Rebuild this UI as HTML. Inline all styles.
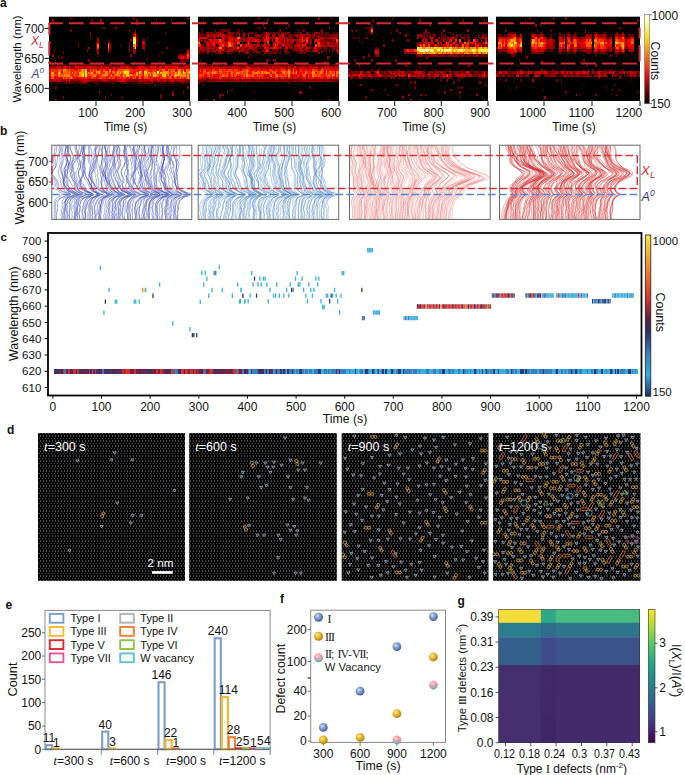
<!DOCTYPE html>
<html><head><meta charset="utf-8"><style>
html,body{margin:0;padding:0;background:#fff;width:685px;height:775px;overflow:hidden}
svg{display:block;font-family:"Liberation Sans", sans-serif}
</style></head><body>
<svg width="685" height="775" viewBox="0 0 685 775">
<defs><filter id="hb" x="-2%" y="-2%" width="104%" height="104%"><feGaussianBlur stdDeviation="0.35"/></filter></defs>
<text x="0" y="6.5" font-size="12" text-anchor="start" fill="#111" font-weight="bold" font-style="normal" >a</text>
<rect x="49" y="16.7" width="141" height="84.3" fill="#000"/>
<clipPath id="ch0"><rect x="49" y="16.7" width="141" height="84.3"/></clipPath>
<g clip-path="url(#ch0)" filter="url(#hb)">
<path fill="#740000" shape-rendering="crispEdges" d="M49 41.5h1.9v2.8h-1.9zM50.5 81.2h1.9v2.8h-1.9zM52 63.8h1.9v2.8h-1.9zM53.5 48.9h1.9v2.8h-1.9zM55 86.1h1.9v2.8h-1.9zM55 98.5h1.9v2.8h-1.9zM56.5 81.2h1.9v2.8h-1.9zM61 56.4h1.9v2.8h-1.9zM62.5 51.4h1.9v2.8h-1.9zM62.5 63.8h1.9v2.8h-1.9zM64 63.8h1.9v2.8h-1.9zM65.5 81.2h1.9v2.8h-1.9zM70 29.1h1.9v2.8h-1.9zM71.5 63.8h1.9v2.8h-1.9zM73 63.8h1.9v2.8h-1.9zM74.5 63.8h1.9v2.8h-1.9zM76 63.8h1.9v2.8h-1.9zM79 63.8h1.9v2.8h-1.9zM80.5 63.8h1.9v2.8h-1.9zM80.5 81.2h1.9v2.8h-1.9zM82 81.2h1.9v2.8h-1.9zM83.5 81.2h1.9v2.8h-1.9zM85 81.2h1.9v2.8h-1.9zM88 63.8h1.9v2.8h-1.9zM91 19.2h1.9v2.8h-1.9zM91 63.8h1.9v2.8h-1.9zM94 63.8h1.9v2.8h-1.9zM95.5 63.8h1.9v2.8h-1.9zM97 36.5h1.9v2.8h-1.9zM98.5 63.8h1.9v2.8h-1.9zM103 63.8h1.9v2.8h-1.9zM104.5 41.5h1.9v2.8h-1.9zM104.5 63.8h1.9v2.8h-1.9zM107.5 39h1.9v2.8h-1.9zM107.5 51.4h1.9v2.8h-1.9zM107.5 78.7h1.9v2.8h-1.9zM109 41.5h1.9v2.8h-1.9zM110.5 63.8h1.9v2.8h-1.9zM116.5 63.8h1.9v2.8h-1.9zM119.5 63.8h1.9v2.8h-1.9zM119.5 81.2h1.9v2.8h-1.9zM122.5 81.2h1.9v2.8h-1.9zM124 63.8h1.9v2.8h-1.9zM124 81.2h1.9v2.8h-1.9zM125.5 63.8h1.9v2.8h-1.9zM127 63.8h1.9v2.8h-1.9zM131.5 78.7h1.9v2.8h-1.9zM133 16.7h1.9v2.8h-1.9zM133 31.6h1.9v2.8h-1.9zM133 51.4h1.9v2.8h-1.9zM133 81.2h1.9v2.8h-1.9zM134.5 29.1h1.9v2.8h-1.9zM134.5 51.4h1.9v2.8h-1.9zM134.5 78.7h1.9v2.8h-1.9zM136 21.7h1.9v2.8h-1.9zM136 36.5h1.9v2.8h-1.9zM136 41.5h1.9v2.8h-1.9zM137.5 83.6h1.9v2.8h-1.9zM139 63.8h1.9v2.8h-1.9zM139 81.2h1.9v2.8h-1.9zM140.5 81.2h1.9v2.8h-1.9zM143.5 39h1.9v2.8h-1.9zM143.5 48.9h1.9v2.8h-1.9zM143.5 63.8h1.9v2.8h-1.9zM143.5 81.2h1.9v2.8h-1.9zM145 81.2h1.9v2.8h-1.9zM146.5 36.5h1.9v2.8h-1.9zM146.5 58.8h1.9v2.8h-1.9zM146.5 81.2h1.9v2.8h-1.9zM149.5 81.2h1.9v2.8h-1.9zM151 63.8h1.9v2.8h-1.9zM151 81.2h1.9v2.8h-1.9zM154 63.8h1.9v2.8h-1.9zM154 83.6h1.9v2.8h-1.9zM155.5 19.2h1.9v2.8h-1.9zM158.5 63.8h1.9v2.8h-1.9zM160 63.8h1.9v2.8h-1.9zM160 81.2h1.9v2.8h-1.9zM160 93.6h1.9v2.8h-1.9zM160 96h1.9v2.8h-1.9zM161.5 51.4h1.9v2.8h-1.9zM163 63.8h1.9v2.8h-1.9zM166 63.8h1.9v2.8h-1.9zM170.5 19.2h1.9v2.8h-1.9zM170.5 63.8h1.9v2.8h-1.9zM170.5 81.2h1.9v2.8h-1.9zM172 63.8h1.9v2.8h-1.9zM172 81.2h1.9v2.8h-1.9zM175 63.8h1.9v2.8h-1.9zM176.5 63.8h1.9v2.8h-1.9zM176.5 81.2h1.9v2.8h-1.9zM178 53.9h1.9v2.8h-1.9zM178 63.8h1.9v2.8h-1.9zM181 58.8h1.9v2.8h-1.9zM181 81.2h1.9v2.8h-1.9zM182.5 81.2h1.9v2.8h-1.9zM184 53.9h1.9v2.8h-1.9zM184 63.8h1.9v2.8h-1.9zM185.5 58.8h1.9v2.8h-1.9zM185.5 63.8h1.9v2.8h-1.9zM187 16.7h1.9v2.8h-1.9zM187 58.8h1.9v2.8h-1.9zM188.5 48.9h1.9v2.8h-1.9zM188.5 81.2h1.9v2.8h-1.9z"/>
<path fill="#910000" shape-rendering="crispEdges" d="M49 66.3h1.9v2.8h-1.9zM52 53.9h1.9v2.8h-1.9zM56.5 63.8h1.9v2.8h-1.9zM56.5 78.7h1.9v2.8h-1.9zM59.5 78.7h1.9v2.8h-1.9zM61 66.3h1.9v2.8h-1.9zM62.5 78.7h1.9v2.8h-1.9zM62.5 96h1.9v2.8h-1.9zM67 66.3h1.9v2.8h-1.9zM68.5 63.8h1.9v2.8h-1.9zM70 78.7h1.9v2.8h-1.9zM71.5 78.7h1.9v2.8h-1.9zM73 66.3h1.9v2.8h-1.9zM73 78.7h1.9v2.8h-1.9zM74.5 78.7h1.9v2.8h-1.9zM76 78.7h1.9v2.8h-1.9zM77.5 44h1.9v2.8h-1.9zM77.5 78.7h1.9v2.8h-1.9zM82 63.8h1.9v2.8h-1.9zM83.5 66.3h1.9v2.8h-1.9zM85 63.8h1.9v2.8h-1.9zM86.5 48.9h1.9v2.8h-1.9zM88 58.8h1.9v2.8h-1.9zM89.5 31.6h1.9v2.8h-1.9zM89.5 34.1h1.9v2.8h-1.9zM89.5 78.7h1.9v2.8h-1.9zM91 78.7h1.9v2.8h-1.9zM92.5 66.3h1.9v2.8h-1.9zM94 78.7h1.9v2.8h-1.9zM95.5 41.5h1.9v2.8h-1.9zM95.5 44h1.9v2.8h-1.9zM95.5 46.5h1.9v2.8h-1.9zM95.5 78.7h1.9v2.8h-1.9zM97 51.4h1.9v2.8h-1.9zM97 78.7h1.9v2.8h-1.9zM98.5 78.7h1.9v2.8h-1.9zM100 63.8h1.9v2.8h-1.9zM100 78.7h1.9v2.8h-1.9zM101.5 78.7h1.9v2.8h-1.9zM103 26.6h1.9v2.8h-1.9zM104.5 96h1.9v2.8h-1.9zM109 44h1.9v2.8h-1.9zM109 63.8h1.9v2.8h-1.9zM110.5 78.7h1.9v2.8h-1.9zM110.5 93.6h1.9v2.8h-1.9zM113.5 78.7h1.9v2.8h-1.9zM115 78.7h1.9v2.8h-1.9zM119.5 78.7h1.9v2.8h-1.9zM125.5 78.7h1.9v2.8h-1.9zM128.5 29.1h1.9v2.8h-1.9zM128.5 46.5h1.9v2.8h-1.9zM128.5 78.7h1.9v2.8h-1.9zM130 39h1.9v2.8h-1.9zM130 53.9h1.9v2.8h-1.9zM130 78.7h1.9v2.8h-1.9zM131.5 66.3h1.9v2.8h-1.9zM133 66.3h1.9v2.8h-1.9zM133 78.7h1.9v2.8h-1.9zM136 19.2h1.9v2.8h-1.9zM136 39h1.9v2.8h-1.9zM136 44h1.9v2.8h-1.9zM136 78.7h1.9v2.8h-1.9zM142 39h1.9v2.8h-1.9zM142 78.7h1.9v2.8h-1.9zM143.5 44h1.9v2.8h-1.9zM145 78.7h1.9v2.8h-1.9zM149.5 63.8h1.9v2.8h-1.9zM152.5 63.8h1.9v2.8h-1.9zM152.5 78.7h1.9v2.8h-1.9zM154 78.7h1.9v2.8h-1.9zM155.5 78.7h1.9v2.8h-1.9zM160 78.7h1.9v2.8h-1.9zM164.5 31.6h1.9v2.8h-1.9zM164.5 63.8h1.9v2.8h-1.9zM166 46.5h1.9v2.8h-1.9zM166 78.7h1.9v2.8h-1.9zM167.5 63.8h1.9v2.8h-1.9zM169 63.8h1.9v2.8h-1.9zM172 91.1h1.9v2.8h-1.9zM173.5 63.8h1.9v2.8h-1.9zM173.5 78.7h1.9v2.8h-1.9zM181 53.9h1.9v2.8h-1.9zM182.5 53.9h1.9v2.8h-1.9zM182.5 58.8h1.9v2.8h-1.9zM182.5 63.8h1.9v2.8h-1.9zM182.5 91.1h1.9v2.8h-1.9zM184 78.7h1.9v2.8h-1.9zM185.5 78.7h1.9v2.8h-1.9zM187 48.9h1.9v2.8h-1.9zM187 63.8h1.9v2.8h-1.9zM187 78.7h1.9v2.8h-1.9zM187 86.1h1.9v2.8h-1.9zM188.5 51.4h1.9v2.8h-1.9zM188.5 56.4h1.9v2.8h-1.9zM188.5 63.8h1.9v2.8h-1.9z"/>
<path fill="#ff0600" shape-rendering="crispEdges" d="M49 68.8h1.9v2.8h-1.9zM49 71.2h1.9v2.8h-1.9zM49 73.7h1.9v2.8h-1.9zM50.5 66.3h1.9v2.8h-1.9zM53.5 71.2h1.9v2.8h-1.9zM56.5 71.2h1.9v2.8h-1.9zM58 76.2h1.9v2.8h-1.9zM59.5 66.3h1.9v2.8h-1.9zM59.5 76.2h1.9v2.8h-1.9zM64 66.3h1.9v2.8h-1.9zM68.5 66.3h1.9v2.8h-1.9zM71.5 73.7h1.9v2.8h-1.9zM74.5 68.8h1.9v2.8h-1.9zM76 68.8h1.9v2.8h-1.9zM77.5 73.7h1.9v2.8h-1.9zM79 76.2h1.9v2.8h-1.9zM80.5 76.2h1.9v2.8h-1.9zM82 76.2h1.9v2.8h-1.9zM83.5 76.2h1.9v2.8h-1.9zM88 76.2h1.9v2.8h-1.9zM94 71.2h1.9v2.8h-1.9zM97 73.7h1.9v2.8h-1.9zM97 76.2h1.9v2.8h-1.9zM101.5 76.2h1.9v2.8h-1.9zM104.5 68.8h1.9v2.8h-1.9zM106 66.3h1.9v2.8h-1.9zM106 68.8h1.9v2.8h-1.9zM107.5 41.5h1.9v2.8h-1.9zM107.5 73.7h1.9v2.8h-1.9zM110.5 71.2h1.9v2.8h-1.9zM110.5 76.2h1.9v2.8h-1.9zM112 68.8h1.9v2.8h-1.9zM112 73.7h1.9v2.8h-1.9zM116.5 68.8h1.9v2.8h-1.9zM118 76.2h1.9v2.8h-1.9zM121 76.2h1.9v2.8h-1.9zM125.5 66.3h1.9v2.8h-1.9zM127 76.2h1.9v2.8h-1.9zM130 71.2h1.9v2.8h-1.9zM133 46.5h1.9v2.8h-1.9zM133 68.8h1.9v2.8h-1.9zM133 71.2h1.9v2.8h-1.9zM139 66.3h1.9v2.8h-1.9zM142 41.5h1.9v2.8h-1.9zM142 71.2h1.9v2.8h-1.9zM142 73.7h1.9v2.8h-1.9zM142 76.2h1.9v2.8h-1.9zM143.5 66.3h1.9v2.8h-1.9zM151 66.3h1.9v2.8h-1.9zM154 66.3h1.9v2.8h-1.9zM154 76.2h1.9v2.8h-1.9zM155.5 76.2h1.9v2.8h-1.9zM157 68.8h1.9v2.8h-1.9zM157 76.2h1.9v2.8h-1.9zM161.5 76.2h1.9v2.8h-1.9zM164.5 66.3h1.9v2.8h-1.9zM164.5 68.8h1.9v2.8h-1.9zM166 66.3h1.9v2.8h-1.9zM166 68.8h1.9v2.8h-1.9zM169 73.7h1.9v2.8h-1.9zM172 66.3h1.9v2.8h-1.9zM175 66.3h1.9v2.8h-1.9zM176.5 66.3h1.9v2.8h-1.9zM179.5 66.3h1.9v2.8h-1.9zM182.5 56.4h1.9v2.8h-1.9zM184 76.2h1.9v2.8h-1.9zM187 51.4h1.9v2.8h-1.9z"/>
<path fill="#cb0000" shape-rendering="crispEdges" d="M49 76.2h1.9v2.8h-1.9zM52 78.7h1.9v2.8h-1.9zM53.5 76.2h1.9v2.8h-1.9zM55 66.3h1.9v2.8h-1.9zM55 78.7h1.9v2.8h-1.9zM56.5 66.3h1.9v2.8h-1.9zM58 78.7h1.9v2.8h-1.9zM61 76.2h1.9v2.8h-1.9zM76 76.2h1.9v2.8h-1.9zM77.5 66.3h1.9v2.8h-1.9zM80.5 78.7h1.9v2.8h-1.9zM82 66.3h1.9v2.8h-1.9zM85 66.3h1.9v2.8h-1.9zM92.5 78.7h1.9v2.8h-1.9zM97 66.3h1.9v2.8h-1.9zM97 68.8h1.9v2.8h-1.9zM100 66.3h1.9v2.8h-1.9zM103 78.7h1.9v2.8h-1.9zM104.5 66.3h1.9v2.8h-1.9zM106 78.7h1.9v2.8h-1.9zM116.5 78.7h1.9v2.8h-1.9zM118 66.3h1.9v2.8h-1.9zM118 78.7h1.9v2.8h-1.9zM124 78.7h1.9v2.8h-1.9zM127 78.7h1.9v2.8h-1.9zM128.5 66.3h1.9v2.8h-1.9zM130 66.3h1.9v2.8h-1.9zM133 34.1h1.9v2.8h-1.9zM134.5 31.6h1.9v2.8h-1.9zM134.5 48.9h1.9v2.8h-1.9zM140.5 78.7h1.9v2.8h-1.9zM143.5 78.7h1.9v2.8h-1.9zM145 66.3h1.9v2.8h-1.9zM149.5 78.7h1.9v2.8h-1.9zM157 66.3h1.9v2.8h-1.9zM163 78.7h1.9v2.8h-1.9zM167.5 66.3h1.9v2.8h-1.9zM172 78.7h1.9v2.8h-1.9zM173.5 66.3h1.9v2.8h-1.9zM178 66.3h1.9v2.8h-1.9zM179.5 56.4h1.9v2.8h-1.9zM181 66.3h1.9v2.8h-1.9zM184 66.3h1.9v2.8h-1.9z"/>
<path fill="#ae0000" shape-rendering="crispEdges" d="M49 78.7h1.9v2.8h-1.9zM50.5 78.7h1.9v2.8h-1.9zM52 19.2h1.9v2.8h-1.9zM52 66.3h1.9v2.8h-1.9zM53.5 66.3h1.9v2.8h-1.9zM53.5 78.7h1.9v2.8h-1.9zM61 78.7h1.9v2.8h-1.9zM64 78.7h1.9v2.8h-1.9zM65.5 78.7h1.9v2.8h-1.9zM67 78.7h1.9v2.8h-1.9zM70 66.3h1.9v2.8h-1.9zM71.5 66.3h1.9v2.8h-1.9zM79 66.3h1.9v2.8h-1.9zM79 78.7h1.9v2.8h-1.9zM82 78.7h1.9v2.8h-1.9zM83.5 78.7h1.9v2.8h-1.9zM86.5 78.7h1.9v2.8h-1.9zM88 46.5h1.9v2.8h-1.9zM88 78.7h1.9v2.8h-1.9zM89.5 66.3h1.9v2.8h-1.9zM95.5 66.3h1.9v2.8h-1.9zM97 39h1.9v2.8h-1.9zM97 48.9h1.9v2.8h-1.9zM98.5 66.3h1.9v2.8h-1.9zM98.5 91.1h1.9v2.8h-1.9zM100 19.2h1.9v2.8h-1.9zM103 66.3h1.9v2.8h-1.9zM104.5 78.7h1.9v2.8h-1.9zM107.5 66.3h1.9v2.8h-1.9zM109 46.5h1.9v2.8h-1.9zM109 66.3h1.9v2.8h-1.9zM109 78.7h1.9v2.8h-1.9zM110.5 66.3h1.9v2.8h-1.9zM112 66.3h1.9v2.8h-1.9zM112 78.7h1.9v2.8h-1.9zM115 26.6h1.9v2.8h-1.9zM115 66.3h1.9v2.8h-1.9zM116.5 66.3h1.9v2.8h-1.9zM124 66.3h1.9v2.8h-1.9zM128.5 44h1.9v2.8h-1.9zM128.5 48.9h1.9v2.8h-1.9zM133 48.9h1.9v2.8h-1.9zM134.5 66.3h1.9v2.8h-1.9zM136 66.3h1.9v2.8h-1.9zM137.5 78.7h1.9v2.8h-1.9zM139 78.7h1.9v2.8h-1.9zM142 44h1.9v2.8h-1.9zM142 46.5h1.9v2.8h-1.9zM143.5 46.5h1.9v2.8h-1.9zM146.5 78.7h1.9v2.8h-1.9zM148 66.3h1.9v2.8h-1.9zM148 78.7h1.9v2.8h-1.9zM152.5 66.3h1.9v2.8h-1.9zM155.5 66.3h1.9v2.8h-1.9zM158.5 78.7h1.9v2.8h-1.9zM161.5 66.3h1.9v2.8h-1.9zM161.5 78.7h1.9v2.8h-1.9zM163 66.3h1.9v2.8h-1.9zM167.5 78.7h1.9v2.8h-1.9zM169 78.7h1.9v2.8h-1.9zM170.5 66.3h1.9v2.8h-1.9zM172 93.6h1.9v2.8h-1.9zM175 78.7h1.9v2.8h-1.9zM176.5 78.7h1.9v2.8h-1.9zM178 56.4h1.9v2.8h-1.9zM178 78.7h1.9v2.8h-1.9zM179.5 53.9h1.9v2.8h-1.9zM179.5 78.7h1.9v2.8h-1.9zM181 78.7h1.9v2.8h-1.9zM182.5 66.3h1.9v2.8h-1.9zM182.5 78.7h1.9v2.8h-1.9zM184 56.4h1.9v2.8h-1.9zM185.5 53.9h1.9v2.8h-1.9zM185.5 56.4h1.9v2.8h-1.9zM185.5 66.3h1.9v2.8h-1.9zM188.5 78.7h1.9v2.8h-1.9z"/>
<path fill="#570000" shape-rendering="crispEdges" d="M50.5 63.8h1.9v2.8h-1.9zM52 81.2h1.9v2.8h-1.9zM53.5 63.8h1.9v2.8h-1.9zM58 56.4h1.9v2.8h-1.9zM58 63.8h1.9v2.8h-1.9zM59.5 63.8h1.9v2.8h-1.9zM59.5 81.2h1.9v2.8h-1.9zM61 63.8h1.9v2.8h-1.9zM64 81.2h1.9v2.8h-1.9zM65.5 63.8h1.9v2.8h-1.9zM67 81.2h1.9v2.8h-1.9zM68.5 81.2h1.9v2.8h-1.9zM70 16.7h1.9v2.8h-1.9zM70 63.8h1.9v2.8h-1.9zM70 81.2h1.9v2.8h-1.9zM73 81.2h1.9v2.8h-1.9zM77.5 81.2h1.9v2.8h-1.9zM79 81.2h1.9v2.8h-1.9zM82 21.7h1.9v2.8h-1.9zM83.5 63.8h1.9v2.8h-1.9zM86.5 63.8h1.9v2.8h-1.9zM86.5 81.2h1.9v2.8h-1.9zM89.5 36.5h1.9v2.8h-1.9zM89.5 63.8h1.9v2.8h-1.9zM92.5 63.8h1.9v2.8h-1.9zM94 81.2h1.9v2.8h-1.9zM95.5 48.9h1.9v2.8h-1.9zM95.5 81.2h1.9v2.8h-1.9zM97 53.9h1.9v2.8h-1.9zM97 63.8h1.9v2.8h-1.9zM97 81.2h1.9v2.8h-1.9zM106 63.8h1.9v2.8h-1.9zM106 81.2h1.9v2.8h-1.9zM109 48.9h1.9v2.8h-1.9zM109 81.2h1.9v2.8h-1.9zM112 81.2h1.9v2.8h-1.9zM113.5 63.8h1.9v2.8h-1.9zM113.5 81.2h1.9v2.8h-1.9zM115 63.8h1.9v2.8h-1.9zM118 63.8h1.9v2.8h-1.9zM119.5 44h1.9v2.8h-1.9zM121 63.8h1.9v2.8h-1.9zM121 96h1.9v2.8h-1.9zM122.5 63.8h1.9v2.8h-1.9zM127 81.2h1.9v2.8h-1.9zM128.5 41.5h1.9v2.8h-1.9zM128.5 63.8h1.9v2.8h-1.9zM133 63.8h1.9v2.8h-1.9zM136 34.1h1.9v2.8h-1.9zM136 63.8h1.9v2.8h-1.9zM140.5 63.8h1.9v2.8h-1.9zM142 63.8h1.9v2.8h-1.9zM142 81.2h1.9v2.8h-1.9zM145 63.8h1.9v2.8h-1.9zM146.5 63.8h1.9v2.8h-1.9zM148 63.8h1.9v2.8h-1.9zM148 81.2h1.9v2.8h-1.9zM152.5 81.2h1.9v2.8h-1.9zM155.5 24.1h1.9v2.8h-1.9zM155.5 63.8h1.9v2.8h-1.9zM155.5 81.2h1.9v2.8h-1.9zM157 63.8h1.9v2.8h-1.9zM158.5 41.5h1.9v2.8h-1.9zM158.5 53.9h1.9v2.8h-1.9zM161.5 63.8h1.9v2.8h-1.9zM161.5 83.6h1.9v2.8h-1.9zM163 81.2h1.9v2.8h-1.9zM164.5 81.2h1.9v2.8h-1.9zM167.5 81.2h1.9v2.8h-1.9zM173.5 81.2h1.9v2.8h-1.9zM179.5 58.8h1.9v2.8h-1.9zM179.5 63.8h1.9v2.8h-1.9zM181 63.8h1.9v2.8h-1.9zM184 58.8h1.9v2.8h-1.9zM184 81.2h1.9v2.8h-1.9zM185.5 81.2h1.9v2.8h-1.9zM187 81.2h1.9v2.8h-1.9z"/>
<path fill="#ff4100" shape-rendering="crispEdges" d="M50.5 68.8h1.9v2.8h-1.9zM50.5 76.2h1.9v2.8h-1.9zM53.5 68.8h1.9v2.8h-1.9zM53.5 73.7h1.9v2.8h-1.9zM55 73.7h1.9v2.8h-1.9zM59.5 68.8h1.9v2.8h-1.9zM62.5 73.7h1.9v2.8h-1.9zM65.5 68.8h1.9v2.8h-1.9zM67 68.8h1.9v2.8h-1.9zM67 71.2h1.9v2.8h-1.9zM70 68.8h1.9v2.8h-1.9zM71.5 76.2h1.9v2.8h-1.9zM73 73.7h1.9v2.8h-1.9zM74.5 73.7h1.9v2.8h-1.9zM76 73.7h1.9v2.8h-1.9zM85 76.2h1.9v2.8h-1.9zM89.5 71.2h1.9v2.8h-1.9zM91 73.7h1.9v2.8h-1.9zM91 76.2h1.9v2.8h-1.9zM92.5 71.2h1.9v2.8h-1.9zM95.5 68.8h1.9v2.8h-1.9zM97 46.5h1.9v2.8h-1.9zM98.5 73.7h1.9v2.8h-1.9zM104.5 76.2h1.9v2.8h-1.9zM107.5 71.2h1.9v2.8h-1.9zM109 71.2h1.9v2.8h-1.9zM109 76.2h1.9v2.8h-1.9zM112 76.2h1.9v2.8h-1.9zM119.5 73.7h1.9v2.8h-1.9zM119.5 76.2h1.9v2.8h-1.9zM121 71.2h1.9v2.8h-1.9zM122.5 68.8h1.9v2.8h-1.9zM122.5 76.2h1.9v2.8h-1.9zM124 76.2h1.9v2.8h-1.9zM128.5 68.8h1.9v2.8h-1.9zM128.5 71.2h1.9v2.8h-1.9zM128.5 76.2h1.9v2.8h-1.9zM131.5 68.8h1.9v2.8h-1.9zM133 76.2h1.9v2.8h-1.9zM134.5 34.1h1.9v2.8h-1.9zM134.5 76.2h1.9v2.8h-1.9zM137.5 73.7h1.9v2.8h-1.9zM139 73.7h1.9v2.8h-1.9zM145 76.2h1.9v2.8h-1.9zM148 73.7h1.9v2.8h-1.9zM149.5 71.2h1.9v2.8h-1.9zM151 71.2h1.9v2.8h-1.9zM152.5 68.8h1.9v2.8h-1.9zM155.5 68.8h1.9v2.8h-1.9zM158.5 73.7h1.9v2.8h-1.9zM160 76.2h1.9v2.8h-1.9zM163 76.2h1.9v2.8h-1.9zM166 73.7h1.9v2.8h-1.9zM169 71.2h1.9v2.8h-1.9zM172 71.2h1.9v2.8h-1.9zM172 73.7h1.9v2.8h-1.9zM173.5 71.2h1.9v2.8h-1.9zM173.5 76.2h1.9v2.8h-1.9zM175 76.2h1.9v2.8h-1.9zM181 71.2h1.9v2.8h-1.9zM185.5 76.2h1.9v2.8h-1.9zM187 53.9h1.9v2.8h-1.9zM188.5 68.8h1.9v2.8h-1.9zM188.5 76.2h1.9v2.8h-1.9z"/>
<path fill="#ffb500" shape-rendering="crispEdges" d="M50.5 71.2h1.9v2.8h-1.9zM52 71.2h1.9v2.8h-1.9zM58 71.2h1.9v2.8h-1.9zM62.5 68.8h1.9v2.8h-1.9zM80.5 68.8h1.9v2.8h-1.9zM80.5 73.7h1.9v2.8h-1.9zM82 71.2h1.9v2.8h-1.9zM85 68.8h1.9v2.8h-1.9zM91 71.2h1.9v2.8h-1.9zM104.5 71.2h1.9v2.8h-1.9zM119.5 71.2h1.9v2.8h-1.9zM122.5 71.2h1.9v2.8h-1.9zM122.5 73.7h1.9v2.8h-1.9zM127 73.7h1.9v2.8h-1.9zM143.5 73.7h1.9v2.8h-1.9zM146.5 73.7h1.9v2.8h-1.9zM152.5 71.2h1.9v2.8h-1.9zM154 73.7h1.9v2.8h-1.9zM160 71.2h1.9v2.8h-1.9zM161.5 73.7h1.9v2.8h-1.9zM163 71.2h1.9v2.8h-1.9zM163 73.7h1.9v2.8h-1.9zM164.5 71.2h1.9v2.8h-1.9zM167.5 73.7h1.9v2.8h-1.9zM173.5 73.7h1.9v2.8h-1.9zM175 73.7h1.9v2.8h-1.9zM178 73.7h1.9v2.8h-1.9zM188.5 71.2h1.9v2.8h-1.9z"/>
<path fill="#ff9800" shape-rendering="crispEdges" d="M50.5 73.7h1.9v2.8h-1.9zM58 73.7h1.9v2.8h-1.9zM59.5 71.2h1.9v2.8h-1.9zM64 68.8h1.9v2.8h-1.9zM68.5 73.7h1.9v2.8h-1.9zM71.5 71.2h1.9v2.8h-1.9zM74.5 71.2h1.9v2.8h-1.9zM79 71.2h1.9v2.8h-1.9zM79 73.7h1.9v2.8h-1.9zM80.5 71.2h1.9v2.8h-1.9zM82 68.8h1.9v2.8h-1.9zM95.5 71.2h1.9v2.8h-1.9zM103 73.7h1.9v2.8h-1.9zM106 73.7h1.9v2.8h-1.9zM107.5 44h1.9v2.8h-1.9zM110.5 73.7h1.9v2.8h-1.9zM116.5 73.7h1.9v2.8h-1.9zM125.5 68.8h1.9v2.8h-1.9zM130 73.7h1.9v2.8h-1.9zM136 71.2h1.9v2.8h-1.9zM136 73.7h1.9v2.8h-1.9zM140.5 73.7h1.9v2.8h-1.9zM148 71.2h1.9v2.8h-1.9zM149.5 73.7h1.9v2.8h-1.9zM154 71.2h1.9v2.8h-1.9zM161.5 71.2h1.9v2.8h-1.9zM166 71.2h1.9v2.8h-1.9zM167.5 68.8h1.9v2.8h-1.9zM170.5 73.7h1.9v2.8h-1.9zM175 71.2h1.9v2.8h-1.9zM176.5 73.7h1.9v2.8h-1.9zM179.5 68.8h1.9v2.8h-1.9zM179.5 73.7h1.9v2.8h-1.9zM184 71.2h1.9v2.8h-1.9zM184 73.7h1.9v2.8h-1.9zM187 71.2h1.9v2.8h-1.9zM187 73.7h1.9v2.8h-1.9zM187 76.2h1.9v2.8h-1.9z"/>
<path fill="#ff2400" shape-rendering="crispEdges" d="M52 68.8h1.9v2.8h-1.9zM55 68.8h1.9v2.8h-1.9zM55 71.2h1.9v2.8h-1.9zM56.5 68.8h1.9v2.8h-1.9zM56.5 73.7h1.9v2.8h-1.9zM61 68.8h1.9v2.8h-1.9zM64 76.2h1.9v2.8h-1.9zM67 76.2h1.9v2.8h-1.9zM70 71.2h1.9v2.8h-1.9zM70 73.7h1.9v2.8h-1.9zM71.5 68.8h1.9v2.8h-1.9zM73 68.8h1.9v2.8h-1.9zM73 71.2h1.9v2.8h-1.9zM74.5 76.2h1.9v2.8h-1.9zM76 71.2h1.9v2.8h-1.9zM77.5 71.2h1.9v2.8h-1.9zM77.5 76.2h1.9v2.8h-1.9zM79 68.8h1.9v2.8h-1.9zM83.5 73.7h1.9v2.8h-1.9zM86.5 71.2h1.9v2.8h-1.9zM88 73.7h1.9v2.8h-1.9zM91 68.8h1.9v2.8h-1.9zM92.5 76.2h1.9v2.8h-1.9zM94 68.8h1.9v2.8h-1.9zM94 76.2h1.9v2.8h-1.9zM98.5 76.2h1.9v2.8h-1.9zM100 68.8h1.9v2.8h-1.9zM100 71.2h1.9v2.8h-1.9zM100 73.7h1.9v2.8h-1.9zM101.5 71.2h1.9v2.8h-1.9zM103 71.2h1.9v2.8h-1.9zM103 76.2h1.9v2.8h-1.9zM107.5 76.2h1.9v2.8h-1.9zM109 73.7h1.9v2.8h-1.9zM113.5 68.8h1.9v2.8h-1.9zM113.5 76.2h1.9v2.8h-1.9zM115 71.2h1.9v2.8h-1.9zM116.5 76.2h1.9v2.8h-1.9zM121 73.7h1.9v2.8h-1.9zM130 68.8h1.9v2.8h-1.9zM131.5 71.2h1.9v2.8h-1.9zM131.5 76.2h1.9v2.8h-1.9zM133 73.7h1.9v2.8h-1.9zM134.5 68.8h1.9v2.8h-1.9zM134.5 71.2h1.9v2.8h-1.9zM136 68.8h1.9v2.8h-1.9zM137.5 71.2h1.9v2.8h-1.9zM137.5 76.2h1.9v2.8h-1.9zM139 68.8h1.9v2.8h-1.9zM143.5 68.8h1.9v2.8h-1.9zM148 68.8h1.9v2.8h-1.9zM148 76.2h1.9v2.8h-1.9zM151 68.8h1.9v2.8h-1.9zM151 73.7h1.9v2.8h-1.9zM151 76.2h1.9v2.8h-1.9zM154 68.8h1.9v2.8h-1.9zM155.5 71.2h1.9v2.8h-1.9zM158.5 71.2h1.9v2.8h-1.9zM160 68.8h1.9v2.8h-1.9zM160 73.7h1.9v2.8h-1.9zM166 76.2h1.9v2.8h-1.9zM167.5 76.2h1.9v2.8h-1.9zM169 68.8h1.9v2.8h-1.9zM170.5 76.2h1.9v2.8h-1.9zM176.5 68.8h1.9v2.8h-1.9zM176.5 71.2h1.9v2.8h-1.9zM178 76.2h1.9v2.8h-1.9zM181 68.8h1.9v2.8h-1.9zM181 76.2h1.9v2.8h-1.9zM185.5 71.2h1.9v2.8h-1.9zM185.5 73.7h1.9v2.8h-1.9zM187 56.4h1.9v2.8h-1.9zM188.5 73.7h1.9v2.8h-1.9z"/>
<path fill="#ff7b00" shape-rendering="crispEdges" d="M52 73.7h1.9v2.8h-1.9zM62.5 71.2h1.9v2.8h-1.9zM62.5 76.2h1.9v2.8h-1.9zM64 73.7h1.9v2.8h-1.9zM65.5 71.2h1.9v2.8h-1.9zM65.5 73.7h1.9v2.8h-1.9zM65.5 76.2h1.9v2.8h-1.9zM67 73.7h1.9v2.8h-1.9zM68.5 71.2h1.9v2.8h-1.9zM70 76.2h1.9v2.8h-1.9zM89.5 68.8h1.9v2.8h-1.9zM89.5 73.7h1.9v2.8h-1.9zM92.5 73.7h1.9v2.8h-1.9zM94 73.7h1.9v2.8h-1.9zM97 44h1.9v2.8h-1.9zM97 71.2h1.9v2.8h-1.9zM104.5 73.7h1.9v2.8h-1.9zM106 71.2h1.9v2.8h-1.9zM109 68.8h1.9v2.8h-1.9zM115 73.7h1.9v2.8h-1.9zM127 68.8h1.9v2.8h-1.9zM128.5 73.7h1.9v2.8h-1.9zM133 44h1.9v2.8h-1.9zM145 73.7h1.9v2.8h-1.9zM155.5 73.7h1.9v2.8h-1.9zM161.5 68.8h1.9v2.8h-1.9zM163 68.8h1.9v2.8h-1.9zM167.5 71.2h1.9v2.8h-1.9zM173.5 68.8h1.9v2.8h-1.9zM178 68.8h1.9v2.8h-1.9zM179.5 71.2h1.9v2.8h-1.9zM179.5 76.2h1.9v2.8h-1.9zM181 73.7h1.9v2.8h-1.9zM182.5 73.7h1.9v2.8h-1.9zM185.5 68.8h1.9v2.8h-1.9z"/>
<path fill="#ff5e00" shape-rendering="crispEdges" d="M52 76.2h1.9v2.8h-1.9zM58 68.8h1.9v2.8h-1.9zM59.5 73.7h1.9v2.8h-1.9zM61 73.7h1.9v2.8h-1.9zM64 71.2h1.9v2.8h-1.9zM68.5 68.8h1.9v2.8h-1.9zM68.5 76.2h1.9v2.8h-1.9zM77.5 68.8h1.9v2.8h-1.9zM83.5 68.8h1.9v2.8h-1.9zM83.5 71.2h1.9v2.8h-1.9zM86.5 73.7h1.9v2.8h-1.9zM88 71.2h1.9v2.8h-1.9zM92.5 68.8h1.9v2.8h-1.9zM95.5 73.7h1.9v2.8h-1.9zM98.5 68.8h1.9v2.8h-1.9zM100 76.2h1.9v2.8h-1.9zM101.5 73.7h1.9v2.8h-1.9zM103 68.8h1.9v2.8h-1.9zM107.5 46.5h1.9v2.8h-1.9zM112 71.2h1.9v2.8h-1.9zM113.5 71.2h1.9v2.8h-1.9zM113.5 73.7h1.9v2.8h-1.9zM118 68.8h1.9v2.8h-1.9zM118 71.2h1.9v2.8h-1.9zM118 73.7h1.9v2.8h-1.9zM119.5 68.8h1.9v2.8h-1.9zM121 68.8h1.9v2.8h-1.9zM124 68.8h1.9v2.8h-1.9zM124 73.7h1.9v2.8h-1.9zM131.5 73.7h1.9v2.8h-1.9zM134.5 73.7h1.9v2.8h-1.9zM139 76.2h1.9v2.8h-1.9zM140.5 68.8h1.9v2.8h-1.9zM140.5 71.2h1.9v2.8h-1.9zM143.5 76.2h1.9v2.8h-1.9zM145 68.8h1.9v2.8h-1.9zM146.5 68.8h1.9v2.8h-1.9zM146.5 71.2h1.9v2.8h-1.9zM146.5 76.2h1.9v2.8h-1.9zM157 73.7h1.9v2.8h-1.9zM158.5 68.8h1.9v2.8h-1.9zM164.5 76.2h1.9v2.8h-1.9zM169 76.2h1.9v2.8h-1.9zM170.5 68.8h1.9v2.8h-1.9zM170.5 71.2h1.9v2.8h-1.9zM172 68.8h1.9v2.8h-1.9zM182.5 68.8h1.9v2.8h-1.9zM182.5 76.2h1.9v2.8h-1.9zM187 68.8h1.9v2.8h-1.9z"/>
<path fill="#e80000" shape-rendering="crispEdges" d="M55 76.2h1.9v2.8h-1.9zM56.5 76.2h1.9v2.8h-1.9zM58 66.3h1.9v2.8h-1.9zM61 71.2h1.9v2.8h-1.9zM62.5 66.3h1.9v2.8h-1.9zM65.5 66.3h1.9v2.8h-1.9zM68.5 78.7h1.9v2.8h-1.9zM73 76.2h1.9v2.8h-1.9zM74.5 66.3h1.9v2.8h-1.9zM76 66.3h1.9v2.8h-1.9zM80.5 66.3h1.9v2.8h-1.9zM85 78.7h1.9v2.8h-1.9zM86.5 66.3h1.9v2.8h-1.9zM86.5 68.8h1.9v2.8h-1.9zM86.5 76.2h1.9v2.8h-1.9zM88 66.3h1.9v2.8h-1.9zM88 68.8h1.9v2.8h-1.9zM89.5 76.2h1.9v2.8h-1.9zM91 66.3h1.9v2.8h-1.9zM94 66.3h1.9v2.8h-1.9zM95.5 76.2h1.9v2.8h-1.9zM97 41.5h1.9v2.8h-1.9zM101.5 66.3h1.9v2.8h-1.9zM101.5 68.8h1.9v2.8h-1.9zM106 76.2h1.9v2.8h-1.9zM107.5 48.9h1.9v2.8h-1.9zM107.5 68.8h1.9v2.8h-1.9zM110.5 68.8h1.9v2.8h-1.9zM113.5 66.3h1.9v2.8h-1.9zM115 68.8h1.9v2.8h-1.9zM115 76.2h1.9v2.8h-1.9zM119.5 66.3h1.9v2.8h-1.9zM121 66.3h1.9v2.8h-1.9zM121 78.7h1.9v2.8h-1.9zM122.5 66.3h1.9v2.8h-1.9zM122.5 78.7h1.9v2.8h-1.9zM125.5 76.2h1.9v2.8h-1.9zM127 66.3h1.9v2.8h-1.9zM130 76.2h1.9v2.8h-1.9zM136 76.2h1.9v2.8h-1.9zM137.5 66.3h1.9v2.8h-1.9zM137.5 68.8h1.9v2.8h-1.9zM140.5 66.3h1.9v2.8h-1.9zM140.5 76.2h1.9v2.8h-1.9zM142 66.3h1.9v2.8h-1.9zM142 68.8h1.9v2.8h-1.9zM143.5 41.5h1.9v2.8h-1.9zM146.5 66.3h1.9v2.8h-1.9zM149.5 66.3h1.9v2.8h-1.9zM149.5 68.8h1.9v2.8h-1.9zM149.5 76.2h1.9v2.8h-1.9zM151 78.7h1.9v2.8h-1.9zM152.5 76.2h1.9v2.8h-1.9zM157 78.7h1.9v2.8h-1.9zM158.5 66.3h1.9v2.8h-1.9zM158.5 76.2h1.9v2.8h-1.9zM160 66.3h1.9v2.8h-1.9zM164.5 78.7h1.9v2.8h-1.9zM169 66.3h1.9v2.8h-1.9zM170.5 78.7h1.9v2.8h-1.9zM172 76.2h1.9v2.8h-1.9zM175 68.8h1.9v2.8h-1.9zM176.5 76.2h1.9v2.8h-1.9zM181 56.4h1.9v2.8h-1.9zM184 68.8h1.9v2.8h-1.9zM187 66.3h1.9v2.8h-1.9zM188.5 53.9h1.9v2.8h-1.9zM188.5 66.3h1.9v2.8h-1.9z"/>
<path fill="#ffd200" shape-rendering="crispEdges" d="M82 73.7h1.9v2.8h-1.9zM98.5 71.2h1.9v2.8h-1.9zM125.5 71.2h1.9v2.8h-1.9zM125.5 73.7h1.9v2.8h-1.9zM133 36.5h1.9v2.8h-1.9zM134.5 36.5h1.9v2.8h-1.9zM134.5 44h1.9v2.8h-1.9zM139 71.2h1.9v2.8h-1.9zM143.5 71.2h1.9v2.8h-1.9zM145 71.2h1.9v2.8h-1.9zM152.5 73.7h1.9v2.8h-1.9zM178 71.2h1.9v2.8h-1.9z"/>
<path fill="#ffff12" shape-rendering="crispEdges" d="M85 71.2h1.9v2.8h-1.9zM116.5 71.2h1.9v2.8h-1.9zM133 41.5h1.9v2.8h-1.9zM157 71.2h1.9v2.8h-1.9z"/>
<path fill="#ffef00" shape-rendering="crispEdges" d="M85 73.7h1.9v2.8h-1.9zM124 71.2h1.9v2.8h-1.9zM127 71.2h1.9v2.8h-1.9zM133 39h1.9v2.8h-1.9zM164.5 73.7h1.9v2.8h-1.9zM182.5 71.2h1.9v2.8h-1.9z"/>
<path fill="#ffff88" shape-rendering="crispEdges" d="M134.5 39h1.9v2.8h-1.9z"/>
<path fill="#ffffff" shape-rendering="crispEdges" d="M134.5 41.5h1.9v2.8h-1.9z"/>
<path fill="#ffff3a" shape-rendering="crispEdges" d="M134.5 46.5h1.9v2.8h-1.9z"/>
</g>
<line x1="96" y1="101" x2="96" y2="106" stroke="#111" stroke-width="1"/>
<text x="98.3" y="116.8" font-size="12" text-anchor="end" fill="#111" font-weight="normal" font-style="normal" >100</text>
<line x1="143" y1="101" x2="143" y2="106" stroke="#111" stroke-width="1"/>
<text x="145.3" y="116.8" font-size="12" text-anchor="end" fill="#111" font-weight="normal" font-style="normal" >200</text>
<line x1="190" y1="101" x2="190" y2="106" stroke="#111" stroke-width="1"/>
<text x="192.3" y="116.8" font-size="12" text-anchor="end" fill="#111" font-weight="normal" font-style="normal" >300</text>
<text x="125.5" y="130.5" font-size="12" text-anchor="middle" fill="#111" font-weight="normal" font-style="normal" >Time (s)</text>
<rect x="198" y="16.7" width="141" height="84.3" fill="#000"/>
<clipPath id="ch1"><rect x="198" y="16.7" width="141" height="84.3"/></clipPath>
<g clip-path="url(#ch1)" filter="url(#hb)">
<path fill="#910000" shape-rendering="crispEdges" d="M198 31.6h1.9v2.8h-1.9zM198 34.1h1.9v2.8h-1.9zM198 46.5h1.9v2.8h-1.9zM198 48.9h1.9v2.8h-1.9zM198 51.4h1.9v2.8h-1.9zM198 63.8h1.9v2.8h-1.9zM198 78.7h1.9v2.8h-1.9zM199.5 41.5h1.9v2.8h-1.9zM199.5 48.9h1.9v2.8h-1.9zM199.5 78.7h1.9v2.8h-1.9zM201 44h1.9v2.8h-1.9zM201 78.7h1.9v2.8h-1.9zM202.5 44h1.9v2.8h-1.9zM202.5 48.9h1.9v2.8h-1.9zM202.5 63.8h1.9v2.8h-1.9zM204 39h1.9v2.8h-1.9zM204 48.9h1.9v2.8h-1.9zM205.5 63.8h1.9v2.8h-1.9zM207 31.6h1.9v2.8h-1.9zM207 39h1.9v2.8h-1.9zM207 51.4h1.9v2.8h-1.9zM207 76.2h1.9v2.8h-1.9zM208.5 46.5h1.9v2.8h-1.9zM208.5 78.7h1.9v2.8h-1.9zM210 34.1h1.9v2.8h-1.9zM211.5 34.1h1.9v2.8h-1.9zM211.5 63.8h1.9v2.8h-1.9zM213 36.5h1.9v2.8h-1.9zM213 46.5h1.9v2.8h-1.9zM214.5 41.5h1.9v2.8h-1.9zM216 31.6h1.9v2.8h-1.9zM217.5 31.6h1.9v2.8h-1.9zM217.5 44h1.9v2.8h-1.9zM217.5 51.4h1.9v2.8h-1.9zM217.5 66.3h1.9v2.8h-1.9zM219 51.4h1.9v2.8h-1.9zM219 93.6h1.9v2.8h-1.9zM220.5 48.9h1.9v2.8h-1.9zM220.5 51.4h1.9v2.8h-1.9zM220.5 78.7h1.9v2.8h-1.9zM222 46.5h1.9v2.8h-1.9zM222 78.7h1.9v2.8h-1.9zM222 93.6h1.9v2.8h-1.9zM223.5 48.9h1.9v2.8h-1.9zM223.5 78.7h1.9v2.8h-1.9zM225 34.1h1.9v2.8h-1.9zM225 36.5h1.9v2.8h-1.9zM225 63.8h1.9v2.8h-1.9zM225 78.7h1.9v2.8h-1.9zM226.5 51.4h1.9v2.8h-1.9zM226.5 91.1h1.9v2.8h-1.9zM231 34.1h1.9v2.8h-1.9zM231 46.5h1.9v2.8h-1.9zM231 78.7h1.9v2.8h-1.9zM232.5 36.5h1.9v2.8h-1.9zM232.5 39h1.9v2.8h-1.9zM232.5 48.9h1.9v2.8h-1.9zM234 39h1.9v2.8h-1.9zM234 78.7h1.9v2.8h-1.9zM235.5 34.1h1.9v2.8h-1.9zM235.5 36.5h1.9v2.8h-1.9zM235.5 41.5h1.9v2.8h-1.9zM237 31.6h1.9v2.8h-1.9zM238.5 31.6h1.9v2.8h-1.9zM238.5 46.5h1.9v2.8h-1.9zM238.5 51.4h1.9v2.8h-1.9zM238.5 78.7h1.9v2.8h-1.9zM240 46.5h1.9v2.8h-1.9zM241.5 41.5h1.9v2.8h-1.9zM243 46.5h1.9v2.8h-1.9zM243 78.7h1.9v2.8h-1.9zM244.5 63.8h1.9v2.8h-1.9zM244.5 66.3h1.9v2.8h-1.9zM244.5 78.7h1.9v2.8h-1.9zM246 36.5h1.9v2.8h-1.9zM246 41.5h1.9v2.8h-1.9zM246 46.5h1.9v2.8h-1.9zM246 48.9h1.9v2.8h-1.9zM246 63.8h1.9v2.8h-1.9zM246 78.7h1.9v2.8h-1.9zM249 41.5h1.9v2.8h-1.9zM250.5 41.5h1.9v2.8h-1.9zM250.5 46.5h1.9v2.8h-1.9zM252 48.9h1.9v2.8h-1.9zM252 63.8h1.9v2.8h-1.9zM253.5 41.5h1.9v2.8h-1.9zM253.5 46.5h1.9v2.8h-1.9zM253.5 48.9h1.9v2.8h-1.9zM255 34.1h1.9v2.8h-1.9zM256.5 44h1.9v2.8h-1.9zM256.5 48.9h1.9v2.8h-1.9zM256.5 78.7h1.9v2.8h-1.9zM258 34.1h1.9v2.8h-1.9zM258 41.5h1.9v2.8h-1.9zM258 78.7h1.9v2.8h-1.9zM259.5 66.3h1.9v2.8h-1.9zM261 78.7h1.9v2.8h-1.9zM264 26.6h1.9v2.8h-1.9zM264 34.1h1.9v2.8h-1.9zM264 36.5h1.9v2.8h-1.9zM264 48.9h1.9v2.8h-1.9zM264 51.4h1.9v2.8h-1.9zM265.5 44h1.9v2.8h-1.9zM265.5 51.4h1.9v2.8h-1.9zM267 31.6h1.9v2.8h-1.9zM267 58.8h1.9v2.8h-1.9zM267 63.8h1.9v2.8h-1.9zM267 66.3h1.9v2.8h-1.9zM267 78.7h1.9v2.8h-1.9zM270 36.5h1.9v2.8h-1.9zM270 63.8h1.9v2.8h-1.9zM270 66.3h1.9v2.8h-1.9zM271.5 34.1h1.9v2.8h-1.9zM271.5 36.5h1.9v2.8h-1.9zM271.5 46.5h1.9v2.8h-1.9zM271.5 63.8h1.9v2.8h-1.9zM271.5 78.7h1.9v2.8h-1.9zM273 31.6h1.9v2.8h-1.9zM273 58.8h1.9v2.8h-1.9zM273 76.2h1.9v2.8h-1.9zM274.5 34.1h1.9v2.8h-1.9zM274.5 78.7h1.9v2.8h-1.9zM276 48.9h1.9v2.8h-1.9zM276 63.8h1.9v2.8h-1.9zM276 78.7h1.9v2.8h-1.9zM277.5 31.6h1.9v2.8h-1.9zM277.5 46.5h1.9v2.8h-1.9zM277.5 78.7h1.9v2.8h-1.9zM279 29.1h1.9v2.8h-1.9zM279 39h1.9v2.8h-1.9zM279 44h1.9v2.8h-1.9zM280.5 31.6h1.9v2.8h-1.9zM280.5 41.5h1.9v2.8h-1.9zM280.5 44h1.9v2.8h-1.9zM280.5 78.7h1.9v2.8h-1.9zM282 31.6h1.9v2.8h-1.9zM282 39h1.9v2.8h-1.9zM283.5 48.9h1.9v2.8h-1.9zM285 66.3h1.9v2.8h-1.9zM285 76.2h1.9v2.8h-1.9zM285 78.7h1.9v2.8h-1.9zM286.5 44h1.9v2.8h-1.9zM286.5 48.9h1.9v2.8h-1.9zM286.5 78.7h1.9v2.8h-1.9zM288 41.5h1.9v2.8h-1.9zM288 63.8h1.9v2.8h-1.9zM289.5 34.1h1.9v2.8h-1.9zM289.5 46.5h1.9v2.8h-1.9zM289.5 66.3h1.9v2.8h-1.9zM291 46.5h1.9v2.8h-1.9zM292.5 78.7h1.9v2.8h-1.9zM294 46.5h1.9v2.8h-1.9zM294 78.7h1.9v2.8h-1.9zM295.5 34.1h1.9v2.8h-1.9zM295.5 39h1.9v2.8h-1.9zM295.5 44h1.9v2.8h-1.9zM295.5 46.5h1.9v2.8h-1.9zM295.5 48.9h1.9v2.8h-1.9zM297 41.5h1.9v2.8h-1.9zM297 46.5h1.9v2.8h-1.9zM297 48.9h1.9v2.8h-1.9zM297 66.3h1.9v2.8h-1.9zM297 76.2h1.9v2.8h-1.9zM298.5 36.5h1.9v2.8h-1.9zM298.5 48.9h1.9v2.8h-1.9zM298.5 78.7h1.9v2.8h-1.9zM298.5 91.1h1.9v2.8h-1.9zM300 31.6h1.9v2.8h-1.9zM300 44h1.9v2.8h-1.9zM300 51.4h1.9v2.8h-1.9zM301.5 48.9h1.9v2.8h-1.9zM301.5 78.7h1.9v2.8h-1.9zM303 36.5h1.9v2.8h-1.9zM304.5 46.5h1.9v2.8h-1.9zM304.5 78.7h1.9v2.8h-1.9zM306 31.6h1.9v2.8h-1.9zM306 34.1h1.9v2.8h-1.9zM306 78.7h1.9v2.8h-1.9zM307.5 34.1h1.9v2.8h-1.9zM307.5 46.5h1.9v2.8h-1.9zM307.5 78.7h1.9v2.8h-1.9zM309 34.1h1.9v2.8h-1.9zM309 36.5h1.9v2.8h-1.9zM309 39h1.9v2.8h-1.9zM309 63.8h1.9v2.8h-1.9zM309 78.7h1.9v2.8h-1.9zM310.5 39h1.9v2.8h-1.9zM310.5 78.7h1.9v2.8h-1.9zM310.5 98.5h1.9v2.8h-1.9zM312 34.1h1.9v2.8h-1.9zM313.5 63.8h1.9v2.8h-1.9zM315 31.6h1.9v2.8h-1.9zM316.5 31.6h1.9v2.8h-1.9zM316.5 78.7h1.9v2.8h-1.9zM318 16.7h1.9v2.8h-1.9zM318 34.1h1.9v2.8h-1.9zM318 46.5h1.9v2.8h-1.9zM318 51.4h1.9v2.8h-1.9zM318 66.3h1.9v2.8h-1.9zM318 78.7h1.9v2.8h-1.9zM319.5 34.1h1.9v2.8h-1.9zM319.5 36.5h1.9v2.8h-1.9zM319.5 78.7h1.9v2.8h-1.9zM321 29.1h1.9v2.8h-1.9zM321 31.6h1.9v2.8h-1.9zM321 39h1.9v2.8h-1.9zM321 41.5h1.9v2.8h-1.9zM321 78.7h1.9v2.8h-1.9zM322.5 41.5h1.9v2.8h-1.9zM322.5 76.2h1.9v2.8h-1.9zM324 39h1.9v2.8h-1.9zM324 44h1.9v2.8h-1.9zM324 61.3h1.9v2.8h-1.9zM325.5 44h1.9v2.8h-1.9zM325.5 46.5h1.9v2.8h-1.9zM325.5 78.7h1.9v2.8h-1.9zM327 39h1.9v2.8h-1.9zM327 44h1.9v2.8h-1.9zM327 78.7h1.9v2.8h-1.9zM328.5 78.7h1.9v2.8h-1.9zM330 41.5h1.9v2.8h-1.9zM331.5 34.1h1.9v2.8h-1.9zM331.5 39h1.9v2.8h-1.9zM331.5 78.7h1.9v2.8h-1.9zM333 34.1h1.9v2.8h-1.9zM334.5 41.5h1.9v2.8h-1.9zM334.5 44h1.9v2.8h-1.9zM336 46.5h1.9v2.8h-1.9zM337.5 34.1h1.9v2.8h-1.9zM337.5 46.5h1.9v2.8h-1.9zM337.5 51.4h1.9v2.8h-1.9zM337.5 63.8h1.9v2.8h-1.9z"/>
<path fill="#ae0000" shape-rendering="crispEdges" d="M198 36.5h1.9v2.8h-1.9zM198 66.3h1.9v2.8h-1.9zM201 46.5h1.9v2.8h-1.9zM201 48.9h1.9v2.8h-1.9zM201 76.2h1.9v2.8h-1.9zM202.5 78.7h1.9v2.8h-1.9zM204 46.5h1.9v2.8h-1.9zM204 66.3h1.9v2.8h-1.9zM205.5 36.5h1.9v2.8h-1.9zM205.5 76.2h1.9v2.8h-1.9zM205.5 98.5h1.9v2.8h-1.9zM207 36.5h1.9v2.8h-1.9zM207 44h1.9v2.8h-1.9zM208.5 41.5h1.9v2.8h-1.9zM208.5 66.3h1.9v2.8h-1.9zM210 36.5h1.9v2.8h-1.9zM210 44h1.9v2.8h-1.9zM210 46.5h1.9v2.8h-1.9zM210 66.3h1.9v2.8h-1.9zM211.5 39h1.9v2.8h-1.9zM211.5 44h1.9v2.8h-1.9zM211.5 48.9h1.9v2.8h-1.9zM211.5 76.2h1.9v2.8h-1.9zM213 48.9h1.9v2.8h-1.9zM213 66.3h1.9v2.8h-1.9zM213 98.5h1.9v2.8h-1.9zM214.5 34.1h1.9v2.8h-1.9zM214.5 44h1.9v2.8h-1.9zM214.5 46.5h1.9v2.8h-1.9zM216 34.1h1.9v2.8h-1.9zM216 46.5h1.9v2.8h-1.9zM216 48.9h1.9v2.8h-1.9zM216 78.7h1.9v2.8h-1.9zM217.5 36.5h1.9v2.8h-1.9zM217.5 46.5h1.9v2.8h-1.9zM217.5 48.9h1.9v2.8h-1.9zM219 34.1h1.9v2.8h-1.9zM219 78.7h1.9v2.8h-1.9zM220.5 31.6h1.9v2.8h-1.9zM222 76.2h1.9v2.8h-1.9zM223.5 39h1.9v2.8h-1.9zM223.5 46.5h1.9v2.8h-1.9zM225 66.3h1.9v2.8h-1.9zM226.5 36.5h1.9v2.8h-1.9zM226.5 41.5h1.9v2.8h-1.9zM226.5 48.9h1.9v2.8h-1.9zM226.5 66.3h1.9v2.8h-1.9zM228 31.6h1.9v2.8h-1.9zM228 34.1h1.9v2.8h-1.9zM228 66.3h1.9v2.8h-1.9zM229.5 78.7h1.9v2.8h-1.9zM231 48.9h1.9v2.8h-1.9zM234 36.5h1.9v2.8h-1.9zM234 44h1.9v2.8h-1.9zM235.5 46.5h1.9v2.8h-1.9zM235.5 66.3h1.9v2.8h-1.9zM235.5 78.7h1.9v2.8h-1.9zM237 44h1.9v2.8h-1.9zM237 78.7h1.9v2.8h-1.9zM238.5 39h1.9v2.8h-1.9zM238.5 66.3h1.9v2.8h-1.9zM240 39h1.9v2.8h-1.9zM240 48.9h1.9v2.8h-1.9zM240 66.3h1.9v2.8h-1.9zM240 68.8h1.9v2.8h-1.9zM241.5 44h1.9v2.8h-1.9zM241.5 66.3h1.9v2.8h-1.9zM241.5 78.7h1.9v2.8h-1.9zM243 34.1h1.9v2.8h-1.9zM243 36.5h1.9v2.8h-1.9zM243 39h1.9v2.8h-1.9zM243 48.9h1.9v2.8h-1.9zM243 66.3h1.9v2.8h-1.9zM246 39h1.9v2.8h-1.9zM246 51.4h1.9v2.8h-1.9zM247.5 48.9h1.9v2.8h-1.9zM249 36.5h1.9v2.8h-1.9zM249 78.7h1.9v2.8h-1.9zM250.5 36.5h1.9v2.8h-1.9zM250.5 39h1.9v2.8h-1.9zM250.5 66.3h1.9v2.8h-1.9zM252 36.5h1.9v2.8h-1.9zM252 66.3h1.9v2.8h-1.9zM253.5 66.3h1.9v2.8h-1.9zM255 36.5h1.9v2.8h-1.9zM255 46.5h1.9v2.8h-1.9zM255 66.3h1.9v2.8h-1.9zM256.5 34.1h1.9v2.8h-1.9zM256.5 39h1.9v2.8h-1.9zM256.5 76.2h1.9v2.8h-1.9zM259.5 68.8h1.9v2.8h-1.9zM261 66.3h1.9v2.8h-1.9zM262.5 44h1.9v2.8h-1.9zM262.5 66.3h1.9v2.8h-1.9zM265.5 39h1.9v2.8h-1.9zM265.5 46.5h1.9v2.8h-1.9zM267 44h1.9v2.8h-1.9zM268.5 34.1h1.9v2.8h-1.9zM268.5 36.5h1.9v2.8h-1.9zM268.5 39h1.9v2.8h-1.9zM268.5 66.3h1.9v2.8h-1.9zM268.5 76.2h1.9v2.8h-1.9zM271.5 48.9h1.9v2.8h-1.9zM273 34.1h1.9v2.8h-1.9zM274.5 66.3h1.9v2.8h-1.9zM276 66.3h1.9v2.8h-1.9zM277.5 34.1h1.9v2.8h-1.9zM279 34.1h1.9v2.8h-1.9zM279 46.5h1.9v2.8h-1.9zM279 76.2h1.9v2.8h-1.9zM282 36.5h1.9v2.8h-1.9zM283.5 41.5h1.9v2.8h-1.9zM283.5 44h1.9v2.8h-1.9zM286.5 36.5h1.9v2.8h-1.9zM286.5 66.3h1.9v2.8h-1.9zM288 39h1.9v2.8h-1.9zM288 44h1.9v2.8h-1.9zM289.5 39h1.9v2.8h-1.9zM291 39h1.9v2.8h-1.9zM291 66.3h1.9v2.8h-1.9zM294 44h1.9v2.8h-1.9zM295.5 66.3h1.9v2.8h-1.9zM297 34.1h1.9v2.8h-1.9zM297 36.5h1.9v2.8h-1.9zM297 39h1.9v2.8h-1.9zM298.5 41.5h1.9v2.8h-1.9zM298.5 66.3h1.9v2.8h-1.9zM298.5 76.2h1.9v2.8h-1.9zM300 34.1h1.9v2.8h-1.9zM300 41.5h1.9v2.8h-1.9zM300 48.9h1.9v2.8h-1.9zM300 91.1h1.9v2.8h-1.9zM301.5 46.5h1.9v2.8h-1.9zM303 34.1h1.9v2.8h-1.9zM303 78.7h1.9v2.8h-1.9zM304.5 36.5h1.9v2.8h-1.9zM304.5 48.9h1.9v2.8h-1.9zM304.5 66.3h1.9v2.8h-1.9zM306 48.9h1.9v2.8h-1.9zM306 66.3h1.9v2.8h-1.9zM306 76.2h1.9v2.8h-1.9zM307.5 66.3h1.9v2.8h-1.9zM309 41.5h1.9v2.8h-1.9zM309 46.5h1.9v2.8h-1.9zM312 78.7h1.9v2.8h-1.9zM313.5 34.1h1.9v2.8h-1.9zM313.5 39h1.9v2.8h-1.9zM313.5 41.5h1.9v2.8h-1.9zM313.5 66.3h1.9v2.8h-1.9zM316.5 46.5h1.9v2.8h-1.9zM316.5 48.9h1.9v2.8h-1.9zM318 36.5h1.9v2.8h-1.9zM319.5 39h1.9v2.8h-1.9zM319.5 46.5h1.9v2.8h-1.9zM319.5 66.3h1.9v2.8h-1.9zM321 44h1.9v2.8h-1.9zM322.5 36.5h1.9v2.8h-1.9zM322.5 46.5h1.9v2.8h-1.9zM327 56.4h1.9v2.8h-1.9zM328.5 26.6h1.9v2.8h-1.9zM328.5 36.5h1.9v2.8h-1.9zM328.5 41.5h1.9v2.8h-1.9zM328.5 98.5h1.9v2.8h-1.9zM330 36.5h1.9v2.8h-1.9zM330 44h1.9v2.8h-1.9zM330 76.2h1.9v2.8h-1.9zM331.5 44h1.9v2.8h-1.9zM333 39h1.9v2.8h-1.9zM333 44h1.9v2.8h-1.9zM333 46.5h1.9v2.8h-1.9zM333 66.3h1.9v2.8h-1.9zM334.5 76.2h1.9v2.8h-1.9zM336 44h1.9v2.8h-1.9z"/>
<path fill="#ff0600" shape-rendering="crispEdges" d="M198 39h1.9v2.8h-1.9zM198 76.2h1.9v2.8h-1.9zM199.5 36.5h1.9v2.8h-1.9zM199.5 44h1.9v2.8h-1.9zM199.5 46.5h1.9v2.8h-1.9zM199.5 71.2h1.9v2.8h-1.9zM201 71.2h1.9v2.8h-1.9zM202.5 76.2h1.9v2.8h-1.9zM204 73.7h1.9v2.8h-1.9zM205.5 68.8h1.9v2.8h-1.9zM205.5 71.2h1.9v2.8h-1.9zM205.5 73.7h1.9v2.8h-1.9zM210 68.8h1.9v2.8h-1.9zM210 73.7h1.9v2.8h-1.9zM211.5 66.3h1.9v2.8h-1.9zM213 44h1.9v2.8h-1.9zM213 73.7h1.9v2.8h-1.9zM214.5 39h1.9v2.8h-1.9zM214.5 73.7h1.9v2.8h-1.9zM216 68.8h1.9v2.8h-1.9zM216 73.7h1.9v2.8h-1.9zM217.5 68.8h1.9v2.8h-1.9zM219 44h1.9v2.8h-1.9zM222 39h1.9v2.8h-1.9zM225 71.2h1.9v2.8h-1.9zM229.5 39h1.9v2.8h-1.9zM234 41.5h1.9v2.8h-1.9zM234 76.2h1.9v2.8h-1.9zM235.5 39h1.9v2.8h-1.9zM237 39h1.9v2.8h-1.9zM238.5 68.8h1.9v2.8h-1.9zM241.5 73.7h1.9v2.8h-1.9zM243 76.2h1.9v2.8h-1.9zM244.5 44h1.9v2.8h-1.9zM244.5 68.8h1.9v2.8h-1.9zM246 66.3h1.9v2.8h-1.9zM247.5 66.3h1.9v2.8h-1.9zM247.5 71.2h1.9v2.8h-1.9zM249 44h1.9v2.8h-1.9zM249 46.5h1.9v2.8h-1.9zM249 68.8h1.9v2.8h-1.9zM249 71.2h1.9v2.8h-1.9zM253.5 76.2h1.9v2.8h-1.9zM255 39h1.9v2.8h-1.9zM255 73.7h1.9v2.8h-1.9zM255 76.2h1.9v2.8h-1.9zM256.5 68.8h1.9v2.8h-1.9zM258 76.2h1.9v2.8h-1.9zM261 76.2h1.9v2.8h-1.9zM262.5 68.8h1.9v2.8h-1.9zM264 39h1.9v2.8h-1.9zM264 44h1.9v2.8h-1.9zM264 46.5h1.9v2.8h-1.9zM264 68.8h1.9v2.8h-1.9zM265.5 34.1h1.9v2.8h-1.9zM267 76.2h1.9v2.8h-1.9zM268.5 73.7h1.9v2.8h-1.9zM270 71.2h1.9v2.8h-1.9zM271.5 76.2h1.9v2.8h-1.9zM273 73.7h1.9v2.8h-1.9zM274.5 68.8h1.9v2.8h-1.9zM276 71.2h1.9v2.8h-1.9zM276 76.2h1.9v2.8h-1.9zM280.5 66.3h1.9v2.8h-1.9zM280.5 71.2h1.9v2.8h-1.9zM282 34.1h1.9v2.8h-1.9zM282 44h1.9v2.8h-1.9zM285 68.8h1.9v2.8h-1.9zM286.5 73.7h1.9v2.8h-1.9zM292.5 73.7h1.9v2.8h-1.9zM294 73.7h1.9v2.8h-1.9zM295.5 68.8h1.9v2.8h-1.9zM300 71.2h1.9v2.8h-1.9zM301.5 34.1h1.9v2.8h-1.9zM301.5 68.8h1.9v2.8h-1.9zM303 71.2h1.9v2.8h-1.9zM304.5 41.5h1.9v2.8h-1.9zM306 46.5h1.9v2.8h-1.9zM306 68.8h1.9v2.8h-1.9zM307.5 36.5h1.9v2.8h-1.9zM307.5 68.8h1.9v2.8h-1.9zM307.5 71.2h1.9v2.8h-1.9zM309 68.8h1.9v2.8h-1.9zM309 73.7h1.9v2.8h-1.9zM309 76.2h1.9v2.8h-1.9zM315 39h1.9v2.8h-1.9zM315 71.2h1.9v2.8h-1.9zM319.5 68.8h1.9v2.8h-1.9zM319.5 76.2h1.9v2.8h-1.9zM321 73.7h1.9v2.8h-1.9zM327 71.2h1.9v2.8h-1.9zM331.5 68.8h1.9v2.8h-1.9zM331.5 76.2h1.9v2.8h-1.9zM337.5 73.7h1.9v2.8h-1.9zM337.5 76.2h1.9v2.8h-1.9z"/>
<path fill="#ff7b00" shape-rendering="crispEdges" d="M198 41.5h1.9v2.8h-1.9zM207 71.2h1.9v2.8h-1.9zM213 71.2h1.9v2.8h-1.9zM219 46.5h1.9v2.8h-1.9zM220.5 46.5h1.9v2.8h-1.9zM222 73.7h1.9v2.8h-1.9zM228 41.5h1.9v2.8h-1.9zM235.5 71.2h1.9v2.8h-1.9zM235.5 73.7h1.9v2.8h-1.9zM237 36.5h1.9v2.8h-1.9zM237 71.2h1.9v2.8h-1.9zM246 68.8h1.9v2.8h-1.9zM246 71.2h1.9v2.8h-1.9zM255 71.2h1.9v2.8h-1.9zM256.5 71.2h1.9v2.8h-1.9zM256.5 73.7h1.9v2.8h-1.9zM267 71.2h1.9v2.8h-1.9zM268.5 71.2h1.9v2.8h-1.9zM313.5 71.2h1.9v2.8h-1.9zM319.5 71.2h1.9v2.8h-1.9zM321 71.2h1.9v2.8h-1.9zM333 73.7h1.9v2.8h-1.9z"/>
<path fill="#ff2400" shape-rendering="crispEdges" d="M198 44h1.9v2.8h-1.9zM198 73.7h1.9v2.8h-1.9zM199.5 76.2h1.9v2.8h-1.9zM207 73.7h1.9v2.8h-1.9zM208.5 68.8h1.9v2.8h-1.9zM210 71.2h1.9v2.8h-1.9zM211.5 68.8h1.9v2.8h-1.9zM213 41.5h1.9v2.8h-1.9zM219 73.7h1.9v2.8h-1.9zM219 76.2h1.9v2.8h-1.9zM220.5 73.7h1.9v2.8h-1.9zM220.5 76.2h1.9v2.8h-1.9zM222 68.8h1.9v2.8h-1.9zM222 71.2h1.9v2.8h-1.9zM225 68.8h1.9v2.8h-1.9zM228 73.7h1.9v2.8h-1.9zM229.5 41.5h1.9v2.8h-1.9zM229.5 71.2h1.9v2.8h-1.9zM231 41.5h1.9v2.8h-1.9zM231 44h1.9v2.8h-1.9zM231 68.8h1.9v2.8h-1.9zM232.5 71.2h1.9v2.8h-1.9zM234 71.2h1.9v2.8h-1.9zM237 68.8h1.9v2.8h-1.9zM237 73.7h1.9v2.8h-1.9zM238.5 41.5h1.9v2.8h-1.9zM238.5 73.7h1.9v2.8h-1.9zM240 73.7h1.9v2.8h-1.9zM241.5 68.8h1.9v2.8h-1.9zM241.5 76.2h1.9v2.8h-1.9zM243 71.2h1.9v2.8h-1.9zM244.5 73.7h1.9v2.8h-1.9zM246 76.2h1.9v2.8h-1.9zM247.5 76.2h1.9v2.8h-1.9zM253.5 68.8h1.9v2.8h-1.9zM253.5 73.7h1.9v2.8h-1.9zM258 68.8h1.9v2.8h-1.9zM258 73.7h1.9v2.8h-1.9zM262.5 73.7h1.9v2.8h-1.9zM265.5 48.9h1.9v2.8h-1.9zM265.5 73.7h1.9v2.8h-1.9zM267 39h1.9v2.8h-1.9zM267 41.5h1.9v2.8h-1.9zM268.5 68.8h1.9v2.8h-1.9zM271.5 68.8h1.9v2.8h-1.9zM273 46.5h1.9v2.8h-1.9zM274.5 76.2h1.9v2.8h-1.9zM276 36.5h1.9v2.8h-1.9zM276 39h1.9v2.8h-1.9zM276 68.8h1.9v2.8h-1.9zM280.5 76.2h1.9v2.8h-1.9zM282 68.8h1.9v2.8h-1.9zM282 73.7h1.9v2.8h-1.9zM282 76.2h1.9v2.8h-1.9zM288 76.2h1.9v2.8h-1.9zM291 71.2h1.9v2.8h-1.9zM294 71.2h1.9v2.8h-1.9zM297 73.7h1.9v2.8h-1.9zM298.5 71.2h1.9v2.8h-1.9zM300 68.8h1.9v2.8h-1.9zM301.5 36.5h1.9v2.8h-1.9zM301.5 44h1.9v2.8h-1.9zM301.5 71.2h1.9v2.8h-1.9zM301.5 73.7h1.9v2.8h-1.9zM304.5 68.8h1.9v2.8h-1.9zM304.5 76.2h1.9v2.8h-1.9zM309 71.2h1.9v2.8h-1.9zM310.5 71.2h1.9v2.8h-1.9zM312 76.2h1.9v2.8h-1.9zM313.5 46.5h1.9v2.8h-1.9zM316.5 73.7h1.9v2.8h-1.9zM318 44h1.9v2.8h-1.9zM321 76.2h1.9v2.8h-1.9zM322.5 73.7h1.9v2.8h-1.9zM324 73.7h1.9v2.8h-1.9zM327 76.2h1.9v2.8h-1.9zM328.5 68.8h1.9v2.8h-1.9zM328.5 76.2h1.9v2.8h-1.9zM330 73.7h1.9v2.8h-1.9zM331.5 71.2h1.9v2.8h-1.9zM337.5 68.8h1.9v2.8h-1.9z"/>
<path fill="#e80000" shape-rendering="crispEdges" d="M198 68.8h1.9v2.8h-1.9zM198 71.2h1.9v2.8h-1.9zM201 68.8h1.9v2.8h-1.9zM202.5 36.5h1.9v2.8h-1.9zM207 41.5h1.9v2.8h-1.9zM207 66.3h1.9v2.8h-1.9zM207 68.8h1.9v2.8h-1.9zM208.5 44h1.9v2.8h-1.9zM210 39h1.9v2.8h-1.9zM210 76.2h1.9v2.8h-1.9zM214.5 76.2h1.9v2.8h-1.9zM216 39h1.9v2.8h-1.9zM216 66.3h1.9v2.8h-1.9zM216 76.2h1.9v2.8h-1.9zM217.5 34.1h1.9v2.8h-1.9zM217.5 39h1.9v2.8h-1.9zM217.5 41.5h1.9v2.8h-1.9zM217.5 71.2h1.9v2.8h-1.9zM217.5 73.7h1.9v2.8h-1.9zM219 41.5h1.9v2.8h-1.9zM219 48.9h1.9v2.8h-1.9zM219 66.3h1.9v2.8h-1.9zM220.5 39h1.9v2.8h-1.9zM220.5 44h1.9v2.8h-1.9zM220.5 66.3h1.9v2.8h-1.9zM222 36.5h1.9v2.8h-1.9zM222 48.9h1.9v2.8h-1.9zM223.5 41.5h1.9v2.8h-1.9zM223.5 66.3h1.9v2.8h-1.9zM223.5 76.2h1.9v2.8h-1.9zM226.5 44h1.9v2.8h-1.9zM226.5 68.8h1.9v2.8h-1.9zM226.5 76.2h1.9v2.8h-1.9zM228 36.5h1.9v2.8h-1.9zM228 39h1.9v2.8h-1.9zM228 46.5h1.9v2.8h-1.9zM228 71.2h1.9v2.8h-1.9zM229.5 36.5h1.9v2.8h-1.9zM229.5 48.9h1.9v2.8h-1.9zM229.5 66.3h1.9v2.8h-1.9zM229.5 73.7h1.9v2.8h-1.9zM231 36.5h1.9v2.8h-1.9zM231 39h1.9v2.8h-1.9zM231 76.2h1.9v2.8h-1.9zM232.5 46.5h1.9v2.8h-1.9zM232.5 73.7h1.9v2.8h-1.9zM235.5 76.2h1.9v2.8h-1.9zM238.5 48.9h1.9v2.8h-1.9zM238.5 76.2h1.9v2.8h-1.9zM240 76.2h1.9v2.8h-1.9zM244.5 76.2h1.9v2.8h-1.9zM246 44h1.9v2.8h-1.9zM247.5 34.1h1.9v2.8h-1.9zM247.5 44h1.9v2.8h-1.9zM249 66.3h1.9v2.8h-1.9zM249 76.2h1.9v2.8h-1.9zM250.5 71.2h1.9v2.8h-1.9zM252 68.8h1.9v2.8h-1.9zM252 76.2h1.9v2.8h-1.9zM255 68.8h1.9v2.8h-1.9zM258 66.3h1.9v2.8h-1.9zM259.5 71.2h1.9v2.8h-1.9zM261 68.8h1.9v2.8h-1.9zM262.5 76.2h1.9v2.8h-1.9zM264 73.7h1.9v2.8h-1.9zM265.5 31.6h1.9v2.8h-1.9zM265.5 66.3h1.9v2.8h-1.9zM265.5 68.8h1.9v2.8h-1.9zM267 36.5h1.9v2.8h-1.9zM267 48.9h1.9v2.8h-1.9zM267 68.8h1.9v2.8h-1.9zM271.5 39h1.9v2.8h-1.9zM271.5 73.7h1.9v2.8h-1.9zM273 41.5h1.9v2.8h-1.9zM274.5 46.5h1.9v2.8h-1.9zM276 41.5h1.9v2.8h-1.9zM276 44h1.9v2.8h-1.9zM277.5 39h1.9v2.8h-1.9zM277.5 41.5h1.9v2.8h-1.9zM277.5 68.8h1.9v2.8h-1.9zM277.5 71.2h1.9v2.8h-1.9zM277.5 73.7h1.9v2.8h-1.9zM279 36.5h1.9v2.8h-1.9zM279 41.5h1.9v2.8h-1.9zM279 68.8h1.9v2.8h-1.9zM279 71.2h1.9v2.8h-1.9zM280.5 39h1.9v2.8h-1.9zM283.5 36.5h1.9v2.8h-1.9zM283.5 39h1.9v2.8h-1.9zM283.5 66.3h1.9v2.8h-1.9zM286.5 39h1.9v2.8h-1.9zM286.5 68.8h1.9v2.8h-1.9zM286.5 76.2h1.9v2.8h-1.9zM289.5 36.5h1.9v2.8h-1.9zM289.5 73.7h1.9v2.8h-1.9zM292.5 39h1.9v2.8h-1.9zM292.5 66.3h1.9v2.8h-1.9zM294 66.3h1.9v2.8h-1.9zM294 68.8h1.9v2.8h-1.9zM294 76.2h1.9v2.8h-1.9zM295.5 73.7h1.9v2.8h-1.9zM297 44h1.9v2.8h-1.9zM298.5 46.5h1.9v2.8h-1.9zM298.5 68.8h1.9v2.8h-1.9zM298.5 73.7h1.9v2.8h-1.9zM300 36.5h1.9v2.8h-1.9zM300 66.3h1.9v2.8h-1.9zM300 73.7h1.9v2.8h-1.9zM303 39h1.9v2.8h-1.9zM303 44h1.9v2.8h-1.9zM303 66.3h1.9v2.8h-1.9zM303 68.8h1.9v2.8h-1.9zM304.5 44h1.9v2.8h-1.9zM306 36.5h1.9v2.8h-1.9zM306 41.5h1.9v2.8h-1.9zM307.5 76.2h1.9v2.8h-1.9zM310.5 68.8h1.9v2.8h-1.9zM310.5 73.7h1.9v2.8h-1.9zM310.5 76.2h1.9v2.8h-1.9zM312 66.3h1.9v2.8h-1.9zM313.5 76.2h1.9v2.8h-1.9zM315 76.2h1.9v2.8h-1.9zM316.5 39h1.9v2.8h-1.9zM316.5 41.5h1.9v2.8h-1.9zM316.5 66.3h1.9v2.8h-1.9zM316.5 68.8h1.9v2.8h-1.9zM316.5 76.2h1.9v2.8h-1.9zM318 39h1.9v2.8h-1.9zM318 76.2h1.9v2.8h-1.9zM319.5 44h1.9v2.8h-1.9zM321 66.3h1.9v2.8h-1.9zM322.5 71.2h1.9v2.8h-1.9zM324 68.8h1.9v2.8h-1.9zM324 71.2h1.9v2.8h-1.9zM324 76.2h1.9v2.8h-1.9zM327 41.5h1.9v2.8h-1.9zM327 66.3h1.9v2.8h-1.9zM327 68.8h1.9v2.8h-1.9zM330 68.8h1.9v2.8h-1.9zM331.5 36.5h1.9v2.8h-1.9zM331.5 66.3h1.9v2.8h-1.9zM333 68.8h1.9v2.8h-1.9zM333 76.2h1.9v2.8h-1.9zM334.5 71.2h1.9v2.8h-1.9zM336 41.5h1.9v2.8h-1.9zM336 66.3h1.9v2.8h-1.9zM336 68.8h1.9v2.8h-1.9zM336 76.2h1.9v2.8h-1.9zM337.5 41.5h1.9v2.8h-1.9z"/>
<path fill="#740000" shape-rendering="crispEdges" d="M198 81.2h1.9v2.8h-1.9zM199.5 34.1h1.9v2.8h-1.9zM199.5 58.8h1.9v2.8h-1.9zM199.5 63.8h1.9v2.8h-1.9zM201 39h1.9v2.8h-1.9zM201 63.8h1.9v2.8h-1.9zM202.5 19.2h1.9v2.8h-1.9zM202.5 46.5h1.9v2.8h-1.9zM202.5 83.6h1.9v2.8h-1.9zM204 41.5h1.9v2.8h-1.9zM205.5 31.6h1.9v2.8h-1.9zM205.5 34.1h1.9v2.8h-1.9zM205.5 41.5h1.9v2.8h-1.9zM205.5 78.7h1.9v2.8h-1.9zM208.5 31.6h1.9v2.8h-1.9zM208.5 34.1h1.9v2.8h-1.9zM208.5 63.8h1.9v2.8h-1.9zM210 31.6h1.9v2.8h-1.9zM210 48.9h1.9v2.8h-1.9zM210 63.8h1.9v2.8h-1.9zM210 78.7h1.9v2.8h-1.9zM211.5 31.6h1.9v2.8h-1.9zM211.5 51.4h1.9v2.8h-1.9zM211.5 78.7h1.9v2.8h-1.9zM213 78.7h1.9v2.8h-1.9zM214.5 29.1h1.9v2.8h-1.9zM214.5 51.4h1.9v2.8h-1.9zM214.5 63.8h1.9v2.8h-1.9zM214.5 78.7h1.9v2.8h-1.9zM216 21.7h1.9v2.8h-1.9zM216 63.8h1.9v2.8h-1.9zM217.5 63.8h1.9v2.8h-1.9zM217.5 78.7h1.9v2.8h-1.9zM219 31.6h1.9v2.8h-1.9zM219 96h1.9v2.8h-1.9zM220.5 19.2h1.9v2.8h-1.9zM222 29.1h1.9v2.8h-1.9zM222 31.6h1.9v2.8h-1.9zM223.5 29.1h1.9v2.8h-1.9zM223.5 63.8h1.9v2.8h-1.9zM225 39h1.9v2.8h-1.9zM225 46.5h1.9v2.8h-1.9zM226.5 39h1.9v2.8h-1.9zM226.5 63.8h1.9v2.8h-1.9zM226.5 78.7h1.9v2.8h-1.9zM228 29.1h1.9v2.8h-1.9zM228 48.9h1.9v2.8h-1.9zM228 51.4h1.9v2.8h-1.9zM229.5 31.6h1.9v2.8h-1.9zM231 31.6h1.9v2.8h-1.9zM231 88.6h1.9v2.8h-1.9zM232.5 31.6h1.9v2.8h-1.9zM232.5 34.1h1.9v2.8h-1.9zM232.5 41.5h1.9v2.8h-1.9zM232.5 78.7h1.9v2.8h-1.9zM234 48.9h1.9v2.8h-1.9zM235.5 48.9h1.9v2.8h-1.9zM235.5 63.8h1.9v2.8h-1.9zM235.5 81.2h1.9v2.8h-1.9zM237 63.8h1.9v2.8h-1.9zM238.5 63.8h1.9v2.8h-1.9zM240 63.8h1.9v2.8h-1.9zM241.5 34.1h1.9v2.8h-1.9zM241.5 48.9h1.9v2.8h-1.9zM241.5 63.8h1.9v2.8h-1.9zM243 31.6h1.9v2.8h-1.9zM243 44h1.9v2.8h-1.9zM243 63.8h1.9v2.8h-1.9zM244.5 34.1h1.9v2.8h-1.9zM244.5 51.4h1.9v2.8h-1.9zM244.5 81.2h1.9v2.8h-1.9zM247.5 31.6h1.9v2.8h-1.9zM247.5 51.4h1.9v2.8h-1.9zM247.5 56.4h1.9v2.8h-1.9zM247.5 78.7h1.9v2.8h-1.9zM249 31.6h1.9v2.8h-1.9zM250.5 34.1h1.9v2.8h-1.9zM250.5 44h1.9v2.8h-1.9zM250.5 78.7h1.9v2.8h-1.9zM252 31.6h1.9v2.8h-1.9zM252 78.7h1.9v2.8h-1.9zM253.5 36.5h1.9v2.8h-1.9zM253.5 63.8h1.9v2.8h-1.9zM253.5 78.7h1.9v2.8h-1.9zM253.5 98.5h1.9v2.8h-1.9zM255 31.6h1.9v2.8h-1.9zM255 48.9h1.9v2.8h-1.9zM255 63.8h1.9v2.8h-1.9zM255 78.7h1.9v2.8h-1.9zM256.5 63.8h1.9v2.8h-1.9zM258 16.7h1.9v2.8h-1.9zM258 26.6h1.9v2.8h-1.9zM258 36.5h1.9v2.8h-1.9zM258 51.4h1.9v2.8h-1.9zM258 63.8h1.9v2.8h-1.9zM259.5 34.1h1.9v2.8h-1.9zM259.5 63.8h1.9v2.8h-1.9zM259.5 78.7h1.9v2.8h-1.9zM261 34.1h1.9v2.8h-1.9zM261 36.5h1.9v2.8h-1.9zM261 39h1.9v2.8h-1.9zM261 44h1.9v2.8h-1.9zM262.5 24.1h1.9v2.8h-1.9zM262.5 48.9h1.9v2.8h-1.9zM262.5 63.8h1.9v2.8h-1.9zM262.5 78.7h1.9v2.8h-1.9zM264 31.6h1.9v2.8h-1.9zM264 63.8h1.9v2.8h-1.9zM264 78.7h1.9v2.8h-1.9zM265.5 58.8h1.9v2.8h-1.9zM265.5 63.8h1.9v2.8h-1.9zM265.5 78.7h1.9v2.8h-1.9zM267 19.2h1.9v2.8h-1.9zM268.5 31.6h1.9v2.8h-1.9zM268.5 51.4h1.9v2.8h-1.9zM268.5 78.7h1.9v2.8h-1.9zM270 78.7h1.9v2.8h-1.9zM271.5 44h1.9v2.8h-1.9zM273 48.9h1.9v2.8h-1.9zM273 51.4h1.9v2.8h-1.9zM273 63.8h1.9v2.8h-1.9zM273 78.7h1.9v2.8h-1.9zM274.5 51.4h1.9v2.8h-1.9zM274.5 58.8h1.9v2.8h-1.9zM274.5 63.8h1.9v2.8h-1.9zM276 31.6h1.9v2.8h-1.9zM277.5 63.8h1.9v2.8h-1.9zM280.5 36.5h1.9v2.8h-1.9zM280.5 48.9h1.9v2.8h-1.9zM280.5 63.8h1.9v2.8h-1.9zM282 78.7h1.9v2.8h-1.9zM283.5 34.1h1.9v2.8h-1.9zM283.5 63.8h1.9v2.8h-1.9zM283.5 78.7h1.9v2.8h-1.9zM285 26.6h1.9v2.8h-1.9zM285 31.6h1.9v2.8h-1.9zM285 34.1h1.9v2.8h-1.9zM285 36.5h1.9v2.8h-1.9zM285 39h1.9v2.8h-1.9zM285 41.5h1.9v2.8h-1.9zM285 48.9h1.9v2.8h-1.9zM285 51.4h1.9v2.8h-1.9zM285 63.8h1.9v2.8h-1.9zM286.5 31.6h1.9v2.8h-1.9zM288 24.1h1.9v2.8h-1.9zM288 31.6h1.9v2.8h-1.9zM288 34.1h1.9v2.8h-1.9zM288 36.5h1.9v2.8h-1.9zM288 46.5h1.9v2.8h-1.9zM288 78.7h1.9v2.8h-1.9zM289.5 41.5h1.9v2.8h-1.9zM289.5 44h1.9v2.8h-1.9zM289.5 63.8h1.9v2.8h-1.9zM289.5 78.7h1.9v2.8h-1.9zM291 36.5h1.9v2.8h-1.9zM291 44h1.9v2.8h-1.9zM291 63.8h1.9v2.8h-1.9zM292.5 63.8h1.9v2.8h-1.9zM294 34.1h1.9v2.8h-1.9zM294 39h1.9v2.8h-1.9zM294 48.9h1.9v2.8h-1.9zM295.5 63.8h1.9v2.8h-1.9zM295.5 78.7h1.9v2.8h-1.9zM297 78.7h1.9v2.8h-1.9zM298.5 29.1h1.9v2.8h-1.9zM298.5 34.1h1.9v2.8h-1.9zM298.5 63.8h1.9v2.8h-1.9zM300 63.8h1.9v2.8h-1.9zM300 78.7h1.9v2.8h-1.9zM303 29.1h1.9v2.8h-1.9zM303 48.9h1.9v2.8h-1.9zM303 51.4h1.9v2.8h-1.9zM303 63.8h1.9v2.8h-1.9zM304.5 39h1.9v2.8h-1.9zM304.5 63.8h1.9v2.8h-1.9zM306 44h1.9v2.8h-1.9zM307.5 31.6h1.9v2.8h-1.9zM307.5 39h1.9v2.8h-1.9zM307.5 48.9h1.9v2.8h-1.9zM307.5 63.8h1.9v2.8h-1.9zM309 44h1.9v2.8h-1.9zM309 86.1h1.9v2.8h-1.9zM310.5 41.5h1.9v2.8h-1.9zM310.5 63.8h1.9v2.8h-1.9zM312 36.5h1.9v2.8h-1.9zM312 48.9h1.9v2.8h-1.9zM312 63.8h1.9v2.8h-1.9zM313.5 31.6h1.9v2.8h-1.9zM313.5 48.9h1.9v2.8h-1.9zM313.5 78.7h1.9v2.8h-1.9zM315 34.1h1.9v2.8h-1.9zM315 36.5h1.9v2.8h-1.9zM315 78.7h1.9v2.8h-1.9zM316.5 51.4h1.9v2.8h-1.9zM316.5 63.8h1.9v2.8h-1.9zM318 31.6h1.9v2.8h-1.9zM321 34.1h1.9v2.8h-1.9zM321 63.8h1.9v2.8h-1.9zM322.5 39h1.9v2.8h-1.9zM322.5 66.3h1.9v2.8h-1.9zM322.5 78.7h1.9v2.8h-1.9zM324 36.5h1.9v2.8h-1.9zM324 41.5h1.9v2.8h-1.9zM324 46.5h1.9v2.8h-1.9zM324 78.7h1.9v2.8h-1.9zM325.5 34.1h1.9v2.8h-1.9zM325.5 41.5h1.9v2.8h-1.9zM325.5 63.8h1.9v2.8h-1.9zM327 34.1h1.9v2.8h-1.9zM327 36.5h1.9v2.8h-1.9zM327 63.8h1.9v2.8h-1.9zM328.5 34.1h1.9v2.8h-1.9zM328.5 48.9h1.9v2.8h-1.9zM328.5 63.8h1.9v2.8h-1.9zM330 39h1.9v2.8h-1.9zM330 46.5h1.9v2.8h-1.9zM330 78.7h1.9v2.8h-1.9zM331.5 46.5h1.9v2.8h-1.9zM331.5 48.9h1.9v2.8h-1.9zM331.5 63.8h1.9v2.8h-1.9zM334.5 63.8h1.9v2.8h-1.9zM334.5 78.7h1.9v2.8h-1.9zM336 31.6h1.9v2.8h-1.9zM336 34.1h1.9v2.8h-1.9zM336 51.4h1.9v2.8h-1.9zM336 63.8h1.9v2.8h-1.9zM336 78.7h1.9v2.8h-1.9zM337.5 78.7h1.9v2.8h-1.9z"/>
<path fill="#570000" shape-rendering="crispEdges" d="M199.5 51.4h1.9v2.8h-1.9zM201 29.1h1.9v2.8h-1.9zM201 31.6h1.9v2.8h-1.9zM201 34.1h1.9v2.8h-1.9zM201 51.4h1.9v2.8h-1.9zM202.5 31.6h1.9v2.8h-1.9zM202.5 34.1h1.9v2.8h-1.9zM202.5 51.4h1.9v2.8h-1.9zM204 34.1h1.9v2.8h-1.9zM204 63.8h1.9v2.8h-1.9zM204 78.7h1.9v2.8h-1.9zM205.5 51.4h1.9v2.8h-1.9zM207 63.8h1.9v2.8h-1.9zM207 78.7h1.9v2.8h-1.9zM208.5 48.9h1.9v2.8h-1.9zM211.5 46.5h1.9v2.8h-1.9zM213 31.6h1.9v2.8h-1.9zM213 63.8h1.9v2.8h-1.9zM216 51.4h1.9v2.8h-1.9zM219 29.1h1.9v2.8h-1.9zM219 63.8h1.9v2.8h-1.9zM220.5 29.1h1.9v2.8h-1.9zM220.5 63.8h1.9v2.8h-1.9zM222 51.4h1.9v2.8h-1.9zM225 29.1h1.9v2.8h-1.9zM225 48.9h1.9v2.8h-1.9zM226.5 29.1h1.9v2.8h-1.9zM226.5 31.6h1.9v2.8h-1.9zM226.5 34.1h1.9v2.8h-1.9zM228 78.7h1.9v2.8h-1.9zM229.5 63.8h1.9v2.8h-1.9zM231 51.4h1.9v2.8h-1.9zM231 63.8h1.9v2.8h-1.9zM232.5 51.4h1.9v2.8h-1.9zM234 31.6h1.9v2.8h-1.9zM234 63.8h1.9v2.8h-1.9zM237 29.1h1.9v2.8h-1.9zM237 48.9h1.9v2.8h-1.9zM238.5 29.1h1.9v2.8h-1.9zM240 78.7h1.9v2.8h-1.9zM241.5 29.1h1.9v2.8h-1.9zM241.5 31.6h1.9v2.8h-1.9zM241.5 51.4h1.9v2.8h-1.9zM247.5 63.8h1.9v2.8h-1.9zM249 48.9h1.9v2.8h-1.9zM249 53.9h1.9v2.8h-1.9zM249 63.8h1.9v2.8h-1.9zM250.5 31.6h1.9v2.8h-1.9zM250.5 63.8h1.9v2.8h-1.9zM252 51.4h1.9v2.8h-1.9zM253.5 91.1h1.9v2.8h-1.9zM255 51.4h1.9v2.8h-1.9zM256.5 51.4h1.9v2.8h-1.9zM258 46.5h1.9v2.8h-1.9zM259.5 39h1.9v2.8h-1.9zM259.5 46.5h1.9v2.8h-1.9zM261 46.5h1.9v2.8h-1.9zM261 48.9h1.9v2.8h-1.9zM261 63.8h1.9v2.8h-1.9zM262.5 31.6h1.9v2.8h-1.9zM262.5 34.1h1.9v2.8h-1.9zM262.5 39h1.9v2.8h-1.9zM262.5 81.2h1.9v2.8h-1.9zM268.5 46.5h1.9v2.8h-1.9zM270 31.6h1.9v2.8h-1.9zM270 51.4h1.9v2.8h-1.9zM271.5 51.4h1.9v2.8h-1.9zM274.5 31.6h1.9v2.8h-1.9zM276 51.4h1.9v2.8h-1.9zM277.5 48.9h1.9v2.8h-1.9zM279 51.4h1.9v2.8h-1.9zM279 63.8h1.9v2.8h-1.9zM279 78.7h1.9v2.8h-1.9zM282 63.8h1.9v2.8h-1.9zM286.5 63.8h1.9v2.8h-1.9zM288 51.4h1.9v2.8h-1.9zM288 81.2h1.9v2.8h-1.9zM291 34.1h1.9v2.8h-1.9zM291 48.9h1.9v2.8h-1.9zM291 78.7h1.9v2.8h-1.9zM292.5 34.1h1.9v2.8h-1.9zM292.5 46.5h1.9v2.8h-1.9zM297 31.6h1.9v2.8h-1.9zM297 51.4h1.9v2.8h-1.9zM297 63.8h1.9v2.8h-1.9zM301.5 29.1h1.9v2.8h-1.9zM301.5 63.8h1.9v2.8h-1.9zM304.5 51.4h1.9v2.8h-1.9zM306 63.8h1.9v2.8h-1.9zM309 48.9h1.9v2.8h-1.9zM310.5 34.1h1.9v2.8h-1.9zM310.5 46.5h1.9v2.8h-1.9zM312 46.5h1.9v2.8h-1.9zM313.5 29.1h1.9v2.8h-1.9zM315 63.8h1.9v2.8h-1.9zM318 48.9h1.9v2.8h-1.9zM318 63.8h1.9v2.8h-1.9zM319.5 63.8h1.9v2.8h-1.9zM321 48.9h1.9v2.8h-1.9zM321 51.4h1.9v2.8h-1.9zM324 31.6h1.9v2.8h-1.9zM324 34.1h1.9v2.8h-1.9zM324 48.9h1.9v2.8h-1.9zM324 63.8h1.9v2.8h-1.9zM325.5 36.5h1.9v2.8h-1.9zM325.5 39h1.9v2.8h-1.9zM325.5 48.9h1.9v2.8h-1.9zM325.5 51.4h1.9v2.8h-1.9zM327 31.6h1.9v2.8h-1.9zM328.5 58.8h1.9v2.8h-1.9zM330 16.7h1.9v2.8h-1.9zM330 34.1h1.9v2.8h-1.9zM333 31.6h1.9v2.8h-1.9zM333 41.5h1.9v2.8h-1.9zM333 48.9h1.9v2.8h-1.9zM333 63.8h1.9v2.8h-1.9zM333 78.7h1.9v2.8h-1.9zM334.5 34.1h1.9v2.8h-1.9z"/>
<path fill="#cb0000" shape-rendering="crispEdges" d="M199.5 66.3h1.9v2.8h-1.9zM201 36.5h1.9v2.8h-1.9zM201 66.3h1.9v2.8h-1.9zM202.5 66.3h1.9v2.8h-1.9zM204 36.5h1.9v2.8h-1.9zM204 76.2h1.9v2.8h-1.9zM205.5 44h1.9v2.8h-1.9zM205.5 66.3h1.9v2.8h-1.9zM207 34.1h1.9v2.8h-1.9zM207 46.5h1.9v2.8h-1.9zM207 48.9h1.9v2.8h-1.9zM208.5 39h1.9v2.8h-1.9zM208.5 76.2h1.9v2.8h-1.9zM210 41.5h1.9v2.8h-1.9zM211.5 41.5h1.9v2.8h-1.9zM213 34.1h1.9v2.8h-1.9zM213 39h1.9v2.8h-1.9zM213 76.2h1.9v2.8h-1.9zM214.5 36.5h1.9v2.8h-1.9zM214.5 66.3h1.9v2.8h-1.9zM214.5 68.8h1.9v2.8h-1.9zM216 41.5h1.9v2.8h-1.9zM217.5 76.2h1.9v2.8h-1.9zM220.5 34.1h1.9v2.8h-1.9zM222 34.1h1.9v2.8h-1.9zM222 41.5h1.9v2.8h-1.9zM222 66.3h1.9v2.8h-1.9zM223.5 34.1h1.9v2.8h-1.9zM223.5 36.5h1.9v2.8h-1.9zM223.5 44h1.9v2.8h-1.9zM225 41.5h1.9v2.8h-1.9zM225 44h1.9v2.8h-1.9zM225 76.2h1.9v2.8h-1.9zM228 76.2h1.9v2.8h-1.9zM229.5 34.1h1.9v2.8h-1.9zM229.5 76.2h1.9v2.8h-1.9zM231 66.3h1.9v2.8h-1.9zM232.5 44h1.9v2.8h-1.9zM232.5 66.3h1.9v2.8h-1.9zM232.5 68.8h1.9v2.8h-1.9zM232.5 76.2h1.9v2.8h-1.9zM234 46.5h1.9v2.8h-1.9zM234 66.3h1.9v2.8h-1.9zM237 66.3h1.9v2.8h-1.9zM237 76.2h1.9v2.8h-1.9zM238.5 34.1h1.9v2.8h-1.9zM240 36.5h1.9v2.8h-1.9zM241.5 46.5h1.9v2.8h-1.9zM244.5 46.5h1.9v2.8h-1.9zM247.5 36.5h1.9v2.8h-1.9zM247.5 39h1.9v2.8h-1.9zM249 39h1.9v2.8h-1.9zM250.5 68.8h1.9v2.8h-1.9zM250.5 76.2h1.9v2.8h-1.9zM252 39h1.9v2.8h-1.9zM252 44h1.9v2.8h-1.9zM252 46.5h1.9v2.8h-1.9zM253.5 39h1.9v2.8h-1.9zM255 44h1.9v2.8h-1.9zM256.5 41.5h1.9v2.8h-1.9zM256.5 66.3h1.9v2.8h-1.9zM258 39h1.9v2.8h-1.9zM258 44h1.9v2.8h-1.9zM259.5 76.2h1.9v2.8h-1.9zM262.5 36.5h1.9v2.8h-1.9zM264 41.5h1.9v2.8h-1.9zM264 66.3h1.9v2.8h-1.9zM264 76.2h1.9v2.8h-1.9zM265.5 76.2h1.9v2.8h-1.9zM267 34.1h1.9v2.8h-1.9zM267 46.5h1.9v2.8h-1.9zM267 73.7h1.9v2.8h-1.9zM268.5 44h1.9v2.8h-1.9zM270 46.5h1.9v2.8h-1.9zM270 76.2h1.9v2.8h-1.9zM271.5 66.3h1.9v2.8h-1.9zM273 36.5h1.9v2.8h-1.9zM273 44h1.9v2.8h-1.9zM273 66.3h1.9v2.8h-1.9zM273 68.8h1.9v2.8h-1.9zM274.5 36.5h1.9v2.8h-1.9zM274.5 39h1.9v2.8h-1.9zM274.5 41.5h1.9v2.8h-1.9zM276 46.5h1.9v2.8h-1.9zM277.5 36.5h1.9v2.8h-1.9zM277.5 66.3h1.9v2.8h-1.9zM277.5 76.2h1.9v2.8h-1.9zM279 66.3h1.9v2.8h-1.9zM280.5 46.5h1.9v2.8h-1.9zM282 41.5h1.9v2.8h-1.9zM282 66.3h1.9v2.8h-1.9zM283.5 76.2h1.9v2.8h-1.9zM285 44h1.9v2.8h-1.9zM285 46.5h1.9v2.8h-1.9zM286.5 41.5h1.9v2.8h-1.9zM286.5 46.5h1.9v2.8h-1.9zM288 66.3h1.9v2.8h-1.9zM289.5 68.8h1.9v2.8h-1.9zM289.5 76.2h1.9v2.8h-1.9zM291 41.5h1.9v2.8h-1.9zM291 68.8h1.9v2.8h-1.9zM291 73.7h1.9v2.8h-1.9zM291 76.2h1.9v2.8h-1.9zM292.5 76.2h1.9v2.8h-1.9zM295.5 41.5h1.9v2.8h-1.9zM295.5 76.2h1.9v2.8h-1.9zM297 68.8h1.9v2.8h-1.9zM297 71.2h1.9v2.8h-1.9zM298.5 39h1.9v2.8h-1.9zM298.5 44h1.9v2.8h-1.9zM300 39h1.9v2.8h-1.9zM300 46.5h1.9v2.8h-1.9zM300 76.2h1.9v2.8h-1.9zM301.5 41.5h1.9v2.8h-1.9zM301.5 66.3h1.9v2.8h-1.9zM301.5 76.2h1.9v2.8h-1.9zM303 76.2h1.9v2.8h-1.9zM306 73.7h1.9v2.8h-1.9zM309 66.3h1.9v2.8h-1.9zM310.5 66.3h1.9v2.8h-1.9zM315 46.5h1.9v2.8h-1.9zM315 48.9h1.9v2.8h-1.9zM315 66.3h1.9v2.8h-1.9zM316.5 44h1.9v2.8h-1.9zM318 68.8h1.9v2.8h-1.9zM319.5 41.5h1.9v2.8h-1.9zM321 36.5h1.9v2.8h-1.9zM322.5 44h1.9v2.8h-1.9zM324 66.3h1.9v2.8h-1.9zM325.5 66.3h1.9v2.8h-1.9zM325.5 76.2h1.9v2.8h-1.9zM328.5 44h1.9v2.8h-1.9zM328.5 66.3h1.9v2.8h-1.9zM330 66.3h1.9v2.8h-1.9zM331.5 41.5h1.9v2.8h-1.9zM333 36.5h1.9v2.8h-1.9zM334.5 36.5h1.9v2.8h-1.9zM334.5 66.3h1.9v2.8h-1.9zM334.5 68.8h1.9v2.8h-1.9zM334.5 73.7h1.9v2.8h-1.9zM336 36.5h1.9v2.8h-1.9zM336 48.9h1.9v2.8h-1.9zM337.5 39h1.9v2.8h-1.9zM337.5 44h1.9v2.8h-1.9zM337.5 48.9h1.9v2.8h-1.9zM337.5 66.3h1.9v2.8h-1.9z"/>
<path fill="#ff4100" shape-rendering="crispEdges" d="M199.5 68.8h1.9v2.8h-1.9zM199.5 73.7h1.9v2.8h-1.9zM201 73.7h1.9v2.8h-1.9zM202.5 68.8h1.9v2.8h-1.9zM202.5 73.7h1.9v2.8h-1.9zM204 68.8h1.9v2.8h-1.9zM204 71.2h1.9v2.8h-1.9zM208.5 71.2h1.9v2.8h-1.9zM213 68.8h1.9v2.8h-1.9zM216 71.2h1.9v2.8h-1.9zM219 71.2h1.9v2.8h-1.9zM220.5 41.5h1.9v2.8h-1.9zM220.5 68.8h1.9v2.8h-1.9zM222 44h1.9v2.8h-1.9zM223.5 68.8h1.9v2.8h-1.9zM223.5 71.2h1.9v2.8h-1.9zM223.5 73.7h1.9v2.8h-1.9zM225 73.7h1.9v2.8h-1.9zM226.5 73.7h1.9v2.8h-1.9zM228 68.8h1.9v2.8h-1.9zM229.5 68.8h1.9v2.8h-1.9zM234 68.8h1.9v2.8h-1.9zM234 73.7h1.9v2.8h-1.9zM235.5 68.8h1.9v2.8h-1.9zM237 41.5h1.9v2.8h-1.9zM237 46.5h1.9v2.8h-1.9zM240 44h1.9v2.8h-1.9zM240 71.2h1.9v2.8h-1.9zM243 68.8h1.9v2.8h-1.9zM247.5 68.8h1.9v2.8h-1.9zM247.5 73.7h1.9v2.8h-1.9zM249 73.7h1.9v2.8h-1.9zM250.5 73.7h1.9v2.8h-1.9zM259.5 73.7h1.9v2.8h-1.9zM261 73.7h1.9v2.8h-1.9zM262.5 71.2h1.9v2.8h-1.9zM265.5 36.5h1.9v2.8h-1.9zM270 68.8h1.9v2.8h-1.9zM273 71.2h1.9v2.8h-1.9zM274.5 73.7h1.9v2.8h-1.9zM279 73.7h1.9v2.8h-1.9zM280.5 73.7h1.9v2.8h-1.9zM283.5 73.7h1.9v2.8h-1.9zM285 71.2h1.9v2.8h-1.9zM285 73.7h1.9v2.8h-1.9zM286.5 71.2h1.9v2.8h-1.9zM289.5 71.2h1.9v2.8h-1.9zM301.5 39h1.9v2.8h-1.9zM304.5 73.7h1.9v2.8h-1.9zM306 39h1.9v2.8h-1.9zM306 71.2h1.9v2.8h-1.9zM307.5 73.7h1.9v2.8h-1.9zM312 68.8h1.9v2.8h-1.9zM313.5 68.8h1.9v2.8h-1.9zM313.5 73.7h1.9v2.8h-1.9zM315 44h1.9v2.8h-1.9zM315 68.8h1.9v2.8h-1.9zM318 41.5h1.9v2.8h-1.9zM318 71.2h1.9v2.8h-1.9zM322.5 68.8h1.9v2.8h-1.9zM327 73.7h1.9v2.8h-1.9zM333 71.2h1.9v2.8h-1.9zM336 39h1.9v2.8h-1.9z"/>
<path fill="#ff5e00" shape-rendering="crispEdges" d="M202.5 71.2h1.9v2.8h-1.9zM211.5 73.7h1.9v2.8h-1.9zM219 39h1.9v2.8h-1.9zM219 68.8h1.9v2.8h-1.9zM220.5 71.2h1.9v2.8h-1.9zM228 44h1.9v2.8h-1.9zM231 71.2h1.9v2.8h-1.9zM231 73.7h1.9v2.8h-1.9zM238.5 36.5h1.9v2.8h-1.9zM238.5 71.2h1.9v2.8h-1.9zM243 73.7h1.9v2.8h-1.9zM244.5 71.2h1.9v2.8h-1.9zM247.5 41.5h1.9v2.8h-1.9zM252 71.2h1.9v2.8h-1.9zM252 73.7h1.9v2.8h-1.9zM253.5 71.2h1.9v2.8h-1.9zM258 71.2h1.9v2.8h-1.9zM264 71.2h1.9v2.8h-1.9zM270 73.7h1.9v2.8h-1.9zM271.5 71.2h1.9v2.8h-1.9zM274.5 44h1.9v2.8h-1.9zM280.5 68.8h1.9v2.8h-1.9zM282 71.2h1.9v2.8h-1.9zM283.5 68.8h1.9v2.8h-1.9zM288 68.8h1.9v2.8h-1.9zM292.5 68.8h1.9v2.8h-1.9zM303 73.7h1.9v2.8h-1.9zM315 73.7h1.9v2.8h-1.9zM316.5 71.2h1.9v2.8h-1.9zM318 73.7h1.9v2.8h-1.9zM319.5 73.7h1.9v2.8h-1.9zM321 68.8h1.9v2.8h-1.9zM325.5 68.8h1.9v2.8h-1.9zM325.5 73.7h1.9v2.8h-1.9zM328.5 71.2h1.9v2.8h-1.9zM328.5 73.7h1.9v2.8h-1.9zM330 71.2h1.9v2.8h-1.9zM336 71.2h1.9v2.8h-1.9zM336 73.7h1.9v2.8h-1.9zM337.5 71.2h1.9v2.8h-1.9z"/>
<path fill="#ff9800" shape-rendering="crispEdges" d="M208.5 73.7h1.9v2.8h-1.9zM211.5 71.2h1.9v2.8h-1.9zM214.5 71.2h1.9v2.8h-1.9zM226.5 71.2h1.9v2.8h-1.9zM241.5 71.2h1.9v2.8h-1.9zM246 73.7h1.9v2.8h-1.9zM261 71.2h1.9v2.8h-1.9zM265.5 71.2h1.9v2.8h-1.9zM274.5 71.2h1.9v2.8h-1.9zM276 73.7h1.9v2.8h-1.9zM288 71.2h1.9v2.8h-1.9zM288 73.7h1.9v2.8h-1.9zM292.5 71.2h1.9v2.8h-1.9zM295.5 71.2h1.9v2.8h-1.9zM304.5 71.2h1.9v2.8h-1.9zM312 71.2h1.9v2.8h-1.9zM312 73.7h1.9v2.8h-1.9zM331.5 73.7h1.9v2.8h-1.9z"/>
<path fill="#ffb500" shape-rendering="crispEdges" d="M229.5 44h1.9v2.8h-1.9zM283.5 71.2h1.9v2.8h-1.9zM325.5 71.2h1.9v2.8h-1.9z"/>
</g>
<line x1="245" y1="101" x2="245" y2="106" stroke="#111" stroke-width="1"/>
<text x="247.3" y="116.8" font-size="12" text-anchor="end" fill="#111" font-weight="normal" font-style="normal" >400</text>
<line x1="292" y1="101" x2="292" y2="106" stroke="#111" stroke-width="1"/>
<text x="294.3" y="116.8" font-size="12" text-anchor="end" fill="#111" font-weight="normal" font-style="normal" >500</text>
<line x1="339" y1="101" x2="339" y2="106" stroke="#111" stroke-width="1"/>
<text x="341.3" y="116.8" font-size="12" text-anchor="end" fill="#111" font-weight="normal" font-style="normal" >600</text>
<text x="274.5" y="130.5" font-size="12" text-anchor="middle" fill="#111" font-weight="normal" font-style="normal" >Time (s)</text>
<rect x="348" y="16.7" width="140" height="84.3" fill="#000"/>
<clipPath id="ch2"><rect x="348" y="16.7" width="140" height="84.3"/></clipPath>
<g clip-path="url(#ch2)" filter="url(#hb)">
<path fill="#740000" shape-rendering="crispEdges" d="M348 68.8h1.9v2.8h-1.9zM348 71.2h1.9v2.8h-1.9zM349.5 73.7h1.9v2.8h-1.9zM351 29.1h1.9v2.8h-1.9zM351 71.2h1.9v2.8h-1.9zM352.5 36.5h1.9v2.8h-1.9zM354 58.8h1.9v2.8h-1.9zM355.5 68.8h1.9v2.8h-1.9zM355.5 76.2h1.9v2.8h-1.9zM357 71.2h1.9v2.8h-1.9zM361.5 41.5h1.9v2.8h-1.9zM363.1 56.4h1.9v2.8h-1.9zM363.1 71.2h1.9v2.8h-1.9zM364.6 26.6h1.9v2.8h-1.9zM364.6 96h1.9v2.8h-1.9zM369.1 29.1h1.9v2.8h-1.9zM370.6 68.8h1.9v2.8h-1.9zM370.6 76.2h1.9v2.8h-1.9zM372.1 19.2h1.9v2.8h-1.9zM372.1 73.7h1.9v2.8h-1.9zM375.1 53.9h1.9v2.8h-1.9zM375.1 73.7h1.9v2.8h-1.9zM375.1 76.2h1.9v2.8h-1.9zM376.6 68.8h1.9v2.8h-1.9zM378.1 68.8h1.9v2.8h-1.9zM378.1 76.2h1.9v2.8h-1.9zM381.1 71.2h1.9v2.8h-1.9zM381.1 73.7h1.9v2.8h-1.9zM390.2 73.7h1.9v2.8h-1.9zM391.7 39h1.9v2.8h-1.9zM394.7 71.2h1.9v2.8h-1.9zM396.2 29.1h1.9v2.8h-1.9zM397.7 68.8h1.9v2.8h-1.9zM399.2 73.7h1.9v2.8h-1.9zM400.7 71.2h1.9v2.8h-1.9zM405.2 51.4h1.9v2.8h-1.9zM405.2 71.2h1.9v2.8h-1.9zM406.7 51.4h1.9v2.8h-1.9zM406.7 71.2h1.9v2.8h-1.9zM408.2 71.2h1.9v2.8h-1.9zM409.7 51.4h1.9v2.8h-1.9zM409.7 81.2h1.9v2.8h-1.9zM411.2 71.2h1.9v2.8h-1.9zM412.7 71.2h1.9v2.8h-1.9zM414.2 86.1h1.9v2.8h-1.9zM415.7 68.8h1.9v2.8h-1.9zM415.7 73.7h1.9v2.8h-1.9zM417.2 76.2h1.9v2.8h-1.9zM418.8 34.1h1.9v2.8h-1.9zM418.8 53.9h1.9v2.8h-1.9zM418.8 73.7h1.9v2.8h-1.9zM421.8 53.9h1.9v2.8h-1.9zM423.3 34.1h1.9v2.8h-1.9zM423.3 73.7h1.9v2.8h-1.9zM424.8 31.6h1.9v2.8h-1.9zM424.8 36.5h1.9v2.8h-1.9zM424.8 93.6h1.9v2.8h-1.9zM426.3 31.6h1.9v2.8h-1.9zM426.3 34.1h1.9v2.8h-1.9zM426.3 73.7h1.9v2.8h-1.9zM427.8 31.6h1.9v2.8h-1.9zM427.8 53.9h1.9v2.8h-1.9zM429.3 34.1h1.9v2.8h-1.9zM429.3 44h1.9v2.8h-1.9zM429.3 53.9h1.9v2.8h-1.9zM429.3 73.7h1.9v2.8h-1.9zM430.8 44h1.9v2.8h-1.9zM432.3 34.1h1.9v2.8h-1.9zM432.3 44h1.9v2.8h-1.9zM432.3 73.7h1.9v2.8h-1.9zM433.8 53.9h1.9v2.8h-1.9zM433.8 76.2h1.9v2.8h-1.9zM439.8 39h1.9v2.8h-1.9zM439.8 53.9h1.9v2.8h-1.9zM439.8 73.7h1.9v2.8h-1.9zM441.3 31.6h1.9v2.8h-1.9zM441.3 36.5h1.9v2.8h-1.9zM441.3 44h1.9v2.8h-1.9zM442.8 53.9h1.9v2.8h-1.9zM442.8 76.2h1.9v2.8h-1.9zM444.3 34.1h1.9v2.8h-1.9zM444.3 73.7h1.9v2.8h-1.9zM445.8 39h1.9v2.8h-1.9zM445.8 78.7h1.9v2.8h-1.9zM447.4 53.9h1.9v2.8h-1.9zM448.9 31.6h1.9v2.8h-1.9zM448.9 36.5h1.9v2.8h-1.9zM448.9 44h1.9v2.8h-1.9zM448.9 53.9h1.9v2.8h-1.9zM448.9 68.8h1.9v2.8h-1.9zM448.9 76.2h1.9v2.8h-1.9zM450.4 76.2h1.9v2.8h-1.9zM451.9 41.5h1.9v2.8h-1.9zM453.4 39h1.9v2.8h-1.9zM453.4 44h1.9v2.8h-1.9zM453.4 81.2h1.9v2.8h-1.9zM454.9 53.9h1.9v2.8h-1.9zM456.4 34.1h1.9v2.8h-1.9zM457.9 73.7h1.9v2.8h-1.9zM459.4 34.1h1.9v2.8h-1.9zM460.9 76.2h1.9v2.8h-1.9zM460.9 86.1h1.9v2.8h-1.9zM462.4 19.2h1.9v2.8h-1.9zM462.4 36.5h1.9v2.8h-1.9zM462.4 53.9h1.9v2.8h-1.9zM463.9 39h1.9v2.8h-1.9zM465.4 53.9h1.9v2.8h-1.9zM465.4 73.7h1.9v2.8h-1.9zM466.9 34.1h1.9v2.8h-1.9zM466.9 53.9h1.9v2.8h-1.9zM468.4 44h1.9v2.8h-1.9zM468.4 71.2h1.9v2.8h-1.9zM469.9 44h1.9v2.8h-1.9zM471.4 44h1.9v2.8h-1.9zM471.4 53.9h1.9v2.8h-1.9zM472.9 44h1.9v2.8h-1.9zM472.9 53.9h1.9v2.8h-1.9zM474.5 71.2h1.9v2.8h-1.9zM476 71.2h1.9v2.8h-1.9zM477.5 36.5h1.9v2.8h-1.9zM477.5 71.2h1.9v2.8h-1.9zM477.5 76.2h1.9v2.8h-1.9zM479 44h1.9v2.8h-1.9zM480.5 16.7h1.9v2.8h-1.9zM480.5 71.2h1.9v2.8h-1.9zM482 44h1.9v2.8h-1.9zM482 53.9h1.9v2.8h-1.9zM482 71.2h1.9v2.8h-1.9zM482 76.2h1.9v2.8h-1.9zM483.5 53.9h1.9v2.8h-1.9zM483.5 98.5h1.9v2.8h-1.9zM485 83.6h1.9v2.8h-1.9zM486.5 36.5h1.9v2.8h-1.9zM486.5 53.9h1.9v2.8h-1.9zM486.5 71.2h1.9v2.8h-1.9z"/>
<path fill="#e80000" shape-rendering="crispEdges" d="M348 73.7h1.9v2.8h-1.9zM354 73.7h1.9v2.8h-1.9zM360 71.2h1.9v2.8h-1.9zM360 73.7h1.9v2.8h-1.9zM375.1 71.2h1.9v2.8h-1.9zM376.6 51.4h1.9v2.8h-1.9zM397.7 73.7h1.9v2.8h-1.9zM402.2 71.2h1.9v2.8h-1.9zM402.2 73.7h1.9v2.8h-1.9zM403.7 48.9h1.9v2.8h-1.9zM403.7 73.7h1.9v2.8h-1.9zM405.2 48.9h1.9v2.8h-1.9zM411.2 48.9h1.9v2.8h-1.9zM417.2 71.2h1.9v2.8h-1.9zM420.3 71.2h1.9v2.8h-1.9zM427.8 41.5h1.9v2.8h-1.9zM427.8 73.7h1.9v2.8h-1.9zM430.8 39h1.9v2.8h-1.9zM436.8 39h1.9v2.8h-1.9zM442.8 44h1.9v2.8h-1.9zM442.8 73.7h1.9v2.8h-1.9zM451.9 36.5h1.9v2.8h-1.9zM456.4 73.7h1.9v2.8h-1.9zM468.4 39h1.9v2.8h-1.9zM468.4 73.7h1.9v2.8h-1.9z"/>
<path fill="#570000" shape-rendering="crispEdges" d="M349.5 71.2h1.9v2.8h-1.9zM354 36.5h1.9v2.8h-1.9zM354 71.2h1.9v2.8h-1.9zM354 76.2h1.9v2.8h-1.9zM358.5 36.5h1.9v2.8h-1.9zM358.5 39h1.9v2.8h-1.9zM358.5 71.2h1.9v2.8h-1.9zM361.5 56.4h1.9v2.8h-1.9zM361.5 68.8h1.9v2.8h-1.9zM364.6 76.2h1.9v2.8h-1.9zM366.1 73.7h1.9v2.8h-1.9zM369.1 26.6h1.9v2.8h-1.9zM369.1 31.6h1.9v2.8h-1.9zM369.1 76.2h1.9v2.8h-1.9zM370.6 24.1h1.9v2.8h-1.9zM372.1 68.8h1.9v2.8h-1.9zM375.1 46.5h1.9v2.8h-1.9zM376.6 21.7h1.9v2.8h-1.9zM376.6 46.5h1.9v2.8h-1.9zM378.1 71.2h1.9v2.8h-1.9zM379.6 71.2h1.9v2.8h-1.9zM382.6 71.2h1.9v2.8h-1.9zM384.1 73.7h1.9v2.8h-1.9zM384.1 76.2h1.9v2.8h-1.9zM384.1 88.6h1.9v2.8h-1.9zM385.6 68.8h1.9v2.8h-1.9zM385.6 71.2h1.9v2.8h-1.9zM385.6 76.2h1.9v2.8h-1.9zM387.1 71.2h1.9v2.8h-1.9zM387.1 73.7h1.9v2.8h-1.9zM387.1 93.6h1.9v2.8h-1.9zM388.6 68.8h1.9v2.8h-1.9zM390.2 31.6h1.9v2.8h-1.9zM391.7 16.7h1.9v2.8h-1.9zM391.7 73.7h1.9v2.8h-1.9zM394.7 68.8h1.9v2.8h-1.9zM396.2 73.7h1.9v2.8h-1.9zM397.7 76.2h1.9v2.8h-1.9zM400.7 76.2h1.9v2.8h-1.9zM403.7 76.2h1.9v2.8h-1.9zM406.7 68.8h1.9v2.8h-1.9zM411.2 73.7h1.9v2.8h-1.9zM415.7 53.9h1.9v2.8h-1.9zM415.7 76.2h1.9v2.8h-1.9zM418.8 66.3h1.9v2.8h-1.9zM418.8 76.2h1.9v2.8h-1.9zM418.8 98.5h1.9v2.8h-1.9zM420.3 36.5h1.9v2.8h-1.9zM423.3 31.6h1.9v2.8h-1.9zM423.3 53.9h1.9v2.8h-1.9zM423.3 68.8h1.9v2.8h-1.9zM424.8 53.9h1.9v2.8h-1.9zM426.3 53.9h1.9v2.8h-1.9zM426.3 76.2h1.9v2.8h-1.9zM429.3 24.1h1.9v2.8h-1.9zM432.3 76.2h1.9v2.8h-1.9zM433.8 68.8h1.9v2.8h-1.9zM433.8 71.2h1.9v2.8h-1.9zM435.3 68.8h1.9v2.8h-1.9zM438.3 39h1.9v2.8h-1.9zM438.3 53.9h1.9v2.8h-1.9zM439.8 76.2h1.9v2.8h-1.9zM439.8 78.7h1.9v2.8h-1.9zM441.3 34.1h1.9v2.8h-1.9zM442.8 34.1h1.9v2.8h-1.9zM442.8 68.8h1.9v2.8h-1.9zM444.3 53.9h1.9v2.8h-1.9zM445.8 53.9h1.9v2.8h-1.9zM445.8 68.8h1.9v2.8h-1.9zM447.4 19.2h1.9v2.8h-1.9zM451.9 34.1h1.9v2.8h-1.9zM451.9 53.9h1.9v2.8h-1.9zM451.9 71.2h1.9v2.8h-1.9zM453.4 34.1h1.9v2.8h-1.9zM453.4 71.2h1.9v2.8h-1.9zM453.4 73.7h1.9v2.8h-1.9zM456.4 36.5h1.9v2.8h-1.9zM457.9 53.9h1.9v2.8h-1.9zM457.9 71.2h1.9v2.8h-1.9zM457.9 76.2h1.9v2.8h-1.9zM457.9 78.7h1.9v2.8h-1.9zM457.9 86.1h1.9v2.8h-1.9zM459.4 53.9h1.9v2.8h-1.9zM459.4 96h1.9v2.8h-1.9zM460.9 68.8h1.9v2.8h-1.9zM463.9 34.1h1.9v2.8h-1.9zM463.9 53.9h1.9v2.8h-1.9zM463.9 71.2h1.9v2.8h-1.9zM469.9 53.9h1.9v2.8h-1.9zM469.9 71.2h1.9v2.8h-1.9zM471.4 68.8h1.9v2.8h-1.9zM472.9 71.2h1.9v2.8h-1.9zM472.9 73.7h1.9v2.8h-1.9zM476 73.7h1.9v2.8h-1.9zM477.5 53.9h1.9v2.8h-1.9zM477.5 68.8h1.9v2.8h-1.9zM479 36.5h1.9v2.8h-1.9zM479 53.9h1.9v2.8h-1.9zM479 71.2h1.9v2.8h-1.9zM485 53.9h1.9v2.8h-1.9zM485 71.2h1.9v2.8h-1.9zM485 76.2h1.9v2.8h-1.9z"/>
<path fill="#910000" shape-rendering="crispEdges" d="M349.5 76.2h1.9v2.8h-1.9zM351 73.7h1.9v2.8h-1.9zM351 76.2h1.9v2.8h-1.9zM355.5 29.1h1.9v2.8h-1.9zM358.5 63.8h1.9v2.8h-1.9zM358.5 76.2h1.9v2.8h-1.9zM360 76.2h1.9v2.8h-1.9zM360 83.6h1.9v2.8h-1.9zM361.5 73.7h1.9v2.8h-1.9zM361.5 76.2h1.9v2.8h-1.9zM366.1 36.5h1.9v2.8h-1.9zM367.6 21.7h1.9v2.8h-1.9zM367.6 53.9h1.9v2.8h-1.9zM369.1 71.2h1.9v2.8h-1.9zM370.6 58.8h1.9v2.8h-1.9zM370.6 73.7h1.9v2.8h-1.9zM370.6 88.6h1.9v2.8h-1.9zM373.6 71.2h1.9v2.8h-1.9zM373.6 73.7h1.9v2.8h-1.9zM382.6 44h1.9v2.8h-1.9zM382.6 73.7h1.9v2.8h-1.9zM384.1 71.2h1.9v2.8h-1.9zM385.6 73.7h1.9v2.8h-1.9zM390.2 76.2h1.9v2.8h-1.9zM393.2 76.2h1.9v2.8h-1.9zM394.7 58.8h1.9v2.8h-1.9zM396.2 83.6h1.9v2.8h-1.9zM399.2 31.6h1.9v2.8h-1.9zM402.2 96h1.9v2.8h-1.9zM403.7 21.7h1.9v2.8h-1.9zM403.7 51.4h1.9v2.8h-1.9zM403.7 71.2h1.9v2.8h-1.9zM405.2 34.1h1.9v2.8h-1.9zM405.2 63.8h1.9v2.8h-1.9zM406.7 39h1.9v2.8h-1.9zM406.7 61.3h1.9v2.8h-1.9zM408.2 51.4h1.9v2.8h-1.9zM408.2 76.2h1.9v2.8h-1.9zM409.7 71.2h1.9v2.8h-1.9zM409.7 98.5h1.9v2.8h-1.9zM411.2 51.4h1.9v2.8h-1.9zM412.7 51.4h1.9v2.8h-1.9zM414.2 81.2h1.9v2.8h-1.9zM417.2 41.5h1.9v2.8h-1.9zM417.2 53.9h1.9v2.8h-1.9zM418.8 19.2h1.9v2.8h-1.9zM420.3 53.9h1.9v2.8h-1.9zM420.3 93.6h1.9v2.8h-1.9zM421.8 44h1.9v2.8h-1.9zM421.8 71.2h1.9v2.8h-1.9zM421.8 76.2h1.9v2.8h-1.9zM423.3 71.2h1.9v2.8h-1.9zM424.8 29.1h1.9v2.8h-1.9zM424.8 73.7h1.9v2.8h-1.9zM426.3 39h1.9v2.8h-1.9zM426.3 56.4h1.9v2.8h-1.9zM429.3 71.2h1.9v2.8h-1.9zM429.3 76.2h1.9v2.8h-1.9zM430.8 53.9h1.9v2.8h-1.9zM430.8 71.2h1.9v2.8h-1.9zM430.8 73.7h1.9v2.8h-1.9zM432.3 36.5h1.9v2.8h-1.9zM432.3 53.9h1.9v2.8h-1.9zM432.3 71.2h1.9v2.8h-1.9zM433.8 34.1h1.9v2.8h-1.9zM435.3 53.9h1.9v2.8h-1.9zM436.8 44h1.9v2.8h-1.9zM436.8 53.9h1.9v2.8h-1.9zM436.8 71.2h1.9v2.8h-1.9zM438.3 36.5h1.9v2.8h-1.9zM438.3 44h1.9v2.8h-1.9zM438.3 71.2h1.9v2.8h-1.9zM439.8 44h1.9v2.8h-1.9zM441.3 53.9h1.9v2.8h-1.9zM442.8 29.1h1.9v2.8h-1.9zM442.8 36.5h1.9v2.8h-1.9zM442.8 71.2h1.9v2.8h-1.9zM444.3 36.5h1.9v2.8h-1.9zM444.3 41.5h1.9v2.8h-1.9zM444.3 71.2h1.9v2.8h-1.9zM444.3 91.1h1.9v2.8h-1.9zM447.4 76.2h1.9v2.8h-1.9zM448.9 71.2h1.9v2.8h-1.9zM450.4 36.5h1.9v2.8h-1.9zM450.4 53.9h1.9v2.8h-1.9zM450.4 71.2h1.9v2.8h-1.9zM450.4 88.6h1.9v2.8h-1.9zM451.9 44h1.9v2.8h-1.9zM453.4 53.9h1.9v2.8h-1.9zM454.9 36.5h1.9v2.8h-1.9zM454.9 41.5h1.9v2.8h-1.9zM456.4 53.9h1.9v2.8h-1.9zM456.4 71.2h1.9v2.8h-1.9zM457.9 44h1.9v2.8h-1.9zM459.4 44h1.9v2.8h-1.9zM459.4 71.2h1.9v2.8h-1.9zM459.4 91.1h1.9v2.8h-1.9zM460.9 53.9h1.9v2.8h-1.9zM460.9 71.2h1.9v2.8h-1.9zM462.4 41.5h1.9v2.8h-1.9zM462.4 71.2h1.9v2.8h-1.9zM463.9 36.5h1.9v2.8h-1.9zM463.9 44h1.9v2.8h-1.9zM465.4 41.5h1.9v2.8h-1.9zM466.9 29.1h1.9v2.8h-1.9zM466.9 73.7h1.9v2.8h-1.9zM468.4 53.9h1.9v2.8h-1.9zM468.4 63.8h1.9v2.8h-1.9zM471.4 73.7h1.9v2.8h-1.9zM474.5 53.9h1.9v2.8h-1.9zM476 41.5h1.9v2.8h-1.9zM476 53.9h1.9v2.8h-1.9zM477.5 34.1h1.9v2.8h-1.9zM479 41.5h1.9v2.8h-1.9zM479 73.7h1.9v2.8h-1.9zM480.5 36.5h1.9v2.8h-1.9zM480.5 53.9h1.9v2.8h-1.9zM482 34.1h1.9v2.8h-1.9zM483.5 19.2h1.9v2.8h-1.9zM483.5 41.5h1.9v2.8h-1.9zM483.5 44h1.9v2.8h-1.9zM485 34.1h1.9v2.8h-1.9zM485 36.5h1.9v2.8h-1.9zM485 44h1.9v2.8h-1.9zM485 73.7h1.9v2.8h-1.9zM486.5 73.7h1.9v2.8h-1.9z"/>
<path fill="#ae0000" shape-rendering="crispEdges" d="M352.5 71.2h1.9v2.8h-1.9zM355.5 71.2h1.9v2.8h-1.9zM361.5 71.2h1.9v2.8h-1.9zM364.6 73.7h1.9v2.8h-1.9zM366.1 71.2h1.9v2.8h-1.9zM370.6 26.6h1.9v2.8h-1.9zM375.1 48.9h1.9v2.8h-1.9zM376.6 53.9h1.9v2.8h-1.9zM376.6 73.7h1.9v2.8h-1.9zM388.6 71.2h1.9v2.8h-1.9zM388.6 73.7h1.9v2.8h-1.9zM393.2 73.7h1.9v2.8h-1.9zM396.2 71.2h1.9v2.8h-1.9zM397.7 71.2h1.9v2.8h-1.9zM399.2 71.2h1.9v2.8h-1.9zM408.2 93.6h1.9v2.8h-1.9zM412.7 73.7h1.9v2.8h-1.9zM414.2 51.4h1.9v2.8h-1.9zM415.7 51.4h1.9v2.8h-1.9zM417.2 34.1h1.9v2.8h-1.9zM417.2 36.5h1.9v2.8h-1.9zM418.8 44h1.9v2.8h-1.9zM420.3 34.1h1.9v2.8h-1.9zM420.3 73.7h1.9v2.8h-1.9zM423.3 36.5h1.9v2.8h-1.9zM424.8 44h1.9v2.8h-1.9zM426.3 44h1.9v2.8h-1.9zM427.8 71.2h1.9v2.8h-1.9zM429.3 36.5h1.9v2.8h-1.9zM435.3 71.2h1.9v2.8h-1.9zM435.3 73.7h1.9v2.8h-1.9zM439.8 71.2h1.9v2.8h-1.9zM441.3 71.2h1.9v2.8h-1.9zM441.3 73.7h1.9v2.8h-1.9zM447.4 36.5h1.9v2.8h-1.9zM447.4 73.7h1.9v2.8h-1.9zM448.9 41.5h1.9v2.8h-1.9zM450.4 73.7h1.9v2.8h-1.9zM454.9 71.2h1.9v2.8h-1.9zM454.9 73.7h1.9v2.8h-1.9zM460.9 36.5h1.9v2.8h-1.9zM460.9 41.5h1.9v2.8h-1.9zM460.9 44h1.9v2.8h-1.9zM462.4 73.7h1.9v2.8h-1.9zM465.4 71.2h1.9v2.8h-1.9zM466.9 36.5h1.9v2.8h-1.9zM472.9 41.5h1.9v2.8h-1.9zM474.5 73.7h1.9v2.8h-1.9zM476 93.6h1.9v2.8h-1.9zM477.5 73.7h1.9v2.8h-1.9zM479 81.2h1.9v2.8h-1.9zM480.5 39h1.9v2.8h-1.9zM480.5 73.7h1.9v2.8h-1.9zM482 36.5h1.9v2.8h-1.9zM483.5 36.5h1.9v2.8h-1.9zM486.5 44h1.9v2.8h-1.9z"/>
<path fill="#cb0000" shape-rendering="crispEdges" d="M352.5 73.7h1.9v2.8h-1.9zM355.5 73.7h1.9v2.8h-1.9zM357 73.7h1.9v2.8h-1.9zM363.1 73.7h1.9v2.8h-1.9zM367.6 71.2h1.9v2.8h-1.9zM367.6 73.7h1.9v2.8h-1.9zM369.1 73.7h1.9v2.8h-1.9zM370.6 31.6h1.9v2.8h-1.9zM376.6 48.9h1.9v2.8h-1.9zM379.6 73.7h1.9v2.8h-1.9zM390.2 71.2h1.9v2.8h-1.9zM393.2 71.2h1.9v2.8h-1.9zM394.7 73.7h1.9v2.8h-1.9zM400.7 73.7h1.9v2.8h-1.9zM408.2 48.9h1.9v2.8h-1.9zM409.7 73.7h1.9v2.8h-1.9zM414.2 71.2h1.9v2.8h-1.9zM414.2 73.7h1.9v2.8h-1.9zM415.7 71.2h1.9v2.8h-1.9zM417.2 44h1.9v2.8h-1.9zM417.2 73.7h1.9v2.8h-1.9zM418.8 71.2h1.9v2.8h-1.9zM420.3 41.5h1.9v2.8h-1.9zM421.8 39h1.9v2.8h-1.9zM421.8 73.7h1.9v2.8h-1.9zM423.3 41.5h1.9v2.8h-1.9zM424.8 39h1.9v2.8h-1.9zM429.3 41.5h1.9v2.8h-1.9zM430.8 36.5h1.9v2.8h-1.9zM430.8 41.5h1.9v2.8h-1.9zM432.3 41.5h1.9v2.8h-1.9zM433.8 73.7h1.9v2.8h-1.9zM435.3 39h1.9v2.8h-1.9zM436.8 41.5h1.9v2.8h-1.9zM436.8 73.7h1.9v2.8h-1.9zM439.8 41.5h1.9v2.8h-1.9zM442.8 39h1.9v2.8h-1.9zM444.3 44h1.9v2.8h-1.9zM445.8 44h1.9v2.8h-1.9zM448.9 73.7h1.9v2.8h-1.9zM456.4 44h1.9v2.8h-1.9zM459.4 41.5h1.9v2.8h-1.9zM459.4 73.7h1.9v2.8h-1.9zM460.9 73.7h1.9v2.8h-1.9zM463.9 73.7h1.9v2.8h-1.9zM469.9 73.7h1.9v2.8h-1.9zM474.5 36.5h1.9v2.8h-1.9zM474.5 39h1.9v2.8h-1.9zM476 39h1.9v2.8h-1.9zM477.5 41.5h1.9v2.8h-1.9zM482 41.5h1.9v2.8h-1.9zM482 73.7h1.9v2.8h-1.9z"/>
<path fill="#ff2400" shape-rendering="crispEdges" d="M358.5 73.7h1.9v2.8h-1.9zM376.6 71.2h1.9v2.8h-1.9zM408.2 73.7h1.9v2.8h-1.9zM436.8 51.4h1.9v2.8h-1.9zM441.3 51.4h1.9v2.8h-1.9zM445.8 73.7h1.9v2.8h-1.9zM447.4 44h1.9v2.8h-1.9zM450.4 39h1.9v2.8h-1.9zM450.4 44h1.9v2.8h-1.9zM453.4 41.5h1.9v2.8h-1.9zM453.4 51.4h1.9v2.8h-1.9zM454.9 39h1.9v2.8h-1.9zM459.4 51.4h1.9v2.8h-1.9zM462.4 51.4h1.9v2.8h-1.9zM465.4 44h1.9v2.8h-1.9zM466.9 44h1.9v2.8h-1.9zM471.4 41.5h1.9v2.8h-1.9zM474.5 44h1.9v2.8h-1.9zM476 46.5h1.9v2.8h-1.9zM480.5 51.4h1.9v2.8h-1.9zM483.5 73.7h1.9v2.8h-1.9z"/>
<path fill="#ff5e00" shape-rendering="crispEdges" d="M370.6 29.1h1.9v2.8h-1.9zM421.8 51.4h1.9v2.8h-1.9zM423.3 44h1.9v2.8h-1.9zM423.3 46.5h1.9v2.8h-1.9zM429.3 46.5h1.9v2.8h-1.9zM429.3 51.4h1.9v2.8h-1.9zM435.3 51.4h1.9v2.8h-1.9zM445.8 41.5h1.9v2.8h-1.9zM445.8 46.5h1.9v2.8h-1.9zM447.4 46.5h1.9v2.8h-1.9zM453.4 46.5h1.9v2.8h-1.9zM454.9 51.4h1.9v2.8h-1.9zM456.4 51.4h1.9v2.8h-1.9zM460.9 51.4h1.9v2.8h-1.9zM462.4 44h1.9v2.8h-1.9zM466.9 46.5h1.9v2.8h-1.9zM469.9 51.4h1.9v2.8h-1.9zM486.5 46.5h1.9v2.8h-1.9zM486.5 51.4h1.9v2.8h-1.9z"/>
<path fill="#ff0600" shape-rendering="crispEdges" d="M375.1 51.4h1.9v2.8h-1.9zM378.1 73.7h1.9v2.8h-1.9zM409.7 48.9h1.9v2.8h-1.9zM412.7 48.9h1.9v2.8h-1.9zM424.8 41.5h1.9v2.8h-1.9zM433.8 44h1.9v2.8h-1.9zM435.3 44h1.9v2.8h-1.9zM445.8 51.4h1.9v2.8h-1.9zM447.4 41.5h1.9v2.8h-1.9zM448.9 39h1.9v2.8h-1.9zM454.9 44h1.9v2.8h-1.9zM466.9 71.2h1.9v2.8h-1.9zM469.9 41.5h1.9v2.8h-1.9zM476 44h1.9v2.8h-1.9zM477.5 44h1.9v2.8h-1.9zM480.5 44h1.9v2.8h-1.9zM483.5 71.2h1.9v2.8h-1.9zM485 39h1.9v2.8h-1.9zM486.5 41.5h1.9v2.8h-1.9z"/>
<path fill="#ff4100" shape-rendering="crispEdges" d="M406.7 48.9h1.9v2.8h-1.9zM414.2 48.9h1.9v2.8h-1.9zM415.7 48.9h1.9v2.8h-1.9zM420.3 44h1.9v2.8h-1.9zM427.8 44h1.9v2.8h-1.9zM442.8 46.5h1.9v2.8h-1.9zM448.9 51.4h1.9v2.8h-1.9zM451.9 51.4h1.9v2.8h-1.9zM456.4 46.5h1.9v2.8h-1.9zM457.9 46.5h1.9v2.8h-1.9zM459.4 39h1.9v2.8h-1.9zM459.4 46.5h1.9v2.8h-1.9zM463.9 46.5h1.9v2.8h-1.9zM466.9 41.5h1.9v2.8h-1.9zM468.4 46.5h1.9v2.8h-1.9zM468.4 51.4h1.9v2.8h-1.9zM471.4 51.4h1.9v2.8h-1.9zM472.9 39h1.9v2.8h-1.9zM474.5 41.5h1.9v2.8h-1.9zM476 51.4h1.9v2.8h-1.9zM485 41.5h1.9v2.8h-1.9z"/>
<path fill="#ffef00" shape-rendering="crispEdges" d="M417.2 46.5h1.9v2.8h-1.9zM420.3 46.5h1.9v2.8h-1.9zM430.8 46.5h1.9v2.8h-1.9zM433.8 46.5h1.9v2.8h-1.9zM435.3 46.5h1.9v2.8h-1.9zM439.8 46.5h1.9v2.8h-1.9zM477.5 48.9h1.9v2.8h-1.9zM480.5 46.5h1.9v2.8h-1.9z"/>
<path fill="#ffff88" shape-rendering="crispEdges" d="M417.2 48.9h1.9v2.8h-1.9zM421.8 48.9h1.9v2.8h-1.9zM424.8 48.9h1.9v2.8h-1.9zM453.4 48.9h1.9v2.8h-1.9zM459.4 48.9h1.9v2.8h-1.9zM463.9 48.9h1.9v2.8h-1.9zM471.4 48.9h1.9v2.8h-1.9zM472.9 48.9h1.9v2.8h-1.9z"/>
<path fill="#ff7b00" shape-rendering="crispEdges" d="M417.2 51.4h1.9v2.8h-1.9zM418.8 51.4h1.9v2.8h-1.9zM420.3 51.4h1.9v2.8h-1.9zM421.8 46.5h1.9v2.8h-1.9zM424.8 51.4h1.9v2.8h-1.9zM426.3 51.4h1.9v2.8h-1.9zM442.8 51.4h1.9v2.8h-1.9zM444.3 51.4h1.9v2.8h-1.9zM451.9 46.5h1.9v2.8h-1.9zM463.9 41.5h1.9v2.8h-1.9zM463.9 51.4h1.9v2.8h-1.9zM465.4 46.5h1.9v2.8h-1.9zM465.4 51.4h1.9v2.8h-1.9zM471.4 46.5h1.9v2.8h-1.9zM482 46.5h1.9v2.8h-1.9zM482 51.4h1.9v2.8h-1.9zM483.5 51.4h1.9v2.8h-1.9z"/>
<path fill="#ffd200" shape-rendering="crispEdges" d="M418.8 46.5h1.9v2.8h-1.9zM423.3 51.4h1.9v2.8h-1.9zM426.3 46.5h1.9v2.8h-1.9zM438.3 46.5h1.9v2.8h-1.9zM448.9 46.5h1.9v2.8h-1.9zM450.4 46.5h1.9v2.8h-1.9zM456.4 48.9h1.9v2.8h-1.9zM460.9 46.5h1.9v2.8h-1.9zM462.4 48.9h1.9v2.8h-1.9zM472.9 51.4h1.9v2.8h-1.9zM474.5 46.5h1.9v2.8h-1.9zM483.5 46.5h1.9v2.8h-1.9zM485 46.5h1.9v2.8h-1.9z"/>
<path fill="#ffff12" shape-rendering="crispEdges" d="M418.8 48.9h1.9v2.8h-1.9zM436.8 48.9h1.9v2.8h-1.9zM474.5 48.9h1.9v2.8h-1.9zM479 48.9h1.9v2.8h-1.9zM483.5 48.9h1.9v2.8h-1.9z"/>
<path fill="#ffffb0" shape-rendering="crispEdges" d="M420.3 48.9h1.9v2.8h-1.9zM423.3 48.9h1.9v2.8h-1.9zM447.4 48.9h1.9v2.8h-1.9zM448.9 48.9h1.9v2.8h-1.9zM450.4 48.9h1.9v2.8h-1.9zM480.5 48.9h1.9v2.8h-1.9z"/>
<path fill="#ffb500" shape-rendering="crispEdges" d="M424.8 46.5h1.9v2.8h-1.9zM427.8 46.5h1.9v2.8h-1.9zM430.8 51.4h1.9v2.8h-1.9zM432.3 51.4h1.9v2.8h-1.9zM433.8 51.4h1.9v2.8h-1.9zM435.3 48.9h1.9v2.8h-1.9zM436.8 46.5h1.9v2.8h-1.9zM439.8 48.9h1.9v2.8h-1.9zM441.3 46.5h1.9v2.8h-1.9zM442.8 48.9h1.9v2.8h-1.9zM444.3 46.5h1.9v2.8h-1.9zM450.4 51.4h1.9v2.8h-1.9zM451.9 48.9h1.9v2.8h-1.9zM454.9 46.5h1.9v2.8h-1.9zM454.9 48.9h1.9v2.8h-1.9zM469.9 48.9h1.9v2.8h-1.9zM477.5 51.4h1.9v2.8h-1.9zM479 46.5h1.9v2.8h-1.9zM479 51.4h1.9v2.8h-1.9zM485 51.4h1.9v2.8h-1.9z"/>
<path fill="#ffffd7" shape-rendering="crispEdges" d="M426.3 48.9h1.9v2.8h-1.9zM429.3 48.9h1.9v2.8h-1.9zM438.3 48.9h1.9v2.8h-1.9zM445.8 48.9h1.9v2.8h-1.9zM457.9 48.9h1.9v2.8h-1.9zM466.9 48.9h1.9v2.8h-1.9z"/>
<path fill="#ffff3a" shape-rendering="crispEdges" d="M427.8 48.9h1.9v2.8h-1.9zM432.3 48.9h1.9v2.8h-1.9zM444.3 48.9h1.9v2.8h-1.9zM485 48.9h1.9v2.8h-1.9zM486.5 48.9h1.9v2.8h-1.9z"/>
<path fill="#ff9800" shape-rendering="crispEdges" d="M427.8 51.4h1.9v2.8h-1.9zM432.3 46.5h1.9v2.8h-1.9zM433.8 48.9h1.9v2.8h-1.9zM438.3 51.4h1.9v2.8h-1.9zM439.8 51.4h1.9v2.8h-1.9zM447.4 51.4h1.9v2.8h-1.9zM457.9 51.4h1.9v2.8h-1.9zM462.4 46.5h1.9v2.8h-1.9zM465.4 48.9h1.9v2.8h-1.9zM466.9 51.4h1.9v2.8h-1.9zM468.4 48.9h1.9v2.8h-1.9zM469.9 46.5h1.9v2.8h-1.9zM472.9 46.5h1.9v2.8h-1.9zM474.5 51.4h1.9v2.8h-1.9zM476 48.9h1.9v2.8h-1.9zM477.5 46.5h1.9v2.8h-1.9z"/>
<path fill="#ffff61" shape-rendering="crispEdges" d="M430.8 48.9h1.9v2.8h-1.9zM441.3 48.9h1.9v2.8h-1.9zM460.9 48.9h1.9v2.8h-1.9zM482 48.9h1.9v2.8h-1.9z"/>
</g>
<line x1="394.7" y1="101" x2="394.7" y2="106" stroke="#111" stroke-width="1"/>
<text x="397" y="116.8" font-size="12" text-anchor="end" fill="#111" font-weight="normal" font-style="normal" >700</text>
<line x1="441.3" y1="101" x2="441.3" y2="106" stroke="#111" stroke-width="1"/>
<text x="443.6" y="116.8" font-size="12" text-anchor="end" fill="#111" font-weight="normal" font-style="normal" >800</text>
<line x1="488" y1="101" x2="488" y2="106" stroke="#111" stroke-width="1"/>
<text x="490.3" y="116.8" font-size="12" text-anchor="end" fill="#111" font-weight="normal" font-style="normal" >900</text>
<text x="424" y="130.5" font-size="12" text-anchor="middle" fill="#111" font-weight="normal" font-style="normal" >Time (s)</text>
<rect x="496" y="16.7" width="144" height="84.3" fill="#000"/>
<clipPath id="ch3"><rect x="496" y="16.7" width="144" height="84.3"/></clipPath>
<g clip-path="url(#ch3)" filter="url(#hb)">
<path fill="#570000" shape-rendering="crispEdges" d="M496 46.5h1.9v2.8h-1.9zM499 51.4h1.9v2.8h-1.9zM505 48.9h1.9v2.8h-1.9zM506.5 51.4h1.9v2.8h-1.9zM508 31.6h1.9v2.8h-1.9zM508 68.8h1.9v2.8h-1.9zM509.5 71.2h1.9v2.8h-1.9zM511 53.9h1.9v2.8h-1.9zM511 73.7h1.9v2.8h-1.9zM512.5 31.6h1.9v2.8h-1.9zM514 31.6h1.9v2.8h-1.9zM514 53.9h1.9v2.8h-1.9zM515.5 71.2h1.9v2.8h-1.9zM517 68.8h1.9v2.8h-1.9zM518.5 34.1h1.9v2.8h-1.9zM518.5 58.8h1.9v2.8h-1.9zM520 51.4h1.9v2.8h-1.9zM520 78.7h1.9v2.8h-1.9zM527.5 98.5h1.9v2.8h-1.9zM529 16.7h1.9v2.8h-1.9zM530.5 34.1h1.9v2.8h-1.9zM530.5 51.4h1.9v2.8h-1.9zM530.5 63.8h1.9v2.8h-1.9zM532 31.6h1.9v2.8h-1.9zM533.5 68.8h1.9v2.8h-1.9zM533.5 71.2h1.9v2.8h-1.9zM536.5 51.4h1.9v2.8h-1.9zM536.5 71.2h1.9v2.8h-1.9zM538 51.4h1.9v2.8h-1.9zM539.5 31.6h1.9v2.8h-1.9zM541 51.4h1.9v2.8h-1.9zM542.5 88.6h1.9v2.8h-1.9zM544 68.8h1.9v2.8h-1.9zM545.5 36.5h1.9v2.8h-1.9zM547 48.9h1.9v2.8h-1.9zM548.5 71.2h1.9v2.8h-1.9zM550 29.1h1.9v2.8h-1.9zM550 34.1h1.9v2.8h-1.9zM551.5 48.9h1.9v2.8h-1.9zM553 68.8h1.9v2.8h-1.9zM556 73.7h1.9v2.8h-1.9zM557.5 66.3h1.9v2.8h-1.9zM559 31.6h1.9v2.8h-1.9zM559 71.2h1.9v2.8h-1.9zM559 73.7h1.9v2.8h-1.9zM560.5 34.1h1.9v2.8h-1.9zM560.5 51.4h1.9v2.8h-1.9zM562 34.1h1.9v2.8h-1.9zM562 48.9h1.9v2.8h-1.9zM562 68.8h1.9v2.8h-1.9zM563.5 66.3h1.9v2.8h-1.9zM566.5 31.6h1.9v2.8h-1.9zM566.5 51.4h1.9v2.8h-1.9zM568 31.6h1.9v2.8h-1.9zM568 51.4h1.9v2.8h-1.9zM569.5 34.1h1.9v2.8h-1.9zM569.5 48.9h1.9v2.8h-1.9zM569.5 51.4h1.9v2.8h-1.9zM571 36.5h1.9v2.8h-1.9zM571 48.9h1.9v2.8h-1.9zM572.5 51.4h1.9v2.8h-1.9zM574 31.6h1.9v2.8h-1.9zM574 73.7h1.9v2.8h-1.9zM578.5 93.6h1.9v2.8h-1.9zM580 48.9h1.9v2.8h-1.9zM583 68.8h1.9v2.8h-1.9zM584.5 34.1h1.9v2.8h-1.9zM586 63.8h1.9v2.8h-1.9zM587.5 31.6h1.9v2.8h-1.9zM590.5 51.4h1.9v2.8h-1.9zM593.5 31.6h1.9v2.8h-1.9zM593.5 51.4h1.9v2.8h-1.9zM593.5 71.2h1.9v2.8h-1.9zM595 53.9h1.9v2.8h-1.9zM596.5 31.6h1.9v2.8h-1.9zM598 68.8h1.9v2.8h-1.9zM599.5 68.8h1.9v2.8h-1.9zM602.5 31.6h1.9v2.8h-1.9zM602.5 71.2h1.9v2.8h-1.9zM604 31.6h1.9v2.8h-1.9zM604 68.8h1.9v2.8h-1.9zM607 36.5h1.9v2.8h-1.9zM607 68.8h1.9v2.8h-1.9zM610 34.1h1.9v2.8h-1.9zM614.5 68.8h1.9v2.8h-1.9zM616 53.9h1.9v2.8h-1.9zM616 93.6h1.9v2.8h-1.9zM617.5 31.6h1.9v2.8h-1.9zM617.5 68.8h1.9v2.8h-1.9zM619 73.7h1.9v2.8h-1.9zM619 88.6h1.9v2.8h-1.9zM620.5 51.4h1.9v2.8h-1.9zM622 68.8h1.9v2.8h-1.9zM623.5 51.4h1.9v2.8h-1.9zM626.5 36.5h1.9v2.8h-1.9zM628 34.1h1.9v2.8h-1.9zM628 73.7h1.9v2.8h-1.9zM629.5 76.2h1.9v2.8h-1.9zM629.5 78.7h1.9v2.8h-1.9zM631 51.4h1.9v2.8h-1.9zM632.5 73.7h1.9v2.8h-1.9zM637 91.1h1.9v2.8h-1.9z"/>
<path fill="#740000" shape-rendering="crispEdges" d="M496 71.2h1.9v2.8h-1.9zM497.5 34.1h1.9v2.8h-1.9zM497.5 73.7h1.9v2.8h-1.9zM497.5 78.7h1.9v2.8h-1.9zM499 34.1h1.9v2.8h-1.9zM499 48.9h1.9v2.8h-1.9zM499 73.7h1.9v2.8h-1.9zM500.5 34.1h1.9v2.8h-1.9zM502 48.9h1.9v2.8h-1.9zM503.5 34.1h1.9v2.8h-1.9zM503.5 71.2h1.9v2.8h-1.9zM503.5 73.7h1.9v2.8h-1.9zM505 29.1h1.9v2.8h-1.9zM505 78.7h1.9v2.8h-1.9zM508 71.2h1.9v2.8h-1.9zM508 73.7h1.9v2.8h-1.9zM509.5 31.6h1.9v2.8h-1.9zM509.5 73.7h1.9v2.8h-1.9zM509.5 88.6h1.9v2.8h-1.9zM511 31.6h1.9v2.8h-1.9zM511 71.2h1.9v2.8h-1.9zM512.5 53.9h1.9v2.8h-1.9zM512.5 73.7h1.9v2.8h-1.9zM515.5 34.1h1.9v2.8h-1.9zM515.5 51.4h1.9v2.8h-1.9zM517 48.9h1.9v2.8h-1.9zM518.5 71.2h1.9v2.8h-1.9zM520 68.8h1.9v2.8h-1.9zM524.5 19.2h1.9v2.8h-1.9zM524.5 71.2h1.9v2.8h-1.9zM527.5 68.8h1.9v2.8h-1.9zM532 51.4h1.9v2.8h-1.9zM532 71.2h1.9v2.8h-1.9zM533.5 51.4h1.9v2.8h-1.9zM535 51.4h1.9v2.8h-1.9zM536.5 29.1h1.9v2.8h-1.9zM536.5 34.1h1.9v2.8h-1.9zM538 34.1h1.9v2.8h-1.9zM541 31.6h1.9v2.8h-1.9zM542.5 34.1h1.9v2.8h-1.9zM544 48.9h1.9v2.8h-1.9zM544 73.7h1.9v2.8h-1.9zM545.5 73.7h1.9v2.8h-1.9zM547 73.7h1.9v2.8h-1.9zM548.5 36.5h1.9v2.8h-1.9zM548.5 46.5h1.9v2.8h-1.9zM550 36.5h1.9v2.8h-1.9zM550 48.9h1.9v2.8h-1.9zM551.5 68.8h1.9v2.8h-1.9zM551.5 71.2h1.9v2.8h-1.9zM553 16.7h1.9v2.8h-1.9zM553 41.5h1.9v2.8h-1.9zM553 46.5h1.9v2.8h-1.9zM553 73.7h1.9v2.8h-1.9zM556 78.7h1.9v2.8h-1.9zM559 34.1h1.9v2.8h-1.9zM559 51.4h1.9v2.8h-1.9zM560.5 81.2h1.9v2.8h-1.9zM562 73.7h1.9v2.8h-1.9zM563.5 51.4h1.9v2.8h-1.9zM565 91.1h1.9v2.8h-1.9zM566.5 73.7h1.9v2.8h-1.9zM568 73.7h1.9v2.8h-1.9zM571 46.5h1.9v2.8h-1.9zM572.5 34.1h1.9v2.8h-1.9zM572.5 71.2h1.9v2.8h-1.9zM572.5 73.7h1.9v2.8h-1.9zM574 51.4h1.9v2.8h-1.9zM575.5 34.1h1.9v2.8h-1.9zM578.5 48.9h1.9v2.8h-1.9zM580 36.5h1.9v2.8h-1.9zM580 61.3h1.9v2.8h-1.9zM580 73.7h1.9v2.8h-1.9zM581.5 83.6h1.9v2.8h-1.9zM583 48.9h1.9v2.8h-1.9zM583 73.7h1.9v2.8h-1.9zM584.5 31.6h1.9v2.8h-1.9zM584.5 73.7h1.9v2.8h-1.9zM586 51.4h1.9v2.8h-1.9zM587.5 51.4h1.9v2.8h-1.9zM587.5 68.8h1.9v2.8h-1.9zM587.5 73.7h1.9v2.8h-1.9zM589 51.4h1.9v2.8h-1.9zM589 73.7h1.9v2.8h-1.9zM590.5 48.9h1.9v2.8h-1.9zM590.5 71.2h1.9v2.8h-1.9zM590.5 73.7h1.9v2.8h-1.9zM592 68.8h1.9v2.8h-1.9zM595 31.6h1.9v2.8h-1.9zM595 51.4h1.9v2.8h-1.9zM595 71.2h1.9v2.8h-1.9zM595 73.7h1.9v2.8h-1.9zM596.5 51.4h1.9v2.8h-1.9zM596.5 73.7h1.9v2.8h-1.9zM598 34.1h1.9v2.8h-1.9zM598 48.9h1.9v2.8h-1.9zM599.5 34.1h1.9v2.8h-1.9zM599.5 51.4h1.9v2.8h-1.9zM601 51.4h1.9v2.8h-1.9zM602.5 73.7h1.9v2.8h-1.9zM604 51.4h1.9v2.8h-1.9zM605.5 34.1h1.9v2.8h-1.9zM605.5 86.1h1.9v2.8h-1.9zM607 48.9h1.9v2.8h-1.9zM607 71.2h1.9v2.8h-1.9zM608.5 36.5h1.9v2.8h-1.9zM608.5 48.9h1.9v2.8h-1.9zM610 53.9h1.9v2.8h-1.9zM610 68.8h1.9v2.8h-1.9zM613 73.7h1.9v2.8h-1.9zM614.5 83.6h1.9v2.8h-1.9zM616 31.6h1.9v2.8h-1.9zM616 71.2h1.9v2.8h-1.9zM616 73.7h1.9v2.8h-1.9zM617.5 34.1h1.9v2.8h-1.9zM617.5 51.4h1.9v2.8h-1.9zM619 34.1h1.9v2.8h-1.9zM619 48.9h1.9v2.8h-1.9zM620.5 71.2h1.9v2.8h-1.9zM620.5 73.7h1.9v2.8h-1.9zM622 51.4h1.9v2.8h-1.9zM623.5 73.7h1.9v2.8h-1.9zM625 36.5h1.9v2.8h-1.9zM628 36.5h1.9v2.8h-1.9zM629.5 34.1h1.9v2.8h-1.9zM631 34.1h1.9v2.8h-1.9zM632.5 34.1h1.9v2.8h-1.9zM632.5 71.2h1.9v2.8h-1.9zM635.5 73.7h1.9v2.8h-1.9zM637 71.2h1.9v2.8h-1.9z"/>
<path fill="#ae0000" shape-rendering="crispEdges" d="M496 73.7h1.9v2.8h-1.9zM497.5 36.5h1.9v2.8h-1.9zM500.5 48.9h1.9v2.8h-1.9zM502 73.7h1.9v2.8h-1.9zM503.5 36.5h1.9v2.8h-1.9zM503.5 46.5h1.9v2.8h-1.9zM505 46.5h1.9v2.8h-1.9zM506.5 48.9h1.9v2.8h-1.9zM506.5 73.7h1.9v2.8h-1.9zM509.5 34.1h1.9v2.8h-1.9zM509.5 51.4h1.9v2.8h-1.9zM511 34.1h1.9v2.8h-1.9zM514 51.4h1.9v2.8h-1.9zM517 39h1.9v2.8h-1.9zM517 46.5h1.9v2.8h-1.9zM517 71.2h1.9v2.8h-1.9zM523 71.2h1.9v2.8h-1.9zM527.5 73.7h1.9v2.8h-1.9zM529 71.2h1.9v2.8h-1.9zM532 48.9h1.9v2.8h-1.9zM532 78.7h1.9v2.8h-1.9zM533.5 34.1h1.9v2.8h-1.9zM535 24.1h1.9v2.8h-1.9zM536.5 73.7h1.9v2.8h-1.9zM538 48.9h1.9v2.8h-1.9zM541 34.1h1.9v2.8h-1.9zM541 61.3h1.9v2.8h-1.9zM541 71.2h1.9v2.8h-1.9zM542.5 71.2h1.9v2.8h-1.9zM544 96h1.9v2.8h-1.9zM547 39h1.9v2.8h-1.9zM547 41.5h1.9v2.8h-1.9zM547 71.2h1.9v2.8h-1.9zM551.5 39h1.9v2.8h-1.9zM551.5 73.7h1.9v2.8h-1.9zM553 71.2h1.9v2.8h-1.9zM554.5 71.2h1.9v2.8h-1.9zM554.5 73.7h1.9v2.8h-1.9zM556 71.2h1.9v2.8h-1.9zM563.5 73.7h1.9v2.8h-1.9zM565 73.7h1.9v2.8h-1.9zM566.5 34.1h1.9v2.8h-1.9zM568 34.1h1.9v2.8h-1.9zM568 48.9h1.9v2.8h-1.9zM569.5 36.5h1.9v2.8h-1.9zM571 71.2h1.9v2.8h-1.9zM571 73.7h1.9v2.8h-1.9zM572.5 46.5h1.9v2.8h-1.9zM572.5 48.9h1.9v2.8h-1.9zM575.5 46.5h1.9v2.8h-1.9zM575.5 48.9h1.9v2.8h-1.9zM575.5 73.7h1.9v2.8h-1.9zM575.5 93.6h1.9v2.8h-1.9zM577 44h1.9v2.8h-1.9zM577 46.5h1.9v2.8h-1.9zM577 73.7h1.9v2.8h-1.9zM578.5 39h1.9v2.8h-1.9zM578.5 44h1.9v2.8h-1.9zM578.5 46.5h1.9v2.8h-1.9zM580 46.5h1.9v2.8h-1.9zM580 71.2h1.9v2.8h-1.9zM581.5 36.5h1.9v2.8h-1.9zM583 36.5h1.9v2.8h-1.9zM584.5 36.5h1.9v2.8h-1.9zM584.5 46.5h1.9v2.8h-1.9zM584.5 48.9h1.9v2.8h-1.9zM586 34.1h1.9v2.8h-1.9zM586 73.7h1.9v2.8h-1.9zM587.5 48.9h1.9v2.8h-1.9zM589 36.5h1.9v2.8h-1.9zM590.5 36.5h1.9v2.8h-1.9zM592 71.2h1.9v2.8h-1.9zM593.5 36.5h1.9v2.8h-1.9zM595 63.8h1.9v2.8h-1.9zM596.5 71.2h1.9v2.8h-1.9zM599.5 48.9h1.9v2.8h-1.9zM602.5 48.9h1.9v2.8h-1.9zM604 34.1h1.9v2.8h-1.9zM604 36.5h1.9v2.8h-1.9zM604 48.9h1.9v2.8h-1.9zM604 71.2h1.9v2.8h-1.9zM604 73.7h1.9v2.8h-1.9zM605.5 48.9h1.9v2.8h-1.9zM605.5 71.2h1.9v2.8h-1.9zM607 39h1.9v2.8h-1.9zM607 46.5h1.9v2.8h-1.9zM610 46.5h1.9v2.8h-1.9zM610 48.9h1.9v2.8h-1.9zM614.5 34.1h1.9v2.8h-1.9zM616 34.1h1.9v2.8h-1.9zM619 71.2h1.9v2.8h-1.9zM620.5 48.9h1.9v2.8h-1.9zM622 71.2h1.9v2.8h-1.9zM623.5 48.9h1.9v2.8h-1.9zM625 44h1.9v2.8h-1.9zM626.5 44h1.9v2.8h-1.9zM626.5 46.5h1.9v2.8h-1.9zM628 46.5h1.9v2.8h-1.9zM628 71.2h1.9v2.8h-1.9zM629.5 46.5h1.9v2.8h-1.9zM629.5 48.9h1.9v2.8h-1.9zM629.5 73.7h1.9v2.8h-1.9zM631 48.9h1.9v2.8h-1.9zM631 73.7h1.9v2.8h-1.9zM632.5 48.9h1.9v2.8h-1.9zM638.5 73.7h1.9v2.8h-1.9z"/>
<path fill="#ff0600" shape-rendering="crispEdges" d="M497.5 39h1.9v2.8h-1.9zM499 71.2h1.9v2.8h-1.9zM500.5 46.5h1.9v2.8h-1.9zM502 39h1.9v2.8h-1.9zM502 41.5h1.9v2.8h-1.9zM505 41.5h1.9v2.8h-1.9zM506.5 46.5h1.9v2.8h-1.9zM509.5 48.9h1.9v2.8h-1.9zM511 36.5h1.9v2.8h-1.9zM511 48.9h1.9v2.8h-1.9zM515.5 39h1.9v2.8h-1.9zM517 41.5h1.9v2.8h-1.9zM520 36.5h1.9v2.8h-1.9zM520 46.5h1.9v2.8h-1.9zM521.5 71.2h1.9v2.8h-1.9zM530.5 39h1.9v2.8h-1.9zM532 46.5h1.9v2.8h-1.9zM533.5 44h1.9v2.8h-1.9zM536.5 39h1.9v2.8h-1.9zM536.5 41.5h1.9v2.8h-1.9zM536.5 44h1.9v2.8h-1.9zM539.5 39h1.9v2.8h-1.9zM541 39h1.9v2.8h-1.9zM542.5 39h1.9v2.8h-1.9zM544 39h1.9v2.8h-1.9zM544 44h1.9v2.8h-1.9zM544 46.5h1.9v2.8h-1.9zM559 36.5h1.9v2.8h-1.9zM559 46.5h1.9v2.8h-1.9zM562 44h1.9v2.8h-1.9zM563.5 39h1.9v2.8h-1.9zM563.5 46.5h1.9v2.8h-1.9zM566.5 39h1.9v2.8h-1.9zM566.5 41.5h1.9v2.8h-1.9zM566.5 71.2h1.9v2.8h-1.9zM568 36.5h1.9v2.8h-1.9zM568 41.5h1.9v2.8h-1.9zM574 46.5h1.9v2.8h-1.9zM581.5 44h1.9v2.8h-1.9zM583 41.5h1.9v2.8h-1.9zM583 71.2h1.9v2.8h-1.9zM584.5 44h1.9v2.8h-1.9zM589 46.5h1.9v2.8h-1.9zM590.5 39h1.9v2.8h-1.9zM590.5 44h1.9v2.8h-1.9zM595 48.9h1.9v2.8h-1.9zM596.5 39h1.9v2.8h-1.9zM598 44h1.9v2.8h-1.9zM604 44h1.9v2.8h-1.9zM605.5 44h1.9v2.8h-1.9zM610 39h1.9v2.8h-1.9zM617.5 36.5h1.9v2.8h-1.9zM620.5 39h1.9v2.8h-1.9zM620.5 46.5h1.9v2.8h-1.9zM623.5 71.2h1.9v2.8h-1.9zM626.5 41.5h1.9v2.8h-1.9zM628 39h1.9v2.8h-1.9zM628 44h1.9v2.8h-1.9zM629.5 39h1.9v2.8h-1.9zM629.5 44h1.9v2.8h-1.9zM631 44h1.9v2.8h-1.9zM632.5 44h1.9v2.8h-1.9z"/>
<path fill="#ff7b00" shape-rendering="crispEdges" d="M497.5 41.5h1.9v2.8h-1.9zM511 41.5h1.9v2.8h-1.9zM514 36.5h1.9v2.8h-1.9zM514 44h1.9v2.8h-1.9zM520 41.5h1.9v2.8h-1.9zM535 41.5h1.9v2.8h-1.9zM574 44h1.9v2.8h-1.9zM587.5 41.5h1.9v2.8h-1.9zM590.5 41.5h1.9v2.8h-1.9zM593.5 39h1.9v2.8h-1.9zM596.5 41.5h1.9v2.8h-1.9zM599.5 44h1.9v2.8h-1.9zM614.5 44h1.9v2.8h-1.9zM620.5 41.5h1.9v2.8h-1.9zM620.5 44h1.9v2.8h-1.9zM631 41.5h1.9v2.8h-1.9z"/>
<path fill="#ff4100" shape-rendering="crispEdges" d="M497.5 44h1.9v2.8h-1.9zM497.5 46.5h1.9v2.8h-1.9zM499 39h1.9v2.8h-1.9zM500.5 39h1.9v2.8h-1.9zM503.5 39h1.9v2.8h-1.9zM512.5 36.5h1.9v2.8h-1.9zM512.5 41.5h1.9v2.8h-1.9zM514 46.5h1.9v2.8h-1.9zM518.5 44h1.9v2.8h-1.9zM520 39h1.9v2.8h-1.9zM535 36.5h1.9v2.8h-1.9zM535 39h1.9v2.8h-1.9zM542.5 41.5h1.9v2.8h-1.9zM544 41.5h1.9v2.8h-1.9zM559 41.5h1.9v2.8h-1.9zM562 41.5h1.9v2.8h-1.9zM566.5 44h1.9v2.8h-1.9zM568 39h1.9v2.8h-1.9zM568 44h1.9v2.8h-1.9zM569.5 41.5h1.9v2.8h-1.9zM572.5 41.5h1.9v2.8h-1.9zM575.5 41.5h1.9v2.8h-1.9zM586 39h1.9v2.8h-1.9zM587.5 44h1.9v2.8h-1.9zM595 41.5h1.9v2.8h-1.9zM595 44h1.9v2.8h-1.9zM595 46.5h1.9v2.8h-1.9zM598 39h1.9v2.8h-1.9zM598 41.5h1.9v2.8h-1.9zM601 44h1.9v2.8h-1.9zM601 46.5h1.9v2.8h-1.9zM602.5 39h1.9v2.8h-1.9zM614.5 39h1.9v2.8h-1.9zM617.5 46.5h1.9v2.8h-1.9zM631 39h1.9v2.8h-1.9zM632.5 39h1.9v2.8h-1.9z"/>
<path fill="#910000" shape-rendering="crispEdges" d="M497.5 48.9h1.9v2.8h-1.9zM502 71.2h1.9v2.8h-1.9zM503.5 48.9h1.9v2.8h-1.9zM505 36.5h1.9v2.8h-1.9zM506.5 34.1h1.9v2.8h-1.9zM506.5 71.2h1.9v2.8h-1.9zM508 34.1h1.9v2.8h-1.9zM508 51.4h1.9v2.8h-1.9zM512.5 51.4h1.9v2.8h-1.9zM512.5 71.2h1.9v2.8h-1.9zM514 71.2h1.9v2.8h-1.9zM515.5 86.1h1.9v2.8h-1.9zM517 36.5h1.9v2.8h-1.9zM518.5 48.9h1.9v2.8h-1.9zM520 73.7h1.9v2.8h-1.9zM521.5 73.7h1.9v2.8h-1.9zM524.5 73.7h1.9v2.8h-1.9zM526 56.4h1.9v2.8h-1.9zM526 71.2h1.9v2.8h-1.9zM526 73.7h1.9v2.8h-1.9zM530.5 36.5h1.9v2.8h-1.9zM530.5 48.9h1.9v2.8h-1.9zM533.5 73.7h1.9v2.8h-1.9zM535 34.1h1.9v2.8h-1.9zM538 73.7h1.9v2.8h-1.9zM539.5 24.1h1.9v2.8h-1.9zM539.5 34.1h1.9v2.8h-1.9zM539.5 51.4h1.9v2.8h-1.9zM539.5 73.7h1.9v2.8h-1.9zM541 68.8h1.9v2.8h-1.9zM545.5 39h1.9v2.8h-1.9zM545.5 44h1.9v2.8h-1.9zM545.5 46.5h1.9v2.8h-1.9zM547 44h1.9v2.8h-1.9zM547 46.5h1.9v2.8h-1.9zM548.5 44h1.9v2.8h-1.9zM548.5 73.7h1.9v2.8h-1.9zM550 46.5h1.9v2.8h-1.9zM550 71.2h1.9v2.8h-1.9zM550 73.7h1.9v2.8h-1.9zM551.5 44h1.9v2.8h-1.9zM551.5 46.5h1.9v2.8h-1.9zM553 39h1.9v2.8h-1.9zM553 44h1.9v2.8h-1.9zM557.5 71.2h1.9v2.8h-1.9zM560.5 48.9h1.9v2.8h-1.9zM562 36.5h1.9v2.8h-1.9zM563.5 34.1h1.9v2.8h-1.9zM563.5 48.9h1.9v2.8h-1.9zM563.5 71.2h1.9v2.8h-1.9zM565 16.7h1.9v2.8h-1.9zM565 71.2h1.9v2.8h-1.9zM568 71.2h1.9v2.8h-1.9zM571 39h1.9v2.8h-1.9zM571 44h1.9v2.8h-1.9zM574 34.1h1.9v2.8h-1.9zM574 71.2h1.9v2.8h-1.9zM575.5 36.5h1.9v2.8h-1.9zM577 36.5h1.9v2.8h-1.9zM578.5 36.5h1.9v2.8h-1.9zM580 39h1.9v2.8h-1.9zM581.5 46.5h1.9v2.8h-1.9zM581.5 48.9h1.9v2.8h-1.9zM581.5 73.7h1.9v2.8h-1.9zM583 46.5h1.9v2.8h-1.9zM583 58.8h1.9v2.8h-1.9zM584.5 29.1h1.9v2.8h-1.9zM584.5 71.2h1.9v2.8h-1.9zM586 48.9h1.9v2.8h-1.9zM587.5 34.1h1.9v2.8h-1.9zM589 34.1h1.9v2.8h-1.9zM589 48.9h1.9v2.8h-1.9zM590.5 34.1h1.9v2.8h-1.9zM593.5 34.1h1.9v2.8h-1.9zM593.5 73.7h1.9v2.8h-1.9zM595 93.6h1.9v2.8h-1.9zM596.5 34.1h1.9v2.8h-1.9zM596.5 48.9h1.9v2.8h-1.9zM598 76.2h1.9v2.8h-1.9zM599.5 71.2h1.9v2.8h-1.9zM601 34.1h1.9v2.8h-1.9zM601 71.2h1.9v2.8h-1.9zM601 73.7h1.9v2.8h-1.9zM602.5 34.1h1.9v2.8h-1.9zM602.5 51.4h1.9v2.8h-1.9zM605.5 36.5h1.9v2.8h-1.9zM610 36.5h1.9v2.8h-1.9zM611.5 71.2h1.9v2.8h-1.9zM611.5 88.6h1.9v2.8h-1.9zM613 46.5h1.9v2.8h-1.9zM614.5 51.4h1.9v2.8h-1.9zM614.5 73.7h1.9v2.8h-1.9zM616 51.4h1.9v2.8h-1.9zM619 26.6h1.9v2.8h-1.9zM619 76.2h1.9v2.8h-1.9zM620.5 34.1h1.9v2.8h-1.9zM622 31.6h1.9v2.8h-1.9zM623.5 34.1h1.9v2.8h-1.9zM625 39h1.9v2.8h-1.9zM625 41.5h1.9v2.8h-1.9zM625 46.5h1.9v2.8h-1.9zM626.5 71.2h1.9v2.8h-1.9zM626.5 73.7h1.9v2.8h-1.9zM628 48.9h1.9v2.8h-1.9zM634 71.2h1.9v2.8h-1.9zM635.5 71.2h1.9v2.8h-1.9zM637 19.2h1.9v2.8h-1.9zM638.5 71.2h1.9v2.8h-1.9z"/>
<path fill="#cb0000" shape-rendering="crispEdges" d="M499 36.5h1.9v2.8h-1.9zM500.5 71.2h1.9v2.8h-1.9zM502 46.5h1.9v2.8h-1.9zM505 39h1.9v2.8h-1.9zM505 44h1.9v2.8h-1.9zM508 36.5h1.9v2.8h-1.9zM511 51.4h1.9v2.8h-1.9zM515.5 73.7h1.9v2.8h-1.9zM520 34.1h1.9v2.8h-1.9zM530.5 46.5h1.9v2.8h-1.9zM530.5 71.2h1.9v2.8h-1.9zM532 36.5h1.9v2.8h-1.9zM533.5 48.9h1.9v2.8h-1.9zM535 48.9h1.9v2.8h-1.9zM535 73.7h1.9v2.8h-1.9zM536.5 46.5h1.9v2.8h-1.9zM536.5 48.9h1.9v2.8h-1.9zM539.5 46.5h1.9v2.8h-1.9zM539.5 48.9h1.9v2.8h-1.9zM539.5 71.2h1.9v2.8h-1.9zM541 48.9h1.9v2.8h-1.9zM542.5 48.9h1.9v2.8h-1.9zM544 36.5h1.9v2.8h-1.9zM545.5 71.2h1.9v2.8h-1.9zM548.5 39h1.9v2.8h-1.9zM548.5 41.5h1.9v2.8h-1.9zM550 39h1.9v2.8h-1.9zM550 41.5h1.9v2.8h-1.9zM550 44h1.9v2.8h-1.9zM551.5 41.5h1.9v2.8h-1.9zM559 48.9h1.9v2.8h-1.9zM560.5 36.5h1.9v2.8h-1.9zM560.5 39h1.9v2.8h-1.9zM560.5 71.2h1.9v2.8h-1.9zM562 39h1.9v2.8h-1.9zM562 46.5h1.9v2.8h-1.9zM563.5 36.5h1.9v2.8h-1.9zM569.5 39h1.9v2.8h-1.9zM569.5 46.5h1.9v2.8h-1.9zM572.5 36.5h1.9v2.8h-1.9zM572.5 44h1.9v2.8h-1.9zM574 36.5h1.9v2.8h-1.9zM574 48.9h1.9v2.8h-1.9zM575.5 71.2h1.9v2.8h-1.9zM577 39h1.9v2.8h-1.9zM577 41.5h1.9v2.8h-1.9zM578.5 41.5h1.9v2.8h-1.9zM578.5 71.2h1.9v2.8h-1.9zM581.5 39h1.9v2.8h-1.9zM581.5 41.5h1.9v2.8h-1.9zM581.5 71.2h1.9v2.8h-1.9zM583 44h1.9v2.8h-1.9zM586 36.5h1.9v2.8h-1.9zM586 71.2h1.9v2.8h-1.9zM590.5 46.5h1.9v2.8h-1.9zM598 73.7h1.9v2.8h-1.9zM599.5 73.7h1.9v2.8h-1.9zM601 36.5h1.9v2.8h-1.9zM601 48.9h1.9v2.8h-1.9zM605.5 39h1.9v2.8h-1.9zM605.5 46.5h1.9v2.8h-1.9zM605.5 73.7h1.9v2.8h-1.9zM607 41.5h1.9v2.8h-1.9zM608.5 41.5h1.9v2.8h-1.9zM608.5 44h1.9v2.8h-1.9zM608.5 46.5h1.9v2.8h-1.9zM608.5 71.2h1.9v2.8h-1.9zM610 71.2h1.9v2.8h-1.9zM611.5 73.7h1.9v2.8h-1.9zM613 71.2h1.9v2.8h-1.9zM616 48.9h1.9v2.8h-1.9zM619 36.5h1.9v2.8h-1.9zM619 46.5h1.9v2.8h-1.9zM620.5 36.5h1.9v2.8h-1.9zM622 34.1h1.9v2.8h-1.9zM623.5 36.5h1.9v2.8h-1.9zM626.5 39h1.9v2.8h-1.9zM628 41.5h1.9v2.8h-1.9zM629.5 36.5h1.9v2.8h-1.9zM631 46.5h1.9v2.8h-1.9zM631 71.2h1.9v2.8h-1.9zM632.5 36.5h1.9v2.8h-1.9zM634 73.7h1.9v2.8h-1.9z"/>
<path fill="#ff9800" shape-rendering="crispEdges" d="M499 41.5h1.9v2.8h-1.9zM500.5 44h1.9v2.8h-1.9zM508 44h1.9v2.8h-1.9zM509.5 39h1.9v2.8h-1.9zM512.5 39h1.9v2.8h-1.9zM512.5 46.5h1.9v2.8h-1.9zM514 39h1.9v2.8h-1.9zM532 39h1.9v2.8h-1.9zM533.5 39h1.9v2.8h-1.9zM539.5 44h1.9v2.8h-1.9zM593.5 44h1.9v2.8h-1.9zM595 39h1.9v2.8h-1.9zM599.5 41.5h1.9v2.8h-1.9zM614.5 41.5h1.9v2.8h-1.9zM617.5 41.5h1.9v2.8h-1.9zM622 41.5h1.9v2.8h-1.9zM622 46.5h1.9v2.8h-1.9z"/>
<path fill="#ff2400" shape-rendering="crispEdges" d="M499 44h1.9v2.8h-1.9zM499 46.5h1.9v2.8h-1.9zM502 44h1.9v2.8h-1.9zM506.5 39h1.9v2.8h-1.9zM508 39h1.9v2.8h-1.9zM508 46.5h1.9v2.8h-1.9zM511 46.5h1.9v2.8h-1.9zM514 48.9h1.9v2.8h-1.9zM515.5 46.5h1.9v2.8h-1.9zM517 44h1.9v2.8h-1.9zM518.5 39h1.9v2.8h-1.9zM518.5 46.5h1.9v2.8h-1.9zM530.5 44h1.9v2.8h-1.9zM533.5 46.5h1.9v2.8h-1.9zM535 46.5h1.9v2.8h-1.9zM539.5 36.5h1.9v2.8h-1.9zM541 36.5h1.9v2.8h-1.9zM541 46.5h1.9v2.8h-1.9zM542.5 44h1.9v2.8h-1.9zM559 44h1.9v2.8h-1.9zM566.5 36.5h1.9v2.8h-1.9zM568 46.5h1.9v2.8h-1.9zM572.5 39h1.9v2.8h-1.9zM575.5 39h1.9v2.8h-1.9zM584.5 41.5h1.9v2.8h-1.9zM587.5 46.5h1.9v2.8h-1.9zM593.5 41.5h1.9v2.8h-1.9zM595 36.5h1.9v2.8h-1.9zM596.5 44h1.9v2.8h-1.9zM599.5 39h1.9v2.8h-1.9zM599.5 46.5h1.9v2.8h-1.9zM601 39h1.9v2.8h-1.9zM604 41.5h1.9v2.8h-1.9zM604 46.5h1.9v2.8h-1.9zM610 41.5h1.9v2.8h-1.9zM614.5 36.5h1.9v2.8h-1.9zM616 36.5h1.9v2.8h-1.9zM616 44h1.9v2.8h-1.9zM617.5 39h1.9v2.8h-1.9zM617.5 44h1.9v2.8h-1.9zM619 39h1.9v2.8h-1.9zM619 44h1.9v2.8h-1.9zM622 39h1.9v2.8h-1.9zM622 48.9h1.9v2.8h-1.9zM623.5 39h1.9v2.8h-1.9zM623.5 41.5h1.9v2.8h-1.9zM623.5 44h1.9v2.8h-1.9zM632.5 41.5h1.9v2.8h-1.9z"/>
<path fill="#e80000" shape-rendering="crispEdges" d="M500.5 36.5h1.9v2.8h-1.9zM502 36.5h1.9v2.8h-1.9zM505 71.2h1.9v2.8h-1.9zM506.5 36.5h1.9v2.8h-1.9zM506.5 41.5h1.9v2.8h-1.9zM508 48.9h1.9v2.8h-1.9zM509.5 36.5h1.9v2.8h-1.9zM512.5 34.1h1.9v2.8h-1.9zM512.5 48.9h1.9v2.8h-1.9zM514 34.1h1.9v2.8h-1.9zM515.5 36.5h1.9v2.8h-1.9zM515.5 48.9h1.9v2.8h-1.9zM517 73.7h1.9v2.8h-1.9zM518.5 36.5h1.9v2.8h-1.9zM518.5 41.5h1.9v2.8h-1.9zM520 48.9h1.9v2.8h-1.9zM520 71.2h1.9v2.8h-1.9zM527.5 71.2h1.9v2.8h-1.9zM532 34.1h1.9v2.8h-1.9zM533.5 36.5h1.9v2.8h-1.9zM535 71.2h1.9v2.8h-1.9zM536.5 36.5h1.9v2.8h-1.9zM538 36.5h1.9v2.8h-1.9zM538 46.5h1.9v2.8h-1.9zM538 71.2h1.9v2.8h-1.9zM542.5 36.5h1.9v2.8h-1.9zM542.5 46.5h1.9v2.8h-1.9zM544 71.2h1.9v2.8h-1.9zM545.5 41.5h1.9v2.8h-1.9zM559 39h1.9v2.8h-1.9zM560.5 46.5h1.9v2.8h-1.9zM562 71.2h1.9v2.8h-1.9zM563.5 44h1.9v2.8h-1.9zM566.5 48.9h1.9v2.8h-1.9zM569.5 44h1.9v2.8h-1.9zM569.5 71.2h1.9v2.8h-1.9zM571 41.5h1.9v2.8h-1.9zM577 71.2h1.9v2.8h-1.9zM580 41.5h1.9v2.8h-1.9zM580 44h1.9v2.8h-1.9zM583 39h1.9v2.8h-1.9zM584.5 39h1.9v2.8h-1.9zM586 46.5h1.9v2.8h-1.9zM587.5 36.5h1.9v2.8h-1.9zM587.5 39h1.9v2.8h-1.9zM587.5 71.2h1.9v2.8h-1.9zM593.5 46.5h1.9v2.8h-1.9zM593.5 48.9h1.9v2.8h-1.9zM595 34.1h1.9v2.8h-1.9zM596.5 36.5h1.9v2.8h-1.9zM596.5 46.5h1.9v2.8h-1.9zM598 36.5h1.9v2.8h-1.9zM598 46.5h1.9v2.8h-1.9zM598 71.2h1.9v2.8h-1.9zM599.5 36.5h1.9v2.8h-1.9zM602.5 36.5h1.9v2.8h-1.9zM602.5 46.5h1.9v2.8h-1.9zM604 39h1.9v2.8h-1.9zM607 44h1.9v2.8h-1.9zM608.5 39h1.9v2.8h-1.9zM610 44h1.9v2.8h-1.9zM614.5 46.5h1.9v2.8h-1.9zM614.5 48.9h1.9v2.8h-1.9zM617.5 48.9h1.9v2.8h-1.9zM623.5 46.5h1.9v2.8h-1.9zM629.5 41.5h1.9v2.8h-1.9zM629.5 71.2h1.9v2.8h-1.9zM631 36.5h1.9v2.8h-1.9zM632.5 46.5h1.9v2.8h-1.9z"/>
<path fill="#ff5e00" shape-rendering="crispEdges" d="M500.5 41.5h1.9v2.8h-1.9zM503.5 41.5h1.9v2.8h-1.9zM503.5 44h1.9v2.8h-1.9zM506.5 44h1.9v2.8h-1.9zM509.5 46.5h1.9v2.8h-1.9zM512.5 44h1.9v2.8h-1.9zM515.5 44h1.9v2.8h-1.9zM530.5 41.5h1.9v2.8h-1.9zM532 44h1.9v2.8h-1.9zM533.5 41.5h1.9v2.8h-1.9zM535 44h1.9v2.8h-1.9zM538 39h1.9v2.8h-1.9zM538 41.5h1.9v2.8h-1.9zM538 44h1.9v2.8h-1.9zM539.5 41.5h1.9v2.8h-1.9zM541 44h1.9v2.8h-1.9zM560.5 41.5h1.9v2.8h-1.9zM560.5 44h1.9v2.8h-1.9zM563.5 41.5h1.9v2.8h-1.9zM566.5 46.5h1.9v2.8h-1.9zM574 39h1.9v2.8h-1.9zM574 41.5h1.9v2.8h-1.9zM575.5 44h1.9v2.8h-1.9zM586 41.5h1.9v2.8h-1.9zM586 44h1.9v2.8h-1.9zM589 39h1.9v2.8h-1.9zM589 41.5h1.9v2.8h-1.9zM589 44h1.9v2.8h-1.9zM602.5 44h1.9v2.8h-1.9zM605.5 41.5h1.9v2.8h-1.9zM616 39h1.9v2.8h-1.9zM616 46.5h1.9v2.8h-1.9zM619 41.5h1.9v2.8h-1.9zM622 36.5h1.9v2.8h-1.9z"/>
<path fill="#ffb500" shape-rendering="crispEdges" d="M508 41.5h1.9v2.8h-1.9zM509.5 41.5h1.9v2.8h-1.9zM511 39h1.9v2.8h-1.9zM515.5 41.5h1.9v2.8h-1.9zM532 41.5h1.9v2.8h-1.9zM601 41.5h1.9v2.8h-1.9zM602.5 41.5h1.9v2.8h-1.9zM616 41.5h1.9v2.8h-1.9zM622 44h1.9v2.8h-1.9z"/>
<path fill="#ffd200" shape-rendering="crispEdges" d="M509.5 44h1.9v2.8h-1.9zM520 44h1.9v2.8h-1.9zM541 41.5h1.9v2.8h-1.9z"/>
<path fill="#ffef00" shape-rendering="crispEdges" d="M511 44h1.9v2.8h-1.9z"/>
<path fill="#ffff12" shape-rendering="crispEdges" d="M514 41.5h1.9v2.8h-1.9z"/>
</g>
<line x1="544" y1="101" x2="544" y2="106" stroke="#111" stroke-width="1"/>
<text x="546.3" y="116.8" font-size="12" text-anchor="end" fill="#111" font-weight="normal" font-style="normal" >1000</text>
<line x1="592" y1="101" x2="592" y2="106" stroke="#111" stroke-width="1"/>
<text x="594.3" y="116.8" font-size="12" text-anchor="end" fill="#111" font-weight="normal" font-style="normal" >1100</text>
<line x1="640" y1="101" x2="640" y2="106" stroke="#111" stroke-width="1"/>
<text x="642.3" y="116.8" font-size="12" text-anchor="end" fill="#111" font-weight="normal" font-style="normal" >1200</text>
<text x="574" y="130.5" font-size="12" text-anchor="middle" fill="#111" font-weight="normal" font-style="normal" >Time (s)</text>
<line x1="44.5" y1="28.4" x2="49" y2="28.4" stroke="#111" stroke-width="1"/>
<text x="44.3" y="32.6" font-size="12" text-anchor="end" fill="#111" font-weight="normal" font-style="normal" >700</text>
<line x1="44.5" y1="58.4" x2="49" y2="58.4" stroke="#111" stroke-width="1"/>
<text x="44.3" y="62.6" font-size="12" text-anchor="end" fill="#111" font-weight="normal" font-style="normal" >650</text>
<line x1="44.5" y1="88.4" x2="49" y2="88.4" stroke="#111" stroke-width="1"/>
<text x="44.3" y="92.6" font-size="12" text-anchor="end" fill="#111" font-weight="normal" font-style="normal" >600</text>
<text transform="translate(20.5,59) rotate(-90)" font-size="11.5" text-anchor="middle" fill="#111">Wavelength (nm)</text>
<text x="31" y="44.5" font-size="12" font-style="italic" fill="#d42f35">X<tspan font-size="9" dy="3.5">L</tspan></text>
<text x="31.5" y="77.5" font-size="12" font-style="italic" fill="#363f96">A<tspan font-size="8" dy="-5">0</tspan></text>
<g stroke="#d22a30" stroke-width="2" fill="none">
<line x1="48.5" y1="23.2" x2="640" y2="23.2" stroke-dasharray="14.5 6"/>
<line x1="48.5" y1="63.6" x2="640" y2="63.6" stroke-dasharray="14.5 6"/>
<line x1="49.3" y1="23.2" x2="49.3" y2="63.6" stroke-dasharray="12 6 14.4 6"/>
<line x1="639.6" y1="27.5" x2="639.6" y2="61.5" stroke-dasharray="11 6.5 16.5 10"/>
</g>
<defs><linearGradient id="ghot" x1="0" y1="1" x2="0" y2="0"><stop offset="0" stop-color="#000"/><stop offset="0.12" stop-color="#5a0000"/><stop offset="0.33" stop-color="#e01818"/><stop offset="0.55" stop-color="#f57a1a"/><stop offset="0.75" stop-color="#f5e020"/><stop offset="0.9" stop-color="#fafaa0"/><stop offset="1" stop-color="#ffffff"/></linearGradient></defs>
<rect x="644.5" y="14.5" width="5" height="89.3" fill="url(#ghot)" stroke="#777" stroke-width="0.6"/>
<line x1="649.5" y1="14.8" x2="652" y2="14.8" stroke="#555" stroke-width="0.8"/>
<line x1="649.5" y1="103.6" x2="652" y2="103.6" stroke="#555" stroke-width="0.8"/>
<text x="651.5" y="19.5" font-size="12" text-anchor="start" fill="#111" font-weight="normal" font-style="normal" >1000</text>
<text x="650.5" y="107.5" font-size="12" text-anchor="start" fill="#111" font-weight="normal" font-style="normal" >150</text>
<text transform="translate(650.6,60.9) rotate(90)" font-size="12.2" text-anchor="middle" fill="#111">Counts</text>
<text x="0" y="134.9" font-size="12" text-anchor="start" fill="#111" font-weight="bold" font-style="normal" >b</text>
<rect x="51.8" y="145.2" width="140" height="74.2" fill="#fff"/>
<clipPath id="cb0"><rect x="51.8" y="145.2" width="140" height="74.2"/></clipPath>
<g clip-path="url(#cb0)" fill="none" stroke="#3444ae" stroke-opacity="0.7" stroke-width="0.6">
<path d="M55 144.2l-0.7 1.6 0.9 1.6-0.6 1.6 0 1.6-0.3 1.6 0 1.6-0.6 1.6-0.1 1.6 0.1 1.6-0.1 1.6-0.1 1.6 0.5 1.6-0.3 1.6-1 1.6-1 1.6-0.5 1.6-1.4 1.6-0.1 1.6 0.3 1.6 1.9 1.6 1.1 1.6 1.5 1.6 0.7 1.6-0.4 1.6 0.4 1.6 0 1.6-0.5 1.6 0.9 1.6 2.1 1.6 1.1 1 1.9 1 1.5 1 0.3 1-1.4 1-2.2 1-1.8 1-1.4 1-0.7 1-0.2 1.6-0.4 1.6 0.2 1.6-0.5 1.6 0.2 1.6 0.2 1.6 0.3 1.6-0.4 1.6-0.3 1.6 0.1 1.6 0.1 1.6-0.3 1.6 0.3 1.6"/>
<path d="M56.9 144.2l-0.6 1.6 0.3 1.6-0.4 1.6 0.3 1.6-0.4 1.6-0.5 1.6-0.6 1.6 0 1.6-0.1 1.6 0.5 1.6 0 1.6 0.5 1.6-0.1 1.6-0.2 1.6-0.8 1.6-1 1.6-1.2 1.6-0.8 1.6 0.2 1.6 1.3 1.6 1.3 1.6 0.6 1.6 1.4 1.6 0.3 1.6-0.7 1.6 1 1.6-0.1 1.6 0.9 1.6 2 1.6 1.9 1 3 1 1.9 1 0.9 1-1.9 1-2.5 1-2.3 1-1.6 1-1.6 1-1.8 1.6-0.5 1.6 0.3 1.6-0.3 1.6 0.1 1.6 0.2 1.6 0.2 1.6-0.2 1.6 0.3 1.6-0.6 1.6 0.4 1.6 0.1 1.6 0.5 1.6"/>
<path d="M58.6 144.2l0 1.6 0.7 1.6-0.1 1.6-0.3 1.6 0.5 1.6-1.1 1.6-0.2 1.6-0.5 1.6 0 1.6-0.4 1.6 0.1 1.6-0.6 1.6-0.5 1.6-0.3 1.6-0.8 1.6-1.9 1.6-0.6 1.6-0.4 1.6-0.3 1.6 2.1 1.6 1 1.6 1.9 1.6 0.4 1.6 1.1 1.6-0.3 1.6 0.6 1.6 0.1 1.6 0.9 1.6 1.9 1.6 2.2 1 2.4 1 2.6 1-0.3 1-1.2 1-2.5 1-2.7 1-2 1-0.7 1-1.5 1.6-0.2 1.6 0.1 1.6-0.3 1.6 0.4 1.6-0.4 1.6 0.2 1.6-0.8 1.6-0.4 1.6 0.2 1.6-0.2 1.6-0.1 1.6-0.3 1.6"/>
<path d="M59.9 144.2l0 1.6 0.2 1.6 0.5 1.6-0.3 1.6-0.4 1.6-0.4 1.6-0.2 1.6 0.6 1.6 0.2 1.6-0.3 1.6 0.3 1.6 0.6 1.6-0.9 1.6-0.7 1.6 0.1 1.6-0.5 1.6-0.6 1.6 0.3 1.6 0.6 1.6 0.6 1.6 0.5 1.6 1 1.6-0.8 1.6 0.1 1.6 1 1.6 0.2 1.6 0.8 1.6 1.4 1.6 0.6 1.6 1.4 1 2.2 1 1.5 1 1.3 1-1.5 1-2.2 1-2 1-1.6 1-0.1 1-1.5 1.6 0.4 1.6 0 1.6-0.2 1.6 0.3 1.6-0.4 1.6-0.6 1.6 0.1 1.6-0.1 1.6-0.5 1.6 0.6 1.6-0.1 1.6 0.1 1.6"/>
<path d="M60.4 144.2l1 1.6-0.1 1.6 0.3 1.6-0.4 1.6 0 1.6 0.1 1.6 0.6 1.6 0.3 1.6-0.4 1.6 0.4 1.6-0.2 1.6-0.2 1.6-0.1 1.6-0.7 1.6 0 1.6-0.1 1.6-0.1 1.6 0.5 1.6 0.8 1.6 0.5 1.6-0.1 1.6 0.8 1.6-0.4 1.6 0.5 1.6 0.1 1.6 0 1.6 1.4 1.6 1.8 1.6 1 1.6 1.1 1 3.5 1 2.1 1 0.7 1-1.6 1-2.9 1-2.3 1-1.6 1-0.8 1-0.8 1.6-1.2 1.6 0.4 1.6-0.4 1.6 0.1 1.6-0.6 1.6 0 1.6-0.6 1.6-0.2 1.6-0.1 1.6 0.3 1.6-0.3 1.6-0.2 1.6"/>
<path d="M62.4 144.2l0.6 1.6 0.1 1.6-0.6 1.6 0.2 1.6 0.2 1.6-0.5 1.6 0.8 1.6-0.3 1.6 0.9 1.6-0.6 1.6-0.1 1.6-0.3 1.6-0.7 1.6-0.8 1.6-0.5 1.6 0.3 1.6 0.1 1.6 0.5 1.6 0.9 1.6 0.4 1.6 0.1 1.6 0 1.6-0.1 1.6 0.1 1.6 1 1.6 0.4 1.6 1.5 1.6 1.2 1.6 0.3 1.6 2.6 1 2 1 2.7 1-0.1 1-1.1 1-3 1-2 1-1.7 1-0.5 1-1.4 1.6 0 1.6 0.2 1.6 0.3 1.6-0.3 1.6-0.5 1.6-0.1 1.6-0.9 1.6 0.1 1.6-0.1 1.6 0 1.6-0.1 1.6-0.3 1.6"/>
<path d="M65.3 144.2l0.1 1.6 0.7 1.6-0.8 1.6 0.1 1.6 0 1.6-0.2 1.6 0.4 1.6 1.2 1.6 0.2 1.6 0.2 1.6-0.2 1.6-0.2 1.6-0.3 1.6-0.9 1.6-0.9 1.6 0.4 1.6-0.5 1.6 0.2 1.6 0.3 1.6 0.3 1.6-1 1.6-0.5 1.6 0.1 1.6-0.8 1.6 0.6 1.6 0 1.6 0.9 1.6 1 1.6 1.6 1.6 1 1 0.4 1 1.7 1 0.3 1-1.1 1-1.1 1-1.4 1-1.5 1 0.4 1-0.5 1.6-0.6 1.6 0.7 1.6-0.1 1.6-0.6 1.6 0 1.6 0.2 1.6-0.1 1.6-0.2 1.6 0.2 1.6 0.2 1.6-0.1 1.6-0.7 1.6"/>
<path d="M65.4 144.2l0.8 1.6-0.4 1.6-0.1 1.6-0.3 1.6-0.4 1.6 1.2 1.6 0.3 1.6 0 1.6 0.4 1.6 0.7 1.6-0.2 1.6-0.5 1.6-1.1 1.6-0.8 1.6-0.4 1.6 0.7 1.6 0.1 1.6-0.4 1.6-0.2 1.6-0.3 1.6-0.3 1.6-0.4 1.6-0.4 1.6 0.4 1.6 0.7 1.6 0.3 1.6 1.3 1.6 0.5 1.6 1.1 1.6 1.7 1 2.1 1 1.2 1 0.6 1-1.6 1-1.4 1-2.5 1-0.6 1-0.8 1-1 1.6 0.5 1.6-0.2 1.6-0.7 1.6 0.5 1.6-0.3 1.6-0.2 1.6-0.3 1.6-0.1 1.6 0.5 1.6-0.4 1.6-0.1 1.6 0 1.6"/>
<path d="M67.4 144.2l0.3 1.6 0.2 1.6-0.4 1.6-0.1 1.6 0.2 1.6 0.9 1.6 1.1 1.6 0.4 1.6 0.8 1.6-0.2 1.6-0.9 1.6-0.3 1.6-0.9 1.6-0.8 1.6 0.3 1.6-0.8 1.6 0.3 1.6-0.1 1.6-1.1 1.6 0.1 1.6-0.4 1.6-1.3 1.6 0 1.6 0.9 1.6 0.7 1.6 0.8 1.6 0 1.6 0.8 1.6 1.9 1.6 1.6 1 2.5 1 1.1 1 1.2 1-1.6 1-2.5 1-1.5 1-1 1-1.5 1-0.6 1.6 0.3 1.6-0.7 1.6 0 1.6-0.3 1.6-0.3 1.6 0.7 1.6 0.4 1.6-0.3 1.6 0.4 1.6-0.9 1.6 0.1 1.6-0.7 1.6"/>
<path d="M65.7 144.2l0.3 1.6 0.3 1.6-0.5 1.6-0.5 1.6-0.4 1.6-0.3 1.6 0 1.6 0.5 1.6 0.2 1.6 0.9 1.6 0.5 1.6-0.7 1.6 0.1 1.6-0.2 1.6-1.6 1.6-1 1.6-0.2 1.6-0.7 1.6 0.1 1.6 0.9 1.6 0.4 1.6-0.2 1.6 0.4 1.6 0.3 1.6 0 1.6 1 1.6 0.9 1.6 1.9 1.6 2.3 1.6 2.3 1 2.8 1 2 1 1.6 1-2.1 1-2.5 1-2.5 1-2.5 1-0.6 1-1.2 1.6-0.5 1.6-0.5 1.6 0.6 1.6 0.1 1.6-0.2 1.6-0.6 1.6 0.1 1.6 0.1 1.6 0.4 1.6 0.3 1.6-0.4 1.6 0.1 1.6"/>
<path d="M67.9 144.2l0 1.6 0.1 1.6 0.1 1.6-0.2 1.6-0.6 1.6-0.4 1.6-0.1 1.6-0.4 1.6 0.8 1.6 0.1 1.6 0.6 1.6 0.6 1.6 0.1 1.6-1.2 1.6-0.2 1.6-1.8 1.6-0.9 1.6 0 1.6-0.2 1.6 0.8 1.6 1.3 1.6 0.6 1.6-0.3 1.6 0.5 1.6-0.3 1.6 1.3 1.6 1.1 1.6 1.8 1.6 1.7 1.6 0.8 1 2.3 1 1.7 1 1.2 1-1.6 1-2.6 1-1.8 1-0.8 1-0.9 1-1.3 1.6-0.7 1.6 0.7 1.6 0.1 1.6 0.1 1.6-0.6 1.6-0.2 1.6 0.2 1.6-0.4 1.6 0 1.6 0.6 1.6 0 1.6-0.4 1.6"/>
<path d="M68.1 144.2l-0.1 1.6 0.2 1.6 0.5 1.6-0.4 1.6 0.2 1.6-0.5 1.6-0.2 1.6-0.1 1.6-0.5 1.6 1.1 1.6 0.2 1.6 0.6 1.6-0.2 1.6 0.4 1.6-0.8 1.6-1.5 1.6-0.9 1.6-0.4 1.6-0.3 1.6 0.7 1.6 1.5 1.6 0.3 1.6 0.3 1.6-0.5 1.6 0.4 1.6 0.1 1.6 0.7 1.6 1.5 1.6 1.4 1.6 1.5 1 2.1 1 1.5 1 0.9 1-1.2 1-2 1-1.9 1-1.1 1-0.9 1-0.5 1.6 0.1 1.6-0.5 1.6 0.4 1.6-0.3 1.6 0.4 1.6-0.7 1.6 0.1 1.6-0.2 1.6-0.4 1.6 0.4 1.6-0.2 1.6 0.3 1.6"/>
<path d="M67.7 144.2l0.2 1.6-0.8 1.6 0.1 1.6 1 1.6 0.1 1.6 1 1.6 0.5 1.6 0.8 1.6 0.1 1.6-0.6 1.6 0 1.6-0.7 1.6-0.8 1.6 0.2 1.6-0.2 1.6-0.3 1.6-0.5 1.6-0.1 1.6-0.5 1.6 0.8 1.6-0.4 1.6 1.6 1.6 0.5 1.6 0.9 1.6 0.8 1.6 1 1.6 0.6 1.6 0.5 1.6 1.5 1.6 1.6 1 2.8 1 2.4 1 0.5 1-1.4 1-2.6 1-2.6 1-0.9 1-1.3 1-1 1.6-0.5 1.6-0.6 1.6 0.7 1.6-0.2 1.6-0.3 1.6-0.1 1.6 1 1.6-0.8 1.6 0.4 1.6 0.2 1.6-0.9 1.6 0.2 1.6"/>
<path d="M69.6 144.2l-0.2 1.6 0.6 1.6 0 1.6 0.6 1.6 1.2 1.6 0.2 1.6 0.8 1.6 0.8 1.6-0.6 1.6-0.3 1.6-1.2 1.6-0.6 1.6-0.6 1.6 0 1.6-0.2 1.6 0.1 1.6-0.6 1.6 0.7 1.6 0.1 1.6-0.2 1.6 1.3 1.6 1 1.6 0.1 1.6 1.4 1.6 0.4 1.6-0.3 1.6 0.4 1.6-0.5 1.6 1.4 1.6 1.6 1 1.6 1 1.3 1 0.4 1-1.4 1-1 1-1.4 1-1.3 1 0.1 1-1.1 1.6 0.4 1.6-0.8 1.6-0.1 1.6 0.4 1.6-0.3 1.6 0.8 1.6 0 1.6-0.1 1.6-0.1 1.6-0.2 1.6-0.7 1.6-0.6 1.6"/>
<path d="M71.2 144.2l-0.1 1.6-0.9 1.6 0.5 1.6 0.2 1.6 1 1.6 0.3 1.6 0.6 1.6 0.6 1.6-0.3 1.6 0 1.6-0.8 1.6-0.2 1.6 0.3 1.6-0.4 1.6 0.6 1.6-1 1.6 0 1.6-0.7 1.6 0.2 1.6 0.3 1.6 0.1 1.6 1.4 1.6 0.8 1.6 1.7 1.6 0.3 1.6 0.5 1.6 1.1 1.6-0.1 1.6 1.4 1.6 2 1 2.5 1 3.1 1 0.6 1-1.6 1-3 1-2.8 1-1.6 1-1.3 1-0.5 1.6-0.4 1.6-0.5 1.6-0.5 1.6 0.4 1.6 0.1 1.6 0.4 1.6-0.4 1.6 0.5 1.6 0 1.6-0.5 1.6-0.5 1.6 0.3 1.6"/>
<path d="M75.2 144.2l-0.1 1.6-0.3 1.6 0.8 1.6-0.3 1.6 1 1.6-0.1 1.6-0.4 1.6-0.3 1.6-0.3 1.6-1.6 1.6-0.9 1.6-1.1 1.6-0.4 1.6 0.7 1.6-0.5 1.6-0.1 1.6 0.8 1.6-0.5 1.6 1.1 1.6-0.4 1.6 0.8 1.6 1.3 1.6-0.2 1.6 0.6 1.6 0.1 1.6 0.4 1.6 0.5 1.6 0.1 1.6 1 1.6 0.8 1 2.3 1 1 1 0.9 1-1.4 1-0.9 1-1 1-0.6 1-1.3 1-0.4 1.6 0.1 1.6 0.2 1.6-0.9 1.6 0.5 1.6-0.1 1.6 0 1.6-0.6 1.6-0.7 1.6-0.2 1.6-0.3 1.6 0.6 1.6-0.5 1.6"/>
<path d="M76.6 144.2l0.1 1.6-0.4 1.6-0.1 1.6 0.7 1.6 0.2 1.6 0.4 1.6 0.6 1.6-0.2 1.6-0.6 1.6-1 1.6-1.2 1.6-1.2 1.6-1.1 1.6-0.3 1.6 0.3 1.6 0.1 1.6 0 1.6 1 1.6 0.3 1.6-0.2 1.6 0.2 1.6 0.3 1.6 1.2 1.6 0.1 1.6 0.9 1.6 0.4 1.6-0.1 1.6 0.6 1.6 2.1 1.6 1 1 2 1 2.7 1 0.2 1-1.1 1-2.3 1-1.5 1-1.1 1-0.7 1-0.3 1.6-0.7 1.6 0.6 1.6-0.7 1.6-0.1 1.6-0.4 1.6-0.1 1.6-0.1 1.6-0.2 1.6 0.3 1.6-0.2 1.6-1.1 1.6 0.2 1.6"/>
<path d="M76.6 144.2l-0.1 1.6-0.6 1.6 0.8 1.6 0.6 1.6 0.3 1.6 0.6 1.6-0.4 1.6-0.2 1.6-1.3 1.6-1.1 1.6-0.8 1.6-1.2 1.6-0.1 1.6 0.5 1.6 0.1 1.6-0.5 1.6 0.5 1.6 0.8 1.6-0.7 1.6 0.6 1.6 0.5 1.6 1.3 1.6 0.4 1.6 0.2 1.6 0.9 1.6-0.4 1.6 0.6 1.6-0.4 1.6 1.4 1.6 1 1 1.6 1 0.8 1 1.4 1-0.8 1-1.6 1-1.8 1-0.2 1-1.3 1-0.2 1.6-0.7 1.6 0 1.6-0.1 1.6-0.4 1.6-0.3 1.6 0.4 1.6 0.1 1.6-0.7 1.6 0.1 1.6-0.9 1.6-0.1 1.6-0.6 1.6"/>
<path d="M79.1 144.2l0.5 1.6-0.6 1.6 0.4 1.6-1 1.6 0.1 1.6-0.5 1.6-0.8 1.6-0.5 1.6 0.8 1.6-0.4 1.6 0.6 1.6 1 1.6-0.3 1.6 0 1.6-0.7 1.6-0.3 1.6-1.1 1.6-0.6 1.6 0.3 1.6 0.1 1.6 0.6 1.6 1 1.6 0.5 1.6 0.5 1.6-0.6 1.6 0.5 1.6 1.1 1.6 1.9 1.6 2.2 1.6 1.6 1 3.4 1 2.7 1 1.1 1-1.6 1-4 1-2.9 1-2.1 1-1.5 1-1.2 1.6-0.4 1.6-0.8 1.6-0.1 1.6-0.7 1.6 0.4 1.6-0.3 1.6 0 1.6 0.3 1.6-0.8 1.6 0.5 1.6 0.2 1.6 0.2 1.6"/>
<path d="M82 144.2l0 1.6 0 1.6 0.4 1.6-1.1 1.6-0.7 1.6-0.3 1.6-0.9 1.6 0 1.6-0.9 1.6 0.9 1.6 0.3 1.6 0.2 1.6 0.2 1.6 0.3 1.6-0.7 1.6-0.4 1.6-0.5 1.6-0.5 1.6 0.2 1.6 0.1 1.6 0.9 1.6 0.7 1.6-0.4 1.6 0.2 1.6 0.3 1.6-0.2 1.6 1.2 1.6 1.7 1.6 1.2 1.6 0.7 1 2.6 1 1.9 1-0.1 1-0.8 1-2 1-2 1-1 1-1.4 1-1.5 1.6-0.1 1.6-0.6 1.6-0.4 1.6 0.4 1.6-0.1 1.6 0.1 1.6-0.7 1.6-0.5 1.6 0.6 1.6-0.2 1.6 0.7 1.6 0.3 1.6"/>
<path d="M81 144.2l0.2 1.6 0.1 1.6 0.2 1.6-0.5 1.6 0 1.6-1 1.6-0.7 1.6-0.3 1.6-0.3 1.6 1.1 1.6 0.6 1.6-0.2 1.6 0.1 1.6 0.5 1.6-0.6 1.6-0.9 1.6-0.8 1.6-0.3 1.6 0.5 1.6 0.4 1.6 0.6 1.6 0.7 1.6-0.2 1.6 0 1.6 0 1.6 0.5 1.6 1.2 1.6 1.6 1.6 1.3 1.6 2.1 1 3.2 1 2.4 1 1.2 1-2.1 1-3.4 1-2.6 1-1.7 1-1.3 1-1.6 1.6-0.1 1.6-1.2 1.6 0.5 1.6 0.3 1.6-0.7 1.6-0.1 1.6-0.7 1.6 0 1.6 0.5 1.6 0.1 1.6 0.3 1.6-0.4 1.6"/>
<path d="M83.2 144.2l0.2 1.6 0.5 1.6-0.4 1.6 0.2 1.6-0.8 1.6-0.5 1.6 0.9 1.6 0.1 1.6-0.5 1.6 0.9 1.6-0.9 1.6-0.1 1.6-0.4 1.6 0 1.6-0.1 1.6 0.2 1.6 0.6 1.6-0.2 1.6-0.8 1.6-0.3 1.6-0.8 1.6-0.9 1.6 0.1 1.6-0.8 1.6 0.8 1.6 0 1.6 1.9 1.6 1.3 1.6 2.1 1.6 1.9 1 3.1 1 2.7 1 0.9 1-1.9 1-2.2 1-2.3 1-1.8 1-0.6 1-0.6 1.6-1.3 1.6 0.2 1.6-0.9 1.6 0.2 1.6-0.4 1.6-0.7 1.6 0 1.6 0.4 1.6 0.2 1.6-0.5 1.6 0.9 1.6-0.4 1.6"/>
<path d="M83.3 144.2l0.7 1.6-0.1 1.6-0.7 1.6-0.2 1.6-0.6 1.6 0 1.6 0.6 1.6 0.2 1.6 0.8 1.6-0.3 1.6-0.2 1.6-0.1 1.6-0.6 1.6-0.1 1.6 0.2 1.6 0.3 1.6 0.4 1.6 0 1.6-0.2 1.6-0.6 1.6-0.4 1.6-1 1.6-0.6 1.6 0.5 1.6 0.1 1.6 1.1 1.6 1 1.6 0.9 1.6 2 1.6 1.7 1 2.1 1 1.6 1 1.1 1-1.5 1-2.3 1-1.4 1-0.9 1-1.3 1-0.6 1.6 0.2 1.6-0.9 1.6-0.6 1.6 0.1 1.6-0.4 1.6-0.7 1.6 0 1.6 0.2 1.6 0.6 1.6 0.1 1.6 0 1.6 0.4 1.6"/>
<path d="M85.9 144.2l-0.1 1.6-0.2 1.6-0.5 1.6-1 1.6 0.3 1.6-0.1 1.6 0.4 1.6-0.3 1.6-0.2 1.6-0.2 1.6 0.4 1.6-0.1 1.6-0.3 1.6 0.2 1.6 0.4 1.6 0.2 1.6 0.2 1.6-1.2 1.6-0.3 1.6-0.6 1.6-1.2 1.6-0.7 1.6 0.5 1.6 0.7 1.6 1.1 1.6 0.3 1.6 1.6 1.6 1 1.6 0.5 1.6 1.6 1 1.7 1 1.4 1 0.6 1-0.6 1-1.1 1-0.9 1-1.7 1-0.4 1-0.5 1.6-0.8 1.6-0.2 1.6-0.8 1.6 0.2 1.6-0.4 1.6-0.1 1.6-0.3 1.6 1 1.6 0.2 1.6-0.2 1.6 0 1.6-0.7 1.6"/>
<path d="M82.6 144.2l0.2 1.6-0.1 1.6-0.3 1.6-0.6 1.6 0.7 1.6 0.6 1.6 0.2 1.6-0.9 1.6 0.7 1.6-1.1 1.6-0.7 1.6 0.4 1.6-1.2 1.6 0.1 1.6 0.2 1.6 0.3 1.6 1 1.6 0.2 1.6 0.4 1.6 0.5 1.6 1.3 1.6 0.5 1.6 1.5 1.6 1 1.6 1 1.6 0.5 1.6 1.2 1.6 0.7 1.6 0.1 1.6 1.9 1 2.8 1 2.4 1 1.2 1-2.5 1-2.6 1-2.6 1-0.8 1-1.1 1-1.6 1.6-0.9 1.6 0 1.6-1 1.6-0.4 1.6 0 1.6-0.7 1.6-0.2 1.6 0.4 1.6-0.3 1.6 0 1.6-0.4 1.6 0.1 1.6"/>
<path d="M83.5 144.2l0.6 1.6-0.5 1.6-0.3 1.6 0.7 1.6-0.1 1.6 0.8 1.6 0.3 1.6-0.2 1.6-0.2 1.6 0.1 1.6-0.2 1.6 0.3 1.6 0.3 1.6-0.5 1.6 0.9 1.6-0.2 1.6-0.8 1.6 0.8 1.6-0.3 1.6 1.2 1.6 0.3 1.6 1 1.6 1.1 1.6 1 1.6 0.1 1.6 0.5 1.6 1.1 1.6 0.4 1.6 0.4 1.6 0.9 1 2.8 1 2 1 1.3 1-2.1 1-2.1 1-3 1-1.3 1-1.5 1-0.9 1.6-0.4 1.6-0.5 1.6-0.6 1.6-0.5 1.6-0.3 1.6-0.5 1.6-0.1 1.6 0.1 1.6 0.6 1.6-0.4 1.6-0.5 1.6-0.2 1.6"/>
<path d="M85 144.2l-0.1 1.6-0.5 1.6 0 1.6-0.2 1.6-0.3 1.6 0.8 1.6 0.2 1.6-0.5 1.6 0.7 1.6-0.8 1.6 0.1 1.6-1 1.6 0.3 1.6 0 1.6 0.2 1.6 0.1 1.6-0.2 1.6 1.1 1.6 0.4 1.6 0.2 1.6 1.4 1.6 0.9 1.6 1 1.6 0.4 1.6 1 1.6 1.2 1.6 1.3 1.6 0.5 1.6-0.2 1.6 2 1 1.6 1 2.6 1 0.4 1-1.5 1-1.8 1-2 1-2.3 1-0.3 1-1.6 1.6-0.4 1.6-0.8 1.6 0.1 1.6-0.8 1.6 0.4 1.6-0.3 1.6-0.4 1.6 0.1 1.6 0 1.6-0.3 1.6 0.1 1.6-0.3 1.6"/>
<path d="M89.1 144.2l-0.3 1.6-0.1 1.6-0.4 1.6 0.5 1.6 0 1.6-0.1 1.6 0.3 1.6-1 1.6 0.1 1.6 0.2 1.6 0.4 1.6 0.5 1.6 1 1.6 0 1.6-0.5 1.6 0 1.6-0.5 1.6 0 1.6-0.3 1.6 0.6 1.6 0.6 1.6 0.6 1.6 0.6 1.6-0.3 1.6 0.2 1.6 0.2 1.6 0.4 1.6 0.7 1.6 0.6 1.6 1.3 1 2 1 1.7 1 0.8 1-1.6 1-1.8 1-1.9 1-1.3 1-0.8 1-0.2 1.6-0.8 1.6-0.8 1.6-0.5 1.6 0.2 1.6 0.4 1.6 0.1 1.6-0.3 1.6-0.5 1.6 0.3 1.6-0.4 1.6 0.4 1.6-0.1 1.6"/>
<path d="M88.8 144.2l-0.2 1.6 0.9 1.6-0.3 1.6 0.5 1.6-0.6 1.6 0.7 1.6-1 1.6 0.8 1.6 0 1.6 0.2 1.6 0.2 1.6 1 1.6-0.1 1.6 0.1 1.6 0.2 1.6-0.5 1.6-0.7 1.6-0.3 1.6-0.2 1.6 0.1 1.6 1 1.6 0.2 1.6 0.8 1.6 0.2 1.6-0.3 1.6 0.4 1.6-0.4 1.6 1.3 1.6 0.5 1.6 1.4 1 1.2 1 1.2 1 0.1 1-0.8 1-1.8 1-1.3 1-1.2 1-0.2 1-1.2 1.6 0.2 1.6-0.8 1.6 0.2 1.6 0 1.6 0.4 1.6-0.6 1.6 0.2 1.6 0.4 1.6-0.2 1.6 0 1.6-0.6 1.6 0.2 1.6"/>
<path d="M91.3 144.2l-0.3 1.6-0.7 1.6 0.7 1.6 0.5 1.6 0.4 1.6-0.3 1.6 0 1.6 0.1 1.6 0.4 1.6-0.4 1.6 0 1.6 0.8 1.6 0.2 1.6 0.7 1.6-0.2 1.6 0 1.6-1.2 1.6-0.3 1.6-0.7 1.6 1 1.6 0.3 1.6 0.6 1.6-0.2 1.6 0.9 1.6 0.5 1.6-0.3 1.6 0.6 1.6 0 1.6 1.5 1.6 1.1 1 1.6 1 1.6 1 0.5 1-0.9 1-1.9 1-1.2 1-1.7 1-0.9 1-1.3 1.6-0.7 1.6-0.6 1.6-0.2 1.6 0.1 1.6 0.4 1.6 0.7 1.6-0.2 1.6 0.1 1.6-0.7 1.6 0.6 1.6-0.8 1.6-0.2 1.6"/>
<path d="M96.5 144.2l0 1.6-1.4 1.6-0.3 1.6-0.7 1.6-0.2 1.6-0.5 1.6 0.6 1.6 0.3 1.6-0.6 1.6 0.5 1.6-0.2 1.6-1 1.6-0.4 1.6-0.6 1.6-0.8 1.6 0 1.6-1.1 1.6-0.3 1.6-1 1.6 0 1.6 0.1 1.6-0.3 1.6-0.2 1.6 1.1 1.6 0.8 1.6 1.4 1.6 0.6 1.6 1.3 1.6 1.4 1.6 1.8 1 1 1 1.8 1 0.7 1-0.6 1-2.2 1-0.8 1-1.7 1 0.1 1-1.4 1.6 0.2 1.6-0.5 1.6-0.9 1.6 0 1.6-0.1 1.6-0.4 1.6 0.6 1.6 0 1.6 0 1.6-0.1 1.6 0.2 1.6 0 1.6"/>
<path d="M98.2 144.2l-0.4 1.6-1 1.6-0.7 1.6-0.3 1.6 0.3 1.6-0.4 1.6 0.1 1.6 0.8 1.6 0.3 1.6-0.1 1.6-0.9 1.6-0.4 1.6 0.2 1.6-0.6 1.6-0.6 1.6-1.1 1.6-0.1 1.6-1.2 1.6-0.1 1.6-0.4 1.6-0.1 1.6 0.4 1.6 0.7 1.6 0.7 1.6 1.5 1.6 0.1 1.6 1.6 1.6 1.3 1.6 1.2 1.6 0.9 1 2.4 1 1.7 1 0.5 1-0.9 1-2.1 1-1.8 1-1.6 1-0.8 1-1.2 1.6-0.3 1.6-0.7 1.6-0.7 1.6 0.3 1.6-0.6 1.6 0.9 1.6-0.5 1.6 0.1 1.6 0.6 1.6-0.5 1.6 0.3 1.6-0.4 1.6"/>
<path d="M97.5 144.2l-0.2 1.6-0.6 1.6-1.2 1.6-0.4 1.6 0.5 1.6 0.1 1.6 0.1 1.6 0 1.6 0.2 1.6 0 1.6-0.8 1.6-0.6 1.6-0.6 1.6-0.7 1.6-0.5 1.6 0.4 1.6-0.8 1.6-1.3 1.6-0.3 1.6 0 1.6-0.6 1.6 1.4 1.6-0.2 1.6 1.4 1.6 1.6 1.6 0.5 1.6 1.7 1.6 1.3 1.6 2.2 1.6 1.6 1 2.5 1 2.6 1 0.6 1-1.6 1-3.1 1-2 1-1.5 1-1.1 1-0.8 1.6-0.8 1.6-0.7 1.6-0.9 1.6-0.4 1.6 0.5 1.6-0.4 1.6 0.7 1.6-0.4 1.6 0.5 1.6 0 1.6-0.4 1.6-0.8 1.6"/>
<path d="M95.1 144.2l0.1 1.6 0.5 1.6 0 1.6 0 1.6-0.2 1.6-0.7 1.6 0.1 1.6-0.8 1.6-0.3 1.6-0.2 1.6 0.2 1.6 0.3 1.6 0 1.6 0.6 1.6 0.6 1.6-0.5 1.6 0 1.6 0 1.6 1 1.6-0.2 1.6 0.2 1.6 0.6 1.6 0 1.6-0.1 1.6 0.6 1.6-0.1 1.6 0.8 1.6 0.8 1.6 2.6 1.6 2.5 1 2.5 1 3.2 1 0.8 1-0.8 1-3.3 1-2.9 1-1.2 1-1 1-2 1.6-0.2 1.6-0.6 1.6-0.4 1.6-0.3 1.6-0.1 1.6-0.2 1.6 0.1 1.6-0.5 1.6-0.2 1.6-0.5 1.6 0.1 1.6 0.8 1.6"/>
<path d="M98.4 144.2l0.7 1.6-0.1 1.6 0.1 1.6-0.1 1.6-0.7 1.6 0.3 1.6-0.7 1.6-1.1 1.6-0.4 1.6-0.8 1.6 0.4 1.6 0 1.6 0.5 1.6 0.3 1.6 0.1 1.6 0.6 1.6-0.1 1.6 0.7 1.6-0.4 1.6-0.2 1.6 0.5 1.6 0.8 1.6 0.1 1.6-0.2 1.6-0.1 1.6-0.5 1.6 0.9 1.6 0.9 1.6 1.7 1.6 1.6 1 2.1 1 1.6 1 1.3 1-1.3 1-1.4 1-2.1 1-1.1 1-1.4 1-0.9 1.6-0.6 1.6 0.4 1.6-0.4 1.6 0 1.6-0.6 1.6-0.6 1.6 0.2 1.6-0.6 1.6 0.2 1.6 0.5 1.6-0.1 1.6 0.3 1.6"/>
<path d="M99.6 144.2l0.2 1.6 0.3 1.6-0.1 1.6-0.1 1.6-0.8 1.6-0.8 1.6-0.7 1.6 0 1.6-0.8 1.6 0.6 1.6 0 1.6 0.4 1.6 0.8 1.6 0.7 1.6 0.4 1.6 0.1 1.6 0.4 1.6 0.1 1.6 0.3 1.6 0.3 1.6 0.5 1.6 0.2 1.6-0.4 1.6-0.6 1.6 0.8 1.6-0.1 1.6 0.5 1.6 1.1 1.6 0.3 1.6 2.2 1 1.7 1 0.9 1 1.2 1-1.3 1-1.7 1-0.9 1-1.4 1-0.6 1-1.6 1.6 0.3 1.6-0.4 1.6-1.1 1.6 0.3 1.6-0.5 1.6 0.3 1.6-0.5 1.6-0.5 1.6 0.1 1.6 0.2 1.6 0.2 1.6 0.7 1.6"/>
<path d="M102.5 144.2l0.1 1.6-0.2 1.6-0.6 1.6-0.1 1.6 0.4 1.6 0 1.6 0.3 1.6 0.1 1.6-0.1 1.6-0.9 1.6 0.2 1.6-0.3 1.6-0.6 1.6-0.4 1.6 0.6 1.6-0.4 1.6 0.8 1.6 0.2 1.6 0.9 1.6-0.3 1.6-0.7 1.6 0.4 1.6-0.9 1.6 0.1 1.6 0.7 1.6-0.3 1.6 1.4 1.6 0.2 1.6 1.5 1.6 1.6 1 1.9 1 1.8 1 0.5 1-1.2 1-2.5 1-2.1 1-1.1 1-1.5 1-0.4 1.6-0.4 1.6-0.7 1.6 0 1.6-0.3 1.6-0.2 1.6-0.1 1.6-1 1.6-0.1 1.6 0.5 1.6 0.1 1.6-0.5 1.6 0.6 1.6"/>
<path d="M102.3 144.2l0.2 1.6-0.6 1.6-0.1 1.6-0.2 1.6 0.9 1.6-0.9 1.6 0.6 1.6-0.5 1.6 0.5 1.6 0 1.6-0.7 1.6-0.1 1.6 0.4 1.6-0.9 1.6 0.4 1.6 0.2 1.6 0.5 1.6 0.5 1.6 0.8 1.6-0.3 1.6 0.4 1.6-0.2 1.6-0.7 1.6-0.6 1.6-0.2 1.6 0.4 1.6 0.3 1.6 0.4 1.6 0.8 1.6 1.2 1 1.3 1 1.4 1 0 1-1.5 1-1.3 1-1.5 1-0.2 1-0.6 1-0.8 1.6-0.1 1.6-0.8 1.6 0.1 1.6-0.7 1.6 0.1 1.6 0 1.6 0 1.6-0.6 1.6 0.2 1.6 0.5 1.6-0.2 1.6 0.1 1.6"/>
<path d="M102.7 144.2l-0.3 1.6 0.4 1.6-0.2 1.6-0.4 1.6 0.1 1.6-0.5 1.6 0.7 1.6 0.1 1.6 0.9 1.6-0.5 1.6 0.2 1.6-0.9 1.6-0.3 1.6 0.8 1.6 0.1 1.6-0.2 1.6 1.1 1.6 0.9 1.6 0 1.6 0.2 1.6 0.4 1.6-0.4 1.6-0.7 1.6 0.7 1.6 0.2 1.6 0.5 1.6 0.1 1.6 0.6 1.6 0 1.6 2.1 1 1.2 1 2.7 1 0.5 1-2.3 1-1.5 1-2.2 1-1.6 1-0.6 1-1.2 1.6 0 1.6-0.7 1.6-0.7 1.6-0.3 1.6 0.3 1.6-0.9 1.6 0.5 1.6-0.9 1.6-0.1 1.6 0.3 1.6 0.1 1.6 0.1 1.6"/>
<path d="M104.2 144.2l0.4 1.6-0.2 1.6 0.6 1.6 0.3 1.6 0.6 1.6-0.8 1.6 0 1.6-0.2 1.6 0.2 1.6-0.4 1.6 0 1.6 1 1.6-0.4 1.6 0.1 1.6-1.4 1.6-0.2 1.6-0.4 1.6-0.2 1.6 0.2 1.6 0.2 1.6 1.6 1.6 0.2 1.6 0.5 1.6 1 1.6 0 1.6-0.3 1.6 0.3 1.6 0.2 1.6 0.7 1.6 1.4 1 1.6 1 1.4 1 0.5 1-1.2 1-0.9 1-2.5 1-0.6 1-1 1-0.8 1.6-0.1 1.6-0.5 1.6-0.3 1.6 0.4 1.6-0.4 1.6 0.1 1.6 0 1.6-0.4 1.6-0.9 1.6 0.5 1.6-0.3 1.6-0.1 1.6"/>
<path d="M103.8 144.2l0.5 1.6 0.7 1.6 0.4 1.6 0.3 1.6 0 1.6 0.3 1.6-0.5 1.6-0.2 1.6-0.5 1.6 0.1 1.6 0.9 1.6-0.3 1.6-0.1 1.6-0.4 1.6 0.1 1.6-1.1 1.6-1 1.6-0.4 1.6 0.7 1.6 0.8 1.6 1.2 1.6 1.2 1.6 0.2 1.6 0.7 1.6 0 1.6 0.3 1.6 0.9 1.6 0.3 1.6 1.7 1.6 1 1 2.6 1 2 1 1.1 1-2.1 1-1.9 1-2 1-1.8 1-0.3 1-1.3 1.6-0.8 1.6-0.1 1.6-0.2 1.6 0.1 1.6 0.1 1.6-0.6 1.6 0.4 1.6-1 1.6-0.1 1.6 0.1 1.6-0.6 1.6-0.1 1.6"/>
<path d="M104.9 144.2l-0.3 1.6 0.7 1.6 0.1 1.6 0.4 1.6 0.9 1.6 0.4 1.6-0.2 1.6-0.6 1.6 0.1 1.6 0.2 1.6-0.6 1.6 0.9 1.6 0 1.6 0.1 1.6-0.2 1.6-1.2 1.6-0.7 1.6-0.2 1.6 0 1.6 1.2 1.6 1.3 1.6 0.6 1.6 1.7 1.6-0.1 1.6 0.1 1.6 0.6 1.6 0.1 1.6-0.1 1.6 0.1 1.6 1.4 1 1.7 1 1 1 1.1 1-0.8 1-1.9 1-0.9 1-1.3 1-1.4 1 0 1.6-0.3 1.6-0.3 1.6-0.1 1.6-0.7 1.6 0.8 1.6-0.4 1.6 0.4 1.6-0.7 1.6-0.7 1.6 0.1 1.6-0.5 1.6-0.2 1.6"/>
<path d="M106 144.2l0.2 1.6-0.7 1.6 0.2 1.6 0.8 1.6 0.1 1.6-0.2 1.6 0.6 1.6 0.7 1.6 0.1 1.6-0.2 1.6 0.1 1.6-0.5 1.6-0.4 1.6-0.8 1.6 0.1 1.6-0.5 1.6-0.4 1.6-0.1 1.6 0 1.6 0.3 1.6 0.1 1.6 0.4 1.6 0.6 1.6 0.6 1.6 1.1 1.6 0.3 1.6 1.4 1.6 1.2 1.6 1.9 1.6 2.2 1 1.9 1 3 1 1.1 1-1.8 1-3 1-2.6 1-1.4 1-1 1-1.2 1.6-0.8 1.6-0.2 1.6-0.3 1.6 0.5 1.6-0.7 1.6 0.2 1.6 0.1 1.6 0.3 1.6-0.3 1.6-0.4 1.6-0.5 1.6 0.1 1.6"/>
<path d="M108 144.2l0.4 1.6-0.6 1.6-0.1 1.6 0 1.6 0 1.6 0.4 1.6 0.1 1.6 0.7 1.6 0.1 1.6 0.2 1.6-0.1 1.6-1.3 1.6 0.1 1.6-0.6 1.6 0 1.6-0.3 1.6-1 1.6-0.2 1.6-0.1 1.6-0.1 1.6 0.7 1.6 0.5 1.6 0.5 1.6 0.8 1.6 0.6 1.6 1.1 1.6 1.3 1.6 1.5 1.6 1.7 1.6 1.6 1 2.6 1 2.9 1 0.8 1-1.9 1-3 1-2.5 1-1.3 1-1.4 1-0.7 1.6-0.9 1.6-0.6 1.6 0.4 1.6-0.4 1.6-0.2 1.6 0.7 1.6-0.4 1.6-0.2 1.6 0.1 1.6 0.2 1.6-0.6 1.6 0.1 1.6"/>
<path d="M108.8 144.2l0.7 1.6-0.5 1.6 0.2 1.6 0.3 1.6-0.1 1.6 0.8 1.6 0.2 1.6 0.5 1.6 0.1 1.6-0.7 1.6 0.3 1.6-0.6 1.6-0.5 1.6-0.3 1.6-0.4 1.6-0.2 1.6-1 1.6 0.3 1.6-0.4 1.6 0.4 1.6-0.7 1.6 1.3 1.6 0.4 1.6 0.2 1.6 1.1 1.6 0.5 1.6 1.3 1.6 0.6 1.6 0.8 1.6 1.4 1 1.2 1 2.2 1-0.1 1-1 1-1 1-1.2 1-1.7 1-0.4 1-0.5 1.6 0.4 1.6-0.3 1.6-0.2 1.6 0 1.6-0.1 1.6 0.4 1.6-0.8 1.6 0.6 1.6-0.8 1.6 0.7 1.6-0.9 1.6-0.6 1.6"/>
<path d="M113.7 144.2l-0.1 1.6 0.7 1.6-0.4 1.6-1.1 1.6 0.2 1.6-0.3 1.6 1 1.6 0.4 1.6 0.1 1.6 0.9 1.6-0.4 1.6-1.4 1.6-0.7 1.6-0.5 1.6-1.7 1.6-0.4 1.6-0.8 1.6-0.4 1.6 0.3 1.6-0.6 1.6 0.3 1.6 0.2 1.6 0.2 1.6-0.3 1.6 0.8 1.6 1.6 1.6 1.4 1.6 0.5 1.6 1.3 1.6 1.3 1 1.5 1 1.8 1 0 1-1.4 1-1.3 1-1.4 1-1.2 1 0.2 1-0.8 1.6-0.6 1.6 0.6 1.6-0.8 1.6 0.4 1.6-0.3 1.6-0.1 1.6-0.5 1.6 0.5 1.6 0 1.6 0.1 1.6-0.7 1.6 0 1.6"/>
<path d="M114.9 144.2l0.7 1.6-1 1.6-0.6 1.6 0.4 1.6-1.3 1.6 0.9 1.6 0.1 1.6 0.4 1.6-0.1 1.6-0.2 1.6-0.1 1.6-0.2 1.6-0.8 1.6-1.4 1.6-0.8 1.6-0.3 1.6-0.6 1.6-0.9 1.6 0.1 1.6 0.1 1.6 0.6 1.6 0.4 1.6 0 1.6 0.8 1.6 0.6 1.6 2 1.6 1.2 1.6 1.1 1.6 1.6 1.6 1.5 1 2.5 1 2.4 1 1 1-2 1-2.4 1-2.5 1-0.8 1-1.1 1-1.4 1.6-0.4 1.6-0.4 1.6-0.3 1.6 0.4 1.6-0.9 1.6-0.3 1.6 0.6 1.6-0.4 1.6 0.5 1.6-0.2 1.6-0.8 1.6-0.3 1.6"/>
<path d="M116.5 144.2l1 1.6-0.2 1.6 0 1.6-0.7 1.6-0.4 1.6 0.6 1.6-0.5 1.6 0.7 1.6 0.3 1.6 0.1 1.6-0.9 1.6-0.6 1.6-0.7 1.6-1.2 1.6-1.6 1.6-0.9 1.6-0.1 1.6-1 1.6 0.8 1.6-0.4 1.6 0.8 1.6 0.3 1.6 0.5 1.6 0.4 1.6 0.9 1.6 1.2 1.6 0.5 1.6 1.3 1.6 0.6 1.6 2 1 0.7 1 2.3 1 0.3 1-1.6 1-1.8 1-1.4 1-0.3 1-0.9 1-0.6 1.6-0.3 1.6 0 1.6-0.3 1.6-0.1 1.6 0.2 1.6-0.8 1.6-0.3 1.6 0.7 1.6 0 1.6-0.7 1.6 0.3 1.6-0.1 1.6"/>
<path d="M114.6 144.2l-1.1 1.6 0.1 1.6-0.3 1.6 0.5 1.6-0.9 1.6-0.2 1.6-0.5 1.6 0 1.6-0.3 1.6-0.1 1.6 0.5 1.6 0.3 1.6 0.8 1.6 0.4 1.6-0.2 1.6-0.6 1.6-0.9 1.6-0.9 1.6-0.3 1.6 0.5 1.6 0.5 1.6 0.9 1.6 0.9 1.6 0.3 1.6 0.3 1.6 0.9 1.6 1 1.6 0.9 1.6 0.6 1.6 1.2 1 2.3 1 1.8 1 0.1 1-0.7 1-1.5 1-1.5 1-1 1-1.2 1-0.7 1.6-1.1 1.6 0.4 1.6-0.7 1.6-0.2 1.6 0 1.6 0.5 1.6-0.6 1.6 0.3 1.6-0.2 1.6-0.5 1.6-0.1 1.6 0.7 1.6"/>
<path d="M115.6 144.2l-0.3 1.6-0.3 1.6 0.2 1.6-0.5 1.6-0.3 1.6-0.7 1.6-0.1 1.6-0.6 1.6 0.2 1.6 0 1.6 0.8 1.6 0.3 1.6 0.5 1.6-0.1 1.6 0 1.6-0.3 1.6-0.8 1.6-0.7 1.6 0.7 1.6-0.1 1.6 1.2 1.6 0.7 1.6 0.5 1.6 1.3 1.6 1.2 1.6 0.5 1.6 0.5 1.6 1.8 1.6 0.1 1.6 1.4 1 3 1 1.9 1 0.5 1-1.9 1-2.1 1-1.2 1-2.4 1-1 1-0.5 1.6-0.8 1.6-1.1 1.6 0 1.6-0.7 1.6 0.2 1.6 0.4 1.6 0 1.6-0.4 1.6 0 1.6-0.1 1.6-0.5 1.6-0.2 1.6"/>
<path d="M118.6 144.2l-0.3 1.6-0.4 1.6-1 1.6 0.3 1.6-1.1 1.6 0.3 1.6-0.9 1.6-0.2 1.6-1 1.6 0.1 1.6-0.3 1.6 1.1 1.6-0.2 1.6 0.6 1.6 0 1.6 0.5 1.6-0.3 1.6-0.9 1.6-0.5 1.6 0.6 1.6 0.8 1.6 0.1 1.6 0.9 1.6 0.9 1.6-0.1 1.6 0.9 1.6 1 1.6 1.6 1.6 1.5 1.6 2.4 1 2.4 1 2.5 1 1.1 1-1.1 1-2.6 1-3 1-1 1-1.7 1-0.6 1.6-1.5 1.6 0 1.6-0.6 1.6-0.5 1.6-0.3 1.6 0.5 1.6 0 1.6-0.6 1.6 0.3 1.6-0.6 1.6 0.5 1.6-0.1 1.6"/>
<path d="M116.7 144.2l-0.1 1.6-0.1 1.6 1.1 1.6-0.2 1.6 0.7 1.6-0.5 1.6 0.2 1.6-0.2 1.6 0.8 1.6-0.6 1.6 0.4 1.6 0.4 1.6 0.2 1.6-0.8 1.6-0.1 1.6-1.3 1.6-0.9 1.6 0 1.6 0.4 1.6 0.7 1.6 0.6 1.6 0.9 1.6-0.1 1.6 0.1 1.6-0.4 1.6 0.7 1.6-0.1 1.6 1.4 1.6 1.5 1.6 2.1 1 2.5 1 2.4 1 0.3 1-1.2 1-3.2 1-1.4 1-2.4 1-0.6 1-1.2 1.6-0.9 1.6 0.5 1.6-0.1 1.6-0.1 1.6 0.7 1.6 0 1.6-0.3 1.6 0.2 1.6-0.5 1.6 0.3 1.6-0.3 1.6 0.2 1.6"/>
<path d="M118.4 144.2l0.1 1.6 0.4 1.6 0.9 1.6-0.3 1.6 0 1.6-0.6 1.6 0.6 1.6-0.3 1.6 0.2 1.6 1 1.6-0.3 1.6 0.5 1.6-0.2 1.6-0.5 1.6-0.8 1.6-1.1 1.6-0.4 1.6 0.4 1.6 0.9 1.6 0.3 1.6 0.7 1.6 0 1.6 0.4 1.6-0.8 1.6 0.2 1.6-0.6 1.6 0.9 1.6 0.5 1.6 3 1.6 1.7 1 1.3 1 2.8 1 0.6 1-2 1-2.7 1-1.2 1-1.6 1-1.1 1-1.7 1.6 0.3 1.6 0 1.6 0.6 1.6-0.4 1.6-0.5 1.6 0.6 1.6-0.4 1.6-0.4 1.6 0.4 1.6-0.4 1.6 0.8 1.6-0.2 1.6"/>
<path d="M118.8 144.2l-0.3 1.6 0.9 1.6-0.2 1.6 1 1.6-0.5 1.6-0.2 1.6 0 1.6-0.1 1.6-0.3 1.6 0.9 1.6-0.1 1.6-0.1 1.6 0.3 1.6-1 1.6-0.5 1.6-0.4 1.6-0.9 1.6 0 1.6 1.1 1.6 0.1 1.6 0.8 1.6 1 1.6 1 1.6-0.3 1.6 0.3 1.6-0.9 1.6 0.3 1.6 0.9 1.6 2 1.6 1.8 1 2 1 2.1 1 0.5 1-1.2 1-2.8 1-1.7 1-1.4 1-0.9 1-1.3 1.6 0.4 1.6-0.4 1.6 0.5 1.6-0.3 1.6-0.3 1.6 0 1.6 0.4 1.6-0.3 1.6-0.1 1.6-0.7 1.6 0.1 1.6 0.6 1.6"/>
<path d="M123.4 144.2l1 1.6-0.2 1.6 0.7 1.6-0.7 1.6-0.3 1.6 0.6 1.6-0.3 1.6 0.3 1.6 0.6 1.6 0.8 1.6-0.2 1.6-0.8 1.6-0.9 1.6-0.9 1.6-1.4 1.6 0 1.6-0.8 1.6 0.3 1.6 0.3 1.6 0.4 1.6 1.1 1.6 0.1 1.6-0.7 1.6 0.4 1.6-0.2 1.6 0.1 1.6 0.3 1.6 1.5 1.6 1.6 1.6 1.5 1 2 1 1.8 1-0.2 1-1.5 1-1.7 1-1.7 1-1.3 1-0.9 1-0.4 1.6-0.6 1.6 0.2 1.6-0.3 1.6-0.2 1.6-0.5 1.6-0.1 1.6-0.7 1.6 0.4 1.6-0.3 1.6 0.9 1.6 0.1 1.6 0.1 1.6"/>
<path d="M123.8 144.2l1.1 1.6-0.1 1.6 1.1 1.6-0.5 1.6-0.6 1.6 0.2 1.6-0.8 1.6-0.5 1.6 0.8 1.6 0.5 1.6-0.2 1.6-0.3 1.6-0.3 1.6-0.3 1.6-1.1 1.6-0.9 1.6-0.4 1.6 0 1.6 0.4 1.6 0.8 1.6 0.8 1.6 0.7 1.6-0.8 1.6 0.3 1.6-1.4 1.6-0.2 1.6 1 1.6 0.3 1.6 2.7 1.6 1.5 1 2.5 1 1.6 1 0.8 1-1.6 1-2.5 1-1.2 1-1.6 1-1 1-1.2 1.6 0 1.6-0.1 1.6 0.3 1.6-0.2 1.6-0.4 1.6-0.1 1.6-0.3 1.6-0.5 1.6 0.5 1.6 0.5 1.6 0.3 1.6 0.9 1.6"/>
<path d="M123.6 144.2l0.8 1.6 1.7 1.6 0.4 1.6-0.2 1.6 0.6 1.6 0.2 1.6-0.7 1.6 0.6 1.6 0 1.6 0.1 1.6 0.7 1.6 0.2 1.6-0.5 1.6 0 1.6-1.1 1.6-1 1.6-0.6 1.6-0.3 1.6-0.1 1.6 1.3 1.6 1.4 1.6-0.3 1.6-0.1 1.6 0.3 1.6-1 1.6-0.5 1.6 0.6 1.6 0.4 1.6 1.1 1.6 1.3 1 2 1 1.2 1 1 1-2.1 1-1.3 1-1.8 1-1.1 1-1 1 0 1.6-0.3 1.6-0.6 1.6 0.5 1.6-0.3 1.6-0.1 1.6 0.1 1.6-0.3 1.6 0.1 1.6-0.6 1.6 0.3 1.6-0.2 1.6 1.1 1.6"/>
<path d="M125.7 144.2l-0.3 1.6-0.6 1.6 0.2 1.6-0.6 1.6-0.1 1.6 0.6 1.6 0.4 1.6 0.5 1.6 0.7 1.6-0.6 1.6 0.8 1.6-0.6 1.6 0.9 1.6-0.6 1.6 0.2 1.6 1.1 1.6 0 1.6-0.5 1.6 0 1.6-0.9 1.6 0.9 1.6-0.1 1.6-0.4 1.6 1.1 1.6 0.9 1.6 0.3 1.6 0.7 1.6 1.2 1.6-0.6 1.6 1.1 1 1.7 1 1.6 1 0.8 1-1.8 1-0.9 1-1.9 1-0.5 1-1.4 1-0.7 1.6-0.6 1.6 0.1 1.6-0.7 1.6 0.1 1.6-0.4 1.6 0.1 1.6 0.4 1.6 0.6 1.6-0.2 1.6-0.1 1.6 0.1 1.6-0.6 1.6"/>
<path d="M125.4 144.2l-0.2 1.6-0.6 1.6-0.7 1.6-0.5 1.6 0.4 1.6 0 1.6 1.5 1.6 0.1 1.6 1.1 1.6 0.3 1.6 0.2 1.6-0.7 1.6 0.4 1.6 0.4 1.6 0.2 1.6-0.3 1.6 0.8 1.6-0.2 1.6 0 1.6-0.8 1.6-0.1 1.6 0.5 1.6 0.8 1.6 0.2 1.6 0.5 1.6 1.5 1.6 0.3 1.6 1.4 1.6-0.6 1.6 1.9 1 1.9 1 1.4 1 0.8 1-1.3 1-1.9 1-2 1-1.6 1-0.7 1-1 1.6-0.9 1.6-0.5 1.6-0.3 1.6 0.4 1.6-0.4 1.6-0.3 1.6 0.2 1.6 0.3 1.6 0.3 1.6 0 1.6 0.4 1.6-0.1 1.6"/>
<path d="M127.4 144.2l0.1 1.6-0.8 1.6-1.3 1.6-0.3 1.6 0.6 1.6 0.6 1.6 0 1.6 0.7 1.6 0.2 1.6 1.2 1.6-0.2 1.6 0.3 1.6-0.2 1.6-0.3 1.6-0.1 1.6 0.6 1.6-0.2 1.6 0 1.6 0.3 1.6-0.4 1.6 0 1.6 0.1 1.6 0.1 1.6 1.1 1.6 0.8 1.6 1.4 1.6 1.1 1.6 0.4 1.6 0.7 1.6 1.5 1 2.1 1 1.8 1 0.9 1-1.9 1-1.6 1-2.9 1-1.2 1-1.1 1-0.5 1.6-0.3 1.6-1.2 1.6-0.1 1.6-0.4 1.6 0.2 1.6 0.2 1.6 0 1.6 0.9 1.6 0.1 1.6-0.6 1.6 0.7 1.6-0.1 1.6"/>
<path d="M128.9 144.2l0.2 1.6 0.7 1.6 0.8 1.6 0.2 1.6 0.8 1.6 0.2 1.6-0.5 1.6 0.4 1.6-0.7 1.6-0.5 1.6 0.8 1.6 0.4 1.6-0.5 1.6 0.9 1.6-0.2 1.6-0.1 1.6 0.3 1.6-0.4 1.6-0.9 1.6 0.3 1.6 0 1.6-0.7 1.6-0.4 1.6 0.6 1.6-0.7 1.6-0.7 1.6-1.1 1.6 0.5 1.6 1.7 1.6 1 1 1.4 1 1.8 1 0.5 1-1 1-1.3 1-1.6 1-0.2 1-0.8 1-1 1.6-0.7 1.6 0.2 1.6 0.1 1.6 0.2 1.6-0.4 1.6 0.6 1.6-0.3 1.6-0.1 1.6 0.4 1.6-0.7 1.6 0.3 1.6 0 1.6"/>
<path d="M130.3 144.2l-0.3 1.6 0.9 1.6 1.5 1.6 0.5 1.6 0.2 1.6 0.6 1.6-0.9 1.6-0.4 1.6 0.5 1.6-0.2 1.6 0 1.6 0.4 1.6 1 1.6 0.6 1.6 0.3 1.6-0.2 1.6 0 1.6-0.7 1.6-0.4 1.6-0.2 1.6 0.5 1.6 0.4 1.6-0.4 1.6-1 1.6-0.7 1.6-1.1 1.6-0.1 1.6 0 1.6 1.8 1.6 1.3 1 2 1 2 1 0.6 1-1.8 1-1.9 1-1.1 1-1.4 1 0 1-1.4 1.6-0.8 1.6 0.6 1.6-0.2 1.6-0.5 1.6 0.9 1.6 0.1 1.6-0.3 1.6-0.3 1.6-0.5 1.6 0.7 1.6-0.6 1.6 0.1 1.6"/>
<path d="M131.9 144.2l0.5 1.6 1.3 1.6 0 1.6 1.1 1.6 0.2 1.6-0.6 1.6-0.2 1.6-0.2 1.6 0.2 1.6 0.2 1.6-0.2 1.6 1.2 1.6 0.2 1.6 0.4 1.6 0.1 1.6-0.3 1.6-0.4 1.6-0.2 1.6 0 1.6 0.2 1.6 0.4 1.6-0.3 1.6-1.1 1.6-0.7 1.6-0.2 1.6-1.4 1.6-0.1 1.6 0.6 1.6 2.5 1.6 1.2 1 1.8 1 2.1 1 0.2 1-1.2 1-1.1 1-2 1-1.2 1-1.1 1-0.2 1.6-0.5 1.6-0.6 1.6 0 1.6 0.2 1.6-0.2 1.6 0.3 1.6-0.5 1.6 0 1.6 0 1.6 0.1 1.6 0.1 1.6 0.2 1.6"/>
<path d="M134.5 144.2l-0.6 1.6-0.3 1.6-0.3 1.6-0.2 1.6 0.2 1.6 1.1 1.6 0.5 1.6 0.5 1.6 1 1.6-0.4 1.6-1.1 1.6-0.6 1.6 0.1 1.6-0.4 1.6 0.7 1.6-0.2 1.6-0.7 1.6-0.8 1.6-1 1.6-0.2 1.6-0.1 1.6 0.8 1.6 0.2 1.6 1.5 1.6 1.2 1.6 1.1 1.6 0.6 1.6 1 1.6 0.8 1.6 1.3 1 3 1 1.9 1 1.6 1-1.9 1-2.8 1-2.6 1-0.8 1-1 1-1.3 1.6-0.8 1.6-0.2 1.6-0.5 1.6-0.3 1.6 0.1 1.6-0.2 1.6 0.2 1.6 0.6 1.6-0.2 1.6 0.3 1.6-0.7 1.6-0.6 1.6"/>
<path d="M133.6 144.2l0 1.6-0.1 1.6-0.3 1.6 0.1 1.6 0.5 1.6 0.8 1.6 0.5 1.6 0.2 1.6 0 1.6 0.7 1.6-0.8 1.6 0.7 1.6-0.3 1.6-0.3 1.6-0.2 1.6 0 1.6-1 1.6-0.7 1.6-0.5 1.6-0.3 1.6 0.4 1.6 0.4 1.6 1.1 1.6 1 1.6 0.3 1.6 1.4 1.6 0.2 1.6 1 1.6 2.1 1.6 1.4 1 3.3 1 2.6 1 1.1 1-1.8 1-2.7 1-2.9 1-2.2 1-0.2 1-1.7 1.6-1.2 1.6-0.6 1.6 0.3 1.6 0.1 1.6 0.1 1.6 0 1.6 0.5 1.6-0.8 1.6 0 1.6 0.4 1.6-0.3 1.6 0.2 1.6"/>
<path d="M135.3 144.2l0.3 1.6-0.8 1.6-0.3 1.6 0 1.6 0.5 1.6 0.5 1.6 1 1.6 0 1.6 0.1 1.6-0.8 1.6 0.4 1.6-0.1 1.6-0.2 1.6-0.3 1.6 0.4 1.6 0.2 1.6-1.6 1.6-0.5 1.6-0.4 1.6-0.9 1.6 0.5 1.6 0.1 1.6 0.5 1.6 1 1.6 0.4 1.6 1.6 1.6 0.1 1.6 1 1.6 1.7 1.6 2.2 1 1.9 1 2.9 1 1.5 1-2.6 1-1.6 1-3 1-1.5 1-0.5 1-1.8 1.6-0.8 1.6-0.9 1.6 0 1.6-0.4 1.6-0.2 1.6 0.9 1.6-0.1 1.6 0.3 1.6 0.2 1.6-0.5 1.6 0.4 1.6-0.9 1.6"/>
<path d="M136.9 144.2l0.7 1.6 0 1.6-0.8 1.6 0.2 1.6-0.7 1.6-0.5 1.6 0.6 1.6-0.2 1.6 0.6 1.6 0.8 1.6 0.4 1.6 0.8 1.6 0.3 1.6-0.1 1.6-0.1 1.6 1.1 1.6 0.2 1.6 0.3 1.6 0.4 1.6-0.2 1.6-0.6 1.6-1 1.6-0.7 1.6-0.2 1.6 0 1.6 0.6 1.6 0.9 1.6 1 1.6 1.2 1.6 1.1 1 1.6 1 1 1 1 1-1.4 1-2 1-1.6 1-1 1-0.2 1-1.5 1.6-0.5 1.6-0.3 1.6-0.4 1.6 0.4 1.6-0.6 1.6-0.4 1.6-0.6 1.6 0.4 1.6 0.2 1.6 0.6 1.6 0.5 1.6-0.5 1.6"/>
<path d="M138.8 144.2l0.8 1.6-0.2 1.6-1.5 1.6-0.4 1.6-0.5 1.6 0.3 1.6-0.5 1.6 1.5 1.6 0.4 1.6 1.2 1.6 0.4 1.6 0.5 1.6 0 1.6 0.6 1.6-0.2 1.6 0.7 1.6-0.5 1.6 0.4 1.6 0 1.6 0.2 1.6-1.3 1.6-0.1 1.6-0.7 1.6-0.1 1.6 0.4 1.6 0.3 1.6 1.8 1.6 1.2 1.6 1.6 1.6 2.2 1 2.3 1 2.6 1 0.9 1-1.6 1-3.3 1-2.4 1-1.5 1-1.6 1-1.4 1.6-0.2 1.6-0.4 1.6-1 1.6-0.3 1.6-0.4 1.6 0.5 1.6-0.6 1.6 0.6 1.6-0.2 1.6 0.6 1.6-0.1 1.6 0.3 1.6"/>
<path d="M139.2 144.2l-0.1 1.6 0.8 1.6-0.6 1.6-1 1.6 0.1 1.6-0.2 1.6 0.1 1.6 0 1.6 0.6 1.6 0.6 1.6 0.3 1.6 0.1 1.6 0.5 1.6 0 1.6-0.1 1.6 1.3 1.6 0.5 1.6-0.2 1.6 0.3 1.6-0.4 1.6-0.8 1.6-0.1 1.6-1.1 1.6-0.2 1.6 0.7 1.6 0.5 1.6 0.4 1.6 1.4 1.6 0.9 1.6 0.9 1 2.4 1 1.1 1 1.2 1-2 1-1.8 1-1.3 1-1.6 1-0.9 1-0.6 1.6 0.1 1.6-0.3 1.6-0.6 1.6-0.6 1.6-0.3 1.6 0 1.6-0.5 1.6 0.1 1.6 0.3 1.6 0.4 1.6 0.6 1.6 0 1.6"/>
<path d="M141.8 144.2l-0.4 1.6 0.9 1.6-0.6 1.6 0.4 1.6-0.2 1.6-0.9 1.6 0.4 1.6-0.3 1.6 0.1 1.6-1.1 1.6-0.8 1.6-0.7 1.6-0.5 1.6-0.2 1.6-0.6 1.6 0.2 1.6 0.8 1.6 0.2 1.6 0.7 1.6 0.9 1.6-0.1 1.6 1.1 1.6 0.1 1.6 0.8 1.6 0.1 1.6-0.2 1.6 0.6 1.6 0.6 1.6 1.7 1.6 1 1 1.1 1 1.1 1 0.7 1-0.7 1-2.1 1-0.3 1-1.3 1 0 1-0.5 1.6-0.4 1.6-0.2 1.6 0.7 1.6-0.6 1.6-0.9 1.6 0.4 1.6-0.8 1.6 0.2 1.6-0.4 1.6 0.1 1.6-0.4 1.6 0.3 1.6"/>
<path d="M143.5 144.2l0.6 1.6 0 1.6-0.7 1.6-0.1 1.6 0.1 1.6-0.9 1.6 0 1.6-0.9 1.6-0.1 1.6 0.1 1.6-0.8 1.6-0.5 1.6-0.9 1.6-0.1 1.6 0.6 1.6 0.3 1.6 0.3 1.6 0.3 1.6 0 1.6 0.2 1.6 0.9 1.6 0 1.6 0.3 1.6 0.2 1.6-0.1 1.6 0.6 1.6 0.6 1.6 1.8 1.6 0.7 1.6 1.6 1 1.5 1 1.9 1 0.5 1-0.4 1-2.2 1-1.4 1-0.4 1-0.8 1-0.6 1.6-0.2 1.6-0.9 1.6 0.3 1.6-0.9 1.6-0.4 1.6-0.6 1.6-0.3 1.6 0.6 1.6 0.1 1.6-0.5 1.6-0.4 1.6 0.1 1.6"/>
<path d="M143.7 144.2l0.7 1.6 0.2 1.6 0 1.6 0.7 1.6-0.4 1.6 0 1.6-0.3 1.6-1 1.6 0.3 1.6-0.9 1.6-1 1.6-0.7 1.6-0.6 1.6-0.5 1.6 0.3 1.6 0 1.6 0.2 1.6 0.6 1.6 0.9 1.6 0.2 1.6 0.5 1.6 1.1 1.6-0.3 1.6 0.3 1.6 0.5 1.6 0.1 1.6 0.6 1.6 0.8 1.6 0.9 1.6 1.9 1 1.6 1 2.1 1 0.2 1-1 1-1.6 1-1.1 1-0.9 1-0.4 1-1.3 1.6 0.3 1.6-0.8 1.6 0.4 1.6-1.1 1.6 0.5 1.6-0.5 1.6-0.3 1.6-0.4 1.6-0.6 1.6 0.4 1.6 0.1 1.6-0.3 1.6"/>
<path d="M145.8 144.2l-1.3 1.6-0.1 1.6 0.3 1.6 0.4 1.6 0.2 1.6-0.6 1.6 0.3 1.6 0.2 1.6-1.2 1.6 0.1 1.6-1.3 1.6-0.1 1.6-0.5 1.6 0.7 1.6-0.6 1.6 0.9 1.6 0.7 1.6 0.1 1.6 0.5 1.6 0.3 1.6 0.5 1.6 0.2 1.6-0.5 1.6 1.3 1.6-0.1 1.6 0.3 1.6 1.2 1.6 0.2 1.6 1.3 1.6 2 1 2.3 1 2.5 1 0.8 1-1.4 1-2.5 1-2.1 1-1.9 1-1.5 1-0.8 1.6-1 1.6 0.3 1.6-0.9 1.6-0.4 1.6 0.3 1.6-0.9 1.6 0.2 1.6 0.1 1.6-0.1 1.6-0.2 1.6-0.2 1.6-0.1 1.6"/>
<path d="M146 144.2l-0.2 1.6-1.2 1.6 0 1.6 0.2 1.6 0.3 1.6 1.1 1.6-0.5 1.6 0.6 1.6-0.6 1.6-0.4 1.6-0.5 1.6-0.1 1.6-0.7 1.6-0.1 1.6-0.2 1.6 0.6 1.6 0 1.6 0.1 1.6 0.4 1.6-0.2 1.6 1 1.6 0.3 1.6 0.9 1.6 0.8 1.6 0.5 1.6 0.6 1.6-0.3 1.6 1.1 1.6 1.4 1.6 1.1 1 2.5 1 2.3 1 0.7 1-1.6 1-3.1 1-2.1 1-0.7 1-1.4 1-1 1.6-0.7 1.6-0.6 1.6 0.5 1.6-0.7 1.6 0.4 1.6-0.5 1.6 0.4 1.6 0.1 1.6-0.2 1.6-0.4 1.6-0.7 1.6 0 1.6"/>
<path d="M148 144.2l0.1 1.6-0.1 1.6 0.4 1.6 0.3 1.6 0.1 1.6 0 1.6-0.3 1.6 0.6 1.6-0.5 1.6-1.6 1.6-0.8 1.6 0 1.6-1.1 1.6 0.3 1.6 0.5 1.6 0.3 1.6 0.2 1.6 1.1 1.6 0.7 1.6-0.3 1.6 0.8 1.6 0.1 1.6 0.5 1.6 0.4 1.6 0.5 1.6 0.4 1.6-0.5 1.6 0.8 1.6 1.8 1.6 1.5 1 3.1 1 2 1 1.2 1-2.4 1-2.1 1-2.1 1-2.2 1-0.2 1-1.6 1.6-0.6 1.6-0.2 1.6-0.2 1.6-0.1 1.6-0.7 1.6 0 1.6 0 1.6-0.6 1.6 0.3 1.6-0.8 1.6 0 1.6-0.5 1.6"/>
<path d="M151.1 144.2l0.3 1.6-0.2 1.6-0.5 1.6-0.5 1.6 0.2 1.6-0.1 1.6-0.3 1.6 0.3 1.6 0.7 1.6-0.3 1.6-0.1 1.6-0.6 1.6-0.1 1.6-0.7 1.6-0.7 1.6-0.8 1.6-1.2 1.6 0.5 1.6-0.3 1.6-0.3 1.6 0.7 1.6 0.7 1.6-0.1 1.6 1 1.6 0.2 1.6 1.1 1.6 1.4 1.6 1 1.6 1.7 1.6 1.2 1 2 1 2.3 1 0.5 1-1.1 1-2.3 1-2.3 1-2.2 1-0.5 1-1.1 1.6-0.2 1.6-1 1.6 0.2 1.6-0.3 1.6-0.2 1.6-0.3 1.6 0.3 1.6-0.2 1.6 0.2 1.6-0.5 1.6 0 1.6 0.2 1.6"/>
<path d="M150.6 144.2l-0.4 1.6-0.5 1.6-0.5 1.6-0.6 1.6-0.6 1.6-0.8 1.6 0.2 1.6 0.3 1.6 0.8 1.6-0.5 1.6 0.1 1.6 0.6 1.6-0.8 1.6-0.9 1.6-0.2 1.6-0.9 1.6-0.4 1.6-0.4 1.6 0.8 1.6-0.3 1.6 0.3 1.6 0 1.6 0.3 1.6 0.8 1.6 0.4 1.6 1.6 1.6 1.1 1.6 0.9 1.6 2.4 1.6 1.7 1 2.2 1 1.7 1 0.9 1-1.6 1-3.2 1-1.9 1-1.6 1-0.5 1-1.1 1.6-0.5 1.6-0.4 1.6-0.2 1.6-0.1 1.6-0.4 1.6-0.2 1.6-0.2 1.6 0.3 1.6 0 1.6 0.1 1.6 0.4 1.6-0.1 1.6"/>
<path d="M153.2 144.2l-0.1 1.6-1 1.6-0.3 1.6-0.4 1.6-0.9 1.6 0.5 1.6-0.8 1.6 0.5 1.6 0.4 1.6-0.2 1.6 0 1.6 0.4 1.6-1.1 1.6-0.8 1.6-0.5 1.6-0.8 1.6-0.1 1.6-0.7 1.6-0.4 1.6 0.5 1.6 0.8 1.6 0.1 1.6 0.4 1.6-0.1 1.6 1.4 1.6 0.7 1.6 1 1.6 1.8 1.6 1.5 1.6 1.8 1 3 1 1.8 1 0.8 1-2 1-2.2 1-2.7 1-1.3 1-1.8 1-0.8 1.6-0.7 1.6-0.7 1.6-0.2 1.6 0.3 1.6-0.4 1.6 0 1.6 0 1.6-0.3 1.6-0.1 1.6 0 1.6 0.2 1.6 0.2 1.6"/>
<path d="M152 144.2l0 1.6-0.1 1.6-0.2 1.6 0.2 1.6-0.7 1.6 0.4 1.6-0.2 1.6 0.5 1.6 0.1 1.6 0.3 1.6 0.3 1.6-0.2 1.6-0.2 1.6-0.1 1.6-0.3 1.6-1.1 1.6 0 1.6-0.4 1.6-0.3 1.6-0.1 1.6 0.4 1.6-0.4 1.6 0.4 1.6 0.6 1.6 0.3 1.6 0.7 1.6 0.3 1.6 0.8 1.6 1.8 1.6 1.8 1 1.5 1 1.2 1 0.3 1-0.3 1-2.7 1-1.4 1-0.8 1-1.2 1-1 1.6 0.6 1.6-0.8 1.6 0.5 1.6-0.7 1.6 0.3 1.6 0.3 1.6-0.1 1.6-0.4 1.6 0.2 1.6 0.8 1.6-0.1 1.6 0.3 1.6"/>
<path d="M153.3 144.2l-1.2 1.6 0.4 1.6-0.6 1.6-0.6 1.6 0.4 1.6-0.4 1.6-0.4 1.6 0.9 1.6 0.4 1.6-0.3 1.6 0.7 1.6-0.4 1.6-0.1 1.6 0 1.6-0.1 1.6-0.3 1.6-0.3 1.6-0.1 1.6-0.7 1.6 0.9 1.6 0 1.6-0.6 1.6 0.5 1.6 0.4 1.6 0.1 1.6 0.9 1.6 0.9 1.6 1.5 1.6 2 1.6 1.7 1 1.6 1 2.6 1 0.4 1-1 1-2.7 1-2.2 1-1.7 1-0.6 1-1.9 1.6 0.3 1.6-0.2 1.6-0.5 1.6-0.6 1.6 0.4 1.6 0.2 1.6 0.3 1.6 0.2 1.6-0.4 1.6 0.3 1.6-0.1 1.6 0 1.6"/>
<path d="M154.5 144.2l-0.5 1.6-0.5 1.6 0.4 1.6-0.5 1.6-0.5 1.6 0.2 1.6 0.4 1.6 0.6 1.6 0.6 1.6 0 1.6 0.3 1.6-0.4 1.6 0.4 1.6-0.9 1.6 0.3 1.6-0.7 1.6-0.3 1.6 0.5 1.6-0.4 1.6-0.4 1.6 0.6 1.6-0.2 1.6 0.3 1.6 0.4 1.6 0.9 1.6 0.4 1.6 1.1 1.6 1.2 1.6 2 1.6 2.4 1 3 1 2.5 1 0.5 1-1.3 1-3.6 1-2.3 1-2 1-0.3 1-1.9 1.6-0.4 1.6-0.6 1.6 0.3 1.6-0.1 1.6-0.2 1.6 0.2 1.6 0.2 1.6-0.3 1.6 0.8 1.6 0.3 1.6-0.1 1.6-0.7 1.6"/>
<path d="M155.9 144.2l0 1.6-0.1 1.6 0.1 1.6 0.3 1.6-0.7 1.6-0.3 1.6-0.5 1.6-1.5 1.6 0 1.6-0.2 1.6 0.5 1.6 0.7 1.6 1 1.6-0.5 1.6 0.5 1.6-0.7 1.6 0.1 1.6 0 1.6-0.6 1.6 0.3 1.6 0.3 1.6 0.1 1.6 0.6 1.6-1 1.6 0.2 1.6 0 1.6-0.1 1.6 1.5 1.6 3 1.6 2.5 1 2.7 1 2.5 1 0.7 1-0.9 1-3 1-2.1 1-2.4 1-1.2 1-0.4 1.6-1.5 1.6-0.2 1.6 0.1 1.6-0.3 1.6-0.2 1.6 0.1 1.6 0.1 1.6 0 1.6-0.1 1.6-0.5 1.6 0.5 1.6 0.4 1.6"/>
<path d="M158.6 144.2l-0.6 1.6-0.2 1.6 0.8 1.6-0.3 1.6-0.6 1.6-0.1 1.6 0 1.6-0.8 1.6-0.5 1.6 0.1 1.6-0.5 1.6 0.2 1.6 0.6 1.6 1.1 1.6 0.1 1.6-0.4 1.6-0.5 1.6-1.3 1.6-0.1 1.6 0.3 1.6-0.5 1.6 0.3 1.6 0.4 1.6 0 1.6 0.1 1.6-0.4 1.6 0.3 1.6 1 1.6 4 1.6 1.7 1 2.8 1 2.6 1 1.5 1-2 1-2.4 1-3.1 1-0.9 1-1.4 1-1.2 1.6-0.7 1.6-1.2 1.6 0.2 1.6-0.7 1.6 0.6 1.6-0.5 1.6 1 1.6-0.1 1.6-0.5 1.6 0.6 1.6-0.2 1.6-0.3 1.6"/>
<path d="M159.1 144.2l-1.1 1.6 0.1 1.6 0 1.6-0.5 1.6 0.8 1.6-1.1 1.6-0.5 1.6 0.2 1.6-0.7 1.6 0.6 1.6 0.4 1.6 0.8 1.6 0 1.6 1 1.6 0 1.6-0.4 1.6-0.5 1.6-0.8 1.6-0.6 1.6-0.5 1.6 0.4 1.6-0.3 1.6 0.7 1.6-0.6 1.6 0.6 1.6-0.4 1.6 1 1.6 1.2 1.6 2.8 1.6 1.6 1 2.5 1 2.4 1 0.4 1-1.3 1-2.3 1-2.5 1-1.1 1-0.8 1-1.7 1.6-1.1 1.6 0.1 1.6-1.1 1.6 0.6 1.6 0.2 1.6-0.4 1.6 0.2 1.6 0.4 1.6 0 1.6-0.1 1.6-0.1 1.6 0.1 1.6"/>
<path d="M160.2 144.2l-0.2 1.6-0.2 1.6 0.7 1.6-0.1 1.6 0.6 1.6 0.5 1.6 1.2 1.6-0.4 1.6-0.1 1.6-0.1 1.6-0.9 1.6 0.1 1.6-0.4 1.6-0.5 1.6-0.7 1.6 0.7 1.6-0.7 1.6-0.1 1.6-0.4 1.6 0.2 1.6-0.7 1.6 0.5 1.6-0.3 1.6 1.2 1.6 0.5 1.6 0.5 1.6 0 1.6-0.5 1.6 1.1 1.6 1.3 1 1.5 1 0.4 1 1.2 1-1.4 1-1.8 1-1.2 1 0 1-1 1-0.9 1.6 0.6 1.6-0.7 1.6-0.2 1.6 0.2 1.6-0.3 1.6 0.3 1.6-0.1 1.6 0.2 1.6-0.7 1.6 0.7 1.6-0.5 1.6-0.8 1.6"/>
<path d="M163 144.2l-0.7 1.6 0.1 1.6-0.3 1.6 0.3 1.6 0.1 1.6 1.2 1.6 0.7 1.6-0.2 1.6 0.5 1.6-0.4 1.6-0.9 1.6 0.3 1.6-1.3 1.6 0.2 1.6-1 1.6 0 1.6-0.3 1.6-0.8 1.6 0.5 1.6-0.3 1.6 0.2 1.6 0 1.6 0.7 1.6 1.4 1.6 0.8 1.6 0 1.6 0.7 1.6-0.2 1.6 0.1 1.6 2 1 0.5 1 2.1 1 0.1 1-0.8 1-1.9 1-1.4 1-1.4 1-0.1 1-1.3 1.6-0.4 1.6-0.4 1.6 0.2 1.6 0.2 1.6 0.4 1.6 0.2 1.6-0.2 1.6 0.3 1.6-0.8 1.6-0.4 1.6-0.2 1.6-0.2 1.6"/>
<path d="M163.4 144.2l-1 1.6-0.3 1.6 0.5 1.6-0.3 1.6 0.7 1.6 0.3 1.6 1 1.6-0.4 1.6 0.7 1.6-0.3 1.6-0.9 1.6 0 1.6-0.2 1.6-1.1 1.6 0 1.6 0.1 1.6 0.1 1.6-0.2 1.6-0.7 1.6-0.1 1.6-0.2 1.6 0.3 1.6 0.3 1.6 0.9 1.6 1.4 1.6 0.4 1.6 0.2 1.6 0.4 1.6 1.4 1.6 0.7 1 2.4 1 1.7 1 0.5 1-2 1-2 1-1.5 1-1.2 1-1 1-0.6 1.6-1 1.6 0.5 1.6-0.7 1.6 0 1.6 0.6 1.6-0.9 1.6 0.3 1.6 0.4 1.6-0.3 1.6 0.1 1.6-0.7 1.6-0.5 1.6"/>
<path d="M163 144.2l0.5 1.6-0.5 1.6-0.5 1.6 0.6 1.6-0.3 1.6 0.1 1.6 1.2 1.6 0.2 1.6-0.4 1.6-0.2 1.6-0.3 1.6-0.3 1.6-0.8 1.6-0.4 1.6-0.7 1.6-0.2 1.6 0 1.6-0.5 1.6 0.6 1.6 0.3 1.6 0.1 1.6 0.1 1.6-0.1 1.6 1.1 1.6 0.8 1.6-0.2 1.6 0.7 1.6 1.4 1.6 1.5 1.6 1.3 1 1.8 1 0.9 1 1.1 1-1.7 1-1.6 1-0.8 1-1.1 1-0.6 1-0.5 1.6 0.1 1.6 0.4 1.6-1 1.6-0.2 1.6-0.2 1.6 0 1.6-0.1 1.6 0.2 1.6 0.4 1.6 0.4 1.6-0.1 1.6-0.6 1.6"/>
<path d="M163.6 144.2l-0.4 1.6 0.2 1.6-0.3 1.6 0.4 1.6-0.3 1.6-0.4 1.6 1 1.6-0.4 1.6 0.8 1.6-0.7 1.6 0.4 1.6-0.8 1.6-0.2 1.6-0.2 1.6-0.1 1.6 0.1 1.6 0 1.6-0.6 1.6 0 1.6 0.5 1.6 0.3 1.6 1 1.6 0.2 1.6 0 1.6 0.8 1.6 0.7 1.6-0.1 1.6 0.5 1.6 1.7 1.6 0.8 1 2.1 1 1.2 1 1 1-1.2 1-1.9 1-1.7 1-0.6 1-0.6 1-0.5 1.6 0.2 1.6-0.2 1.6-0.1 1.6-0.1 1.6-0.6 1.6 0.6 1.6-0.3 1.6 0.4 1.6-0.2 1.6-0.5 1.6 0.9 1.6-0.5 1.6"/>
<path d="M163.2 144.2l0.7 1.6-0.7 1.6-0.2 1.6 0.6 1.6 0.2 1.6 0 1.6 0.8 1.6-0.1 1.6 0 1.6-0.7 1.6-0.3 1.6-0.9 1.6 0.1 1.6 0.3 1.6 0.2 1.6-0.1 1.6 0.3 1.6 0.2 1.6 0.1 1.6-0.3 1.6 0.6 1.6 0.2 1.6 0.5 1.6 0.3 1.6 0.5 1.6 0.4 1.6 0.9 1.6 0.2 1.6 2 1.6 1.5 1 2.4 1 1.7 1 0.8 1-1.4 1-2.3 1-1.8 1-0.7 1-1.5 1 0.2 1.6-0.9 1.6-0.2 1.6-0.4 1.6-0.3 1.6-0.1 1.6-0.2 1.6-0.5 1.6 0.7 1.6 0.1 1.6 0 1.6-0.3 1.6-0.2 1.6"/>
<path d="M166.2 144.2l0.3 1.6 0.2 1.6 0 1.6-0.5 1.6-0.3 1.6 0.9 1.6-0.2 1.6 1.3 1.6-0.1 1.6 0.3 1.6 0.5 1.6-0.8 1.6-1.4 1.6-0.8 1.6-0.3 1.6-1.1 1.6-0.2 1.6 0.1 1.6 0.9 1.6 0.6 1.6-0.9 1.6 0.3 1.6-0.6 1.6 0.4 1.6-0.1 1.6 0.8 1.6 0.4 1.6 1.5 1.6 0.9 1.6 1.6 1 0.8 1 1.9 1-0.3 1-0.7 1-2.1 1-0.8 1-1.4 1-0.1 1 0.3 1.6-0.3 1.6 0.4 1.6-0.2 1.6 0.6 1.6-0.9 1.6-0.2 1.6 0.1 1.6 0.3 1.6-0.2 1.6 0.3 1.6 0.9 1.6-0.5 1.6"/>
<path d="M166.9 144.2l0.7 1.6-0.4 1.6 0.8 1.6-0.4 1.6-0.3 1.6 0.4 1.6 0.1 1.6 1.1 1.6 0.6 1.6 0.4 1.6-0.2 1.6-0.3 1.6-1.3 1.6-1.1 1.6-0.7 1.6-1.1 1.6-0.5 1.6 0.1 1.6 0.3 1.6 0.7 1.6 0.1 1.6-0.1 1.6 0.1 1.6-0.1 1.6 0.8 1.6 0.4 1.6 0.6 1.6 1 1.6 3.1 1.6 1.3 1 2.1 1 1.9 1 0.4 1-1.1 1-2.6 1-1.9 1-1.2 1-0.8 1-1.4 1.6 0.4 1.6-0.3 1.6 0.6 1.6 0.4 1.6-0.9 1.6 0.7 1.6-0.2 1.6-0.7 1.6 0.5 1.6 0.5 1.6 0 1.6-0.2 1.6"/>
<path d="M168 144.2l0.2 1.6 0.4 1.6 0.2 1.6-0.2 1.6 0.3 1.6 0.2 1.6 0.2 1.6 0.4 1.6 0.6 1.6 0.2 1.6-0.3 1.6 0.1 1.6-1.1 1.6-0.5 1.6-0.9 1.6-0.4 1.6-0.8 1.6 0.2 1.6 0.8 1.6 0.5 1.6 0.4 1.6 0.6 1.6-0.8 1.6 0.6 1.6-0.3 1.6 0.8 1.6 0.6 1.6 1 1.6 2.5 1.6 1.6 1 2.6 1 3.2 1 0.2 1-1.9 1-2.3 1-2.5 1-2.3 1-0.4 1-0.5 1.6-0.5 1.6-0.5 1.6 0.9 1.6-0.7 1.6-0.4 1.6 0.8 1.6-0.8 1.6-0.3 1.6 0.8 1.6 0.1 1.6-0.5 1.6 0.6 1.6"/>
<path d="M166.6 144.2l0.4 1.6-0.1 1.6-0.3 1.6 0.2 1.6 1.1 1.6-0.3 1.6 0.3 1.6 0 1.6 1.2 1.6 0.4 1.6 0.4 1.6 0.2 1.6 0.9 1.6-0.5 1.6 0 1.6-1.1 1.6 0.5 1.6 0.3 1.6-0.4 1.6 1.5 1.6-0.1 1.6 1 1.6 0.5 1.6-0.1 1.6 0.2 1.6-0.4 1.6 1.1 1.6 0.8 1.6 1.4 1.6 1.9 1 2.1 1 2.3 1 0.4 1-1.5 1-3.2 1-2.5 1-0.9 1-1.6 1-1.2 1.6-0.2 1.6 0.1 1.6-0.4 1.6 0.3 1.6 0.4 1.6 0.1 1.6-0.4 1.6-0.5 1.6 0.4 1.6-0.5 1.6 0.3 1.6 0.3 1.6"/>
<path d="M168.2 144.2l0.1 1.6-0.4 1.6 1.1 1.6-0.7 1.6 0.7 1.6 0 1.6 0.6 1.6 0.5 1.6 1 1.6 0.2 1.6 1.6 1.6-0.3 1.6 0.5 1.6-0.2 1.6-1 1.6-0.4 1.6-0.1 1.6 1.1 1.6 0 1.6 1.2 1.6 0.5 1.6 0.3 1.6 0.5 1.6 0 1.6 0.5 1.6 0.5 1.6 0.5 1.6 0.1 1.6-0.2 1.6 0.6 1 1.4 1 2 1-0.2 1-1 1-1.6 1-2.2 1-0.8 1-0.4 1-1.3 1.6-0.1 1.6-0.1 1.6 0.5 1.6 0.2 1.6-0.1 1.6-0.3 1.6 0.2 1.6 0 1.6 0.3 1.6 0.1 1.6-0.5 1.6-0.3 1.6"/>
<path d="M171.7 144.2l-0.1 1.6 0.1 1.6-0.4 1.6-0.6 1.6-0.1 1.6-0.2 1.6 0.4 1.6 0.4 1.6-0.1 1.6 0.7 1.6 0.6 1.6 1.1 1.6 0.3 1.6 0 1.6-0.7 1.6 0.2 1.6-0.1 1.6 0.4 1.6 0.5 1.6 0 1.6 0.7 1.6 0 1.6 0.6 1.6-0.1 1.6 0.1 1.6 0.2 1.6 1.2 1.6 0.6 1.6 0.6 1.6 0.5 1 2.3 1 1.2 1-0.4 1-1 1-1.1 1-1.8 1-1 1-1.5 1-0.3 1.6-0.7 1.6-0.1 1.6 0.1 1.6-0.5 1.6 0.6 1.6 0 1.6 0 1.6 0 1.6 0 1.6 0.3 1.6-0.7 1.6 0 1.6"/>
<path d="M174.6 144.2l-0.2 1.6-0.6 1.6 0.3 1.6-0.8 1.6 0.5 1.6 0.2 1.6 0 1.6 0.8 1.6 0.9 1.6 0.7 1.6-0.3 1.6 0.2 1.6 0.5 1.6-0.4 1.6-0.5 1.6-0.4 1.6-0.3 1.6-0.9 1.6 0.5 1.6-0.4 1.6-0.5 1.6 0.7 1.6-0.4 1.6 0 1.6 1.3 1.6 1 1.6 1.1 1.6 1.3 1.6 1.3 1.6 1.6 1 3.1 1 1.5 1 1.1 1-1.3 1-3.1 1-3 1-1.3 1-1.2 1-1.5 1.6-0.1 1.6-0.2 1.6-0.6 1.6 0.2 1.6-0.2 1.6 0.1 1.6-0.4 1.6 0.2 1.6 0.8 1.6 0.1 1.6-0.3 1.6-0.3 1.6"/>
<path d="M175.1 144.2l-0.1 1.6 0.1 1.6-0.9 1.6 0.2 1.6-1.4 1.6 0.1 1.6 0.4 1.6 0.7 1.6 0.7 1.6 0.5 1.6 0.7 1.6 1.3 1.6-0.5 1.6-0.1 1.6-0.3 1.6-0.1 1.6-0.3 1.6 0.2 1.6 0.4 1.6-1 1.6 0.3 1.6-0.2 1.6-0.7 1.6 0 1.6 0.3 1.6 0.6 1.6 1.5 1.6 1 1.6 1.8 1.6 1.3 1 3 1 2.3 1 0.8 1-2.6 1-2.3 1-2.6 1-1.7 1-0.4 1-1.5 1.6-0.5 1.6 0.1 1.6-0.7 1.6-0.4 1.6 0.2 1.6 0 1.6-0.3 1.6 0.1 1.6 0.9 1.6 0 1.6 0.2 1.6 0 1.6"/>
<path d="M176.1 144.2l0.2 1.6 0.4 1.6 0.1 1.6 0 1.6-0.3 1.6-0.4 1.6-0.1 1.6 0 1.6 1 1.6 0.3 1.6 1 1.6 0.3 1.6 0.3 1.6-0.5 1.6-0.1 1.6-0.6 1.6-0.7 1.6-0.1 1.6 0.7 1.6-0.3 1.6 0.3 1.6 0 1.6 0 1.6-0.5 1.6 0.5 1.6 0.3 1.6 0.8 1.6 1.4 1.6 2.5 1.6 1.6 1 3.2 1 3.1 1 0.4 1-2.1 1-3.2 1-2.5 1-1.2 1-1.3 1-1.3 1.6-0.8 1.6-0.4 1.6-0.4 1.6 0 1.6 0.1 1.6 0 1.6-0.7 1.6 0.5 1.6 0.3 1.6-0.2 1.6-0.3 1.6 0.6 1.6"/>
<path d="M180.3 144.2l-1 1.6 0.2 1.6 0 1.6 0.5 1.6-0.2 1.6 0 1.6 0.2 1.6-0.6 1.6-0.7 1.6-1.1 1.6-1.2 1.6 0.1 1.6 0.1 1.6-0.3 1.6 0.3 1.6 0.5 1.6 0 1.6-1 1.6 0.1 1.6 0.5 1.6-0.4 1.6 0.3 1.6 1.2 1.6 0.2 1.6-0.1 1.6 0.2 1.6-0.1 1.6 1.2 1.6 2.7 1.6 1.6 1 2.6 1 2.4 1 1 1-1.3 1-2.4 1-2.5 1-1.3 1-0.8 1-1.6 1.6-0.3 1.6-0.5 1.6-0.8 1.6 0.6 1.6-0.3 1.6-0.7 1.6 0.2 1.6 0.3 1.6-0.6 1.6 0 1.6 0.2 1.6 0 1.6"/>
</g>
<rect x="51.8" y="145.2" width="140" height="74.2" fill="none" stroke="#6a6a6a" stroke-width="1"/>
<rect x="198.2" y="145.2" width="140.5" height="74.2" fill="#fff"/>
<clipPath id="cb1"><rect x="198.2" y="145.2" width="140.5" height="74.2"/></clipPath>
<g clip-path="url(#cb1)" fill="none" stroke="#4683c0" stroke-opacity="0.66" stroke-width="0.6">
<path d="M202.3 144.2l0.2 1.6 0.2 1.6-0.6 1.6 0.5 1.6-0.6 1.6-0.2 1.6 0.1 1.6-1.4 1.6-0.3 1.6 0.4 1.6 0 1.6 0.3 1.6-0.2 1.6 0.6 1.6-0.7 1.6-1.2 1.6-2.1 1.6-1.1 1.6-0.8 1.6 0.5 1.6 1.1 1.6 0.6 1.6 0.7 1.6 1.1 1.6 0.5 1.6 0.3 1.6-0.1 1.6 0.6 1.6 2.3 1.6 1.1 1 2.4 1 1.3 1 1.2 1-1.3 1-1.3 1-1.9 1-1.3 1-0.5 1-1.5 1.6-0.1 1.6-1.4 1.6 0.4 1.6-0.3 1.6 0.2 1.6-0.1 1.6 0.7 1.6 0 1.6-0.6 1.6-0.4 1.6 0.2 1.6 0.4 1.6"/>
<path d="M204.5 144.2l-0.3 1.6-0.2 1.6-0.4 1.6 0.6 1.6-0.2 1.6-0.3 1.6-0.3 1.6-0.6 1.6-0.1 1.6 0.1 1.6-0.3 1.6-0.2 1.6 0.3 1.6-0.2 1.6-0.4 1.6-1.1 1.6-2.2 1.6-0.9 1.6-1 1.6 0.5 1.6 1.4 1.6 0.8 1.6 1.5 1.6 0.4 1.6 1.1 1.6 0.2 1.6 0.2 1.6 0.6 1.6 2.4 1.6 2.2 1 1.8 1 2 1 1.3 1-1.9 1-1.6 1-2.7 1-1 1-1.8 1-1.2 1.6-0.1 1.6-0.3 1.6-0.7 1.6 0.3 1.6 0.1 1.6 0.5 1.6-0.7 1.6 0.3 1.6-0.8 1.6-0.1 1.6-0.2 1.6 0.3 1.6"/>
<path d="M206.2 144.2l0.2 1.6-0.4 1.6 0 1.6 0.7 1.6-0.2 1.6-0.5 1.6-0.7 1.6-0.9 1.6 0.1 1.6-0.5 1.6 0.6 1.6 0.6 1.6-0.1 1.6-0.7 1.6-0.5 1.6-1.3 1.6-1.2 1.6-1.3 1.6-0.6 1.6 1.3 1.6 0.2 1.6 1.8 1.6 0.1 1.6 1.4 1.6-0.1 1.6 0.1 1.6 1.3 1.6 0.6 1.6 1.6 1.6 2.3 1 2.2 1 2.5 1 1.3 1-1.8 1-2.4 1-2.6 1-1.6 1-0.9 1-1.9 1.6-0.5 1.6-0.3 1.6-0.3 1.6-0.3 1.6 0.1 1.6 0.4 1.6 0.1 1.6-0.9 1.6 0.2 1.6-0.6 1.6 0.8 1.6-0.2 1.6"/>
<path d="M206.9 144.2l-0.2 1.6-0.2 1.6 0.2 1.6-0.4 1.6 0.3 1.6-0.1 1.6-0.4 1.6-1.1 1.6-0.2 1.6 0.7 1.6 0 1.6-0.3 1.6 0.1 1.6 0.1 1.6-0.5 1.6-1.7 1.6-0.8 1.6-1.8 1.6 0 1.6 0.3 1.6 0.6 1.6 0.7 1.6 1.1 1.6 0.3 1.6 0 1.6 0.1 1.6 0.8 1.6 1.2 1.6 1.3 1.6 1.6 1 1.2 1 1 1 1 1-0.7 1-1.5 1-2.1 1-0.3 1-1.5 1-1.1 1.6-0.3 1.6 0.2 1.6-0.8 1.6 0.1 1.6 0.6 1.6-0.5 1.6 0.5 1.6-0.6 1.6-0.2 1.6 0.7 1.6-0.5 1.6 0.2 1.6"/>
<path d="M207.3 144.2l0.1 1.6 1 1.6-0.5 1.6-0.2 1.6 0.2 1.6 0 1.6-1.4 1.6 0.2 1.6 0.1 1.6-0.6 1.6 0.8 1.6 0.8 1.6-0.1 1.6-1.3 1.6-0.5 1.6-1.7 1.6-1.3 1.6-1.7 1.6-0.2 1.6 0.5 1.6 1.1 1.6 0.9 1.6 1 1.6-0.6 1.6 0.9 1.6-0.5 1.6 0.7 1.6 0.6 1.6 1.7 1.6 1.8 1 1.1 1 1.6 1 0.3 1-0.9 1-1.2 1-1.7 1-1.2 1-0.9 1 0.1 1.6-1 1.6 0.3 1.6-0.6 1.6 0.6 1.6 0.4 1.6-0.5 1.6-0.2 1.6-0.3 1.6-0.1 1.6 0.2 1.6 0.3 1.6 0.4 1.6"/>
<path d="M209.6 144.2l-0.2 1.6 0.1 1.6 0.7 1.6-0.6 1.6 0 1.6-1.2 1.6-0.5 1.6-0.2 1.6-0.4 1.6-0.1 1.6 0.2 1.6 0.5 1.6 0.4 1.6-0.3 1.6-0.9 1.6-1.6 1.6-1.1 1.6-1.4 1.6-0.6 1.6 0.2 1.6 0.9 1.6 1.1 1.6 1 1.6 0 1.6-0.2 1.6 0.1 1.6 1.1 1.6 1.1 1.6 1.7 1.6 1.4 1 1.7 1 1.5 1 0.5 1-1.1 1-1.6 1-1.7 1-1.2 1-1.1 1-0.8 1.6-0.4 1.6-0.1 1.6-0.2 1.6-0.1 1.6 0.5 1.6-0.3 1.6-0.5 1.6 0.1 1.6-0.6 1.6 0.3 1.6 0.2 1.6-0.1 1.6"/>
<path d="M210.8 144.2l0.3 1.6-0.7 1.6 1.2 1.6-0.4 1.6-0.2 1.6 0.2 1.6-1.3 1.6-0.1 1.6-1 1.6 0.4 1.6-0.1 1.6-0.2 1.6 0.5 1.6 0.7 1.6-0.6 1.6-1.4 1.6-2 1.6-1.2 1.6 0.2 1.6-0.5 1.6 1.1 1.6 0.9 1.6 1 1.6 0.6 1.6-0.1 1.6 0.4 1.6 0.7 1.6-0.1 1.6 2.8 1.6 0.9 1 1.9 1 2.2 1 0.6 1-1.3 1-1.3 1-1.8 1-0.9 1-1.2 1-1.3 1.6-0.7 1.6 0 1.6-0.3 1.6-0.1 1.6 0 1.6 0.3 1.6 0.1 1.6-0.5 1.6-0.7 1.6 0.9 1.6-0.5 1.6 0 1.6"/>
<path d="M212.5 144.2l-0.2 1.6 0.2 1.6-0.7 1.6 0.3 1.6-0.5 1.6-0.1 1.6 0.4 1.6-0.6 1.6-0.8 1.6 0.1 1.6-0.4 1.6 0 1.6-0.4 1.6 0.3 1.6-1.3 1.6-1.1 1.6-1.4 1.6-0.7 1.6-1.2 1.6 0.2 1.6 0.2 1.6 1.5 1.6 1.1 1.6-0.1 1.6 0.9 1.6 0.7 1.6 0 1.6 1.3 1.6 2.2 1.6 1.5 1 2.1 1 1.3 1 0.8 1-0.9 1-1.6 1-1.2 1-1.3 1-1.3 1-1.2 1.6-0.2 1.6 0 1.6-0.5 1.6 0.4 1.6-0.1 1.6-0.1 1.6 0.9 1.6-0.9 1.6 0.4 1.6-0.3 1.6-0.2 1.6 0.3 1.6"/>
<path d="M214.4 144.2l0.2 1.6-0.4 1.6-0.3 1.6-0.7 1.6-1.3 1.6-0.2 1.6-1 1.6-0.7 1.6-0.4 1.6-0.1 1.6 0.6 1.6 0.1 1.6-1.3 1.6 0.6 1.6-0.6 1.6-0.7 1.6 0.1 1.6-0.2 1.6 0.8 1.6 0.1 1.6 1 1.6 0.3 1.6 0.3 1.6-0.1 1.6 0.8 1.6-0.4 1.6 1 1.6 2.3 1.6 0.9 1.6 2.7 1 2 1 1.8 1 1.4 1-2.5 1-1.9 1-2 1-2.1 1-0.5 1-1.5 1.6-0.2 1.6-0.6 1.6-0.5 1.6 0.1 1.6-1 1.6-0.7 1.6-0.1 1.6 0 1.6 0.6 1.6-0.6 1.6 0.6 1.6-0.1 1.6"/>
<path d="M215.2 144.2l0.7 1.6 0 1.6-0.2 1.6-0.8 1.6-0.6 1.6-1.1 1.6-0.5 1.6-0.4 1.6-0.3 1.6-0.7 1.6-0.1 1.6-1.3 1.6-0.3 1.6-1.6 1.6-0.1 1.6-0.9 1.6 0.7 1.6-0.1 1.6 0.2 1.6 1.3 1.6 0.9 1.6 0 1.6 1 1.6 0 1.6-0.2 1.6 0.7 1.6 0.2 1.6 1.1 1.6 1.7 1.6 0.9 1 1.1 1 1.6 1 0 1-0.4 1-1.9 1-0.8 1-1.2 1-0.1 1 0.1 1.6-0.1 1.6 0 1.6-1.1 1.6 0.1 1.6-0.5 1.6-0.3 1.6-0.9 1.6-0.1 1.6 0.7 1.6-0.1 1.6-0.2 1.6 0.6 1.6"/>
<path d="M215.6 144.2l0.6 1.6-0.6 1.6 0.2 1.6-1.2 1.6-0.6 1.6-0.4 1.6-0.1 1.6-0.8 1.6 0.4 1.6-0.6 1.6 0.1 1.6-0.5 1.6-1.3 1.6-0.4 1.6-0.9 1.6-0.2 1.6-0.2 1.6 1 1.6 0.5 1.6 0.5 1.6 0.4 1.6 0 1.6 0.7 1.6-0.4 1.6 0.2 1.6 0.4 1.6 1.6 1.6 0.4 1.6 1.7 1.6 1.7 1 1 1 1.1 1 0.5 1-0.6 1-1.6 1-1.6 1-1.4 1-0.4 1-0.3 1.6-0.4 1.6 0.6 1.6-1 1.6-0.5 1.6 0 1.6 0 1.6-0.9 1.6 0.2 1.6 0.7 1.6-0.6 1.6 0.7 1.6-0.3 1.6"/>
<path d="M217 144.2l0.4 1.6 0.5 1.6 0 1.6-1.5 1.6 0.1 1.6-0.7 1.6-0.7 1.6-0.4 1.6 0.3 1.6-0.8 1.6-0.2 1.6 0 1.6-1.4 1.6-0.6 1.6 0.1 1.6-0.5 1.6-0.2 1.6 0.1 1.6 0.8 1.6 0.9 1.6 0 1.6 0.5 1.6-0.3 1.6 0.6 1.6-0.6 1.6 0.3 1.6 1.1 1.6 0.5 1.6 2.4 1.6 1.7 1 0.8 1 1.7 1 1 1-1.5 1-2 1-1.7 1-0.8 1-0.3 1-0.7 1.6-0.6 1.6-0.3 1.6 0.1 1.6-0.7 1.6-0.4 1.6 0.3 1.6-0.7 1.6-0.3 1.6 0.3 1.6 0.4 1.6 0.2 1.6 0 1.6"/>
<path d="M218.5 144.2l0 1.6 0.4 1.6-1.1 1.6-0.5 1.6-0.8 1.6-1.4 1.6-0.4 1.6-0.5 1.6 0.4 1.6-0.3 1.6 0.2 1.6-0.6 1.6-0.2 1.6-0.4 1.6-1 1.6 0 1.6-0.5 1.6 0.3 1.6 1 1.6 1.3 1.6 0.6 1.6-0.3 1.6 0.1 1.6 0.3 1.6-0.4 1.6 1.1 1.6 0.1 1.6 2.1 1.6 1.5 1.6 2.4 1 1.9 1 2.3 1 0.7 1-1.9 1-2.9 1-1.4 1-1.7 1-1.3 1-1.1 1.6-0.7 1.6 0.6 1.6-0.7 1.6-0.4 1.6-0.8 1.6-0.6 1.6-0.6 1.6 0 1.6 0.5 1.6 0.3 1.6 0.1 1.6 0.2 1.6"/>
<path d="M219.4 144.2l0 1.6 0 1.6 0.1 1.6-0.6 1.6-0.4 1.6-0.2 1.6-0.5 1.6-0.3 1.6-0.5 1.6-0.5 1.6-0.9 1.6-0.3 1.6-1.4 1.6-0.3 1.6 0.1 1.6-0.3 1.6 0 1.6 0.1 1.6 0.5 1.6 0.8 1.6 0.7 1.6 0.4 1.6-0.5 1.6 0.5 1.6 0.6 1.6 0.4 1.6 1.2 1.6 0.8 1.6 0.4 1.6 1.1 1 1 1 1.8 1 0.2 1-1.2 1-0.9 1-0.8 1-1.5 1-0.3 1 0.4 1.6-0.8 1.6 0.3 1.6-0.3 1.6-0.4 1.6-1.3 1.6 0.2 1.6-0.3 1.6 0 1.6 0 1.6 0.5 1.6 0.1 1.6-0.4 1.6"/>
<path d="M220.4 144.2l0.1 1.6-0.1 1.6 0 1.6-0.7 1.6-0.2 1.6-0.3 1.6-1 1.6 0.7 1.6-0.6 1.6 0 1.6-0.2 1.6-0.6 1.6-0.6 1.6-0.4 1.6-0.6 1.6-0.1 1.6 0.7 1.6-0.6 1.6 0.7 1.6 0.5 1.6 1 1.6 0.9 1.6-0.7 1.6-0.1 1.6 0.5 1.6 1 1.6 0.3 1.6 1.2 1.6 2.1 1.6 1.4 1 2.2 1 2.3 1 1.4 1-1.7 1-3.5 1-2.5 1-1.7 1-1.1 1-0.4 1.6-0.4 1.6-0.5 1.6 0 1.6-0.5 1.6-0.8 1.6-0.9 1.6-0.3 1.6 0.6 1.6-0.5 1.6 0.6 1.6 0.8 1.6-0.1 1.6"/>
<path d="M222 144.2l0.5 1.6 0.3 1.6-0.6 1.6-1 1.6-1.1 1.6-0.3 1.6-0.6 1.6-0.4 1.6-0.5 1.6-0.1 1.6-0.3 1.6-0.5 1.6-0.3 1.6-1 1.6 0.4 1.6-0.2 1.6-0.1 1.6-0.4 1.6 0.5 1.6 0.7 1.6 0.6 1.6 0.1 1.6 0.6 1.6-0.9 1.6 0.5 1.6 1.2 1.6 0.9 1.6 1.7 1.6 2.7 1.6 2 1 2 1 2.7 1 1 1-1.4 1-3.5 1-1.5 1-2 1-1.6 1-0.5 1.6-1.1 1.6 0 1.6-0.2 1.6-1 1.6-1 1.6-0.1 1.6-0.4 1.6-0.3 1.6 0.3 1.6 0.4 1.6 0.6 1.6-0.1 1.6"/>
<path d="M222.3 144.2l0.6 1.6 1 1.6-0.3 1.6 0.9 1.6-0.6 1.6-0.4 1.6-1 1.6-1.1 1.6-0.3 1.6-0.9 1.6 0.1 1.6-0.1 1.6-0.3 1.6 0.1 1.6-1.3 1.6-0.2 1.6-0.5 1.6-0.2 1.6 0.2 1.6 1.2 1.6 1.9 1.6 0.7 1.6 0.6 1.6 0.4 1.6-0.4 1.6 0.8 1.6 0.3 1.6 0 1.6 1.5 1.6 2 1 1.7 1 2.8 1 0.2 1-0.9 1-2.4 1-1.2 1-1.6 1-0.9 1-0.4 1.6-0.6 1.6-0.8 1.6-0.2 1.6 0.2 1.6-0.4 1.6-0.6 1.6-0.6 1.6-0.7 1.6-0.5 1.6 0.5 1.6-0.7 1.6 0.5 1.6"/>
<path d="M222.1 144.2l0.6 1.6 0.8 1.6 1 1.6 0.2 1.6-0.1 1.6 0.1 1.6-0.3 1.6-0.6 1.6-1.6 1.6-0.9 1.6-0.3 1.6-0.7 1.6-0.4 1.6 0.3 1.6-0.8 1.6-0.1 1.6-0.7 1.6-0.3 1.6 0.2 1.6 0.4 1.6 1.2 1.6 1.3 1.6 0.8 1.6 0.9 1.6-0.4 1.6-0.1 1.6-0.4 1.6 0.6 1.6 1.9 1.6 1.2 1 1.7 1 1.9 1 1 1-1.7 1-1 1-1.7 1-0.8 1 0 1-0.7 1.6-0.8 1.6-0.6 1.6 0.2 1.6 0 1.6-0.9 1.6-0.2 1.6-0.5 1.6 0.3 1.6-0.8 1.6-0.9 1.6 0 1.6 0.1 1.6"/>
<path d="M224 144.2l1.1 1.6 0.8 1.6 0.6 1.6 0.4 1.6 0.3 1.6 0.5 1.6-0.5 1.6-1.6 1.6-0.6 1.6 0 1.6-1 1.6 0 1.6-0.2 1.6-1.2 1.6-0.4 1.6-1.3 1.6-0.4 1.6-0.4 1.6 0.1 1.6 1.5 1.6 1 1.6 0.9 1.6 1.4 1.6 0.6 1.6-0.5 1.6-0.1 1.6 0.5 1.6 0.4 1.6 1.8 1.6 1.9 1 2.5 1 2.7 1-0.1 1-0.8 1-1.8 1-2 1-1.2 1-1.6 1-0.3 1.6-0.5 1.6-0.6 1.6 0.5 1.6-0.8 1.6-0.1 1.6-0.3 1.6-0.6 1.6-0.1 1.6-0.7 1.6-0.4 1.6-0.2 1.6-0.1 1.6"/>
<path d="M224.9 144.2l0.8 1.6 0.5 1.6 1.5 1.6 0.5 1.6-0.4 1.6 0.6 1.6-0.7 1.6-0.7 1.6-0.7 1.6-0.6 1.6-0.5 1.6-0.4 1.6 0 1.6-0.9 1.6-0.1 1.6-1.5 1.6-0.4 1.6-0.5 1.6 0 1.6 0.7 1.6 1.5 1.6 1.5 1.6 0.9 1.6 0.5 1.6 0 1.6 0 1.6-0.2 1.6 0.7 1.6 2.5 1.6 2.6 1 2.1 1 2.6 1 0.8 1-1 1-2.3 1-3.1 1-1.3 1-1.3 1-1.3 1.6-0.6 1.6-0.2 1.6 0.3 1.6 0 1.6-0.9 1.6 0.3 1.6-0.1 1.6-1.3 1.6-0.5 1.6 0 1.6-0.6 1.6-0.1 1.6"/>
<path d="M227.1 144.2l0.6 1.6 0 1.6 0.6 1.6 0.5 1.6-0.3 1.6-0.3 1.6-0.2 1.6-0.3 1.6-1.4 1.6-0.3 1.6 0.3 1.6-0.8 1.6 0.1 1.6-1.2 1.6-0.5 1.6-0.6 1.6-1.1 1.6-0.2 1.6 0 1.6 1.2 1.6 2.4 1.6 0.5 1.6 0.9 1.6 0.9 1.6-0.1 1.6 0 1.6 1 1.6 0.1 1.6 1.3 1.6 0.9 1 2.1 1 1.8 1 0.5 1-1.4 1-1.5 1-1.7 1-1.2 1-0.1 1-1.3 1.6-0.7 1.6 0.2 1.6-0.3 1.6 0.4 1.6-0.3 1.6-0.7 1.6-0.4 1.6-0.1 1.6-0.7 1.6-0.1 1.6 0 1.6-0.1 1.6"/>
<path d="M226.7 144.2l0.7 1.6 0.1 1.6 1.1 1.6 0.3 1.6 0.3 1.6 0.6 1.6-0.9 1.6-0.6 1.6-1.2 1.6-1 1.6 0 1.6-0.4 1.6-0.2 1.6-0.3 1.6-0.1 1.6-0.3 1.6-1.2 1.6 0 1.6-0.1 1.6 1.1 1.6 0.8 1.6 1.3 1.6 1.6 1.6 0.9 1.6 0.4 1.6-0.5 1.6-0.5 1.6 0.7 1.6 0.5 1.6 1.5 1 2 1 2.2 1 0.4 1-1 1-1.8 1-1.6 1-0.5 1-0.6 1-1.1 1.6-0.6 1.6 0.1 1.6-0.3 1.6 0.2 1.6-0.4 1.6-0.3 1.6-0.3 1.6-0.3 1.6-0.2 1.6-1.2 1.6-0.2 1.6 0 1.6"/>
<path d="M229.5 144.2l1 1.6 0.2 1.6 1.4 1.6 0.2 1.6 0.3 1.6-0.3 1.6-0.9 1.6-1 1.6-0.9 1.6-0.4 1.6-0.7 1.6-0.4 1.6 0.3 1.6-1.1 1.6-0.2 1.6-1.6 1.6-0.7 1.6-0.7 1.6 0.3 1.6 0.6 1.6 2.1 1.6 1 1.6 0.4 1.6 0.6 1.6 0.4 1.6-1.1 1.6 0.5 1.6-0.2 1.6 2.8 1.6 1.1 1 0.8 1 2 1 0.9 1-1.1 1-1.4 1-0.4 1-1 1-0.5 1-1.4 1.6 0.4 1.6-0.8 1.6 0.9 1.6-0.7 1.6 0.6 1.6-0.7 1.6-0.2 1.6-0.6 1.6-0.4 1.6-0.3 1.6-0.2 1.6-0.3 1.6"/>
<path d="M229.1 144.2l0.6 1.6 0.4 1.6 0.4 1.6 0.7 1.6 0.1 1.6 0 1.6 0.1 1.6-0.9 1.6-0.8 1.6-1.1 1.6-0.4 1.6 0 1.6-1.2 1.6 0.3 1.6-1.2 1.6-0.7 1.6-0.7 1.6-0.5 1.6 0.4 1.6 1.1 1.6 1.3 1.6 0.8 1.6 1.6 1.6 0.7 1.6 0 1.6 0.4 1.6-0.7 1.6 0.8 1.6 0.9 1.6 1.6 1 1.8 1 1.5 1 0.5 1-0.2 1-2.5 1-0.4 1-1.6 1-0.1 1-1.5 1.6 0.1 1.6-0.5 1.6 0.5 1.6-0.1 1.6-0.1 1.6-0.1 1.6-1.1 1.6-0.7 1.6 0 1.6-0.4 1.6-0.2 1.6-0.4 1.6"/>
<path d="M233.3 144.2l-0.8 1.6-0.2 1.6-0.2 1.6 0.5 1.6-1.1 1.6-0.4 1.6-0.1 1.6-0.7 1.6-0.5 1.6 0.4 1.6-0.1 1.6 0 1.6 0.3 1.6 0 1.6-0.1 1.6-1.3 1.6-0.6 1.6 0.1 1.6-0.2 1.6 0.4 1.6 0.7 1.6 0.9 1.6 0.5 1.6 0.6 1.6 0.9 1.6 0.4 1.6 0.1 1.6 1.5 1.6 2.3 1.6 1.7 1 2.5 1 1.7 1 0.5 1-1 1-2.7 1-1.9 1-1.3 1-1 1-1.5 1.6-0.4 1.6-0.9 1.6 0 1.6 0.6 1.6-0.6 1.6 0.1 1.6 0.3 1.6-0.8 1.6 0.3 1.6-0.8 1.6 0.2 1.6 0.2 1.6"/>
<path d="M232.5 144.2l-0.2 1.6-0.1 1.6 0.1 1.6-0.3 1.6 0.1 1.6 0.7 1.6-1 1.6-0.7 1.6-0.8 1.6-0.3 1.6 0.8 1.6-0.1 1.6 0.5 1.6-0.2 1.6-0.8 1.6 0.1 1.6-1.3 1.6-1.1 1.6-0.3 1.6 0.8 1.6 0.4 1.6 1.2 1.6 1.3 1.6 0 1.6 0.4 1.6 1.2 1.6 0.5 1.6 0.6 1.6 2.9 1.6 1.6 1 2.4 1 2.6 1 1.5 1-1.5 1-3 1-2.1 1-2.3 1-1.3 1-0.8 1.6-1.1 1.6 0.1 1.6-0.7 1.6 0.7 1.6 0 1.6-0.1 1.6-0.4 1.6-0.2 1.6 0.5 1.6-0.9 1.6-0.4 1.6 0.8 1.6"/>
<path d="M232.9 144.2l-0.1 1.6-0.9 1.6-0.3 1.6 0.5 1.6-0.2 1.6 0.4 1.6-0.7 1.6-1.1 1.6-0.2 1.6 0.2 1.6-0.6 1.6 1.3 1.6 0.3 1.6 0.1 1.6 0.4 1.6-0.7 1.6-0.9 1.6 0.2 1.6-0.5 1.6 0.6 1.6 0.1 1.6 1 1.6 1.1 1.6 1.7 1.6 0.5 1.6 0.5 1.6-0.1 1.6 0.9 1.6 0.9 1.6 1.8 1 1.7 1 1.6 1 0.4 1-0.8 1-1.8 1-2 1-1.2 1-0.4 1-1.1 1.6-1.3 1.6-0.3 1.6-0.4 1.6 0.1 1.6-0.1 1.6 0.7 1.6-0.6 1.6 0.5 1.6-0.2 1.6-0.4 1.6-0.9 1.6-0.1 1.6"/>
<path d="M234.8 144.2l-0.1 1.6 0.4 1.6 0.6 1.6 0.3 1.6-0.4 1.6-0.5 1.6-0.3 1.6-1.1 1.6-0.5 1.6 0.1 1.6 0 1.6 0.4 1.6 0.2 1.6-0.3 1.6-0.9 1.6-0.8 1.6-0.3 1.6-0.8 1.6 0.7 1.6-0.3 1.6 1.1 1.6 0.9 1.6 0.3 1.6 0.9 1.6 0.1 1.6-0.6 1.6 1.5 1.6 0.2 1.6 2.5 1.6 1.8 1 2.2 1 2.3 1 0.8 1-1.6 1-1.4 1-1.9 1-1.9 1-0.6 1-1.1 1.6-1.2 1.6-0.2 1.6 0.7 1.6 0.4 1.6-0.6 1.6-0.1 1.6 0.1 1.6-0.5 1.6-0.1 1.6 0 1.6-0.3 1.6 0.2 1.6"/>
<path d="M236.5 144.2l0 1.6 0 1.6 0.8 1.6 0.1 1.6 0.4 1.6-0.5 1.6-0.3 1.6-1.1 1.6 0 1.6-0.5 1.6 0.6 1.6 0 1.6-0.1 1.6-0.2 1.6-0.3 1.6-1.3 1.6-0.6 1.6 0 1.6 0.4 1.6 0.3 1.6 1.3 1.6 0.9 1.6 0.4 1.6 0.7 1.6 0.2 1.6 0.8 1.6-0.3 1.6 1.3 1.6 2.3 1.6 2 1 2.5 1 3 1 1 1-1.7 1-2.6 1-2.6 1-2.5 1-0.5 1-1.6 1.6-1.3 1.6 0.2 1.6-0.5 1.6 0.3 1.6 0.9 1.6-0.6 1.6 0.2 1.6-1 1.6-0.2 1.6-0.4 1.6 0.5 1.6-0.5 1.6"/>
<path d="M239.8 144.2l-0.3 1.6-0.2 1.6 0.2 1.6 0 1.6 0.2 1.6-0.4 1.6 0.1 1.6-0.6 1.6-0.9 1.6 0.1 1.6-0.7 1.6 0.5 1.6-0.7 1.6-0.1 1.6-0.6 1.6-0.2 1.6-0.9 1.6-0.6 1.6-0.3 1.6 0.8 1.6 0.5 1.6 0.4 1.6 1 1.6-0.1 1.6 1 1.6 0.3 1.6 0.4 1.6 0.2 1.6 2 1.6 1.2 1 0.7 1 2.2 1 0.1 1-0.3 1-1.7 1-1.1 1-1 1-0.5 1-0.5 1.6-0.4 1.6-0.2 1.6 0.4 1.6-0.1 1.6-0.3 1.6-0.1 1.6 0.8 1.6-0.8 1.6 0.3 1.6-0.8 1.6 0.2 1.6-0.3 1.6"/>
<path d="M239.8 144.2l0.1 1.6-0.2 1.6-0.5 1.6-0.2 1.6 0.1 1.6-0.3 1.6-1.1 1.6 0.1 1.6-1 1.6 0.6 1.6-0.2 1.6 0.5 1.6-0.1 1.6 0.7 1.6-1.2 1.6 0 1.6-1.3 1.6-0.4 1.6 0.1 1.6 1.2 1.6 0.3 1.6 1.6 1.6 0.9 1.6 0.5 1.6 0.2 1.6 0.1 1.6 1.4 1.6 1.1 1.6 1.4 1.6 1.7 1 2.3 1 2 1 0.2 1-0.8 1-2 1-2.5 1-0.6 1-1.1 1-1.4 1.6-1.3 1.6 0.6 1.6 0 1.6-0.6 1.6 0.6 1.6 0.1 1.6-0.1 1.6-0.6 1.6-1 1.6 0 1.6 0.5 1.6-0.4 1.6"/>
<path d="M240 144.2l0.3 1.6-0.5 1.6 0.8 1.6-0.3 1.6 0.1 1.6-0.6 1.6-0.4 1.6-0.9 1.6-0.7 1.6 0.1 1.6 0.4 1.6-0.8 1.6 0.8 1.6-0.5 1.6-0.8 1.6-1 1.6-0.5 1.6 0.1 1.6 0.6 1.6-0.2 1.6 1.8 1.6 0.8 1.6 0.1 1.6 0.5 1.6 0.9 1.6-0.2 1.6 0.9 1.6 0.7 1.6 2.8 1.6 2.1 1 1.7 1 3 1 0.4 1-1 1-2.8 1-2.3 1-1.3 1-1.8 1-1.2 1.6-0.6 1.6-0.2 1.6 0.3 1.6-0.2 1.6 0.2 1.6 0.4 1.6-0.7 1.6-0.4 1.6-0.3 1.6-0.7 1.6-0.1 1.6 0 1.6"/>
<path d="M239.8 144.2l1.1 1.6-0.2 1.6 0.1 1.6-0.1 1.6-0.3 1.6 0 1.6 0.3 1.6 0.3 1.6 0.6 1.6 1 1.6-0.2 1.6-0.4 1.6 0.3 1.6-0.6 1.6-0.7 1.6 0.3 1.6 0.7 1.6 0.2 1.6 0.6 1.6 0.7 1.6 0.3 1.6 0.3 1.6 0.7 1.6-0.8 1.6 0.2 1.6 0.8 1.6 0.1 1.6 1.2 1.6 0.5 1.6 1.8 1 2.4 1 2.3 1 0.6 1-1.6 1-3.5 1-2.1 1-1.1 1-1.3 1-0.8 1.6-0.8 1.6 0.5 1.6-0.3 1.6-1.2 1.6-0.2 1.6-0.5 1.6 0.2 1.6-0.2 1.6 0 1.6-0.5 1.6 0 1.6 0.5 1.6"/>
<path d="M243.2 144.2l0.1 1.6-0.1 1.6 0 1.6-0.4 1.6 0.2 1.6-0.4 1.6 0 1.6 0.4 1.6 0.5 1.6 0.1 1.6 1 1.6-0.3 1.6-0.6 1.6-0.7 1.6-0.4 1.6 0.1 1.6 0.7 1.6 1.1 1.6 0.1 1.6 0.9 1.6 0 1.6 0.8 1.6-0.8 1.6-0.1 1.6 0.1 1.6 1 1.6 0.2 1.6 0.7 1.6 0.6 1.6 1.6 1 0.8 1 1.7 1 0.2 1-0.7 1-2.5 1-1.6 1-1.6 1-0.6 1-1 1.6 0.3 1.6-0.7 1.6 0.7 1.6-0.8 1.6-0.2 1.6-0.6 1.6 0.1 1.6-0.3 1.6 0.2 1.6 0 1.6 0.3 1.6-0.5 1.6"/>
<path d="M242 144.2l0.7 1.6 0.3 1.6 0.5 1.6-0.3 1.6 0.4 1.6-0.1 1.6-0.5 1.6 0.8 1.6 0.8 1.6 0.1 1.6-0.3 1.6 0.2 1.6 0.6 1.6-0.8 1.6-0.7 1.6-0.4 1.6 0.3 1.6 0.9 1.6 0.7 1.6 0.6 1.6 0.7 1.6-0.1 1.6 0.3 1.6-0.1 1.6 0.6 1.6 0.4 1.6 0.3 1.6 1.4 1.6-0.3 1.6 2.3 1 2.3 1 2.9 1-0.1 1-2 1-2 1-3.4 1-1.1 1-1.8 1-0.8 1.6-0.1 1.6-0.3 1.6-0.4 1.6 0.1 1.6-0.6 1.6-0.7 1.6-0.5 1.6 0.6 1.6-0.4 1.6 0.2 1.6-0.5 1.6 0.6 1.6"/>
<path d="M241.6 144.2l0 1.6 1.1 1.6-0.1 1.6-0.1 1.6 0.8 1.6-0.1 1.6-0.5 1.6 0.3 1.6-0.1 1.6 0.2 1.6 0.5 1.6 1.1 1.6-0.1 1.6-0.6 1.6-0.1 1.6 0 1.6-0.6 1.6 0.6 1.6 0.1 1.6 1.7 1.6 0.7 1.6 0.9 1.6 0.1 1.6-0.3 1.6 0.5 1.6-0.5 1.6 0.2 1.6 1.1 1.6-0.2 1.6 2.3 1 1.5 1 1.8 1 0.6 1-1.2 1-3 1-0.9 1-2 1-1 1 0 1.6-1.2 1.6 0.8 1.6-0.7 1.6 0.4 1.6-0.8 1.6-0.1 1.6-0.3 1.6 0 1.6-0.1 1.6 0.3 1.6 0 1.6-0.1 1.6"/>
<path d="M243.9 144.2l0.7 1.6 1.1 1.6 0.3 1.6 0.9 1.6-0.2 1.6-1 1.6 0.2 1.6-0.9 1.6 0.9 1.6 0.5 1.6 0 1.6 0.6 1.6 0.4 1.6-0.4 1.6-0.7 1.6-0.1 1.6-0.5 1.6 1.2 1.6 0.9 1.6 0.6 1.6 1.4 1.6 0.8 1.6-0.3 1.6-0.1 1.6 0 1.6-0.9 1.6 0.7 1.6 0.4 1.6 0.7 1.6 1.1 1 2.1 1 1.4 1 0.8 1-1.9 1-2.2 1-0.9 1-1.3 1-1.4 1-1.3 1.6 0.4 1.6-0.8 1.6 0.3 1.6 0.5 1.6-0.6 1.6-0.9 1.6-0.5 1.6 0.4 1.6-0.9 1.6 0 1.6 0.5 1.6 0.3 1.6"/>
<path d="M246.9 144.2l1.5 1.6 0.3 1.6 0.4 1.6-0.4 1.6-0.8 1.6 0 1.6 0.6 1.6-0.2 1.6 0.8 1.6 0.3 1.6 0.2 1.6 0.6 1.6-0.7 1.6-1 1.6 0.1 1.6-0.8 1.6 0.4 1.6 0.9 1.6 0.8 1.6 1.1 1.6 0 1.6 1.1 1.6-0.7 1.6 0.2 1.6-1 1.6 0.8 1.6 0.2 1.6 1.3 1.6 0.7 1.6 1.4 1 1.8 1 2.2 1 0.2 1-1.6 1-2.8 1-1.8 1-2.2 1-0.7 1-0.7 1.6-0.8 1.6 0.2 1.6 0.1 1.6-0.9 1.6 0.2 1.6-1 1.6 0 1.6-0.6 1.6 0.1 1.6 0 1.6 0.1 1.6 0.1 1.6"/>
<path d="M247.1 144.2l1.6 1.6 0 1.6 0.3 1.6-0.3 1.6 0.3 1.6-0.7 1.6-0.6 1.6 0.3 1.6 1.1 1.6 0.6 1.6 0.6 1.6-0.5 1.6 0 1.6-0.4 1.6-1 1.6 0.2 1.6 0.2 1.6 0.8 1.6 1 1.6 0.8 1.6 0.8 1.6-0.4 1.6 0.5 1.6-0.6 1.6-0.4 1.6 0.1 1.6 0.8 1.6 0.5 1.6 0.8 1.6 1.6 1 2.5 1 2.1 1 0.2 1-2.1 1-2.7 1-1.5 1-2.1 1-0.4 1-0.9 1.6-0.2 1.6 0.1 1.6-0.2 1.6-0.2 1.6-0.6 1.6-0.2 1.6-0.2 1.6-0.6 1.6 0.5 1.6-0.4 1.6-0.2 1.6 0.3 1.6"/>
<path d="M248.5 144.2l0.4 1.6 0.4 1.6 0.2 1.6 0 1.6 0.2 1.6-0.4 1.6 0 1.6 0.6 1.6 0.7 1.6 0.2 1.6 0.2 1.6 0.9 1.6-1 1.6-0.3 1.6-0.8 1.6 0.4 1.6-0.2 1.6 0.8 1.6 0.7 1.6 0.1 1.6 0.8 1.6 0.5 1.6-0.1 1.6-0.7 1.6 0.5 1.6-0.2 1.6 0.7 1.6 0.6 1.6 0.6 1.6 1.6 1 0.8 1 1.5 1 1.1 1-1.5 1-2 1-2.2 1-1.8 1-0.6 1-0.3 1.6-0.8 1.6 0 1.6 0.9 1.6-0.2 1.6-0.8 1.6-0.6 1.6-0.1 1.6-0.1 1.6 0.5 1.6 0.3 1.6-0.6 1.6 0.7 1.6"/>
<path d="M250 144.2l0 1.6-0.1 1.6 0.4 1.6 0.9 1.6 0.2 1.6 0.3 1.6 0.1 1.6-1 1.6 0.2 1.6 0.1 1.6 0.6 1.6-0.2 1.6 0.3 1.6 0.1 1.6-0.9 1.6-0.9 1.6-1.5 1.6-0.9 1.6 0.1 1.6 1.5 1.6 1 1.6 0.9 1.6 0 1.6 0.8 1.6 0 1.6 0 1.6 0.3 1.6 0.6 1.6 1.7 1.6 2.5 1 1.5 1 2.5 1-0.1 1-1.3 1-1.7 1-2.1 1-1.4 1-1 1-0.5 1.6-0.7 1.6-0.2 1.6 1.1 1.6 0.1 1.6 0.3 1.6 0.2 1.6-0.1 1.6-0.6 1.6 0.2 1.6-0.3 1.6 0.2 1.6 0.4 1.6"/>
<path d="M250.9 144.2l-0.2 1.6 0.5 1.6-0.4 1.6 1 1.6-0.3 1.6 0 1.6 0.1 1.6-0.2 1.6 0.8 1.6-0.1 1.6 0 1.6 0.4 1.6-0.1 1.6 0.1 1.6-0.5 1.6-1.1 1.6-1.1 1.6-0.6 1.6 0.2 1.6 0 1.6 1.3 1.6 0.9 1.6 0.4 1.6-0.1 1.6 0.8 1.6 0.4 1.6-0.1 1.6 0.2 1.6 2.6 1.6 1.4 1 2 1 1.9 1 0.7 1-1.3 1-1.9 1-2.1 1-0.9 1-1.7 1-0.2 1.6-0.6 1.6 0 1.6-0.5 1.6 0.4 1.6 1 1.6 0.2 1.6 0.1 1.6 0 1.6-0.3 1.6-0.9 1.6 0.6 1.6 0.3 1.6"/>
<path d="M252.5 144.2l-0.3 1.6 0.1 1.6 0.8 1.6 0.2 1.6-0.2 1.6 0.2 1.6 0 1.6-0.5 1.6-0.2 1.6-0.3 1.6 1 1.6 0.3 1.6-0.2 1.6 0.6 1.6-0.7 1.6-1.4 1.6-1 1.6-0.5 1.6-1 1.6 0.4 1.6 1.2 1.6 0.9 1.6 0.4 1.6 0.3 1.6 0.7 1.6-0.1 1.6-0.3 1.6 0.2 1.6 2.7 1.6 1.1 1 1.5 1 1.4 1 1.1 1-1.7 1-1.4 1-1.3 1-1 1-0.9 1-1.3 1.6-0.5 1.6-0.1 1.6 0.9 1.6-0.4 1.6 1 1.6-0.3 1.6-0.3 1.6 0.1 1.6 0.3 1.6-0.8 1.6 0.5 1.6 0.4 1.6"/>
<path d="M253.1 144.2l-0.8 1.6 0.6 1.6-0.6 1.6 0.6 1.6 0.5 1.6 0.2 1.6-0.1 1.6 0.3 1.6-0.5 1.6 0.3 1.6 0.2 1.6-0.6 1.6 0 1.6 0.4 1.6-1 1.6-0.8 1.6-0.8 1.6-0.5 1.6-0.1 1.6 0.3 1.6 0.8 1.6 1.1 1.6 0.8 1.6 0.9 1.6 0.1 1.6 0.3 1.6-0.3 1.6 0.9 1.6 2 1.6 1.3 1 1.8 1 1.9 1 0.7 1-0.8 1-2.9 1-1.5 1-0.9 1-1.5 1-0.4 1.6-0.7 1.6-0.5 1.6 1 1.6-0.3 1.6 0.8 1.6 0.2 1.6-0.3 1.6 0 1.6-0.5 1.6-0.1 1.6 0.1 1.6 0.3 1.6"/>
<path d="M254.4 144.2l-0.5 1.6-0.2 1.6 0.8 1.6-0.1 1.6 0.6 1.6-0.8 1.6 0.4 1.6-0.6 1.6-0.2 1.6 0.6 1.6 0.3 1.6 0.7 1.6-0.6 1.6 0.5 1.6-1.1 1.6-0.3 1.6-0.9 1.6-1 1.6-0.7 1.6 1.2 1.6 0.2 1.6 1.1 1.6 1 1.6-0.7 1.6 1 1.6-0.8 1.6 0.5 1.6 0.2 1.6 1.9 1.6 1.5 1 2 1 0.9 1 0.1 1-0.9 1-0.9 1-1.2 1-1.1 1-1.1 1-0.6 1.6-0.7 1.6 0.2 1.6 0.3 1.6 0.8 1.6-0.1 1.6 0.4 1.6 0.4 1.6-0.6 1.6 0.6 1.6-0.9 1.6 0.6 1.6 0.1 1.6"/>
<path d="M257.8 144.2l-1 1.6-0.7 1.6 0.2 1.6 0.2 1.6 0.3 1.6 0.2 1.6 0.1 1.6 0.6 1.6-0.5 1.6 0.8 1.6 0.3 1.6 0 1.6 1.1 1.6-0.9 1.6-0.1 1.6-1.1 1.6-1 1.6-1.3 1.6-0.7 1.6 0.6 1.6 0.2 1.6 1.6 1.6 0 1.6 1.1 1.6 0.6 1.6 0.1 1.6 0.3 1.6 0.7 1.6 2.1 1.6 1.1 1 1.8 1 1.3 1 0.5 1-1.2 1-1.3 1-1.4 1-2 1-0.8 1-0.2 1.6-0.8 1.6 0.3 1.6-0.6 1.6 0.2 1.6 0.9 1.6 0.6 1.6 0.4 1.6 0.1 1.6-0.6 1.6 0.3 1.6-0.3 1.6-0.2 1.6"/>
<path d="M257.8 144.2l-1.6 1.6 0.3 1.6 0 1.6 0.1 1.6 0.2 1.6 0.1 1.6 0.4 1.6-0.2 1.6 0.4 1.6-0.1 1.6-0.1 1.6 0.6 1.6-0.3 1.6 0.2 1.6-0.1 1.6-1.3 1.6-0.9 1.6-1.4 1.6-0.4 1.6 0.7 1.6 0.2 1.6 1.4 1.6 0.9 1.6 1.1 1.6 0.6 1.6 0 1.6-0.3 1.6 0.2 1.6 2.9 1.6 0.7 1 1.9 1 2.4 1 0.2 1-0.9 1-1.8 1-2.1 1-1.2 1-1 1-0.9 1.6-0.3 1.6-1 1.6 0.5 1.6 0.7 1.6-0.1 1.6 0.2 1.6 0.8 1.6-0.3 1.6 0.6 1.6-0.1 1.6-0.2 1.6-0.7 1.6"/>
<path d="M259.4 144.2l-0.2 1.6 0.1 1.6-0.1 1.6 0.2 1.6-0.1 1.6 0.1 1.6 0.3 1.6-1 1.6 0.7 1.6-0.3 1.6 0 1.6 1.1 1.6 0.5 1.6-0.4 1.6-0.5 1.6-1.7 1.6-0.8 1.6-0.3 1.6-0.8 1.6 0.1 1.6 1.2 1.6 0.2 1.6 0.8 1.6 0 1.6 0.1 1.6 0 1.6 0.2 1.6 1.7 1.6 2.9 1.6 1.9 1 3.1 1 2.5 1 0.4 1-1 1-3.5 1-2.6 1-1.3 1-1 1-2 1.6-0.4 1.6 0.1 1.6-0.6 1.6 1.1 1.6 0.1 1.6 0.1 1.6 0.3 1.6-0.1 1.6-0.6 1.6 0.2 1.6 0.7 1.6-0.6 1.6"/>
<path d="M264.3 144.2l-0.7 1.6-0.6 1.6-1.1 1.6-0.8 1.6 0.6 1.6-0.8 1.6-0.3 1.6 0.2 1.6-0.2 1.6-0.8 1.6 0.2 1.6-0.6 1.6 0.5 1.6 0.3 1.6-0.4 1.6-1.1 1.6-0.4 1.6-0.9 1.6-1.3 1.6 0.6 1.6 0.6 1.6 0.4 1.6 0.6 1.6 0.2 1.6 1.1 1.6 1.2 1.6 0.6 1.6 1.3 1.6 1.6 1.6 1.4 1 1.7 1 1.9 1-0.2 1-0.6 1-2 1-1.3 1-1.7 1-0.5 1-0.7 1.6-1.4 1.6 0.2 1.6-0.9 1.6-0.1 1.6-0.5 1.6 0 1.6 0.7 1.6 0 1.6 0.1 1.6 0.1 1.6-0.6 1.6 0.6 1.6"/>
<path d="M265.7 144.2l-0.1 1.6-0.6 1.6-0.6 1.6-0.2 1.6 0.1 1.6-0.7 1.6 0.4 1.6-0.7 1.6 0.1 1.6-0.6 1.6-0.3 1.6-0.5 1.6-0.3 1.6-0.2 1.6-0.3 1.6-0.8 1.6-0.7 1.6 0.1 1.6-1.3 1.6 0 1.6 0.6 1.6 0.9 1.6 0.3 1.6 0.1 1.6 0.9 1.6 0.7 1.6 0.8 1.6 0.7 1.6 1.4 1.6 0.9 1 1.9 1 1.3 1 0.5 1-1.3 1-1.1 1-1.7 1-0.7 1-0.7 1-0.6 1.6-1.1 1.6-0.6 1.6-0.4 1.6 0.2 1.6 0 1.6-0.3 1.6 0.6 1.6-0.7 1.6 0.7 1.6 0.1 1.6-0.6 1.6 0.6 1.6"/>
<path d="M266.6 144.2l0 1.6-1.5 1.6-0.8 1.6-0.4 1.6-0.2 1.6-0.1 1.6 0 1.6 0.1 1.6-0.2 1.6-0.2 1.6-0.3 1.6-0.1 1.6 0.5 1.6-0.7 1.6-0.2 1.6-0.4 1.6-0.2 1.6-1 1.6-0.5 1.6-0.7 1.6 0.9 1.6 0.2 1.6 1 1.6 1 1.6 0.6 1.6 1.2 1.6 0.2 1.6 0.8 1.6 1.3 1.6 1.3 1 1.7 1 1.5 1 0.1 1-0.9 1-1.1 1-1.9 1-0.7 1-1.4 1-0.1 1.6-0.8 1.6-1 1.6 0.1 1.6 0.3 1.6-0.7 1.6 0.8 1.6-0.3 1.6 0.8 1.6-0.3 1.6-0.2 1.6 0.1 1.6 0.7 1.6"/>
<path d="M267.5 144.2l-0.8 1.6-0.6 1.6-0.9 1.6 0.2 1.6-0.9 1.6 0.6 1.6-0.3 1.6 0.4 1.6-0.1 1.6 0 1.6-0.7 1.6-0.3 1.6-0.6 1.6 0.8 1.6-0.8 1.6-0.9 1.6-0.8 1.6-0.8 1.6 0 1.6 0.2 1.6 0.1 1.6 0.6 1.6 1.3 1.6 0.6 1.6 0.7 1.6 1.2 1.6 0.3 1.6 1.5 1.6 1.5 1.6 0.9 1 2.9 1 2 1 0.4 1-1.8 1-1.8 1-2.5 1-1 1-1.8 1-0.9 1.6-0.3 1.6-0.6 1.6-0.8 1.6 0 1.6-0.7 1.6 0.9 1.6-0.7 1.6 1 1.6-0.2 1.6 0.2 1.6-0.3 1.6 0.4 1.6"/>
<path d="M270.4 144.2l-0.5 1.6-1 1.6-0.7 1.6-0.3 1.6-0.6 1.6 0.4 1.6-0.3 1.6-0.6 1.6 0.5 1.6-0.4 1.6-0.3 1.6 0 1.6-1.1 1.6 0.3 1.6-1.1 1.6-0.3 1.6-0.3 1.6-1.1 1.6 0.2 1.6-0.2 1.6-0.2 1.6 0.8 1.6 0.4 1.6 1.4 1.6 1.2 1.6 0.7 1.6 1.9 1.6 0.8 1.6 2.4 1.6 2 1 2.1 1 2.5 1 1 1-1 1-3.4 1-2.1 1-1.3 1-1.3 1-1.7 1.6-0.1 1.6-1.1 1.6 0 1.6-1.1 1.6 0.2 1.6 0.5 1.6-0.3 1.6 0.6 1.6-0.1 1.6-0.2 1.6-0.1 1.6 0.1 1.6"/>
<path d="M271.4 144.2l-0.1 1.6-1.1 1.6-0.5 1.6-0.8 1.6-0.2 1.6-0.1 1.6-0.4 1.6 0.2 1.6 0.5 1.6-1 1.6-0.3 1.6 0.2 1.6-1.1 1.6 0.5 1.6-0.5 1.6-1 1.6 0 1.6-1 1.6-0.8 1.6 0.5 1.6 0 1.6 0.6 1.6-0.4 1.6 0.8 1.6 0.8 1.6 1.2 1.6 1 1.6 0.5 1.6 0.9 1.6 1.9 1 0.9 1 1.7 1 0.7 1-1.8 1-0.9 1-1.6 1-0.9 1-0.7 1-0.9 1.6-0.4 1.6-0.9 1.6-0.4 1.6 0.3 1.6-0.6 1.6 0.2 1.6 0 1.6 0.3 1.6 0.6 1.6-0.1 1.6-0.1 1.6 0.6 1.6"/>
<path d="M272.4 144.2l-0.7 1.6-0.8 1.6-0.1 1.6-0.6 1.6-0.3 1.6-0.1 1.6-0.1 1.6 0 1.6-0.3 1.6 0.2 1.6-0.2 1.6-0.2 1.6-0.7 1.6-0.1 1.6 0.2 1.6-0.5 1.6-0.8 1.6-1.6 1.6-0.4 1.6-0.5 1.6 0.5 1.6-0.3 1.6 1.5 1.6 1 1.6-0.1 1.6 1.2 1.6 1.1 1.6 0.7 1.6 1.6 1.6 1.9 1 1.8 1 2.1 1 1.2 1-1.3 1-2 1-2.2 1-0.6 1-1.3 1-0.9 1.6-0.8 1.6-1.3 1.6 0.4 1.6-0.6 1.6-0.3 1.6 0.5 1.6-0.2 1.6 0.9 1.6 0.1 1.6-0.8 1.6 0.4 1.6-0.4 1.6"/>
<path d="M274 144.2l-0.8 1.6-0.3 1.6-0.8 1.6-0.8 1.6 0.2 1.6-0.1 1.6-0.1 1.6 0 1.6 0.2 1.6-0.9 1.6-0.1 1.6-0.7 1.6-1 1.6-0.1 1.6-0.3 1.6-0.5 1.6-0.8 1.6-0.9 1.6-0.7 1.6-0.1 1.6 0.6 1.6 0.7 1.6 0.8 1.6 0.6 1.6 1.2 1.6 0.4 1.6 0.5 1.6 1.6 1.6 1.8 1.6 0.4 1 2.2 1 1.9 1 0.7 1-1.1 1-2.3 1-1.3 1-1.7 1-0.2 1-0.9 1.6-0.8 1.6-0.2 1.6-0.9 1.6 0 1.6 0.2 1.6 0.3 1.6-0.4 1.6 0.3 1.6 0.6 1.6-0.8 1.6 0.1 1.6 0 1.6"/>
<path d="M272.6 144.2l-0.4 1.6-0.6 1.6-0.2 1.6-0.5 1.6-0.7 1.6-0.4 1.6-1.6 1.6 0.2 1.6-0.4 1.6 0.8 1.6 0.3 1.6 0.3 1.6 0.5 1.6 0.6 1.6 0.1 1.6-0.1 1.6-0.4 1.6 0.4 1.6-0.4 1.6 0.9 1.6 0.2 1.6 0.2 1.6 0.5 1.6 0.1 1.6 0.5 1.6 0.6 1.6 1.1 1.6 1.5 1.6 0.6 1.6 2.1 1 2.4 1 3 1 0 1-1.3 1-2.2 1-2.8 1-2.1 1-0.5 1-2.1 1.6-0.4 1.6-1 1.6 0 1.6-0.3 1.6-0.9 1.6-0.2 1.6-0.2 1.6 0.1 1.6 0 1.6 0.8 1.6-0.3 1.6 0.1 1.6"/>
<path d="M273.8 144.2l0.2 1.6 0.1 1.6-0.1 1.6-0.3 1.6-0.6 1.6-0.6 1.6-1.2 1.6 0.2 1.6-0.5 1.6 0.7 1.6 0.2 1.6 0.3 1.6 1.2 1.6 0 1.6 0.1 1.6-0.9 1.6 0.4 1.6-1 1.6 0.2 1.6 0.9 1.6 0.4 1.6-0.1 1.6 0.7 1.6 0.4 1.6-0.6 1.6 0.8 1.6 1 1.6 0.5 1.6 1.6 1.6 1.6 1 2 1 2.6 1 0.5 1-1.4 1-1.8 1-2.7 1-1.7 1-1 1-0.8 1.6-1.2 1.6 0.4 1.6-0.7 1.6-0.3 1.6-0.6 1.6-0.1 1.6 0.2 1.6 0.3 1.6-0.5 1.6 0.2 1.6 0.3 1.6 0.3 1.6"/>
<path d="M274.7 144.2l-0.4 1.6-0.4 1.6-0.2 1.6-0.6 1.6-0.1 1.6-0.3 1.6-0.3 1.6-0.9 1.6 1.1 1.6 0 1.6 0.6 1.6 0.7 1.6-0.3 1.6 0.5 1.6 0.2 1.6-0.4 1.6-0.9 1.6 0.1 1.6 0.1 1.6-0.4 1.6 1 1.6 0.9 1.6 0.5 1.6 0.2 1.6-0.3 1.6 0.7 1.6 0.9 1.6 0.9 1.6 1 1.6 2.1 1 1.4 1 2.7 1 0.8 1-1.8 1-2.4 1-2.5 1-1.3 1-1.1 1-0.9 1.6-1.1 1.6-0.2 1.6-0.2 1.6-0.1 1.6 0 1.6-0.6 1.6-0.4 1.6 0.8 1.6-0.8 1.6 0.4 1.6 0.5 1.6-0.1 1.6"/>
<path d="M274.5 144.2l-0.3 1.6 0.8 1.6-0.9 1.6 0.2 1.6-0.7 1.6-0.4 1.6-0.2 1.6-0.3 1.6-0.3 1.6 0.4 1.6 1.1 1.6 0.3 1.6 0.2 1.6 0.6 1.6-0.1 1.6 0.1 1.6 0 1.6 0.2 1.6 0.2 1.6 0.6 1.6 0.9 1.6 0.1 1.6 0 1.6-0.8 1.6 0.1 1.6 0.3 1.6 0.4 1.6 1.2 1.6 1.6 1.6 2.1 1 1.9 1 2.6 1 0.6 1-1.8 1-2.3 1-1.9 1-2 1-1.7 1-1 1.6-1.2 1.6-0.5 1.6 0.1 1.6-0.8 1.6 0.5 1.6-0.1 1.6-0.4 1.6-0.1 1.6 0.3 1.6-0.2 1.6 0.5 1.6-0.4 1.6"/>
<path d="M277.4 144.2l-0.7 1.6-0.4 1.6-0.2 1.6 0 1.6-0.8 1.6-0.1 1.6-0.5 1.6-0.8 1.6 0.3 1.6-0.3 1.6 0.4 1.6 0.9 1.6 0.4 1.6-0.1 1.6-0.1 1.6-0.4 1.6-0.2 1.6-0.6 1.6 0.3 1.6 0.1 1.6 1.3 1.6 0.2 1.6 1.2 1.6-0.3 1.6 1 1.6 0.8 1.6 0.1 1.6 1.2 1.6 0.3 1.6 1.6 1 2.3 1 1.2 1 1 1-1.1 1-1.7 1-2 1-1.1 1-1 1-1.2 1.6-0.4 1.6-1.3 1.6 0.3 1.6-0.8 1.6 0.5 1.6-0.8 1.6 0.1 1.6 0.5 1.6-0.3 1.6-0.5 1.6 0 1.6 0.2 1.6"/>
<path d="M278.4 144.2l-0.1 1.6 0.4 1.6-0.4 1.6 0.4 1.6-1 1.6-0.7 1.6-0.7 1.6-1.3 1.6 0.7 1.6 0.2 1.6 0.1 1.6 0.8 1.6 1.2 1.6-0.3 1.6 0.3 1.6-0.4 1.6-0.7 1.6 0.3 1.6-0.2 1.6-0.1 1.6 1.5 1.6 0.4 1.6 0.2 1.6 0.1 1.6-0.2 1.6 0.4 1.6 1.5 1.6 1.2 1.6 1.4 1.6 1.5 1 2.9 1 1.7 1 1.3 1-1.9 1-2 1-2.7 1-1.1 1-1.1 1-1.7 1.6-0.8 1.6-0.8 1.6-0.7 1.6-0.3 1.6 0.3 1.6 0 1.6-0.6 1.6-0.2 1.6 0.1 1.6 0.4 1.6 0.1 1.6 0 1.6"/>
<path d="M279.2 144.2l0.2 1.6-0.1 1.6-0.2 1.6-0.6 1.6 0 1.6-0.9 1.6-0.9 1.6-0.2 1.6-0.2 1.6 0.7 1.6 0 1.6 1.2 1.6 0.2 1.6 1.1 1.6-0.4 1.6-0.5 1.6-0.3 1.6 0.1 1.6 0.2 1.6 0.3 1.6 0.3 1.6 1 1.6 0 1.6 0.2 1.6 0 1.6 0.4 1.6 0.4 1.6 1.5 1.6 0.7 1.6 1.8 1 3 1 2 1 0.5 1-1.4 1-2.5 1-1.6 1-1.5 1-1.4 1-1.7 1.6-0.5 1.6-1.2 1.6 0 1.6-0.3 1.6 0.4 1.6-0.4 1.6-0.3 1.6-0.4 1.6 0.6 1.6 0 1.6-0.3 1.6 0.4 1.6"/>
<path d="M281.3 144.2l-0.2 1.6-0.9 1.6 0.1 1.6-0.1 1.6-0.4 1.6-1.2 1.6-0.7 1.6 0 1.6 0 1.6-0.1 1.6 0.2 1.6 0.9 1.6 0 1.6 0.7 1.6 0.4 1.6-0.9 1.6 0.3 1.6-0.9 1.6 0.4 1.6 0.7 1.6 0.4 1.6 1 1.6 1.3 1.6-0.3 1.6 1.2 1.6-0.1 1.6 1.1 1.6 0.6 1.6 0.9 1.6 1.7 1 2.4 1 1.4 1 0.5 1-0.4 1-2.2 1-2.4 1-1.5 1-0.7 1-1.6 1.6-0.9 1.6-0.9 1.6 0.2 1.6-0.4 1.6-0.5 1.6 0.4 1.6 0 1.6-0.1 1.6-0.9 1.6 0.5 1.6 0.3 1.6 0.1 1.6"/>
<path d="M280.6 144.2l-0.1 1.6 0.2 1.6-0.3 1.6 0.2 1.6 1.1 1.6-0.4 1.6 0.9 1.6 0.5 1.6-0.2 1.6-0.8 1.6-0.2 1.6-0.4 1.6-0.8 1.6-0.7 1.6 0.4 1.6-0.6 1.6-0.3 1.6-0.1 1.6 0.4 1.6 0.1 1.6-0.1 1.6 0.7 1.6 0.8 1.6-0.1 1.6 0.1 1.6 1 1.6 0.2 1.6 0.1 1.6 2.8 1.6 2.2 1 2.7 1 2.1 1 1.5 1-2.4 1-2.1 1-1.9 1-2.1 1-0.4 1-0.6 1.6-0.3 1.6-0.9 1.6-0.2 1.6 0.2 1.6-0.1 1.6 0.2 1.6 0.3 1.6-0.4 1.6 0.6 1.6-0.7 1.6-0.1 1.6 0.7 1.6"/>
<path d="M284.4 144.2l-0.6 1.6 0.5 1.6 0.3 1.6 0.1 1.6-0.4 1.6 0.7 1.6 0.1 1.6-0.1 1.6-0.6 1.6-0.5 1.6-0.1 1.6-0.6 1.6-0.7 1.6-0.3 1.6-0.5 1.6-0.4 1.6-1 1.6 0.3 1.6-0.2 1.6-0.2 1.6 0.2 1.6 0.2 1.6 0.4 1.6 0.8 1.6-0.2 1.6-0.2 1.6 0.1 1.6 0.8 1.6 3.2 1.6 1.2 1 1.8 1 2 1 0.3 1-1.4 1-1.4 1-2 1-0.5 1-0.7 1-1 1.6-0.1 1.6-0.3 1.6-0.4 1.6-0.2 1.6 0.8 1.6-0.2 1.6 0.2 1.6 0.2 1.6-0.6 1.6 0 1.6 0.4 1.6-0.6 1.6"/>
<path d="M284.6 144.2l0.3 1.6-0.7 1.6-0.1 1.6 0 1.6 0.1 1.6-0.2 1.6 0.4 1.6-0.1 1.6 0.3 1.6-1.3 1.6 0.2 1.6-0.9 1.6 0.1 1.6-0.3 1.6-0.1 1.6-0.6 1.6 0.5 1.6-0.3 1.6 0 1.6-0.2 1.6 0.9 1.6 0.5 1.6-0.4 1.6 0.4 1.6-0.3 1.6 0.3 1.6 0.5 1.6 0.5 1.6 2.2 1.6 1.1 1 2.5 1 1.4 1 0.8 1-1.2 1-2.2 1-1 1-1.7 1-0.1 1-1.1 1.6 0 1.6-0.2 1.6 0 1.6-0.3 1.6-0.5 1.6 0.1 1.6 0.7 1.6 0 1.6 0.1 1.6 0.4 1.6 0 1.6-0.2 1.6"/>
<path d="M284.4 144.2l-0.4 1.6-0.5 1.6 0.6 1.6-0.2 1.6-0.1 1.6 0.2 1.6 0.3 1.6 0.3 1.6 0.2 1.6-0.8 1.6-0.6 1.6-0.1 1.6-0.7 1.6-0.6 1.6 0.1 1.6-0.3 1.6 0.1 1.6-0.5 1.6 0.3 1.6 0.3 1.6-0.5 1.6 0.9 1.6-0.1 1.6 0.9 1.6-0.1 1.6-0.1 1.6 1 1.6 0.3 1.6 2.1 1.6 0.8 1 1.3 1 1.6 1 0.9 1-0.5 1-1.4 1-1.3 1-1.4 1 0.5 1-1.3 1.6-0.1 1.6 0.7 1.6-0.6 1.6-0.1 1.6-0.1 1.6 0.5 1.6-0.2 1.6 0.5 1.6-0.4 1.6 0.1 1.6 0.4 1.6-0.6 1.6"/>
<path d="M287.2 144.2l0.2 1.6-0.4 1.6 0.7 1.6-0.3 1.6 1 1.6 0.7 1.6 0.2 1.6-0.8 1.6 0.4 1.6-1.1 1.6-1.1 1.6-0.1 1.6-0.9 1.6 0.1 1.6-0.5 1.6 0.1 1.6-0.1 1.6-0.5 1.6-0.5 1.6 0.5 1.6 0 1.6 0.6 1.6 0.2 1.6 0.3 1.6 0.6 1.6 0.5 1.6-0.3 1.6 0.3 1.6 3 1.6 0.9 1 2.4 1 2.7 1 0.6 1-2 1-1.9 1-1.5 1-1.7 1-0.4 1-1.5 1.6-0.2 1.6 0.2 1.6-0.6 1.6 0.5 1.6-0.3 1.6 0.4 1.6-0.4 1.6 0.2 1.6 0.4 1.6-0.9 1.6 0.4 1.6 0 1.6"/>
<path d="M285.5 144.2l0.7 1.6 0.1 1.6-0.2 1.6 0.2 1.6 0.3 1.6 0.5 1.6-0.1 1.6 0.4 1.6-1.1 1.6-0.1 1.6-0.6 1.6-0.1 1.6-0.6 1.6 0 1.6-0.5 1.6 0.2 1.6 0.1 1.6 0 1.6-0.4 1.6 0.8 1.6 0.6 1.6 0.1 1.6 0.3 1.6-0.3 1.6-0.1 1.6 0.4 1.6-0.1 1.6 0.1 1.6 2.6 1.6 1.3 1 2.2 1 1.9 1 0.6 1-1.7 1-1 1-1.7 1-0.9 1-0.7 1-0.5 1.6-0.1 1.6-0.1 1.6 0.2 1.6-0.4 1.6 0.6 1.6 0 1.6-0.6 1.6 0.1 1.6 0.8 1.6 0.1 1.6-0.4 1.6 0.1 1.6"/>
<path d="M288.4 144.2l-0.2 1.6-0.2 1.6-0.5 1.6 0 1.6 1.1 1.6 0.5 1.6 0.3 1.6-0.3 1.6 0.2 1.6-0.8 1.6 0 1.6-0.8 1.6-0.3 1.6-0.8 1.6-0.1 1.6-0.4 1.6-0.2 1.6 0.3 1.6-0.1 1.6-0.1 1.6 1.2 1.6 0.4 1.6 0.4 1.6 0.7 1.6 0.3 1.6 0.2 1.6 0.6 1.6-0.5 1.6 2.2 1.6 0.6 1 2.1 1 2.3 1 0.3 1-1.7 1-2.1 1-1.5 1-0.9 1-0.1 1-0.7 1.6-0.3 1.6 0 1.6-0.4 1.6 0.2 1.6-0.4 1.6-0.2 1.6 0 1.6 0.4 1.6 0.1 1.6 0.3 1.6-0.3 1.6-0.4 1.6"/>
<path d="M290 144.2l-0.6 1.6 0.3 1.6-0.2 1.6-0.3 1.6-0.1 1.6 0.3 1.6-0.2 1.6-0.1 1.6 0 1.6-0.5 1.6-0.6 1.6-1.1 1.6 0.5 1.6-0.8 1.6-0.1 1.6 0.4 1.6 0.7 1.6-1 1.6 0.8 1.6 0.5 1.6-0.2 1.6-0.1 1.6 0.5 1.6 0.4 1.6 0.3 1.6-0.3 1.6 0.2 1.6 0.5 1.6 3.2 1.6 0.8 1 2 1 1.7 1 1.2 1-1.3 1-2.4 1-1 1-1.8 1-0.5 1-0.8 1.6 0 1.6-0.2 1.6-0.7 1.6 0.6 1.6-0.5 1.6-0.6 1.6 0.9 1.6-0.4 1.6-0.1 1.6 0.4 1.6 0.6 1.6 0 1.6"/>
<path d="M289.8 144.2l-0.5 1.6 0.5 1.6-0.4 1.6 0.2 1.6-0.3 1.6 0.5 1.6 1 1.6-0.2 1.6 0.7 1.6 0.3 1.6 0 1.6 0.3 1.6-0.8 1.6 0.2 1.6 0.4 1.6 0.6 1.6 1.3 1.6 0.6 1.6 0 1.6 0.3 1.6-0.4 1.6-0.2 1.6 0.4 1.6-0.5 1.6 0.5 1.6 0 1.6-0.1 1.6 0.5 1.6-0.1 1.6 1 1 0.7 1 1.1 1 0.9 1-1.1 1-1.2 1-0.7 1-1.6 1-0.4 1-0.2 1.6-0.3 1.6 0 1.6-0.1 1.6 0.4 1.6 0 1.6-0.4 1.6 0.3 1.6-0.4 1.6-0.1 1.6 0.3 1.6-0.1 1.6 0.3 1.6"/>
<path d="M290.7 144.2l0.9 1.6-0.4 1.6 0.1 1.6 0 1.6-0.6 1.6 0.7 1.6-0.7 1.6 0.4 1.6 0.5 1.6 0.2 1.6-0.4 1.6 0 1.6 0.1 1.6 0.6 1.6 0.2 1.6 0.4 1.6 1.1 1.6 0.7 1.6 0.7 1.6 0.6 1.6-0.3 1.6 0.1 1.6-0.2 1.6 0 1.6 0 1.6 0 1.6 0.5 1.6 1 1.6 0.5 1.6 2.2 1 1.4 1 2.4 1 0 1-0.7 1-2.6 1-2.2 1-1.4 1-0.6 1-1.2 1.6 0.5 1.6-0.6 1.6-0.2 1.6-0.7 1.6-0.2 1.6-0.5 1.6 0 1.6 0.2 1.6-0.6 1.6 0.6 1.6 0.2 1.6-0.2 1.6"/>
<path d="M292.4 144.2l0.3 1.6-0.4 1.6 0.8 1.6-0.4 1.6 0.1 1.6-0.2 1.6 0.5 1.6 1.1 1.6-0.3 1.6 1 1.6-0.1 1.6 0.3 1.6 0.2 1.6 0 1.6 0.3 1.6 0.8 1.6 0.2 1.6 1.2 1.6 0.3 1.6 0.1 1.6-0.6 1.6-0.4 1.6 0 1.6 0 1.6 0 1.6 0.6 1.6-0.5 1.6 1 1.6 0 1.6 1 1 1.5 1 1.6 1 0.8 1-1.5 1-1.2 1-1.9 1-1.5 1-0.7 1-0.5 1.6-0.1 1.6 0.4 1.6-0.9 1.6-0.3 1.6-0.1 1.6 0.1 1.6-0.3 1.6 0.1 1.6 0.1 1.6-0.3 1.6 0 1.6 0.6 1.6"/>
<path d="M293 144.2l0.5 1.6-0.2 1.6 0 1.6-0.3 1.6 0.2 1.6-0.5 1.6 0.9 1.6 0.5 1.6 0.1 1.6 0.5 1.6-0.1 1.6 0.4 1.6-0.9 1.6 0.4 1.6 0.1 1.6 1.2 1.6 0.5 1.6 1.2 1.6 0.3 1.6-0.2 1.6 0.6 1.6-0.6 1.6-0.1 1.6-0.7 1.6 1 1.6 0.2 1.6-0.4 1.6 1.2 1.6-0.4 1.6 1 1 0.9 1 1.5 1 0 1-0.6 1-1.6 1-1.8 1-0.2 1-0.9 1-0.3 1.6 0.3 1.6-0.6 1.6-0.1 1.6 0.4 1.6-0.5 1.6-0.7 1.6 0.4 1.6 0.1 1.6-0.6 1.6 0.5 1.6-0.2 1.6 0.5 1.6"/>
<path d="M296 144.2l-0.2 1.6-0.3 1.6-0.4 1.6 0.7 1.6-0.2 1.6-0.1 1.6 0.3 1.6 0.9 1.6 0.4 1.6-0.2 1.6-0.2 1.6-0.1 1.6 0 1.6 0.3 1.6 0.4 1.6 1.1 1.6 0.7 1.6 1 1.6 0.2 1.6 0.2 1.6-0.8 1.6-0.5 1.6 0.4 1.6-0.2 1.6 0.8 1.6 0.4 1.6-0.4 1.6 0.5 1.6 0.2 1.6 1.4 1 0.5 1 1.8 1 0.7 1-1.4 1-1.4 1-1 1-1.5 1 0.2 1-0.8 1.6 0.1 1.6-0.7 1.6 0.4 1.6-0.3 1.6-0.5 1.6-0.4 1.6 0.5 1.6-0.4 1.6-0.1 1.6 0.5 1.6 0.2 1.6-0.4 1.6"/>
<path d="M295.8 144.2l0.5 1.6-0.9 1.6-0.1 1.6 0.8 1.6-0.5 1.6 0.9 1.6 0.6 1.6 1.3 1.6 0.2 1.6 0.3 1.6-0.1 1.6-0.7 1.6 0.4 1.6 0.1 1.6 0.3 1.6 0.2 1.6 0.4 1.6 1.1 1.6 0.8 1.6-0.5 1.6-0.7 1.6 0.4 1.6-0.9 1.6 0.8 1.6 0.2 1.6 0.6 1.6 0 1.6 0.4 1.6 0.4 1.6 0.8 1 1.2 1 1.1 1 0.5 1-0.9 1-2.3 1-0.9 1-0.7 1-1.2 1-0.5 1.6-0.1 1.6-0.1 1.6-0.6 1.6 0.4 1.6-0.7 1.6 0.3 1.6 0.1 1.6 0.2 1.6-0.6 1.6 0.2 1.6 0.1 1.6-0.6 1.6"/>
<path d="M298.3 144.2l0.1 1.6 0.3 1.6-0.1 1.6-0.4 1.6 0.1 1.6 0.3 1.6 0.4 1.6 0.3 1.6 0.1 1.6 0.5 1.6 0.2 1.6 0.4 1.6-0.7 1.6 0.3 1.6 0.6 1.6 0.4 1.6 0.8 1.6 1.3 1.6 0.3 1.6 0.6 1.6-0.2 1.6-0.5 1.6-0.2 1.6-0.1 1.6 0.7 1.6 0.1 1.6 0.4 1.6 0.6 1.6-0.3 1.6 0.8 1 0.7 1 2.2 1-0.7 1-0.6 1-1.2 1-1.3 1-1.5 1-0.3 1-0.8 1.6-0.4 1.6 0.3 1.6-0.9 1.6 0.3 1.6-0.1 1.6-0.3 1.6-0.5 1.6-0.4 1.6 1 1.6-0.5 1.6-0.4 1.6 0.9 1.6"/>
<path d="M298.2 144.2l0.2 1.6-0.2 1.6 0.2 1.6 0.3 1.6-0.3 1.6-0.2 1.6 0.5 1.6 0.7 1.6 0.1 1.6 1 1.6-0.5 1.6 0.1 1.6 0.3 1.6 0 1.6-0.4 1.6 1.1 1.6 0.5 1.6 0.5 1.6 0.5 1.6 0.9 1.6-0.1 1.6-0.7 1.6-0.6 1.6-0.3 1.6 0.5 1.6 0.2 1.6 0.9 1.6 0.6 1.6 0.2 1.6 0.6 1 1.8 1 0.9 1 0 1-0.8 1-1.4 1-1.6 1-0.3 1-1.3 1-0.3 1.6 0.7 1.6-0.8 1.6 0 1.6 0.4 1.6 0 1.6-1.1 1.6 0.7 1.6-0.6 1.6 0.8 1.6-0.2 1.6 0.1 1.6 0.4 1.6"/>
<path d="M300.5 144.2l-0.6 1.6-0.2 1.6-0.3 1.6-0.4 1.6 0.5 1.6 1.1 1.6 0.4 1.6-0.2 1.6 0.1 1.6-0.3 1.6-1.1 1.6-0.6 1.6 0.3 1.6-0.5 1.6 0.3 1.6 0.5 1.6 0.3 1.6 0.3 1.6 0 1.6-0.5 1.6 0 1.6 0.6 1.6 0.4 1.6 1.9 1.6 0.2 1.6 1.3 1.6 0.1 1.6 0.3 1.6 0.8 1.6 1.3 1 2.2 1 2.2 1 1 1-1.8 1-2.6 1-1.4 1-1.7 1-0.4 1-0.7 1.6-0.6 1.6-0.5 1.6 0.1 1.6-1.1 1.6 0 1.6 0.4 1.6 0.2 1.6 0.8 1.6-0.6 1.6 0.4 1.6-1 1.6 0.7 1.6"/>
<path d="M302 144.2l-0.1 1.6-0.7 1.6 0.3 1.6-0.5 1.6 0.1 1.6 0.3 1.6 0.4 1.6 0.8 1.6-0.4 1.6-0.4 1.6-0.6 1.6 0 1.6-0.8 1.6-0.4 1.6 0.9 1.6-0.2 1.6 0.3 1.6 0.9 1.6-0.2 1.6 1 1.6-0.4 1.6 0.3 1.6 0.9 1.6 0.7 1.6 0.5 1.6 0.5 1.6 1.2 1.6 0.7 1.6 0.2 1.6 1.8 1 2.1 1 1.8 1 0.7 1-1.5 1-2.4 1-1.4 1-1.5 1-0.8 1-1.2 1.6 0 1.6-0.2 1.6-0.7 1.6-0.1 1.6-0.4 1.6 0.4 1.6 0.3 1.6-0.3 1.6 0.3 1.6-0.6 1.6 0.2 1.6-0.8 1.6"/>
<path d="M303.4 144.2l-0.2 1.6-0.1 1.6-0.4 1.6-0.6 1.6 0.4 1.6 1.1 1.6-0.1 1.6-0.1 1.6-0.8 1.6-0.1 1.6-0.7 1.6-0.5 1.6-0.5 1.6 0.3 1.6 0.6 1.6 0.8 1.6 0.4 1.6-0.6 1.6-0.1 1.6 0.6 1.6 0.3 1.6 0.6 1.6 0.5 1.6 0.6 1.6 0.7 1.6 0.1 1.6 0.3 1.6-0.4 1.6 1.5 1.6 1.1 1 2.3 1 1.8 1 0.2 1-0.7 1-2 1-1.3 1-1.1 1-1 1-1.1 1.6 0.2 1.6-1.3 1.6-0.2 1.6-0.3 1.6 0 1.6 0.5 1.6 0.1 1.6 0.5 1.6 0.1 1.6-0.5 1.6 0 1.6-0.2 1.6"/>
<path d="M305.1 144.2l-0.2 1.6-0.1 1.6-0.8 1.6 0.8 1.6 0.6 1.6 0.2 1.6 0 1.6-0.4 1.6-0.2 1.6-0.7 1.6-0.8 1.6-0.1 1.6-0.2 1.6 0.5 1.6 0.4 1.6 0.4 1.6 0.3 1.6-0.2 1.6 0.7 1.6 0.3 1.6 0.6 1.6 0.7 1.6 1.1 1.6 0.8 1.6-0.2 1.6 0.9 1.6-0.6 1.6 0.1 1.6 0.3 1.6 0.9 1 1.1 1 1.6 1-0.1 1-0.7 1-1.2 1-1.6 1-0.8 1 0.1 1-0.5 1.6-0.3 1.6-1.1 1.6 0.4 1.6-0.4 1.6-0.1 1.6 0.5 1.6-0.2 1.6 0.1 1.6-0.7 1.6 0.1 1.6-0.5 1.6 0.3 1.6"/>
<path d="M305.4 144.2l-0.6 1.6 0 1.6-0.4 1.6 0.5 1.6 0.3 1.6 0.7 1.6 0 1.6 1 1.6-1 1.6-0.2 1.6-1.2 1.6-0.3 1.6 0.2 1.6 1 1.6 0.1 1.6 1.4 1.6-0.4 1.6 0 1.6 0 1.6-0.4 1.6 0.4 1.6 0.1 1.6 0.8 1.6 1.4 1.6 1.2 1.6-0.1 1.6 0.5 1.6-0.4 1.6 0.4 1.6 1.3 1 2.1 1 2.3 1 0 1-0.9 1-1.8 1-1.6 1-1.1 1-0.5 1-1.3 1.6-0.3 1.6-0.6 1.6-0.9 1.6 0.6 1.6-0.9 1.6 0.4 1.6 0.7 1.6 0.1 1.6 0.2 1.6-0.2 1.6-0.5 1.6-0.3 1.6"/>
<path d="M308.4 144.2l-0.8 1.6-0.7 1.6-0.3 1.6 0 1.6-0.1 1.6 0.7 1.6 1.4 1.6-0.5 1.6-0.2 1.6 0.3 1.6-0.9 1.6-0.8 1.6-0.1 1.6-0.1 1.6 0.8 1.6-0.2 1.6 1 1.6 0 1.6 0 1.6 0.5 1.6-0.6 1.6 0.6 1.6 0.7 1.6 0.7 1.6 1.4 1.6 0 1.6 1.3 1.6-0.1 1.6 0 1.6 1.7 1 2 1 1.8 1 0.8 1-1.4 1-2.3 1-2 1-0.8 1-0.6 1-0.6 1.6-0.2 1.6-0.3 1.6-1 1.6 0 1.6-0.7 1.6 0.5 1.6-0.4 1.6 0.2 1.6 0.7 1.6-0.1 1.6-0.4 1.6-0.4 1.6"/>
<path d="M308.5 144.2l-0.7 1.6-0.7 1.6 0.3 1.6 0.1 1.6 0.7 1.6 0.4 1.6 0.9 1.6 0 1.6-0.9 1.6-1 1.6-0.1 1.6-0.9 1.6 0 1.6 0.4 1.6 0.4 1.6 0 1.6-0.5 1.6-0.1 1.6 0.7 1.6-0.6 1.6 0.9 1.6 0.8 1.6 0.5 1.6 1.3 1.6 0.5 1.6 0.6 1.6 1 1.6-0.2 1.6 1.1 1.6 1.4 1 2.8 1 1.9 1 1.7 1-1.8 1-2.7 1-2.4 1-1.3 1-1.3 1-0.8 1.6-0.5 1.6-0.7 1.6 0 1.6-0.8 1.6 0.9 1.6 0 1.6 0.1 1.6-0.4 1.6 0.4 1.6-0.7 1.6-0.3 1.6-0.6 1.6"/>
<path d="M310.5 144.2l-0.4 1.6-0.2 1.6-0.5 1.6-0.4 1.6 0.2 1.6 0.5 1.6 0.1 1.6 0.3 1.6 0.1 1.6-0.2 1.6-1.4 1.6-0.5 1.6-0.4 1.6 0.7 1.6 0.1 1.6 0.1 1.6 0.5 1.6 0.3 1.6-0.1 1.6 0.8 1.6 0.4 1.6 0 1.6 0.5 1.6 1.2 1.6 1 1.6 1.3 1.6 0.5 1.6 0.9 1.6 0.8 1.6 1 1 2.6 1 2.7 1 0.7 1-1.7 1-1.9 1-2.2 1-2 1-1.2 1-0.2 1.6-0.6 1.6-1.1 1.6-0.2 1.6 0 1.6-0.5 1.6-0.4 1.6 0 1.6 0.8 1.6-0.6 1.6-0.3 1.6 0.4 1.6-0.3 1.6"/>
<path d="M311.9 144.2l-0.5 1.6 0.6 1.6-0.9 1.6 0.3 1.6 0.1 1.6 0.7 1.6-0.2 1.6 1.2 1.6-0.1 1.6 0.3 1.6 0.2 1.6 0 1.6 0.2 1.6-0.8 1.6 0.5 1.6 0.6 1.6-0.1 1.6 0 1.6 0.5 1.6-0.9 1.6 0.1 1.6-0.2 1.6-0.1 1.6-0.1 1.6 0.8 1.6 0.3 1.6 0.4 1.6 0.9 1.6 0.6 1.6 1 1 2.1 1 1.8 1 0.8 1-1.8 1-1.7 1-1 1-1.3 1-1.3 1-0.2 1.6-0.2 1.6-0.9 1.6-0.6 1.6 0.1 1.6-0.8 1.6 0.3 1.6 0.5 1.6-0.1 1.6-0.3 1.6 0.3 1.6 0.4 1.6-0.5 1.6"/>
<path d="M312.6 144.2l0 1.6 0.5 1.6-0.1 1.6-0.9 1.6-0.1 1.6 0.4 1.6 0.5 1.6 0.3 1.6 0.3 1.6 0 1.6 0.8 1.6-0.4 1.6-0.4 1.6 0.2 1.6 0.4 1.6 0.2 1.6 0 1.6 0.4 1.6 0 1.6-1 1.6 0.2 1.6-0.5 1.6-0.3 1.6 0.4 1.6 0 1.6 0.4 1.6 0.8 1.6 1.8 1.6 0.2 1.6 2.3 1 1 1 2.6 1 0.4 1-1.3 1-1.9 1-1.7 1-1.9 1-0.3 1-1.3 1.6-0.3 1.6-0.2 1.6 0.3 1.6-0.9 1.6 0.4 1.6-0.6 1.6 0.3 1.6-0.2 1.6 0.5 1.6-0.4 1.6 0.4 1.6-0.6 1.6"/>
<path d="M313 144.2l-0.3 1.6 0.2 1.6 0.3 1.6-0.1 1.6-0.8 1.6 0.3 1.6 0.7 1.6 0.6 1.6 0.2 1.6 0.7 1.6 0.2 1.6-0.2 1.6-0.2 1.6 0.2 1.6-0.3 1.6-0.3 1.6 1.2 1.6 0 1.6 0 1.6-0.5 1.6-0.2 1.6 0 1.6-0.4 1.6-0.5 1.6 1 1.6 0.1 1.6 1.3 1.6 1.3 1.6 1.5 1.6 1.9 1 2.9 1 2.2 1 1 1-1.5 1-3.4 1-1.8 1-1.7 1-0.9 1-1.5 1.6 0 1.6 0.1 1.6-0.5 1.6-0.3 1.6-0.9 1.6 0.1 1.6-0.1 1.6-0.1 1.6 0.5 1.6 0.3 1.6-0.4 1.6 0.4 1.6"/>
<path d="M313.9 144.2l-0.7 1.6-0.2 1.6 0.1 1.6-0.4 1.6 0.2 1.6-0.1 1.6 1.2 1.6 0.3 1.6 0 1.6 0.7 1.6 0.2 1.6 0 1.6 0.3 1.6-0.4 1.6 0.4 1.6 0.2 1.6 0.5 1.6-0.2 1.6-0.5 1.6 0.6 1.6-0.6 1.6 0.3 1.6-0.6 1.6 1 1.6 0.1 1.6 0.6 1.6 0.7 1.6 1.6 1.6 0.4 1.6 1.9 1 1.4 1 1.8 1 0.5 1-1.4 1-2 1-0.9 1-1.4 1-0.6 1-1.3 1.6-0.4 1.6-0.6 1.6 0.2 1.6-0.1 1.6-0.4 1.6 0.5 1.6 0.1 1.6-0.3 1.6 0.3 1.6 0.1 1.6 0 1.6 0 1.6"/>
<path d="M315 144.2l0.1 1.6 0.2 1.6-1 1.6 0.6 1.6 0 1.6 0 1.6 0.6 1.6-0.2 1.6 0.9 1.6 0.7 1.6-0.3 1.6-0.2 1.6-0.1 1.6-0.3 1.6 0.1 1.6-0.1 1.6 0.9 1.6 0 1.6-0.5 1.6-0.3 1.6 0.2 1.6 0.2 1.6 0 1.6-0.3 1.6 0.8 1.6 0.1 1.6 1.7 1.6 0.8 1.6 0.4 1.6 1.3 1 1.4 1 1 1-0.1 1-0.9 1-0.9 1-2 1-0.4 1-0.5 1-0.6 1.6 0.3 1.6-0.8 1.6-0.2 1.6 0 1.6-0.2 1.6-0.1 1.6-0.2 1.6 0.3 1.6 0.1 1.6 0.9 1.6-0.7 1.6-0.4 1.6"/>
<path d="M317.8 144.2l0.2 1.6-0.8 1.6 0.5 1.6-0.4 1.6-0.6 1.6 0.5 1.6 0.5 1.6 0.2 1.6 0.9 1.6 0.1 1.6-0.2 1.6 0.9 1.6-0.2 1.6-0.9 1.6 0.8 1.6-0.2 1.6-0.5 1.6 0.3 1.6 0.1 1.6 0.1 1.6-0.7 1.6-0.1 1.6 0.3 1.6-0.3 1.6 0.8 1.6 1.6 1.6 0.8 1.6 0.8 1.6 1.1 1.6 1.6 1 2 1 2.3 1 0.8 1-2 1-2 1-2.2 1-1.6 1-0.8 1-0.3 1.6-1.2 1.6-0.4 1.6 0.5 1.6-0.9 1.6-0.1 1.6 0.2 1.6 0.2 1.6 0.1 1.6-0.2 1.6 0.5 1.6-0.3 1.6 0 1.6"/>
<path d="M319.5 144.2l0.4 1.6 0.1 1.6-0.5 1.6-0.5 1.6 0.7 1.6-0.3 1.6 0.3 1.6 0.8 1.6 1.2 1.6 0.3 1.6 0.6 1.6 0 1.6-0.6 1.6 0.1 1.6-0.9 1.6 0.5 1.6 0.6 1.6 0 1.6-0.3 1.6-0.5 1.6-0.4 1.6-0.4 1.6-0.4 1.6 1 1.6 0.1 1.6 1.2 1.6 0.4 1.6 2.1 1.6 0.1 1.6 2.3 1 2.2 1 2.1 1 0.8 1-1.8 1-2.1 1-2.7 1-1.4 1-1.2 1-0.9 1.6 0.3 1.6-0.4 1.6-0.4 1.6-0.1 1.6-0.5 1.6 0.2 1.6-0.7 1.6 0.4 1.6-0.2 1.6 0.3 1.6 0.6 1.6-1.1 1.6"/>
<path d="M319.7 144.2l-0.2 1.6 0.2 1.6-0.3 1.6 0.5 1.6-0.6 1.6 0.3 1.6 0.3 1.6 0.5 1.6 0.8 1.6 0.5 1.6-0.1 1.6 0.4 1.6-0.4 1.6-0.3 1.6 0.5 1.6 0.6 1.6-0.3 1.6 0.7 1.6-0.4 1.6-0.4 1.6 0.1 1.6-0.5 1.6 0 1.6-0.2 1.6 0.8 1.6 0.3 1.6 1.3 1.6 0.7 1.6 0.6 1.6 1.2 1 0.8 1 1.5 1 1 1-1.5 1-1.7 1-1.5 1-0.6 1-0.9 1-0.5 1.6 0 1.6-0.3 1.6-1 1.6 0.6 1.6-1 1.6-0.2 1.6 0.2 1.6 0.5 1.6-0.3 1.6 0.1 1.6 0.7 1.6-0.6 1.6"/>
<path d="M318.1 144.2l0 1.6 1.2 1.6 0.2 1.6 0.8 1.6-0.4 1.6 0.2 1.6-0.3 1.6 0.5 1.6-0.1 1.6 0.1 1.6 0.3 1.6-0.2 1.6 0.4 1.6-0.7 1.6-1.7 1.6-0.9 1.6-0.7 1.6-0.7 1.6-0.5 1.6 1.2 1.6 1.1 1.6 1.4 1.6 0.4 1.6 1 1.6-0.4 1.6 0 1.6 0.5 1.6 0.9 1.6 2 1.6 1.9 1 1.8 1 1.7 1-0.1 1-0.8 1-1.5 1-1.4 1-1.2 1-0.3 1-0.4 1.6-0.8 1.6 0 1.6 1 1.6-0.1 1.6 0 1.6 0.5 1.6-0.8 1.6 0.3 1.6-0.2 1.6-0.4 1.6-0.7 1.6 0.8 1.6"/>
<path d="M320.5 144.2l0.1 1.6 1 1.6-0.3 1.6 0.7 1.6-0.6 1.6 0 1.6 0 1.6 0.1 1.6-0.9 1.6 0.7 1.6-0.5 1.6 0.3 1.6-0.3 1.6-1.4 1.6-0.9 1.6-1.4 1.6-1.5 1.6-0.1 1.6 0.4 1.6 0.9 1.6 1 1.6 1.7 1.6 1 1.6 0.3 1.6-0.3 1.6 0.7 1.6 1.1 1.6 0.8 1.6 3.7 1.6 1.3 1 3.2 1 2.6 1 0.4 1-1.8 1-2.6 1-1.5 1-1.9 1-0.8 1-1.5 1.6-0.4 1.6 0.7 1.6 0.2 1.6 0 1.6-0.5 1.6 0.6 1.6-1 1.6 0.3 1.6 0.2 1.6-0.4 1.6-0.3 1.6 0.7 1.6"/>
<path d="M321.3 144.2l0.6 1.6 0.4 1.6 0.3 1.6 0.2 1.6 0.3 1.6-0.1 1.6 0.7 1.6-0.7 1.6 0.7 1.6-0.3 1.6 0.3 1.6 0 1.6-0.1 1.6-0.5 1.6-0.8 1.6-1.3 1.6-1.4 1.6-0.3 1.6-0.1 1.6 0.4 1.6 2 1.6 1.2 1.6 0.7 1.6-0.1 1.6 1.1 1.6-0.3 1.6 0.9 1.6 0.9 1.6 2.6 1.6 2 1 3.5 1 2.4 1 1.1 1-2.3 1-3 1-1.9 1-1.6 1-0.9 1-1.5 1.6-0.1 1.6-0.7 1.6 0.2 1.6 0.4 1.6 0.6 1.6-0.2 1.6-0.4 1.6 0.6 1.6-0.1 1.6-0.5 1.6 0 1.6-0.1 1.6"/>
<path d="M322 144.2l0.4 1.6 1.3 1.6-0.1 1.6 1.3 1.6-0.2 1.6 0.3 1.6-0.9 1.6 0.8 1.6-0.5 1.6 0.7 1.6-0.1 1.6-0.1 1.6-0.4 1.6-0.2 1.6-1.4 1.6-0.6 1.6-1.1 1.6-0.5 1.6 0.6 1.6 0.2 1.6 1.6 1.6 1.2 1.6 0.4 1.6 0.7 1.6-0.1 1.6 0.3 1.6 0.6 1.6 0.2 1.6 2.6 1.6 1.4 1 1.3 1 2 1 0.4 1-0.5 1-1.7 1-2 1-0.9 1-1.3 1 0.1 1.6-0.8 1.6 0.7 1.6 0.6 1.6 0.1 1.6-0.2 1.6 0.1 1.6-0.6 1.6 0.5 1.6-0.5 1.6 0.3 1.6 0 1.6-0.1 1.6"/>
</g>
<rect x="198.2" y="145.2" width="140.5" height="74.2" fill="none" stroke="#6a6a6a" stroke-width="1"/>
<rect x="349.5" y="145.2" width="140.7" height="74.2" fill="#fff"/>
<clipPath id="cb2"><rect x="349.5" y="145.2" width="140.7" height="74.2"/></clipPath>
<g clip-path="url(#cb2)" fill="none" stroke="#ec6f6f" stroke-opacity="0.5" stroke-width="0.6">
<path d="M348.4 144.2l0 1.6 0.6 1.6 0.1 1.6-0.4 1.6 0.2 1.6 0 1.6 0.7 1.6 0.1 1.6 0.9 1.6 0.9 1.6 1 1.6 0.1 1.6-0.3 1.6-0.4 1.6 0.1 1.6-0.5 1.6 0.4 1.6 0.7 1.6 0.4 1.6 0.3 1.6 0.6 1.6 0.2 1.6-0.3 1.6-0.3 1.6 0.6 1.6 0.4 1.6 0 1.6-0.2 1.6-0.7 1.6 0.7 1 0.3 1 0.4 1 0.7 1-1.3 1-0.6 1-1.3 1 0.2 1-0.1 1-1.1 1.6 0.1 1.6 0.1 1.6 0.7 1.6 0.3 1.6 0.1 1.6-0.6 1.6 0.6 1.6-0.1 1.6-0.2 1.6 0.2 1.6-0.1 1.6 0.4 1.6"/>
<path d="M348.9 144.2l0.3 1.6-0.8 1.6 0.7 1.6 0 1.6-0.8 1.6 0.2 1.6 0.3 1.6 0.4 1.6 0.7 1.6 0.6 1.6 0.5 1.6-0.3 1.6-0.6 1.6 0.1 1.6 0 1.6-0.7 1.6-0.1 1.6 0.1 1.6 0.8 1.6 0.9 1.6 0.9 1.6 0.6 1.6 0.5 1.6 0.2 1.6-0.1 1.6 0.3 1.6 0.2 1.6 0.1 1.6-0.7 1.6 0.3 1 1.1 1 0.2 1 0.3 1-1 1-0.4 1-1.3 1-0.2 1-0.3 1-0.3 1.6-0.2 1.6 0.9 1.6-0.4 1.6 1 1.6-0.7 1.6 0.8 1.6-0.4 1.6-0.2 1.6 0.4 1.6-0.6 1.6-0.1 1.6 0 1.6"/>
<path d="M351.5 144.2l0.2 1.6 0 1.6-0.2 1.6-0.4 1.6 0.2 1.6-0.8 1.6 0.4 1.6 0.8 1.6 0.2 1.6 0.5 1.6 0.8 1.6 0.5 1.6 0.2 1.6-1 1.6 0 1.6-0.1 1.6 0.1 1.6 0 1.6-0.3 1.6 1.2 1.6 0 1.6 1 1.6-0.6 1.6 0.7 1.6 0.1 1.6 0 1.6 0.4 1.6 0.4 1.6 0 1.6 0.6 1 1 1 0.4 1 0.6 1-0.5 1-1.7 1-1.1 1-1 1 0.1 1-0.6 1.6-0.3 1.6 0.4 1.6 0.4 1.6 0.3 1.6-0.3 1.6 0.4 1.6 0.4 1.6-0.1 1.6-0.6 1.6 0.2 1.6 0.5 1.6 0.2 1.6"/>
<path d="M351.1 144.2l0.4 1.6-0.2 1.6 0 1.6-0.4 1.6-0.7 1.6-0.2 1.6 0 1.6 0.8 1.6 0.4 1.6 0.8 1.6 0.2 1.6 0.6 1.6 0 1.6-1.3 1.6-0.4 1.6-0.4 1.6 0.4 1.6 0.6 1.6 0.6 1.6 1 1.6 0.3 1.6-0.3 1.6 0.2 1.6 0.6 1.6-0.5 1.6 0.5 1.6 0.5 1.6 0 1.6 0.5 1.6 0.7 1 0.7 1 0.1 1 0.8 1-1.2 1-0.6 1-0.8 1-0.2 1-0.3 1-0.9 1.6 0.5 1.6 0.7 1.6-0.3 1.6 0.6 1.6-0.1 1.6 0.3 1.6-0.5 1.6-0.2 1.6 0.8 1.6-0.7 1.6 1 1.6 0.3 1.6"/>
<path d="M352.3 144.2l-0.8 1.6 0.2 1.6-0.7 1.6-0.2 1.6 0.3 1.6 0.2 1.6 0.2 1.6 1.3 1.6 0.6 1.6 1.1 1.6 0.4 1.6-0.4 1.6 0.2 1.6-0.8 1.6-0.8 1.6 0 1.6 0 1.6 0.2 1.6 1.2 1.6 0 1.6 0.6 1.6 0.4 1.6-0.2 1.6 0.1 1.6 0.5 1.6 0.1 1.6 1 1.6 0.8 1.6-0.5 1.6 0.4 1 0.5 1 0.3 1-0.5 1-0.4 1-1.4 1-0.6 1 0 1-0.6 1-0.3 1.6-0.1 1.6 0.7 1.6 0.5 1.6-0.4 1.6 0.2 1.6 0.3 1.6-0.5 1.6-0.1 1.6 0.7 1.6 0.1 1.6-0.2 1.6 0.1 1.6"/>
<path d="M352.9 144.2l0 1.6-0.4 1.6-0.9 1.6-0.3 1.6 0 1.6 0.1 1.6 0.6 1.6 1.5 1.6 0.2 1.6 0.8 1.6 1.2 1.6 0.3 1.6-0.1 1.6-1 1.6 0 1.6-0.1 1.6 0.2 1.6 0.4 1.6 1 1.6-0.1 1.6 0.6 1.6-0.7 1.6-0.1 1.6 1 1.6 0.5 1.6 0 1.6 0.8 1.6 0.8 1.6-0.9 1.6 0 1 0.4 1 0.3 1 0.6 1-0.7 1-0.9 1-0.7 1-0.3 1 0.1 1-0.2 1.6-0.6 1.6 0.9 1.6-0.1 1.6-0.5 1.6 0.5 1.6-0.4 1.6 0.6 1.6-0.1 1.6-0.1 1.6 0.4 1.6-0.5 1.6 0.7 1.6"/>
<path d="M354.1 144.2l0.2 1.6 0.3 1.6 0 1.6-1 1.6-0.1 1.6-0.6 1.6 0.4 1.6 0.2 1.6 1 1.6 1 1.6 0.2 1.6 1.1 1.6-0.4 1.6-0.5 1.6-0.1 1.6-0.3 1.6 0.1 1.6-0.2 1.6 0.9 1.6 0.8 1.6 0.8 1.6-0.1 1.6 0.2 1.6-0.8 1.6 0.8 1.6-0.3 1.6 1.2 1.6 0.6 1.6-0.4 1.6 1.1 1 0.6 1-0.1 1 0.1 1-0.1 1-1.3 1-1.3 1-0.2 1-0.9 1-0.1 1.6-0.1 1.6 0.1 1.6 0.2 1.6 0.3 1.6 0.1 1.6-0.3 1.6 0.6 1.6-0.3 1.6 0.3 1.6-0.3 1.6 0.5 1.6 0.1 1.6"/>
<path d="M354.7 144.2l0 1.6-0.1 1.6 0.6 1.6-0.8 1.6-0.5 1.6-0.2 1.6 0.3 1.6 0.2 1.6 0.7 1.6 0.3 1.6 0.8 1.6 0.6 1.6 0 1.6-1.1 1.6 0.1 1.6-0.7 1.6 0.8 1.6-0.4 1.6 1.2 1.6 0.1 1.6 0.6 1.6 0.1 1.6 0.4 1.6-0.3 1.6 0.1 1.6 0.6 1.6 0.8 1.6 0.7 1.6-0.5 1.6 0.9 1 0.6 1 0.2 1 0.3 1-1.1 1-0.5 1-0.6 1-1 1-0.1 1 0.1 1.6 0 1.6 0.6 1.6 0.3 1.6-0.3 1.6-0.3 1.6 0.7 1.6-0.8 1.6 0.8 1.6-0.2 1.6 0.5 1.6 0 1.6-0.4 1.6"/>
<path d="M358 144.2l0.5 1.6-0.3 1.6-0.2 1.6-0.8 1.6 0 1.6 0.8 1.6-0.2 1.6 0.4 1.6 0.6 1.6 1 1.6 0.9 1.6-0.3 1.6-0.2 1.6-0.3 1.6-0.3 1.6-1.2 1.6 0.1 1.6-0.2 1.6 0.5 1.6-0.5 1.6 0.1 1.6-0.3 1.6 0.1 1.6 0.9 1.6 0.3 1.6 1 1.6 0.3 1.6 1.3 1.6-0.3 1.6 0.9 1 1.4 1 0.9 1-0.5 1-0.7 1-1.3 1-0.7 1-1.3 1-0.5 1-0.5 1.6-0.2 1.6 0.3 1.6-0.2 1.6 0.2 1.6 0.4 1.6-0.6 1.6 0.7 1.6-0.2 1.6 0.2 1.6-0.2 1.6 0.1 1.6 0.1 1.6"/>
<path d="M356.5 144.2l0.5 1.6 0.3 1.6-0.1 1.6 0.2 1.6 0.8 1.6-0.1 1.6 1 1.6-0.2 1.6 0.8 1.6 0.3 1.6-0.2 1.6-0.4 1.6-0.1 1.6 0 1.6-0.6 1.6-0.3 1.6-0.2 1.6-0.6 1.6 0.3 1.6 0.8 1.6-0.2 1.6 0.8 1.6-0.1 1.6-0.3 1.6 0.6 1.6-0.2 1.6 1.1 1.6 0.6 1.6-0.6 1.6 0.8 1 0.4 1 0.8 1 0.7 1-0.9 1-1.1 1-1.1 1-0.1 1-0.2 1-0.2 1.6-0.1 1.6 0.2 1.6 0.2 1.6-0.7 1.6 0.2 1.6 0.3 1.6-0.7 1.6 0.5 1.6 0.1 1.6-0.5 1.6-0.7 1.6 0.7 1.6"/>
<path d="M358.8 144.2l0.2 1.6 0.8 1.6 0.4 1.6-0.5 1.6 0.9 1.6 0.4 1.6-0.4 1.6 0.5 1.6 0.4 1.6 0.9 1.6-0.2 1.6 0.4 1.6-0.5 1.6-0.6 1.6-0.7 1.6-1.1 1.6 0 1.6-0.1 1.6 0.3 1.6 0.1 1.6 0.2 1.6 0.7 1.6 0.3 1.6 0.5 1.6-0.6 1.6 0.7 1.6 0.5 1.6 0.2 1.6-0.5 1.6 1.2 1 0 1 1 1 0.4 1-0.6 1-1.4 1-1.1 1 0 1-1 1 0.5 1.6-0.3 1.6 0 1.6 0.1 1.6 0.2 1.6-0.2 1.6 0.1 1.6-0.4 1.6 0.4 1.6-0.5 1.6-0.2 1.6 0 1.6-0.5 1.6"/>
<path d="M360.4 144.2l-0.3 1.6 0.7 1.6-0.5 1.6 0.6 1.6 0.2 1.6-0.5 1.6 0.7 1.6 0.6 1.6 0.7 1.6 0.1 1.6 0.4 1.6 0.9 1.6-0.5 1.6-0.7 1.6 0 1.6-1.3 1.6 0.4 1.6-0.4 1.6-0.1 1.6-0.4 1.6 0.6 1.6-0.5 1.6 0.6 1.6 0.1 1.6-0.1 1.6 0.3 1.6 0.7 1.6 0 1.6 0.2 1.6 0.8 1-0.1 1 0.5 1 0.5 1-1.1 1 0 1-1.1 1-0.3 1-1 1 0.2 1.6-0.2 1.6 0.6 1.6-0.5 1.6 0.9 1.6-0.6 1.6 0.5 1.6 0.3 1.6-0.4 1.6 0.1 1.6-0.2 1.6-0.2 1.6 0.4 1.6"/>
<path d="M358.5 144.2l0.7 1.6 0.2 1.6-0.4 1.6-0.1 1.6 0.7 1.6 0 1.6 1.2 1.6-0.4 1.6 0.9 1.6 0.2 1.6 0.4 1.6 0.7 1.6-0.8 1.6-0.4 1.6-0.9 1.6-0.6 1.6-0.5 1.6-0.3 1.6 0.7 1.6-0.2 1.6 0.6 1.6 0 1.6 0.8 1.6-0.6 1.6 1.1 1.6 0.1 1.6 0.3 1.6 0.9 1.6-0.2 1.6 1.2 1 0.7 1 1 1 0.7 1-1.4 1-0.9 1-1.5 1-0.4 1-0.3 1-0.9 1.6 0.1 1.6 0.5 1.6-0.4 1.6 0.6 1.6-0.2 1.6 0 1.6 0.5 1.6-0.3 1.6 0 1.6-0.6 1.6-0.4 1.6-0.1 1.6"/>
<path d="M360 144.2l0 1.6 0.4 1.6 0.7 1.6 0.1 1.6 0.1 1.6 0.4 1.6 0.8 1.6-0.2 1.6 0.4 1.6 0.8 1.6 0.3 1.6-0.2 1.6-0.9 1.6-0.7 1.6-0.5 1.6-1.2 1.6-0.3 1.6 0.4 1.6 0 1.6 1.2 1.6 0 1.6 0.2 1.6 0.6 1.6-0.2 1.6 0.1 1.6 0.7 1.6-0.5 1.6 0.6 1.6 0.4 1.6 0.6 1 1 1 0.9 1 0.3 1-1 1-0.7 1-1.7 1 0 1-0.7 1-0.5 1.6-0.3 1.6 0.5 1.6 0.2 1.6 0.9 1.6-0.2 1.6-0.1 1.6-0.4 1.6-0.2 1.6-0.5 1.6 0 1.6 0.3 1.6 0.1 1.6"/>
<path d="M363.4 144.2l-0.3 1.6-0.2 1.6-0.6 1.6 0.6 1.6-0.5 1.6 0.9 1.6 0.3 1.6 0.1 1.6 1.1 1.6 0.6 1.6 0.3 1.6 0 1.6-0.6 1.6-0.5 1.6-0.6 1.6-0.2 1.6-0.3 1.6-0.3 1.6-0.5 1.6 0.3 1.6 0 1.6 0.6 1.6 0.1 1.6-0.3 1.6 0.2 1.6 1.6 1.6 0.1 1.6 0.8 1.6-0.6 1.6 0.6 1 0.4 1 0.8 1 0 1-0.7 1-1 1-0.9 1-0.3 1 0.3 1-0.6 1.6-0.5 1.6 0.2 1.6 0.9 1.6 0 1.6-0.3 1.6 0.2 1.6-0.4 1.6 0 1.6 0.5 1.6 0.1 1.6-0.4 1.6-0.1 1.6"/>
<path d="M361.7 144.2l0.2 1.6 0.8 1.6-0.4 1.6 0.6 1.6 0.9 1.6 0.3 1.6 0.3 1.6 0.3 1.6 0.8 1.6-0.2 1.6 0.5 1.6-0.6 1.6 0.4 1.6-0.9 1.6-1.1 1.6-0.2 1.6-0.9 1.6 0 1.6 0.7 1.6-0.4 1.6 1.4 1.6-0.1 1.6 0.4 1.6 0.7 1.6 0.4 1.6 0.5 1.6 0.1 1.6 0.3 1.6 0.2 1.6-0.1 1 0.9 1 1.1 1-0.2 1-0.7 1-1.1 1-0.8 1-0.9 1-0.2 1-0.2 1.6-0.4 1.6 0 1.6 0.7 1.6 0.5 1.6-0.6 1.6 0.7 1.6-0.7 1.6 0.3 1.6-0.4 1.6 0 1.6-1.1 1.6 0.6 1.6"/>
<path d="M363.9 144.2l-0.3 1.6-0.8 1.6 0.7 1.6 1 1.6-0.1 1.6 0.2 1.6-0.2 1.6-0.5 1.6-0.3 1.6-0.6 1.6 0.6 1.6 0 1.6 0.4 1.6 1.3 1.6 0.5 1.6-0.3 1.6 0.1 1.6 0.3 1.6-0.2 1.6 0.1 1.6 0.8 1.6 0.7 1.6 0.3 1.6 0.4 1.6-0.2 1.6-0.9 1.6-0.5 1.6 0.2 1.6-0.7 1.6 0.3 1 0.7 1 0.6 1 0 1 0.5 1-1.2 1-0.8 1 0 1 0.1 1-0.4 1.6-0.8 1.6-0.5 1.6 0.3 1.6 0.2 1.6-0.2 1.6 0.3 1.6-0.4 1.6 0.1 1.6-0.3 1.6 0.1 1.6-0.7 1.6 0.6 1.6"/>
<path d="M362.8 144.2l-0.4 1.6 0.1 1.6 1.3 1.6 0.3 1.6 1.1 1.6 0.3 1.6-0.3 1.6-0.8 1.6 0 1.6-0.4 1.6 1 1.6-0.4 1.6 0.9 1.6 0 1.6 0.9 1.6 0.3 1.6-0.8 1.6 0.2 1.6 0.5 1.6 0.1 1.6 0.6 1.6 0.3 1.6 1.1 1.6 0.1 1.6-0.1 1.6-1.3 1.6-0.1 1.6-0.2 1.6-0.6 1.6 0.8 1 0.2 1 1.1 1 0.4 1-1.1 1-0.1 1-1.1 1-0.1 1 0.1 1-0.5 1.6-0.7 1.6-0.2 1.6 0.4 1.6-0.4 1.6 0 1.6 0.8 1.6 0 1.6-0.3 1.6-0.3 1.6-0.6 1.6 0.1 1.6 0.6 1.6"/>
<path d="M364.7 144.2l-0.5 1.6-0.5 1.6 1.1 1.6 0 1.6 0.8 1.6-0.2 1.6-0.4 1.6-0.8 1.6 0 1.6-0.8 1.6 0.3 1.6 0.5 1.6 0.5 1.6 0.4 1.6 1.1 1.6-0.1 1.6-0.6 1.6 0.3 1.6 0.2 1.6 0.5 1.6 1.1 1.6 0.3 1.6 1.5 1.6 0.3 1.6-0.2 1.6-0.4 1.6-0.4 1.6 0.1 1.6-0.6 1.6 0.6 1 0.1 1 1.2 1 0.1 1-0.2 1-1 1-0.6 1-0.5 1-0.4 1-0.6 1.6-0.1 1.6-0.3 1.6-0.7 1.6 0.8 1.6-0.3 1.6 0.3 1.6-0.7 1.6 0.5 1.6-1.1 1.6-0.3 1.6 0.3 1.6 0.3 1.6"/>
<path d="M364.5 144.2l-1 1.6 1 1.6-0.1 1.6 0.9 1.6 1 1.6-0.4 1.6 0.3 1.6-0.1 1.6-0.7 1.6-0.1 1.6 0.1 1.6 0.1 1.6 1 1.6 0.7 1.6 0.3 1.6 0 1.6 0.4 1.6-0.3 1.6-0.2 1.6 0.6 1.6 0.9 1.6 0.4 1.6 1 1.6 0.4 1.6-0.7 1.6-0.2 1.6-1.1 1.6 0 1.6-0.3 1.6 0.4 1 1.4 1 1.4 1 0.4 1-1.2 1-1.1 1-0.5 1-0.4 1-1.1 1-0.5 1.6-0.8 1.6 0.3 1.6-0.6 1.6 0.5 1.6 0.3 1.6-0.1 1.6-0.2 1.6-0.4 1.6-0.2 1.6 0 1.6-0.8 1.6 0 1.6"/>
<path d="M366.1 144.2l0.5 1.6-0.6 1.6 1.1 1.6 0.1 1.6 0 1.6 0.4 1.6-0.3 1.6-0.2 1.6-0.7 1.6-0.4 1.6 0.7 1.6 0.7 1.6 0.9 1.6-0.3 1.6 0.6 1.6-0.1 1.6-0.4 1.6 0.3 1.6 0.6 1.6-0.1 1.6 1.3 1.6 1 1.6 0 1.6 0.1 1.6 0.3 1.6-1.4 1.6-0.5 1.6 0.3 1.6-0.2 1.6 0.8 1 0 1 1.3 1-0.2 1-0.2 1-0.4 1-0.7 1-1 1-0.4 1-0.4 1.6-0.8 1.6-0.5 1.6 0.5 1.6-0.3 1.6 0.3 1.6 0.6 1.6-0.4 1.6-0.8 1.6 0.1 1.6-0.5 1.6-0.1 1.6 0.8 1.6"/>
<path d="M366.7 144.2l-0.7 1.6 0.8 1.6-0.6 1.6 1.4 1.6 0.3 1.6 0.5 1.6-0.2 1.6 0.6 1.6-0.9 1.6 0.5 1.6-0.7 1.6 0 1.6 1 1.6-0.1 1.6 0.2 1.6 0.5 1.6 0 1.6-0.3 1.6-0.1 1.6 0.2 1.6 0.9 1.6 0.4 1.6 0.6 1.6 0.6 1.6-0.4 1.6-0.4 1.6-0.9 1.6-0.1 1.6-0.2 1.6 0.4 1 0.8 1 0.4 1-0.2 1-0.4 1-0.4 1-0.4 1-0.2 1-0.4 1-0.6 1.6-0.7 1.6 0.3 1.6 0.2 1.6-0.4 1.6 0.6 1.6-0.6 1.6 0 1.6 0.8 1.6-0.8 1.6-0.4 1.6 0.2 1.6 0 1.6"/>
<path d="M366.6 144.2l0 1.6 0.4 1.6 0.6 1.6 0.9 1.6 1 1.6-0.3 1.6-0.1 1.6 0.4 1.6-1.3 1.6 0.4 1.6 0.1 1.6 0.2 1.6 1 1.6 1 1.6-0.1 1.6 0.1 1.6 0 1.6-0.5 1.6 1 1.6 0.1 1.6 0.3 1.6 1.1 1.6 0.4 1.6-0.5 1.6-0.3 1.6-1 1.6 0.2 1.6-1.4 1.6 0.1 1.6 1 1 1 1-0.2 1 0.6 1-0.3 1-0.4 1-1.1 1 0.2 1-0.5 1-0.4 1.6-0.7 1.6 0 1.6-0.2 1.6 0 1.6 0.4 1.6 0.2 1.6 0.5 1.6-1 1.6-0.2 1.6 0.2 1.6 0 1.6-0.3 1.6"/>
<path d="M369.4 144.2l-1 1.6-0.2 1.6 1 1.6 0.2 1.6 0.9 1.6 0 1.6 0.5 1.6-1 1.6 0.4 1.6-1 1.6-0.1 1.6 0.4 1.6 0.6 1.6 0.2 1.6 0.9 1.6-0.5 1.6 0 1.6 0.5 1.6-0.9 1.6 0.9 1.6 0.7 1.6 0.1 1.6 1.7 1.6 0 1.6-0.2 1.6 0.7 1.6-1.2 1.6-0.4 1.6 0.4 1.6-0.3 1 1.3 1 0.5 1 0.6 1-0.5 1-0.6 1-1.2 1-0.4 1-1 1-0.1 1.6-0.8 1.6-0.2 1.6 0.2 1.6 0.3 1.6-0.1 1.6 0.6 1.6-0.4 1.6-0.2 1.6-0.8 1.6 0.5 1.6-0.3 1.6-0.4 1.6"/>
<path d="M371.7 144.2l0.1 1.6-0.4 1.6-0.2 1.6 0.2 1.6-0.5 1.6-0.4 1.6 0 1.6-0.9 1.6 0.1 1.6 0 1.6 0.3 1.6 0 1.6 0.3 1.6 0.7 1.6-0.6 1.6-0.1 1.6-0.5 1.6-0.1 1.6 0 1.6 0.9 1.6 0.5 1.6 0.5 1.6 0.5 1.6 0.5 1.6 0.3 1.6 0.2 1.6 0.4 1.6 0.5 1.6 0.3 1.6 0.8 1 1.5 1 1.1 1 0.1 1-0.5 1-1.3 1-0.7 1-0.6 1-0.7 1-0.9 1.6-0.7 1.6-0.3 1.6-0.1 1.6-0.2 1.6-0.1 1.6-0.2 1.6 0.8 1.6-0.4 1.6-1 1.6-0.1 1.6-0.1 1.6 0 1.6"/>
<path d="M372.8 144.2l-0.3 1.6 0.1 1.6-0.4 1.6-0.1 1.6-0.2 1.6-0.6 1.6-0.1 1.6-1 1.6-0.2 1.6 0.4 1.6-0.8 1.6 0.7 1.6 0 1.6-0.1 1.6 0 1.6-0.4 1.6-0.5 1.6-0.3 1.6 0 1.6 0.8 1.6 0.9 1.6 0.3 1.6 0.9 1.6 0.6 1.6 0.6 1.6 0.6 1.6-0.4 1.6 1.2 1.6-0.7 1.6 1.3 1 0.6 1 0.1 1 0.5 1-0.4 1-0.7 1-0.7 1-0.2 1 0.3 1-0.8 1.6-0.7 1.6-0.3 1.6 0.6 1.6 0.3 1.6-0.6 1.6 0.2 1.6 0 1.6-0.6 1.6-0.6 1.6 0.5 1.6-0.5 1.6 0.1 1.6"/>
<path d="M371.6 144.2l-0.6 1.6-0.6 1.6-0.2 1.6 0.7 1.6-0.3 1.6-0.1 1.6 0.3 1.6 0 1.6-0.6 1.6-0.1 1.6 0.1 1.6 0.2 1.6-0.2 1.6 0.5 1.6-0.6 1.6-0.3 1.6-0.4 1.6-0.1 1.6-0.3 1.6 0 1.6 0.7 1.6 0.4 1.6 0.8 1.6 0.7 1.6 0.7 1.6 0.3 1.6 0.3 1.6 0.8 1.6 0.5 1.6-0.1 1 1 1 0.7 1 0.5 1-0.4 1-0.2 1-0.9 1-1 1-0.5 1-0.8 1.6-0.2 1.6 0 1.6-0.1 1.6-0.1 1.6 0.1 1.6-0.1 1.6 0.6 1.6 0.2 1.6-0.4 1.6-0.6 1.6-0.5 1.6 0.4 1.6"/>
<path d="M375.1 144.2l0.2 1.6-0.2 1.6 0 1.6-0.9 1.6 0.8 1.6-0.6 1.6-0.6 1.6-0.3 1.6-0.7 1.6-0.1 1.6 0.4 1.6-0.1 1.6 0 1.6 0.5 1.6-0.3 1.6-0.6 1.6 0.1 1.6-0.6 1.6-0.3 1.6 0.5 1.6-0.3 1.6 0.3 1.6 0.7 1.6 0.6 1.6 0.5 1.6 0.6 1.6 0.8 1.6-0.1 1.6-0.1 1.6 0.8 1 0.6 1 1 1 0.7 1-0.5 1-1 1-0.6 1-0.2 1 0.3 1-0.6 1.6-0.5 1.6-0.2 1.6-0.8 1.6 0.5 1.6 0.2 1.6 0 1.6-0.7 1.6 0 1.6 0.1 1.6-0.4 1.6 0.3 1.6-1.2 1.6"/>
<path d="M374.2 144.2l-0.6 1.6-0.6 1.6 0.8 1.6-0.3 1.6 0.3 1.6 0.2 1.6-0.3 1.6-0.4 1.6 0 1.6-0.5 1.6 0.5 1.6-0.1 1.6 0.6 1.6-0.1 1.6-0.6 1.6 0.4 1.6-1.4 1.6-0.2 1.6-0.9 1.6 0.8 1.6-0.3 1.6 1.2 1.6 0.7 1.6 0 1.6 0.6 1.6 0.1 1.6 0.5 1.6 0.6 1.6-0.1 1.6 0.8 1 0.7 1 1.2 1 0.7 1-0.6 1-0.5 1-1.6 1-0.4 1-0.3 1-0.2 1.6-0.6 1.6-0.6 1.6 0.6 1.6-0.3 1.6-0.1 1.6 0.3 1.6 0.1 1.6-0.1 1.6-0.5 1.6-0.1 1.6-0.6 1.6-0.1 1.6"/>
<path d="M375.4 144.2l-0.2 1.6-0.8 1.6 0 1.6 0.1 1.6 0.4 1.6 0.3 1.6-0.3 1.6-0.6 1.6 0 1.6-0.5 1.6-0.5 1.6 0.1 1.6 0.5 1.6-0.2 1.6-0.5 1.6 0.2 1.6-0.9 1.6-0.1 1.6-0.7 1.6 0.8 1.6 0.4 1.6 0.2 1.6 1.5 1.6 0 1.6 0.5 1.6 0.7 1.6 0.5 1.6 0.1 1.6 0.6 1.6 0.3 1 0.8 1 1.3 1 0.7 1-0.8 1-0.6 1-1.1 1-0.2 1-1 1-0.4 1.6 0 1.6-0.1 1.6 0 1.6-0.2 1.6-0.2 1.6 0.6 1.6-0.6 1.6-0.1 1.6-0.2 1.6-0.1 1.6-0.8 1.6-0.1 1.6"/>
<path d="M376.3 144.2l-0.5 1.6 0.2 1.6 0.1 1.6-0.8 1.6 0.4 1.6-0.5 1.6-0.3 1.6-1.2 1.6 0.1 1.6-0.4 1.6 0.9 1.6-0.1 1.6 0.5 1.6-0.4 1.6-0.1 1.6-0.7 1.6 0.2 1.6 0.3 1.6-0.6 1.6 0.8 1.6 1.3 1.6-0.1 1.6 1.4 1.6-0.4 1.6 0.7 1.6 0.4 1.6 0.6 1.6 0.4 1.6-0.7 1.6 1.5 1 0 1 1.1 1 0.5 1-0.6 1-0.7 1-1 1-0.3 1-0.5 1-0.7 1.6-0.8 1.6 0.4 1.6-0.8 1.6 0.2 1.6 0.3 1.6-0.1 1.6-0.4 1.6 0.2 1.6-0.2 1.6-1 1.6 0.1 1.6 0.4 1.6"/>
<path d="M375.2 144.2l0 1.6 0.1 1.6-0.8 1.6 0.4 1.6-0.1 1.6-0.3 1.6 0.2 1.6-0.6 1.6-0.6 1.6 0 1.6 0.2 1.6-0.3 1.6 0.6 1.6 0.3 1.6 0.3 1.6-0.3 1.6-0.1 1.6 0.1 1.6-0.1 1.6 0.1 1.6 0.1 1.6 0.6 1.6 1.1 1.6 0.7 1.6 0.2 1.6 0.6 1.6 0.6 1.6 0.7 1.6-0.4 1.6 0.5 1 1.9 1 1.1 1 0 1-0.2 1-1.1 1-1.1 1-1 1-0.1 1-1.3 1.6-0.6 1.6 0.2 1.6-0.3 1.6-0.3 1.6 0 1.6 0.5 1.6-0.5 1.6-0.2 1.6 0.1 1.6 0.2 1.6-0.4 1.6 0.1 1.6"/>
<path d="M379.6 144.2l0.3 1.6 0.7 1.6 0.3 1.6-0.2 1.6-1.1 1.6-0.3 1.6-0.6 1.6-0.3 1.6 0.3 1.6 0 1.6-0.5 1.6-0.5 1.6-0.2 1.6-0.3 1.6-0.9 1.6-0.2 1.6 0.7 1.6 0.5 1.6 0.5 1.6 0.3 1.6 0.7 1.6-0.9 1.6-0.4 1.6-0.8 1.6-1 1.6-0.3 1.6 0.4 1.6 0.9 1.6 0.9 1.6 0.3 1 1.1 1 1.1 1 0 1-1 1-1.1 1-0.4 1 0.1 1-1.1 1 0.2 1.6 0.1 1.6 0 1.6 0.4 1.6 0 1.6-0.3 1.6-0.3 1.6-0.8 1.6-0.1 1.6 0.1 1.6 0.2 1.6-0.4 1.6 0.8 1.6"/>
<path d="M380.2 144.2l0.7 1.6 0.2 1.6-0.5 1.6-0.7 1.6-1.3 1.6-0.8 1.6 0.3 1.6-0.5 1.6 0.8 1.6-0.4 1.6-0.3 1.6 0.1 1.6-1.2 1.6 0.4 1.6-0.5 1.6 0.9 1.6-0.1 1.6 0.7 1.6 0.4 1.6 0.6 1.6-0.2 1.6-1.6 1.6-0.1 1.6-0.7 1.6-0.6 1.6 0.1 1.6 1.2 1.6 0.4 1.6 1.1 1.6 0.6 1 0.9 1 0.5 1 0.2 1-0.5 1-0.7 1-0.1 1-1.2 1 0.3 1-0.7 1.6 0.2 1.6 0.2 1.6-0.1 1.6-0.1 1.6-0.9 1.6-0.2 1.6 0 1.6-0.4 1.6 0.8 1.6 0.4 1.6-0.2 1.6 0.8 1.6"/>
<path d="M381.4 144.2l0.8 1.6 0.8 1.6 0.5 1.6-0.1 1.6-0.8 1.6 0.1 1.6-0.9 1.6-0.3 1.6-1.1 1.6 0.3 1.6 0.4 1.6-0.2 1.6-0.5 1.6-0.7 1.6-0.5 1.6-0.2 1.6-0.1 1.6 0.6 1.6 0.9 1.6 0.7 1.6-0.2 1.6 0.3 1.6-0.9 1.6-1.2 1.6-0.6 1.6-0.8 1.6 0.3 1.6 0.6 1.6 1.9 1.6 0.1 1 0.3 1 0.6 1 0.5 1 0 1-0.7 1-0.8 1-0.5 1-0.9 1 0.5 1.6-0.5 1.6 0.3 1.6-0.1 1.6 0.1 1.6-0.1 1.6-0.3 1.6-0.8 1.6-0.2 1.6-0.1 1.6-0.5 1.6 1.2 1.6-0.5 1.6"/>
<path d="M381.2 144.2l0.7 1.6-0.1 1.6-0.1 1.6-0.6 1.6-0.8 1.6-0.4 1.6 0 1.6-0.7 1.6-0.2 1.6-0.3 1.6 0.5 1.6-0.5 1.6-0.6 1.6-0.2 1.6-0.1 1.6-0.1 1.6 1.2 1.6 0.8 1.6 0.3 1.6 0.4 1.6-0.1 1.6 0 1.6-1.2 1.6-0.3 1.6-0.7 1.6-0.1 1.6 0.6 1.6 0.3 1.6 1.9 1.6 0.5 1 0.9 1 1.5 1 0 1-1.5 1-0.5 1-1.2 1-0.1 1-0.6 1 0.2 1.6-0.2 1.6-0.5 1.6 0.1 1.6-0.5 1.6-0.4 1.6-0.3 1.6-0.3 1.6 0.2 1.6-0.7 1.6 0.7 1.6-0.2 1.6 0.3 1.6"/>
<path d="M382.5 144.2l0.4 1.6 0.2 1.6-0.3 1.6-0.9 1.6-0.9 1.6-0.3 1.6-0.3 1.6-0.2 1.6 0.1 1.6 0.1 1.6 0.1 1.6-1 1.6 0 1.6 0.1 1.6-0.7 1.6 0.5 1 0.5 1 0.3 1-0.1 1 0.7 1 0.3 1-0.2 1-0.4 1 0.1 1-0.1 1-0.1 1-0.9 1-0.6 1 0 1-0.9 1 0.3 1-0.1 1 0.4 1.6 0 1.6 1.1 1.6 1.5 1 0 1 0.8 1 0.6 1 0.7 1-1.3 1-1.2 1-0.2 1-1 1-0.4 1 0.2 1.6 0.3 1.6-0.7 1.6-0.5 1.6 0.6 1.6-1.1 1.6-0.2 1.6-0.3 1.6 0.4 1.6-0.3 1.6 0.9 1.6 0.2 1.6"/>
<path d="M382.7 144.2l0.8 1.6 0.4 1.6-0.6 1.6 0 1.6-0.8 1.6-0.8 1.6-0.1 1.6 0.2 1.6-0.1 1.6 0.1 1.6 0.2 1.6-0.9 1.6-0.1 1.6-0.5 1.6 0 1.6 0.1 1.6 0.4 1 0.5 1 0.1 1-0.2 1 0.9 1 0.1 1-0.4 1 0 1-0.2 1 0.1 1-0.5 1-0.6 1-0.7 1-0.2 1 0.5 1 0.4 1-0.1 1 0.4 1.6 0.9 1.6 0.3 1 0.8 1-0.4 1 0.4 1-0.4 1-0.2 1-0.4 1-0.9 1 0.7 1-0.9 1 0.1 1.6 0.5 1.6-0.3 1.6 0 1.6-0.4 1.6-0.2 1.6-0.5 1.6 0.3 1.6-0.4 1.6 0.2 1.6 0.2 1.6 0.3 1.6"/>
<path d="M383.1 144.2l0.2 1.6 1.2 1.6 0.2 1.6-0.4 1.6-0.6 1.6-0.3 1.6-0.8 1.6-0.8 1.6 0.4 1.6-0.5 1.6 0.9 1.6-0.2 1.6-0.9 1.6-0.5 1.6-0.4 1.6 0.3 1-0.3 1 0 1 0.7 1 0.3 1 1.5 1-0.1 1 0.9 1 0.4 1-0.8 1 0.1 1-0.3 1-0.9 1 0.3 1-0.5 1-0.9 1-0.6 1 0.5 1-0.4 1.6 1.4 1.6 0.7 1.6 0.6 1 0.3 1 1.3 1-1 1 0 1-0.8 1-1.2 1-0.2 1-0.5 1 0.5 1.6 0.5 1.6-0.7 1.6 0.5 1.6 0 1.6-0.6 1.6-1.2 1.6-0.2 1.6 0.3 1.6 0.1 1.6-0.5 1.6 0.6 1.6"/>
<path d="M386.4 144.2l0.1 1.6 0.4 1.6 0.2 1.6-1.1 1.6-1.2 1.6-0.9 1.6-0.4 1.6-0.3 1.6 0.5 1.6 0.1 1.6 0 1.6-1.2 1.6 0 1.6-0.5 1.6 0.5 1.6 0.1 1 0.1 1 0.6 1 0.1 1 0.2 1 0.8 1 0.4 1-0.2 1-0.2 1-0.1 1-0.5 1-0.7 1-0.7 1-0.8 1 0 1 0 1-0.3 1 0 1 0.8 1.6 1.1 1.6 1 1.6 0.1 1 0.7 1 0.3 1 0.1 1-0.6 1-0.3 1-0.6 1-0.4 1 0.4 1-0.5 1.6-0.1 1.6 0.2 1.6-0.7 1.6 0.1 1.6-0.8 1.6-0.2 1.6-0.3 1.6 0.2 1.6 0.3 1.6 0.7 1.6-0.1 1.6"/>
<path d="M386 144.2l-0.3 1.6-1 1.6 0 1.6-0.9 1.6 0 1.6 0.7 1.6-0.1 1.6 0.6 1.6-0.1 1.6 0.6 1.6-0.3 1.6-0.2 1.6-0.1 1.6 0.1 1.6 1 1.6 0.6 1 0.1 1 0.5 1 0.1 1-0.1 1-0.2 1-0.3 1-0.4 1-0.5 1-0.9 1-0.3 1-0.7 1-0.4 1 0.4 1 0.4 1-0.2 1 0.6 1 0.1 1.6 0.6 1.6 0.1 1.6 0.9 1 0.2 1 1.4 1 0.2 1-0.4 1 0.1 1-1.5 1-0.4 1-0.4 1-0.4 1-0.3 1.6-0.1 1.6-0.9 1.6-0.6 1.6 0 1.6-0.3 1.6-0.2 1.6 0.8 1.6-0.3 1.6 0.8 1.6 0.1 1.6-0.1 1.6"/>
<path d="M384.3 144.2l-0.1 1.6-0.4 1.6-0.3 1.6-0.4 1.6-0.2 1.6 0.3 1.6 0.2 1.6 0.1 1.6 0.5 1.6 0.6 1.6-0.3 1.6 0 1.6 0.2 1.6-0.3 1.6 0.8 1.6 0.4 1.6 0.4 1 0.5 1-0.1 1-0.6 1 0.3 1-0.5 1-0.4 1-0.2 1-0.8 1 0.5 1-0.5 1 0.1 1-0.2 1-0.6 1 0.9 1-0.6 1 0.4 1 0.6 1.6-0.2 1.6 0.3 1-0.3 1 0.8 1 0.7 1-0.9 1 0.2 1-0.8 1-0.8 1 0.6 1-0.4 1-0.6 1.6 0.1 1.6-0.5 1.6-0.5 1.6 0.2 1.6-0.2 1.6 0.1 1.6 0.6 1.6 0.3 1.6 0.1 1.6 0.2 1.6-0.1 1.6"/>
<path d="M386.3 144.2l-0.1 1.6-0.6 1.6-0.7 1.6-0.4 1.6 0.7 1.6 0 1.6 0 1.6 0.4 1.6 1 1.6-0.1 1.6-0.2 1.6-0.4 1.6-0.3 1.6 0.3 1.6 1.1 1.6 0.5 1.6 0 1 0.9 1 0.3 1-0.1 1-0.2 1-0.3 1-0.5 1-1.2 1-0.7 1 0 1-0.6 1 0 1 0 1-0.7 1 0 1 0.8 1 0.1 1-0.2 1 0.1 1.6 0.7 1.6 1.1 1-0.3 1 0.5 1-0.2 1-0.5 1 0 1-0.4 1-0.5 1-0.6 1-0.3 1.6-0.2 1.6 0.2 1.6-1 1.6-0.4 1.6 0.1 1.6 0.1 1.6 0.4 1.6 0.1 1.6 0.6 1.6-0.3 1.6 0.9 1.6"/>
<path d="M386.3 144.2l-0.6 1.6-0.5 1.6-0.7 1.6 0 1.6 0.2 1.6 0.7 1.6 0.2 1.6 0.8 1.6-0.3 1.6 0.5 1.6 0.1 1.6-0.8 1.6 0.4 1.6 1.1 1.6 0.3 1.6-0.1 1 0.3 1 0.1 1-0.7 1 0.2 1-0.6 1 0.3 1-1 1-0.3 1-0.7 1-0.1 1-0.4 1 0.2 1 0.4 1 0.3 1-0.2 1 0.6 1-0.2 1-0.5 1.6 0.5 1.6 0.8 1.6 1 1 0.4 1 1 1-0.2 1-0.2 1-1.2 1-0.9 1-0.5 1-0.1 1-1.2 1.6-0.3 1.6 0.4 1.6-0.9 1.6 0 1.6-0.2 1.6 1.1 1.6 0.1 1.6 0.1 1.6 0.1 1.6 0.2 1.6 0 1.6"/>
<path d="M387.2 144.2l0.4 1.6-1 1.6 0.4 1.6 0.3 1.6-0.3 1.6 0.2 1.6 0.6 1.6-0.3 1.6-0.1 1.6-0.1 1.6 0.7 1.6-0.5 1.6 0.7 1.6 0 1.6 0.7 1.6 0.7 1.6-0.1 1-0.1 1 0.4 1-0.9 1 0.4 1-0.8 1 0.5 1-0.5 1-0.1 1-0.9 1 0.4 1-0.5 1-0.1 1 0.3 1 0.2 1-0.6 1 0.4 1-0.6 1.6 0.1 1.6 0.4 1 0.1 1 1.5 1 0.1 1-0.2 1-0.5 1-0.8 1 0.3 1-0.4 1-0.7 1-0.2 1.6-0.2 1.6-0.6 1.6-0.1 1.6 0 1.6 0.3 1.6-0.1 1.6-0.1 1.6 0.3 1.6 0.2 1.6-0.5 1.6 0.5 1.6"/>
<path d="M389.1 144.2l-0.5 1.6-0.4 1.6-0.1 1.6-0.5 1.6 0.3 1.6 0.2 1.6 0.3 1.6 0.4 1.6 0.6 1.6-0.2 1.6-0.3 1.6 0.6 1.6-0.2 1.6-0.3 1.6 1.2 1.6 0.4 1 0.2 1 0.3 1-0.4 1 0.4 1-0.4 1-0.5 1 0.3 1-1.1 1-0.4 1-0.8 1-0.2 1 0.2 1-0.2 1-0.2 1-0.5 1-0.1 1 1.1 1-0.6 1.6 0.3 1.6 0.6 1.6 0.2 1 0.5 1 0.1 1-0.2 1-0.4 1-0.5 1 0.1 1-0.2 1-0.8 1 0.4 1.6-0.2 1.6-0.4 1.6 0.2 1.6-0.2 1.6 0 1.6-0.1 1.6 0 1.6 0.4 1.6 0.2 1.6 0.1 1.6 0.7 1.6"/>
<path d="M387.6 144.2l0.2 1.6-0.5 1.6-0.5 1.6 0.4 1.6-0.2 1.6 0.9 1.6-0.2 1.6 0.1 1.6 0.5 1.6-0.8 1.6-0.1 1.6 0.6 1.6-0.2 1.6 1.2 1.6 0.4 1.6 1.3 1.6 0 1 0.3 1-0.1 1-0.3 1-0.3 1 0 1-0.6 1-0.2 1-0.4 1-0.2 1-0.1 1 0.7 1-0.6 1 0.8 1 0 1-0.3 1-0.4 1-0.5 1.6 0.4 1.6 0.2 1 0.5 1 0.2 1 0.8 1 0.5 1-1.1 1-0.6 1-0.4 1-0.5 1-0.6 1-0.5 1.6 0 1.6-0.3 1.6-0.5 1.6-0.3 1.6-0.3 1.6 0 1.6 1 1.6 0.3 1.6 0.1 1.6-0.5 1.6 0.2 1.6"/>
<path d="M390 144.2l-0.3 1.6-0.5 1.6 0.2 1.6-0.5 1.6-0.2 1.6 0.7 1.6-0.2 1.6 1.2 1.6 0 1.6 0.7 1.6-0.3 1.6 0.2 1.6 0.8 1.6 0 1.6 0.7 1.6 0.2 1 0.6 1-0.5 1 0.2 1 0.7 1-0.1 1-0.2 1-0.8 1-0.8 1-0.4 1 0.2 1-1 1 0.1 1 0.3 1-0.6 1 0.3 1 0.2 1 0.1 1 0.4 1.6-0.3 1.6 0.5 1.6 1 1 0.7 1-0.3 1 0.6 1-1 1-0.5 1-1 1-0.6 1 0.1 1-0.3 1.6-0.7 1.6-0.2 1.6 0.3 1.6-1 1.6 0.6 1.6-0.5 1.6 0.5 1.6 0.8 1.6 0.5 1.6-0.8 1.6 0.4 1.6"/>
<path d="M388.6 144.2l-0.7 1.6-0.9 1.6-0.4 1.6 0.1 1.6 0.2 1.6 0.9 1.6 0.1 1.6 0.5 1.6 1.1 1.6-0.1 1.6 0.3 1.6-0.3 1.6-0.4 1.6-0.5 1.6 0.3 1.6 0 1 0.2 1 0.6 1-0.3 1 0.8 1-0.3 1-0.1 1 0.3 1 0.7 1 0.1 1 0.2 1-0.4 1 0.6 1 0.2 1 0.4 1-0.2 1 0.2 1 0.6 1-0.3 1.6-0.1 1.6 0.1 1.6 0.4 1-0.4 1 1.1 1-1 1-0.3 1-1.1 1-0.4 1-0.2 1-0.7 1 0.7 1.6-0.9 1.6 0 1.6 0.3 1.6 0.1 1.6 0.6 1.6-0.6 1.6 0.2 1.6 0.1 1.6 0.7 1.6-0.7 1.6 0 1.6"/>
<path d="M388.9 144.2l-0.1 1.6-0.5 1.6-0.5 1.6-0.7 1.6 0.6 1.6 0.3 1.6-0.1 1.6 1.5 1.6 0.2 1.6 0.2 1.6-0.3 1.6-0.1 1.6 0.4 1.6 0 1.6 0.6 1.6 0.2 1 0.2 1-0.3 1 0.8 1 0.2 1-0.3 1 0.4 1 0.6 1-0.2 1 0.4 1 0.1 1-0.2 1 0.2 1-0.4 1 0.7 1 0.5 1-0.4 1 0.9 1-0.4 1.6-0.6 1.6 0.3 1.6 0.3 1 0.6 1 0.2 1 0.3 1-1.2 1-0.4 1-0.9 1-0.7 1 0.3 1 0 1.6-0.6 1.6 0.4 1.6-0.1 1.6 0 1.6 0.5 1.6-0.3 1.6 0 1.6 0.3 1.6 0.5 1.6-0.1 1.6-0.3 1.6"/>
<path d="M389.4 144.2l-0.4 1.6-0.3 1.6-0.2 1.6-1 1.6 0.7 1.6 0.1 1.6 0.7 1.6 0.5 1.6 0 1.6 0.7 1.6-0.7 1.6 0 1.6 0.2 1.6 0 1.6 1 1.6 0.4 1.6 0 1 0 1 1 1-0.3 1 0.2 1 0.8 1 0 1-0.2 1 0.4 1 0.4 1-0.4 1 0.4 1 0.4 1-0.1 1 0.7 1 0.5 1-0.4 1 0.7 1-1.5 1.6 0.5 1.6 0.7 1 1.4 1 0.6 1-0.7 1-1.1 1-0.8 1-1.3 1-0.5 1 0.2 1-0.5 1.6-0.2 1.6-0.8 1.6 0.3 1.6-0.2 1.6 0.2 1.6 0.5 1.6-0.6 1.6-0.2 1.6 0.1 1.6 0.6 1.6 0 1.6"/>
<path d="M390.5 144.2l0.4 1.6-0.4 1.6-0.4 1.6 0.3 1.6 0.2 1.6 0.2 1.6 0.6 1.6 0.6 1.6 0.9 1.6-0.5 1.6 0.3 1.6-0.2 1.6-0.2 1.6-0.2 1.6 0 1.6 0.3 1.6 0.4 1 0 1 1.1 1-0.2 1 0.6 1 0.5 1-0.3 1 0.8 1 0.2 1 0.4 1-0.8 1 1 1-0.3 1-0.2 1 0.3 1 0.5 1-0.6 1 0.6 1-0.6 1.6 0.4 1.6-0.2 1 1.2 1 0.4 1-1 1-0.2 1-1.2 1-1.1 1-0.5 1-0.2 1 0.5 1.6-0.8 1.6-0.2 1.6 0.4 1.6-0.3 1.6 0 1.6 0 1.6 0 1.6 1 1.6 0.1 1.6-1 1.6 0.6 1.6"/>
<path d="M391.6 144.2l-0.5 1.6 0 1.6-0.4 1.6-0.7 1.6-0.4 1.6 0.7 1.6 0.8 1.6 0.1 1.6-0.6 1.6 0.1 1.6-0.2 1.6 0.1 1.6-0.6 1.6 0.5 1.6-0.1 1.6 0.1 1 0.7 1 0 1 0.6 1 0.8 1-0.3 1 0.3 1-0.2 1 0.3 1 0 1 0 1 0.2 1 0.5 1-0.4 1 0.9 1-0.4 1 1 1-0.6 1 0.3 1.6-0.5 1.6 0.5 1.6 0.5 1 0.6 1 0.5 1 0.1 1-0.7 1-1.2 1-0.3 1-0.5 1-0.6 1-0.2 1.6 0.3 1.6 0.1 1.6-0.7 1.6 0.2 1.6 0.3 1.6-0.7 1.6 0.2 1.6 0.6 1.6-0.5 1.6 0.6 1.6-0.6 1.6"/>
<path d="M392.9 144.2l-0.1 1.6-1.1 1.6 0.2 1.6-0.6 1.6 0.5 1.6 0 1.6 0.5 1.6 0.4 1.6 0.6 1.6 0.8 1.6-0.1 1.6-0.4 1.6 0.1 1.6 0.7 1.6 0.2 1.6-0.6 1 1.1 1-0.4 1 0.6 1 0.9 1 0 1 0.7 1 0.2 1-0.5 1 0.9 1 0 1-0.5 1 0 1 0.4 1-0.6 1 0.2 1 0.7 1-0.4 1 0.4 1.6-0.7 1.6 0.1 1.6 0.6 1 0.1 1 0.3 1 0.3 1-1 1-0.6 1-0.7 1-0.2 1-0.3 1-0.9 1.6-0.1 1.6 0.1 1.6 0.2 1.6-0.6 1.6 0.6 1.6-0.5 1.6 0.3 1.6 0.6 1.6-0.2 1.6 0.5 1.6-0.7 1.6"/>
<path d="M392.3 144.2l0.1 1.6-1 1.6 0.8 1.6-0.2 1.6 0.8 1.6-0.3 1.6 1 1.6 0.7 1.6-0.1 1.6 0.3 1.6-0.3 1.6-0.8 1.6 0.1 1.6 0 1.6 0.1 1.6 0.5 1 0.4 1 0.8 1 0.4 1 0.8 1 0.1 1 0.3 1 0.5 1 1 1 0 1 0 1 0.4 1 0.1 1-0.3 1 0 1-0.3 1 0.1 1 0.2 1-0.5 1.6-0.5 1.6 0.4 1.6 1 1 0.3 1 0.6 1-0.3 1-0.8 1-1.2 1-0.4 1-0.7 1 0 1-0.3 1.6-0.6 1.6 0.1 1.6-0.2 1.6 0.5 1.6 0.2 1.6-0.7 1.6 0.1 1.6-0.1 1.6 0.5 1.6-0.2 1.6 0 1.6"/>
<path d="M394.9 144.2l-1 1.6-0.7 1.6 0 1.6 0.1 1.6-0.5 1.6 1.3 1.6 0.1 1.6 0.3 1.6 0.2 1.6 0.1 1.6 0 1.6 0.1 1.6-0.5 1.6 0.5 1.6 0.1 1.6 1.1 1.6-0.2 1 0.8 1 0.4 1 0.7 1 0.5 1-0.5 1 0.9 1-0.4 1 0.5 1 0.3 1 0.6 1-0.1 1 0.4 1 0 1 0.5 1-0.2 1 0.4 1 0.2 1.6-1.3 1.6 0.1 1-0.1 1 0.7 1 0.6 1-0.7 1-0.4 1-1.4 1-0.8 1 0.1 1-0.7 1-0.2 1.6-0.1 1.6 0.3 1.6-0.4 1.6 0.4 1.6-0.3 1.6 0.1 1.6 0.4 1.6-0.3 1.6-0.2 1.6 0.2 1.6-0.7 1.6"/>
<path d="M394.9 144.2l0.3 1.6 0.6 1.6 0.1 1.6-0.3 1.6-0.1 1.6 0.3 1.6-0.2 1.6 0.6 1.6-0.2 1.6 0.2 1.6 0.1 1.6 0.1 1.6-1.2 1.6-0.3 1.6-1 1.6 0.3 1.6 0.7 1 0.1 1 1.1 1 0.5 1 0.2 1 0.8 1 0.8 1-0.6 1-0.1 1 0.5 1-0.6 1-0.6 1-0.6 1 0.7 1-0.7 1-0.3 1 0.2 1 1 1.6-0.1 1.6 0 1 0.8 1 0.2 1 0 1-0.4 1-0.2 1-1.2 1 0.2 1-0.9 1-0.1 1 0.3 1.6 0.4 1.6 0.6 1.6-0.2 1.6-0.4 1.6 0.5 1.6-0.5 1.6 0 1.6-0.6 1.6-0.1 1.6 0.1 1.6 0.5 1.6"/>
<path d="M396.5 144.2l0.5 1.6 0.7 1.6 0.2 1.6-0.2 1.6-0.9 1.6-0.4 1.6 0.6 1.6 0 1.6 0.5 1.6-0.2 1.6 0.1 1.6 0.1 1.6-0.5 1.6-0.6 1.6 0.1 1.6 0 1 0.1 1 0.6 1 0.8 1 0 1 1.6 1 0.3 1 0.6 1 0 1-0.3 1 0.3 1-1.1 1 0.1 1-0.8 1-0.3 1-0.1 1 0.1 1-0.4 1 0.4 1.6 0.7 1.6 0.8 1.6 0.7 1 1.2 1 0.8 1-0.7 1-0.5 1-1.3 1-1.2 1-0.3 1 0.2 1-0.2 1.6 0.4 1.6 0 1.6 0.1 1.6-0.4 1.6 0 1.6-0.9 1.6 0 1.6 0.3 1.6 0.1 1.6 0.2 1.6-0.2 1.6"/>
<path d="M396.6 144.2l0.1 1.6 0.1 1.6-0.2 1.6 0 1.6 0.5 1.6-0.1 1.6-0.1 1.6 0.3 1.6 0.3 1.6 1.1 1.6-0.3 1.6 0.1 1.6-1 1.6-0.6 1.6-0.8 1.6 0.8 1-0.4 1 1.2 1 0.4 1 0.2 1 1.7 1 0.3 1 0.6 1 0.5 1-0.4 1-0.4 1 0 1-0.4 1-0.7 1-0.5 1 0.4 1-0.6 1 0.6 1 0.1 1.6 0.4 1.6 0.2 1.6 0.6 1 0.8 1 1.3 1-1 1-0.5 1-1.2 1-1 1 0 1-0.2 1-0.8 1.6 0.3 1.6 0.1 1.6 0.7 1.6-0.6 1.6-0.2 1.6 0.2 1.6-0.3 1.6-0.7 1.6 0.1 1.6 0 1.6-0.1 1.6"/>
<path d="M398.5 144.2l1.1 1.6 0.1 1.6-0.3 1.6 0.3 1.6-1 1.6 0.3 1.6-1.1 1.6 0.1 1.6 0.8 1.6-0.4 1.6 1 1.6-0.9 1.6-0.2 1.6 0.1 1.6 0.2 1.6 0.2 1.6 0.7 1 0 1 1 1 0.7 1 0.6 1 1.3 1 0.1 1 0.5 1 0 1-0.6 1-0.8 1 0.2 1-0.5 1-0.6 1-0.8 1 0.7 1-0.2 1 0.5 1.6 0.8 1.6 0.5 1 0 1 1.3 1 0.5 1-0.8 1-0.2 1-1.2 1-0.5 1-0.5 1-0.1 1-0.1 1.6-0.2 1.6-0.3 1.6 0.4 1.6-0.2 1.6-0.4 1.6-0.3 1.6-0.2 1.6-0.8 1.6 0.1 1.6 0.1 1.6 0.2 1.6"/>
<path d="M399.4 144.2l1.1 1.6-0.4 1.6-0.2 1.6-0.1 1.6-0.5 1.6 0.4 1.6 0.1 1.6 0.8 1.6 0.5 1.6-0.3 1.6-0.3 1.6-0.6 1.6-0.4 1.6-0.5 1.6-0.5 1.6 0.4 1.6 1.1 1 0.5 1 0.4 1 0.7 1 1.2 1-0.3 1 0.1 1 0 1 0.5 1-0.3 1-0.6 1-0.2 1-0.1 1-1 1 0.7 1 0 1 0.2 1 0 1 0.3 1.6 0.1 1.6 0.6 1-0.1 1 0.7 1-0.4 1-0.5 1-0.5 1-1.2 1 0.1 1 0.2 1 0.2 1.6-0.4 1.6 0.1 1.6 0 1.6 0.5 1.6-0.2 1.6-0.5 1.6-0.3 1.6 0.1 1.6 0.5 1.6-0.6 1.6-0.2 1.6"/>
<path d="M399.3 144.2l0.2 1.6 0.2 1.6-0.5 1.6 0.6 1.6-0.7 1.6 0.4 1.6 0.5 1.6 0.1 1.6 0.5 1.6-0.2 1.6 0 1.6-0.9 1.6-0.5 1.6-0.9 1.6-0.1 1.6 0.8 1.6 0.2 1 0.8 1 0.8 1 1.6 1 0.6 1 0.6 1 0.3 1-0.4 1-0.2 1 0.1 1-1.1 1 0.3 1-1 1 0.1 1-0.5 1 0.5 1-0.5 1 0.3 1.6 0.3 1.6 0.3 1 1.1 1-0.1 1 0.5 1 0 1-1.2 1-0.4 1-0.3 1-0.7 1 0 1-0.4 1.6 0.3 1.6 0.4 1.6 0 1.6-0.1 1.6-0.4 1.6-1 1.6 0.4 1.6-0.4 1.6 0.6 1.6-0.4 1.6 0.1 1.6"/>
<path d="M401.8 144.2l-0.3 1.6 0.7 1.6 0 1.6-0.2 1.6-0.4 1.6-0.2 1.6-0.4 1.6 1.1 1.6 0 1.6-0.7 1.6 0 1.6-0.4 1.6-0.1 1.6-1 1.6 1 1.6 0.6 1.6 0.4 1 1 1 0.3 1 1.2 1 0.4 1 0.5 1 0.5 1 0 1-0.2 1-1.1 1 0.2 1-1.4 1 0.2 1-1 1 0.5 1-0.4 1-0.4 1 0.5 1.6 0.8 1.6 0.6 1 0.1 1 0.6 1 0.7 1-0.2 1-0.8 1-1.1 1-0.6 1 0.4 1-0.1 1-0.6 1.6 0.6 1.6-0.4 1.6-0.2 1.6-0.4 1.6-0.3 1.6-0.4 1.6-0.1 1.6 0 1.6 0.1 1.6 0.3 1.6 0.2 1.6"/>
<path d="M401.7 144.2l1.2 1.6 0 1.6-0.2 1.6-0.9 1.6 0.9 1.6-0.5 1.6 0.3 1.6 0.8 1.6 0.5 1.6-0.2 1.6 0.3 1.6-0.7 1.6-1.2 1.6 0.1 1.6 0.5 1.6-0.2 1.6 0.6 1 1 1 1.3 1 0.8 1 0.6 1-0.1 1 0.6 1 0.5 1-0.7 1-0.2 1-1 1-0.3 1-0.7 1 0 1-0.7 1 0 1 0.2 1 0.5 1.6 0.2 1.6 0.2 1 0.1 1 0.9 1 0.2 1-0.6 1-0.3 1-0.7 1-0.5 1-1.2 1 0.8 1-0.1 1.6-0.5 1.6 0.3 1.6-0.4 1.6 0.5 1.6-0.3 1.6-0.3 1.6-0.5 1.6-0.2 1.6 0.3 1.6 0.3 1.6 0.2 1.6"/>
<path d="M401.8 144.2l-0.8 1.6 0.9 1.6 0.5 1.6-0.1 1.6 1 1.6 0 1.6 0.4 1.6 0.1 1.6 0.9 1.6 0.5 1.6 0.4 1.6-0.4 1.6 0.4 1.6-0.3 1.6 0.3 1.6-0.2 1.6 0.7 1 0.5 1-0.5 1 1.5 1 0.6 1 0.8 1 0.6 1 0.7 1 0.1 1 0.6 1-0.3 1-0.1 1 0.5 1-0.9 1-0.5 1-0.5 1-0.3 1 0.3 1-2.1 1.6 0.8 1.6-0.4 1 1.2 1 0.8 1-0.7 1-1.4 1-0.9 1-1.2 1-0.4 1-0.3 1-0.7 1.6-0.7 1.6 0.5 1.6-0.1 1.6 0.5 1.6-0.6 1.6 0.1 1.6-0.3 1.6-0.1 1.6-0.5 1.6-0.3 1.6-0.4 1.6"/>
<path d="M400.6 144.2l-0.2 1.6-0.3 1.6 0.1 1.6 0.6 1.6 1 1.6 0.5 1.6 0.4 1.6-0.1 1.6 0.5 1.6 0.3 1.6-0.8 1.6 0.9 1.6-0.5 1.6 1.2 1.6 0 1.6-0.1 1 0.4 1 1 1 0.5 1-0.2 1 0.7 1 0.4 1 1.3 1-0.1 1 0.4 1 1 1-0.1 1 0.1 1-0.4 1 0 1-0.4 1 0.4 1-0.3 1-0.3 1.6-1.9 1.6 0 1.6 0.6 1 0.7 1 0.8 1-0.4 1-0.4 1-1.6 1-0.9 1-1 1 0.3 1-1.2 1.6-0.6 1.6 0.6 1.6-0.3 1.6-0.2 1.6 0.3 1.6-0.5 1.6 0.4 1.6-0.1 1.6-0.9 1.6 0.1 1.6-0.7 1.6"/>
<path d="M402.9 144.2l0 1.6 0.2 1.6-0.4 1.6 0.4 1.6 0.3 1.6 0.4 1.6-0.1 1.6 0.1 1.6 0.2 1.6 0.9 1.6 0.4 1.6 1.2 1.6-0.3 1.6 1.1 1.6-0.1 1.6-0.1 1.6 0.5 1 0.3 1 0.7 1 0.8 1 1 1 1.2 1 0.4 1 0.9 1-0.4 1 0.2 1-0.2 1 0.1 1-0.6 1 0.1 1-0.6 1-0.4 1-0.6 1-0.4 1.6-0.4 1.6-0.6 1 0.8 1 1.1 1 0.3 1 0.3 1-1.3 1-0.9 1-1.6 1-0.9 1-0.8 1-0.5 1.6-0.3 1.6 0.7 1.6 0.1 1.6-0.6 1.6 0 1.6-0.2 1.6-0.3 1.6 0.6 1.6-0.3 1.6-0.6 1.6 0.4 1.6"/>
<path d="M404.5 144.2l0.1 1.6 0 1.6-0.7 1.6 1.2 1.6 0.2 1.6-0.3 1.6 0.2 1.6 0.1 1.6 0.3 1.6 0.2 1.6 0.7 1.6 0.3 1.6 0.2 1.6 1.2 1.6 0 1.6 0.4 1 0.3 1 0 1 0.7 1 0.4 1 1.4 1 0.3 1 0.4 1 0.2 1 0.2 1-0.2 1 0.5 1-0.2 1-0.7 1-0.1 1-0.5 1 0.5 1-1 1 0.2 1.6-1.2 1.6 0.3 1.6 0.5 1 1.3 1-0.1 1 0.4 1-1.1 1-1.8 1-1.1 1-0.3 1-0.5 1-1 1.6-0.8 1.6 0.1 1.6-0.2 1.6 0.5 1.6-0.1 1.6-0.2 1.6 0.4 1.6-0.7 1.6 0.2 1.6-0.9 1.6-0.4 1.6"/>
<path d="M403.5 144.2l-0.5 1.6 0.1 1.6 1 1.6 0.5 1.6 0.7 1.6-0.2 1.6 0.1 1.6 0.4 1.6-0.4 1.6 0.3 1.6 1.2 1.6 0.4 1.6 0.2 1.6 0.4 1.6 0.9 1.6 0.4 1 0.8 1 0.3 1 0 1 0.7 1 0.6 1 1.1 1 1 1 0.2 1 0.3 1-0.2 1 0.5 1-0.1 1-0.2 1-0.4 1-0.8 1-0.8 1-0.6 1-1 1.6-1.6 1.6 0.3 1.6 0 1 0.6 1 0.6 1-0.3 1-1.1 1-1.1 1-0.9 1-0.1 1-0.6 1-0.6 1.6-0.4 1.6-0.2 1.6 0 1.6 0.3 1.6 0.2 1.6-0.3 1.6-0.5 1.6 0.6 1.6-0.8 1.6-0.2 1.6-0.6 1.6"/>
<path d="M406.8 144.2l-0.6 1.6 0.2 1.6-0.5 1.6 0.2 1.6 1.1 1.6 0.5 1.6-0.2 1.6 0.8 1.6 0.3 1.6-0.1 1.6-0.2 1.6 1 1.6 0.1 1.6 1 1.6 0.3 1.6 0.3 1 0.5 1 0.5 1 0.5 1 0.7 1 0 1 1.4 1 0.5 1-0.1 1-0.3 1 0.2 1-0.2 1-0.2 1-0.1 1-0.6 1 0.5 1-0.8 1-0.7 1-0.6 1.6-1.3 1.6 0.3 1.6-0.2 1 0 1 0.2 1 0.1 1-0.5 1-1.4 1-0.3 1-0.2 1-0.4 1-0.7 1.6-0.2 1.6-0.1 1.6 0.1 1.6-0.2 1.6 0.1 1.6 0.4 1.6-0.1 1.6-0.2 1.6-0.7 1.6-0.5 1.6 0.5 1.6"/>
<path d="M404.7 144.2l0 1.6 0 1.6-0.5 1.6 1.2 1.6 0.6 1.6 0.5 1.6 0.3 1.6 0.8 1.6 0.3 1.6 0.3 1.6-0.3 1.6 1.4 1.6-0.4 1.6 0.7 1.6 0.8 1.6 0.3 1 0.6 1-0.2 1 1 1 0.1 1 0.6 1 0.8 1 0.7 1 0.5 1 0.1 1 0.7 1 0 1-0.5 1-0.1 1 0.1 1-0.8 1 0 1-0.5 1-0.6 1.6-1.9 1.6-0.7 1.6 0.9 1-0.2 1 0.2 1 0.1 1-0.7 1-1.2 1-0.2 1-0.8 1-0.2 1-0.7 1.6-0.1 1.6-0.1 1.6 0.5 1.6-0.2 1.6 0.8 1.6-0.1 1.6-0.7 1.6 0.2 1.6-0.5 1.6-0.1 1.6-0.2 1.6"/>
<path d="M406.4 144.2l-0.1 1.6 0.1 1.6-0.1 1.6 0.4 1.6-0.1 1.6-0.2 1.6 0.8 1.6 0 1.6 0.3 1.6 1.1 1.6 0.8 1.6 0.3 1.6 1.2 1.6 0.6 1.6 0 1.6 0.9 1 0.1 1-0.1 1 0.6 1 0.9 1 0.3 1 1 1 1.1 1 0.1 1 0.1 1-0.2 1-0.3 1 0.1 1-1 1 0.1 1-0.9 1-0.4 1-0.2 1-0.6 1.6-1.5 1.6 0.4 1.6 0.1 1 0.6 1 0.2 1-0.1 1-0.6 1-1 1-1.5 1 0.2 1-0.9 1-1.2 1.6-0.3 1.6 0.4 1.6-0.4 1.6 0.7 1.6-0.4 1.6 0.3 1.6-0.6 1.6 0.2 1.6-0.7 1.6-0.2 1.6-0.2 1.6"/>
<path d="M410.1 144.2l-1.1 1.6 0.2 1.6-0.5 1.6-0.7 1.6-1 1.6 0.2 1.6 0.4 1.6 0 1.6 0.4 1.6 0.8 1.6 0.8 1.6 0.1 1.6 0.7 1.6 0.6 1.6 1.1 1.6 1.3 1 0.4 1 0.7 1 1.6 1 0.2 1 0.9 1 1 1-0.6 1 0.7 1-0.6 1-1.3 1 0 1-1.3 1-0.6 1-1 1-0.3 1-0.2 1-0.7 1-0.8 1.6 0.7 1.6-0.1 1.6 0.6 1 0.4 1 0.6 1-0.3 1-1.3 1-1 1-0.9 1-0.1 1-0.5 1-0.9 1.6 0.2 1.6-1 1.6 0.2 1.6-0.1 1.6-0.6 1.6 0.1 1.6 0.6 1.6-0.1 1.6 1 1.6 0 1.6 0.5 1.6"/>
<path d="M409.6 144.2l-0.6 1.6-0.6 1.6 0.3 1.6-1.3 1.6 0.1 1.6 0 1.6 0.1 1.6-0.2 1.6 0.3 1.6 0.9 1.6-0.5 1.6 1.3 1.6 0.1 1.6 1.3 1.6 1.5 1.6 1.5 1.6 0.5 1 1.1 1 0.9 1 1.5 1 0.2 1 0.3 1 0.5 1-0.1 1 0 1-1 1-0.9 1-0.7 1-0.5 1-0.5 1-0.5 1-0.5 1-0.8 1 0 1.6-0.7 1.6 0.4 1-0.1 1 1.4 1-0.5 1 0.6 1-1 1-1.7 1-0.2 1-0.5 1-0.7 1-0.7 1.6-0.3 1.6-0.1 1.6-0.3 1.6-0.3 1.6-1 1.6 0.8 1.6-0.2 1.6 0.3 1.6-0.1 1.6 0.5 1.6 0.5 1.6"/>
<path d="M410.2 144.2l0 1.6-0.3 1.6-0.6 1.6-0.4 1.6 0.1 1.6-0.2 1.6 0.3 1.6 0.3 1.6 0.2 1.6-0.3 1.6 0.9 1.6 0.7 1.6 0.1 1.6 1.1 1.6 1.4 1.6 1.4 1.6 0 1 1.7 1 0.9 1 0.3 1 0.7 1 0.4 1 0.4 1 0.3 1-0.6 1-1.2 1-0.6 1-0.7 1-1.3 1-0.3 1-1 1-0.2 1 0.2 1-1.1 1.6 0.2 1.6 0.1 1 0.2 1-0.2 1 1.1 1-0.9 1-0.3 1-1.1 1-1 1-0.4 1-0.5 1 0.2 1.6-0.7 1.6 0.1 1.6-0.9 1.6 0.1 1.6-0.6 1.6 0.4 1.6 0.4 1.6 0.4 1.6-0.3 1.6 0.7 1.6-0.2 1.6"/>
<path d="M413 144.2l-0.7 1.6-0.5 1.6-1.3 1.6-0.2 1.6 0.3 1.6-0.5 1.6 0 1.6 1.2 1.6 0.1 1.6 0.2 1.6 1.2 1.6-0.2 1.6 1.3 1.6 0.6 1.6 1.6 1.6 0.5 1.6 1.5 1 0.4 1 0.9 1 0.5 1 1.1 1 0.6 1-0.5 1-0.3 1 0.2 1-0.5 1-1.5 1-0.6 1-0.3 1-0.6 1-0.6 1-0.9 1 0.2 1-0.9 1.6-0.4 1.6 0 1 0.5 1 0.7 1-0.1 1-0.2 1-0.9 1-0.8 1-0.1 1-0.8 1 0 1-1 1.6 0.2 1.6-0.6 1.6 0.2 1.6-0.5 1.6-0.3 1.6 0.1 1.6 0.8 1.6-0.2 1.6 0.7 1.6 0.1 1.6-0.2 1.6"/>
<path d="M411.4 144.2l-0.6 1.6-0.5 1.6-0.7 1.6 0.4 1.6-0.1 1.6 0.1 1.6 0.2 1.6 0.1 1.6 0.8 1.6 0.4 1.6 0.5 1.6 1.2 1.6 0.4 1.6 1 1.6 1.4 1.6 1.6 1 0.9 1 1 1 1.3 1 1 1 0.2 1 0.5 1-0.1 1-0.1 1-0.2 1-1.6 1-0.5 1-1.2 1-1.1 1-0.5 1-1.4 1 0.1 1-0.3 1-0.7 1.6-0.5 1.6 0.1 1.6 1 1 0.3 1 0.9 1-1.1 1-0.8 1-0.9 1-1 1-0.7 1-0.2 1 0.2 1.6-1.1 1.6 0 1.6-0.3 1.6 0.4 1.6-0.2 1.6-0.2 1.6 0.3 1.6 0.6 1.6-0.1 1.6 0.5 1.6 0.2 1.6"/>
<path d="M414.2 144.2l0.5 1.6-0.9 1.6 0.1 1.6-0.7 1.6 0.1 1.6-0.5 1.6 0.5 1.6-0.2 1.6 0.5 1.6 0.5 1.6 1.2 1.6 0.6 1.6 0.6 1.6 0.9 1.6 1.3 1.6 1.6 1 1 1 0.8 1 1.2 1 0.9 1 0.4 1 0.8 1 0.2 1-0.9 1-1.3 1-0.6 1-1.3 1-1.4 1-0.6 1-0.9 1-0.8 1 0.4 1-1.4 1.6 0.6 1.6 0.1 1.6 0.4 1 0.1 1 1.2 1 1 1-1.1 1-1.1 1-0.4 1-1.1 1-1.1 1-0.2 1-0.3 1.6-0.6 1.6-0.8 1.6-0.4 1.6 0 1.6-0.3 1.6 0.6 1.6 0.3 1.6-0.6 1.6 0.9 1.6-0.5 1.6 0.9 1.6"/>
<path d="M413.2 144.2l0 1.6-0.3 1.6-0.1 1.6-0.3 1.6-1 1.6 0.5 1.6 0.8 1.6-0.4 1.6 0.4 1.6 1.1 1.6 0.4 1.6 0.5 1.6 1.3 1.6 1.6 1.6 1.4 1.6 0.7 1 1.1 1 1.5 1 0.8 1 1 1 1.1 1-0.5 1 0.5 1-0.2 1-0.9 1-1.4 1-0.7 1-1.2 1-0.7 1-1.2 1-1 1-0.4 1-0.1 1-1.1 1.6 0.2 1.6-0.3 1.6 1.1 1 0.5 1 0.2 1-0.4 1-1.2 1-0.8 1-0.7 1-1 1-0.5 1 0 1.6-0.6 1.6-0.2 1.6-0.2 1.6-0.2 1.6-0.7 1.6 0.3 1.6 0.1 1.6 0.8 1.6 0.1 1.6-0.1 1.6 0.4 1.6"/>
<path d="M416 144.2l-0.2 1.6-0.1 1.6-1.1 1.6-0.1 1.6-0.5 1.6-0.1 1.6 0.8 1.6-0.3 1.6 1.1 1.6 0.6 1.6 0.1 1.6 0.4 1.6 1.2 1.6 1.7 1.6 1.4 1.6 1.1 1 1.6 1 0.8 1 0.9 1 1.3 1 1.3 1-0.3 1 0.2 1-0.8 1-0.6 1-0.7 1-1.7 1-1.1 1-1.4 1-0.6 1-0.6 1-0.5 1-0.6 1.6-0.3 1.6-0.1 1.6 0.4 1 1.1 1 0.8 1-0.2 1-0.1 1-1.2 1-0.7 1-1.5 1 0.1 1-1.1 1 0.2 1.6-1.3 1.6 0.2 1.6-0.3 1.6-0.7 1.6-0.3 1.6 0.3 1.6-0.2 1.6 0.7 1.6 0.7 1.6-0.4 1.6 0.4 1.6"/>
<path d="M414.7 144.2l0.6 1.6-0.4 1.6 0.3 1.6 0 1.6 0.2 1.6-0.2 1.6 0.9 1.6 0.2 1.6-0.1 1.6 0.6 1.6 0.5 1.6 0.8 1.6 0.6 1.6 0 1.6 1.8 1.6 0.8 1 1.2 1 1.3 1 1.4 1 1.5 1 1.8 1 0.6 1 1.3 1 0.4 1-0.7 1-0.8 1-0.5 1-0.8 1-1 1-0.8 1-1.2 1-0.1 1-0.8 1-0.8 1.6-2.8 1.6 0.4 1.6 0.2 1 0.2 1-0.7 1-0.4 1 0 1-0.8 1-0.8 1-1.1 1 0.2 1-0.7 1.6-0.6 1.6-0.2 1.6-0.4 1.6 0.3 1.6-1.1 1.6 0.6 1.6-0.3 1.6-0.3 1.6 0 1.6-0.7 1.6 0.5 1.6"/>
<path d="M415.3 144.2l1.2 1.6-0.4 1.6 0.9 1.6 0 1.6-0.1 1.6 0.8 1.6-0.3 1.6 0.8 1.6 0.3 1.6 0.4 1.6 1.4 1.6 0.5 1.6-0.2 1.6 1.3 1.6 1.5 1.6 1.1 1 0.7 1 1.8 1 1.3 1 1.3 1 1.2 1 1 1 0.2 1 0.7 1-0.5 1-0.8 1-0.7 1-2.1 1-0.3 1-1.6 1-1 1-0.3 1-0.9 1.6-0.4 1.6-2.7 1.6 0.6 1-0.1 1 0.1 1-0.8 1-0.2 1-0.3 1-1 1-0.4 1-0.9 1-0.5 1 0.4 1.6-0.1 1.6-0.7 1.6-0.1 1.6-0.1 1.6-0.8 1.6-0.2 1.6-0.5 1.6-0.1 1.6-0.3 1.6 0.3 1.6-0.5 1.6"/>
<path d="M416.2 144.2l0 1.6 0.2 1.6 0.9 1.6-0.5 1.6 0.5 1.6 0.2 1.6 0.7 1.6-0.1 1.6 0.9 1.6-0.1 1.6 1.2 1.6-0.4 1.6 1.2 1.6 1.3 1.6 0.9 1.6 1.1 1 2.1 1 1.4 1 0.8 1 1.5 1 1.9 1 0.1 1 1.3 1-0.2 1-1 1-0.7 1-1.1 1-0.2 1-1.7 1-0.2 1-1.4 1-0.6 1-0.2 1-0.8 1.6-1.9 1.6-0.1 1.6 0.4 1 0.4 1-0.4 1 0 1-1.1 1-0.8 1-1.2 1-0.3 1 0.1 1-1 1.6-0.1 1.6-0.6 1.6 0.2 1.6-0.9 1.6-0.2 1.6-0.4 1.6 0 1.6-0.1 1.6 0.1 1.6-0.5 1.6-0.7 1.6"/>
<path d="M418.2 144.2l-0.4 1.6 0.7 1.6 0.1 1.6-0.4 1.6 0.9 1.6-0.2 1.6 0.5 1.6 0.3 1.6 0 1.6 0.8 1.6 0 1.6 0.8 1.6 0.7 1.6 0.8 1.6 1.2 1.6 0.8 1 1 1 2 1 1 1 1.6 1 1.8 1 1.1 1 0.2 1 0.7 1-0.1 1-0.5 1-1 1-1.3 1-0.9 1-1.8 1-0.8 1-0.2 1-1.4 1-0.7 1.6-1 1.6 0.1 1.6 0.2 1 0.9 1 0.4 1-0.5 1-1.1 1-1.1 1-1.7 1 0.1 1-0.9 1-0.7 1.6 0.2 1.6 0 1.6-0.5 1.6-0.5 1.6 0 1.6-0.3 1.6-0.2 1.6-0.4 1.6 0.1 1.6-0.5 1.6 0.2 1.6"/>
<path d="M417.4 144.2l0.2 1.6 0 1.6 0.3 1.6-0.2 1.6 0.2 1.6 0.4 1.6 1.1 1.6 0 1.6 0.8 1.6 0.3 1.6 1.1 1.6 0 1.6 0.2 1.6 1.5 1.6 0.5 1.6 2.6 1.6 0.9 1 1.9 1 1.3 1 1.3 1 1.3 1 0.9 1 1.5 1 0.2 1-0.2 1-0.5 1-1.6 1-0.9 1-0.9 1-1.2 1-1.2 1-0.4 1-0.6 1-1.5 1.6-2.6 1.6 0.2 1 0.1 1 0 1 0.3 1-0.5 1-0.5 1-1.3 1-1.7 1-0.1 1-0.3 1-0.9 1.6-0.1 1.6-0.3 1.6-0.8 1.6 0 1.6-0.7 1.6 0.1 1.6-0.3 1.6 0.1 1.6-0.1 1.6 0.2 1.6 0 1.6"/>
<path d="M417.3 144.2l0.2 1.6 0.3 1.6-0.2 1.6-0.1 1.6 0.7 1.6 0.1 1.6 0.3 1.6 0.8 1.6 0.4 1.6 1.1 1.6 0.5 1.6 0.2 1.6 0.6 1.6 1.7 1.6 1.8 1.6 1.3 1 1.4 1 1.3 1 2.5 1 0.9 1 2 1 0.8 1 0.6 1-0.5 1-0.3 1-1.3 1-1.2 1-0.3 1-1.5 1-1.4 1-0.7 1-0.4 1-0.8 1-1.8 1.6-1.4 1.6-0.7 1.6 0.2 1 0.2 1 0.5 1-0.1 1-1.8 1-0.4 1-0.2 1-1.2 1-0.1 1-0.6 1.6-0.1 1.6-0.5 1.6-0.3 1.6-0.3 1.6 0.1 1.6-0.4 1.6 0.3 1.6-0.6 1.6-0.4 1.6 0.8 1.6-0.8 1.6"/>
<path d="M419.7 144.2l0.9 1.6-0.2 1.6 0.7 1.6 0 1.6 0 1.6 0.8 1.6 0.3 1.6 0.5 1.6 0 1.6 0.9 1.6 0.1 1.6 1.1 1.6 0.6 1.6 0.3 1.6 1.5 1.6 1.7 1.6 1.7 1 1.4 1 1.7 1 1.8 1 1.8 1 1.5 1 0.5 1-0.2 1 0.6 1-0.8 1-1.9 1-0.9 1-1.5 1-0.8 1-1.2 1-1.2 1-1.4 1-0.8 1.6-2.8 1.6-0.1 1 0.4 1-0.5 1 0 1 0.5 1-1.5 1-0.7 1-0.3 1-1.3 1-0.2 1-0.2 1.6-0.2 1.6-0.4 1.6-0.7 1.6 0.5 1.6-0.4 1.6-0.9 1.6-0.2 1.6 0.1 1.6-0.3 1.6-0.4 1.6-0.2 1.6"/>
<path d="M419 144.2l0.9 1.6 0.3 1.6 0.2 1.6-0.6 1.6 0.6 1.6 0.5 1.6-0.2 1.6 0.2 1.6 0.9 1.6 0.3 1.6 0.4 1.6 1.4 1.6 0.8 1.6 0.5 1.6 1.5 1.6 2.4 1.6 1.1 1 2 1 1.6 1 2.4 1 1.7 1 1.2 1 0.5 1 0.9 1 0 1-0.3 1-1.5 1-1.2 1-1.3 1-1.5 1-1.2 1-1.4 1-0.9 1-0.5 1.6-2.6 1.6-0.7 1 0.6 1 0.2 1 0.8 1-0.9 1-1.3 1-0.6 1-0.9 1-0.6 1-0.7 1-0.6 1.6-0.4 1.6-0.2 1.6-0.4 1.6-0.2 1.6-0.7 1.6-0.4 1.6-0.9 1.6 0.1 1.6-0.6 1.6 0.3 1.6-0.1 1.6"/>
<path d="M421.2 144.2l0.1 1.6 0.5 1.6 0.1 1.6 1.5 1.6 0.5 1.6-0.1 1.6-0.2 1.6 0.6 1.6-0.4 1.6 0.8 1.6 0.3 1.6 1.8 1.6 1.5 1.6 1.3 1.6 0.8 1.6 0.7 1 1.6 1 0.3 1 0.6 1 1.1 1 0.7 1 0.1 1-0.4 1-0.6 1-0.1 1-0.8 1-1.6 1-1.4 1-1 1-1.8 1-0.6 1-1.6 1-1.3 1.6-0.5 1.6 1.5 1.6-0.5 1 0.4 1 0.4 1 1 1 0 1-1.5 1-0.3 1 0 1-0.8 1-1 1 0.1 1.6-0.9 1.6 0.1 1.6 0.9 1.6 0.1 1.6 0.3 1.6-0.2 1.6 0.4 1.6-0.2 1.6 0.4 1.6-0.3 1.6-0.2 1.6"/>
<path d="M420.9 144.2l-0.2 1.6-0.1 1.6 0.7 1.6 0.2 1.6 0.2 1.6 0.6 1.6-0.6 1.6 0.9 1.6-0.5 1.6 0.9 1.6 1.1 1.6 1.5 1.6 1 1.6 1.3 1.6 1 1.6 1 1.6 0.8 1 1.6 1 0.7 1 0.6 1 1.1 1 1.5 1 0.1 1-0.3 1-0.5 1-0.3 1-1.2 1-1.5 1-1.6 1-1.3 1-1.5 1-0.6 1-1.3 1-0.7 1.6 0.5 1.6-0.6 1 0.6 1 0.7 1 0.1 1-0.1 1-1.5 1-0.1 1-1.2 1-0.9 1 0.2 1-0.5 1.6-1.2 1.6 0.6 1.6-0.2 1.6 0.2 1.6 0.1 1.6 0.1 1.6 0.4 1.6 0 1.6 0.1 1.6-0.3 1.6 0.6 1.6"/>
<path d="M422.5 144.2l0 1.6-0.3 1.6 1 1.6-0.1 1.6 1.3 1.6 0.5 1.6-0.1 1.6 0 1.6 0.9 1.6-0.2 1.6 0.3 1.6 0.9 1.6 1.4 1.6 2 1.6 0.7 1.6 2.4 1.6 0.2 1 0.8 1 1.7 1 1.3 1 0.1 1 0.9 1 0.1 1 0.6 1-0.5 1-1.1 1-0.9 1-1.8 1-1.3 1-0.6 1-1.3 1-1.1 1-1.5 1-0.4 1.6-0.6 1.6 0.3 1 0.6 1-0.1 1 0.5 1-0.5 1-0.9 1-0.4 1-0.4 1-0.7 1 0.3 1-0.4 1.6-1.1 1.6-0.1 1.6 0.3 1.6-0.4 1.6 0.2 1.6 0.5 1.6 0.4 1.6 0.1 1.6-0.1 1.6-0.1 1.6-0.5 1.6"/>
<path d="M424.3 144.2l-0.3 1.6 0.1 1.6 0 1.6 0.4 1.6 0.6 1.6 0.8 1.6-0.1 1.6 0 1.6 0.1 1.6 0.1 1.6 1.2 1.6 0.2 1.6 1.6 1.6 1.1 1.6 1.4 1.6 0.8 1.6 1.3 1 0 1 1.6 1 0.7 1 1.9 1 0.5 1 0.8 1 0.8 1 0.2 1-0.1 1-0.9 1-1.6 1-1.1 1-1.6 1-1.5 1-1.5 1-1 1-1.4 1 0.6 1.6-0.3 1.6 0.7 1 0.4 1 0.2 1-0.5 1-0.9 1-1.1 1-0.8 1-1 1-0.1 1-0.7 1.6-0.6 1.6 0.5 1.6-0.7 1.6 1 1.6 0.2 1.6-0.4 1.6 0.5 1.6-0.1 1.6-0.1 1.6 0.1 1.6-0.1 1.6"/>
<path d="M421.6 144.2l0.7 1.6-0.1 1.6 0.2 1.6 1.2 1.6 0 1.6 0.8 1.6-0.3 1.6 0.5 1.6 1 1.6 0.4 1.6 0.6 1.6 1.4 1.6 2.4 1.6 1.3 1.6 2.2 1.6 0.7 1 1.6 1 1.2 1 0.3 1 1.9 1 0.7 1 0.9 1 0.4 1 0.4 1-0.5 1-2 1-1.3 1-1.4 1-1.1 1-1.9 1-1.6 1-0.6 1-1.5 1-1.3 1.6-0.4 1.6 0.3 1.6-0.3 1 0.5 1 0.5 1-0.2 1-1 1-0.3 1-0.5 1-0.7 1-0.5 1-0.5 1.6-1 1.6 0.5 1.6-0.1 1.6-0.2 1.6 0.5 1.6-0.3 1.6 1 1.6-0.7 1.6 0.1 1.6 0.3 1.6-0.2 1.6"/>
<path d="M425.6 144.2l0 1.6-0.2 1.6 0.7 1.6 0.3 1.6 0.4 1.6 0.2 1.6 0.5 1.6 0.7 1.6-0.3 1.6 0.8 1.6 1.1 1.6 0.8 1.6 1.1 1.6 2.7 1.6 1.6 1.6 0.8 1 1.5 1 1 1 1.5 1 1 1 0.2 1 0.2 1 0.3 1-0.5 1-1.4 1-1.4 1-1.5 1-0.5 1-2.2 1-0.7 1-0.7 1-1.6 1-1.5 1.6-1.1 1.6 0 1.6 0.5 1-0.4 1 0.9 1-0.1 1-0.3 1-0.6 1-0.2 1-0.6 1 0 1-0.3 1-1.1 1.6-0.1 1.6-0.9 1.6 0.2 1.6 0 1.6 0.8 1.6 0.2 1.6-0.4 1.6 0.8 1.6-0.3 1.6-0.2 1.6 0 1.6"/>
<path d="M425.6 144.2l-0.5 1.6 0.6 1.6 0.1 1.6 0.9 1.6 0.3 1.6-0.2 1.6 0.2 1.6 0.3 1.6 0.1 1.6 0.7 1.6 1.2 1.6 1.8 1.6 2.5 1.6 1.4 1.6 1.5 1.6 2 1 0.8 1 0.5 1 1.4 1 1.5 1 1 1 0.6 1 0 1 0.4 1-1.2 1-1.1 1-0.7 1-1.4 1-2 1-1 1-2 1-0.3 1-1.2 1-1.4 1.6 0 1.6 0 1.6 1.1 1 0.7 1 0.4 1-1 1-0.1 1-0.9 1-1.6 1-0.5 1-0.7 1-0.5 1.6-0.1 1.6-0.9 1.6-0.1 1.6 0.2 1.6 0.3 1.6 0.6 1.6-0.6 1.6 0.4 1.6 0 1.6-0.2 1.6-0.2 1.6"/>
<path d="M426.5 144.2l0 1.6 0.3 1.6 0.5 1.6 0.7 1.6 0 1.6 0.4 1.6 0.2 1.6-0.2 1.6 0.9 1.6 0.3 1.6 0.5 1.6 1.4 1.6 1.7 1.6 1.2 1.6 0.8 1.6 1.3 1.6 1.3 1 1.8 1 1.3 1 0.6 1 1.6 1 0.8 1 0.9 1 0.7 1-0.3 1-1.3 1-1.5 1-1.6 1-1.2 1-1.8 1-1.6 1-0.5 1-1.8 1-0.5 1.6-0.5 1.6-0.6 1 0.9 1-0.1 1 0.2 1-0.5 1-0.3 1-0.8 1-0.7 1-0.8 1-0.9 1 0.1 1.6-0.3 1.6-0.2 1.6-0.4 1.6 0.3 1.6 0.4 1.6-0.6 1.6 0 1.6-0.2 1.6-0.3 1.6 0.4 1.6-0.5 1.6"/>
<path d="M429 144.2l0.2 1.6-0.4 1.6-0.7 1.6-0.3 1.6 0.4 1.6 0.2 1.6 0.3 1.6 0.8 1.6 1.6 1.6 0.6 1.6 0.7 1.6 0.9 1.6 1 1.6 2.1 1.6 1.8 1.6 2.5 1 1.3 1 1.9 1 1.8 1 1.7 1 1 1 0.1 1-0.1 1-0.6 1-0.7 1-1.2 1-2.2 1-0.6 1-1.6 1-0.8 1-1.1 1-0.3 1-1.2 1.6-0.6 1.6-1 1.6 0 1-0.4 1 1.2 1 0 1-0.8 1-1.2 1-1.1 1-0.1 1-0.8 1-0.4 1-1.5 1.6-0.5 1.6-0.4 1.6 0.1 1.6-0.6 1.6-0.3 1.6 0.1 1.6 0.4 1.6-0.2 1.6-0.5 1.6 0.1 1.6-0.1 1.6"/>
<path d="M429.2 144.2l-0.6 1.6-0.9 1.6-0.4 1.6-0.2 1.6 0.4 1.6 0 1.6 0.3 1.6 1.1 1.6 0.4 1.6 1.2 1.6 0.5 1.6 0.5 1.6 1.4 1.6 2.1 1.6 2.7 1.6 1.2 1 1.9 1 1.7 1 1.8 1 2 1 1.1 1 1.1 1-0.4 1-0.2 1-1 1-1 1-0.9 1-1.7 1-1.1 1-1.4 1-0.8 1-0.2 1-0.8 1-1.5 1.6-1.9 1.6 0.4 1.6 0.3 1 0 1 0.1 1-0.5 1-0.7 1-1.5 1-0.6 1-1 1-0.4 1-1 1.6-1 1.6-0.5 1.6 0.2 1.6-0.3 1.6-0.2 1.6 0.4 1.6-0.7 1.6 0.4 1.6 0.5 1.6-0.6 1.6-0.7 1.6"/>
<path d="M429.4 144.2l-1.2 1.6-0.3 1.6-0.7 1.6 0.1 1.6 0.3 1.6 1.3 1.6 0.8 1.6 0.8 1.6 1 1.6 0.6 1.6 0.9 1.6 0.3 1.6 1.6 1.6 1.8 1.6 2.3 1.6 1.3 1 2 1 1.8 1 1.7 1 1.6 1 1 1-0.1 1 0.6 1-1 1-0.4 1-1.4 1-1 1-1.7 1-1 1-0.9 1 0.2 1-1.4 1-0.3 1.6-1.4 1.6-1.5 1.6-0.6 1 0 1 0.2 1 0.4 1-0.9 1-0.7 1-1.3 1-0.8 1-0.7 1-0.1 1-0.5 1.6-0.6 1.6-0.9 1.6 0.5 1.6-0.8 1.6 0.4 1.6-0.3 1.6 0.8 1.6-0.3 1.6 0.7 1.6-1.3 1.6 0.1 1.6"/>
<path d="M429.8 144.2l-0.6 1.6-0.6 1.6-0.1 1.6-0.6 1.6 0.9 1.6 1.1 1.6 0.3 1.6 1 1.6 0.6 1.6 0.8 1.6 0.8 1.6 0.2 1.6 1.7 1.6 1 1.6 2.5 1.6 2.4 1.6 1.6 1 0.8 1 1.9 1 1 1 1.6 1 1.4 1 1.2 1 0.6 1-0.3 1-0.2 1-0.7 1-1.1 1-1.6 1-1.5 1-0.5 1-1 1-1.8 1-0.9 1-2.8 1.6-1.5 1.6 0 1 0.1 1 0.4 1-0.3 1-1.4 1-0.9 1-0.7 1-1.2 1-0.4 1-0.9 1.6-0.6 1.6-0.3 1.6-1.2 1.6 0.3 1.6-0.4 1.6 0.2 1.6 0.2 1.6 0.3 1.6-0.4 1.6 0.2 1.6-0.8 1.6"/>
<path d="M431.3 144.2l-1.1 1.6 0 1.6-0.7 1.6-0.3 1.6 0.8 1.6 0.5 1.6 0.9 1.6 1.5 1.6 0.8 1.6 0.6 1.6 0.9 1.6 1.1 1.6 1.9 1.6 1.9 1.6 2.8 1.6 1.3 1 2.7 1 1.6 1 1.3 1 1.9 1 1.9 1 0.2 1 0.9 1-1.3 1-1.1 1-1.2 1-1.4 1-1 1-2 1-0.5 1-0.7 1-1.3 1-1.1 1.6-1.1 1.6-1.8 1.6-0.6 1 0.6 1 0.1 1-0.1 1-0.7 1-0.4 1-1.3 1-1.1 1-0.6 1-1.3 1-0.5 1.6-0.8 1.6 0.1 1.6-1 1.6-0.3 1.6 0 1.6 0.1 1.6-0.2 1.6 0.5 1.6-0.2 1.6 0.4 1.6-0.4 1.6"/>
<path d="M432 144.2l-0.6 1.6-0.5 1.6-0.8 1.6 0 1.6 0.5 1.6 0.4 1.6 0.2 1.6 1.4 1.6 0.3 1.6 1.4 1.6 0.8 1.6 1.1 1.6 2 1.6 2.8 1.6 2 1.6 2.5 1 1.8 1 2.1 1 1.3 1 1.2 1 1.8 1 0.3 1 0.4 1-1.2 1-0.4 1-2 1-1.3 1-1.6 1-1.4 1-1.2 1-0.6 1-0.8 1-1 1.6-1 1.6-2.5 1.6 0.2 1-0.7 1 0.8 1-0.4 1-0.3 1-1.1 1-0.9 1-0.7 1-0.4 1-0.5 1-1.1 1.6-1 1.6-0.5 1.6-0.2 1.6-1 1.6 0.9 1.6-0.8 1.6 0.8 1.6 0.1 1.6 0.3 1.6-0.5 1.6-0.3 1.6"/>
<path d="M432.8 144.2l-0.3 1.6-0.9 1.6 0.3 1.6 0.2 1.6 0.1 1.6 0.6 1.6 0.3 1.6 1 1.6 0.8 1.6 0.1 1.6 1.6 1.6 0.9 1.6 1.8 1.6 2 1.6 2.7 1.6 2.7 1 0.9 1 2.3 1 1.6 1 1.7 1 1.5 1 1 1 0.1 1-1.2 1-1.1 1-1.4 1-1.4 1-1.6 1-1.2 1-1.1 1-0.9 1-1.3 1-1.1 1.6-0.3 1.6-3.1 1.6 0.1 1 0.2 1 0.7 1 0.5 1 0.1 1-1.6 1-1.5 1-0.9 1-1.4 1 0 1-1 1.6-0.6 1.6-1 1.6-0.8 1.6-0.4 1.6 0.2 1.6 0.4 1.6-0.1 1.6 0.1 1.6-0.6 1.6-0.1 1.6-0.6 1.6"/>
<path d="M433.4 144.2l-1.1 1.6-0.5 1.6 0 1.6-0.5 1.6 0.1 1.6 0.4 1.6 0.9 1.6 0.9 1.6-0.2 1.6 1.4 1.6 0.4 1.6 1.4 1.6 2.5 1.6 2.1 1.6 3 1.6 1.9 1 1.6 1 1.7 1 1.7 1 2.1 1 1.3 1 1 1 1.4 1 0.3 1-0.8 1-1.3 1-0.6 1-2 1-1.9 1-0.9 1-1.4 1-1.7 1-0.6 1-1.8 1.6-2.5 1.6 0.2 1.6 0.2 1 0.1 1 0 1-0.7 1-0.9 1-0.9 1-1.2 1-0.7 1-1 1-1.6 1.6 0 1.6-1.5 1.6 0.4 1.6-0.2 1.6-0.4 1.6-0.2 1.6 0.1 1.6 0.3 1.6 0.3 1.6-0.3 1.6-0.3 1.6"/>
<path d="M431.8 144.2l-0.1 1.6 0.9 1.6 0.7 1.6 0.9 1.6 0.8 1.6 0.1 1.6 0.1 1.6 0.2 1.6 1.3 1.6 0.4 1.6 1.2 1.6 1.3 1.6 1.5 1.6 0.8 1.6 2.5 1.6 1.7 1.6 2 1 1.6 1 2.2 1 2.7 1 2.1 1 2.3 1 2.2 1 0.1 1 0.9 1-1.6 1-1.6 1-2 1-2.4 1-2.1 1-2.4 1-1.9 1-1.5 1-2 1-1.8 1.6-1.7 1.6 0.1 1 0.4 1 0.3 1-1.4 1-0.6 1-1.9 1-0.7 1-0.3 1-0.5 1-0.7 1.6-0.9 1.6 0.2 1.6-0.3 1.6-0.2 1.6-0.5 1.6 0.4 1.6-0.7 1.6 0.1 1.6-0.3 1.6-0.5 1.6-0.2 1.6"/>
<path d="M433 144.2l0.8 1.6 0.1 1.6 1.6 1.6 0.9 1.6 1.1 1.6 0.3 1.6 1.1 1.6 0 1.6 1.3 1.6 1 1.6 0.6 1.6 1.7 1.6 1.4 1.6 1.9 1.6 1.5 1.6 3 1.6 1.7 1 2.1 1 1.7 1 2.5 1 2.1 1 1.2 1 1.2 1 1.2 1-0.7 1-1 1-2.3 1-1.4 1-2.3 1-2.4 1-2.8 1-2.2 1-1.7 1-2 1.6-1.8 1.6-1.4 1-0.1 1 0 1 0.1 1-0.2 1-1.4 1-0.5 1-1 1-1.1 1-0.3 1-1 1.6-0.5 1.6-0.3 1.6 0.5 1.6-0.1 1.6 0.2 1.6 0.1 1.6-0.5 1.6-0.7 1.6 0.2 1.6-0.5 1.6-0.3 1.6"/>
<path d="M432.3 144.2l1.4 1.6 1.2 1.6 1.3 1.6 0.5 1.6 0.8 1.6 0.5 1.6 0.3 1.6 1.1 1.6-0.1 1.6 0.9 1.6 1.3 1.6 1.2 1.6 1.1 1.6 1.6 1.6 2.8 1.6 2.4 1.6 1.4 1 2.7 1 2.4 1 2.5 1 2.5 1 1.3 1 2.1 1-0.1 1 0 1-2 1-2.1 1-2.6 1-2.5 1-2.3 1-2.3 1-2.1 1-2.2 1-2.1 1.6-1.6 1.6 0.3 1 0 1 0.6 1-0.3 1-0.8 1-0.6 1-1.6 1-1.5 1-0.8 1-0.6 1-0.1 1.6-0.9 1.6-0.2 1.6-0.1 1.6 0 1.6 0.2 1.6-0.4 1.6-1.1 1.6-0.3 1.6-0.6 1.6 0.4 1.6 0.4 1.6"/>
<path d="M434.1 144.2l1 1.6 1.1 1.6 1 1.6 0.8 1.6 0.3 1.6 0.5 1.6 1 1.6 0.9 1.6 0.5 1.6 0.4 1.6 1.5 1.6 0.7 1.6 2.2 1.6 1.4 1.6 1.5 1.6 3.2 1.6 2.1 1 1.3 1 2.6 1 2.4 1 2.8 1 2.2 1 0.6 1 0.8 1-0.5 1-0.8 1-2.4 1-2 1-2.5 1-3.3 1-2 1-2 1-1.8 1-2.5 1.6-2.1 1.6-0.5 1 0.4 1-0.2 1-0.3 1 0.1 1-1.1 1-1 1-0.8 1-1.1 1-0.3 1-0.6 1.6-0.7 1.6 0.3 1.6 0.2 1.6 0 1.6-0.1 1.6-0.7 1.6-0.6 1.6-0.5 1.6 0 1.6-0.3 1.6 0.1 1.6"/>
<path d="M434.2 144.2l0.5 1.6 0.2 1.6 0.9 1.6 1.4 1.6 1.3 1.6 0 1.6 1.5 1.6 0.5 1.6 0.7 1.6 1.2 1.6 0.8 1.6 1.8 1.6 1.1 1.6 2.5 1.6 1.2 1.6 2.3 1.6 1.3 1 1.9 1 2.6 1 2.5 1 2.3 1 1.9 1 1.8 1 1.7 1 0 1-1.5 1-1.1 1-1.8 1-3 1-2.4 1-2.4 1-2.1 1-2.7 1-1.7 1-1.6 1.6-1.1 1.6-0.9 1 0.9 1-0.8 1 0.2 1-1.9 1-1.2 1-1.7 1-1.1 1-0.6 1-0.2 1.6-0.6 1.6-0.4 1.6-0.3 1.6 0.6 1.6-0.5 1.6 0.3 1.6-0.1 1.6-0.7 1.6 0.2 1.6-1.1 1.6 0.1 1.6"/>
<path d="M435.6 144.2l0.6 1.6 1.1 1.6 1 1.6 0.4 1.6 0.6 1.6 1.1 1.6 0.5 1.6-0.1 1.6 1 1.6 0.4 1.6 1.8 1.6 0.7 1.6 1.5 1.6 2.1 1.6 1.4 1.6 2.5 1.6 2.1 1 2.4 1 2.3 1 3 1 2.6 1 1.8 1 1.7 1 1 1 0.4 1-1 1-2.1 1-2.4 1-2.1 1-2.8 1-2.2 1-3 1-2 1-1 1-3.5 1.6-1 1.6 0.1 1-0.2 1-0.8 1-0.6 1-0.3 1-1.6 1-0.9 1-1.1 1-0.6 1-0.4 1.6-0.8 1.6 0.3 1.6-0.3 1.6-0.1 1.6-0.4 1.6 0.3 1.6-0.9 1.6-0.3 1.6 0 1.6-0.8 1.6-0.2 1.6"/>
<path d="M437.5 144.2l0.5 1.6 1.2 1.6 0.6 1.6 0.5 1.6 1.2 1.6 0.2 1.6 0.8 1.6 1.1 1.6 0.6 1.6 1 1.6 1.4 1.6 0.8 1.6 2.5 1.6 1.9 1.6 1.5 1.6 2.7 1.6 2.8 1 1.8 1 2.8 1 2.1 1 3.3 1 1.6 1 1.5 1-0.2 1-0.3 1-1.4 1-2.4 1-2.1 1-3.3 1-1.8 1-3.2 1-2 1-1.5 1-2.4 1.6-1.9 1.6-0.6 1 0.7 1 0.1 1-0.3 1-0.6 1-1.3 1-1.1 1-1.1 1-0.9 1-1.3 1 0 1.6-0.5 1.6-0.7 1.6-0.3 1.6 0.5 1.6-0.5 1.6-0.5 1.6-0.5 1.6 0 1.6-0.2 1.6-0.4 1.6 0.2 1.6"/>
<path d="M436.4 144.2l0.2 1.6 0.7 1.6 0.5 1.6 0.7 1.6 0.6 1.6 1.1 1.6 1 1.6-0.1 1.6 1.1 1.6 0.5 1.6 0.9 1.6 1.8 1.6 1.7 1.6 1 1.6 2.7 1.6 2.5 1.6 1.7 1 2.7 1 1.6 1 3.3 1 2 1 3 1 1.2 1 1.2 1 0.3 1-1 1-1.5 1-1.6 1-2.8 1-2.7 1-2.1 1-2.7 1-1.6 1-1.9 1-2.5 1.6-1.3 1.6 0 1 0.3 1-0.9 1 0.1 1-2 1-0.8 1-1 1-1.5 1-0.2 1-1 1.6-0.2 1.6-0.3 1.6-0.4 1.6 0.1 1.6-0.2 1.6-0.3 1.6-0.3 1.6-0.2 1.6 0 1.6-1 1.6-0.2 1.6"/>
<path d="M441.5 144.2l-0.6 1.6 0.5 1.6 0.4 1.6-0.4 1.6 1.2 1.6-0.3 1.6 0.7 1.6 0.6 1.6 0.5 1.6 1 1.6 0.7 1.6 1.2 1.6 2.7 1.6 1.9 1.6 3.6 1.6 1.5 1 2.3 1 2.2 1 1.8 1 2.8 1 2.1 1 1.1 1 0.9 1 0 1 0 1-1.7 1-2.2 1-2.2 1-1.6 1-2.2 1-2.3 1-1.6 1-2.1 1-1.9 1.6-1.5 1.6-1.1 1.6 0.8 1 0.4 1 0.4 1-0.6 1-1.9 1-1.3 1-0.8 1-0.9 1-0.6 1-1 1.6-1.7 1.6-0.5 1.6 0.2 1.6-0.7 1.6 0.3 1.6-0.4 1.6 0 1.6-0.6 1.6 0.2 1.6 0.2 1.6-0.8 1.6"/>
<path d="M442 144.2l0.1 1.6-1.1 1.6 0.7 1.6-0.5 1.6 1.1 1.6 0.1 1.6 0.5 1.6 0.5 1.6 0.9 1.6 1 1.6 0.8 1.6 2 1.6 2 1.6 3.2 1.6 2.5 1.6 2.4 1 3 1 1.7 1 3.1 1 2.1 1 1.7 1 0.5 1 1.1 1-1.2 1-1.3 1-1.6 1-2 1-2.6 1-2.4 1-1.5 1-2 1-1.3 1-2.1 1.6-2.4 1.6-1.8 1.6 0 1-0.3 1 0.5 1 0.1 1-0.2 1-1 1-1.3 1-1 1-1.1 1-0.9 1-0.9 1.6-0.9 1.6 0.1 1.6-0.4 1.6-0.2 1.6-0.2 1.6-0.4 1.6 0 1.6 0.1 1.6-0.7 1.6 0 1.6-0.2 1.6"/>
<path d="M442.9 144.2l0 1.6-0.2 1.6-0.2 1.6 0.7 1.6 0.4 1.6 1 1.6 0.1 1.6 0.6 1.6 0.9 1.6 0.8 1.6 1.5 1.6 1.4 1.6 1.9 1.6 2.9 1.6 2.9 1.6 1.3 1 2.9 1 1.9 1 2.7 1 2.4 1 2.5 1 1 1 0.9 1 0 1-1.3 1-1.6 1-1.9 1-1.6 1-2.5 1-2.6 1-1.9 1-1.7 1-1.1 1-2.4 1.6-2.2 1.6-0.8 1.6-0.6 1 0.1 1 0.5 1-0.5 1-1.2 1-1.2 1-1.6 1-0.3 1-1.5 1-0.7 1.6-0.7 1.6-0.3 1.6-0.3 1.6-0.7 1.6-0.1 1.6-0.1 1.6 0.1 1.6-0.1 1.6-0.8 1.6 0.4 1.6-0.6 1.6"/>
<path d="M443 144.2l-0.2 1.6-0.6 1.6 0.5 1.6 0 1.6 0.8 1.6 0.2 1.6 0.3 1.6 1.5 1.6 0.2 1.6 1.4 1.6 1.6 1.6 1.4 1.6 1.9 1.6 2.6 1.6 3.3 1.6 1.9 1 2.3 1 3 1 2.9 1 1.8 1 2.5 1 1.2 1 1.2 1-0.5 1-0.5 1-2.2 1-2.3 1-2.1 1-2.5 1-1.6 1-2.5 1-1.8 1-1.3 1-1.7 1.6-2.5 1.6-1.5 1.6 0.9 1 0.2 1-0.5 1-0.4 1-1.6 1-1.3 1-1 1-1.2 1-0.5 1-1.3 1.6-0.2 1.6-0.5 1.6-0.5 1.6-0.1 1.6-0.4 1.6-0.1 1.6 0.2 1.6-0.6 1.6 0.7 1.6-0.7 1.6-0.6 1.6"/>
<path d="M444.5 144.2l-0.1 1.6-0.7 1.6-0.4 1.6 0.4 1.6 1.1 1.6 0.3 1.6 0.8 1.6 0.3 1.6 1 1.6 0.6 1.6 1.1 1.6 1.8 1.6 2.4 1.6 2.4 1.6 3.7 1.6 2.3 1 3 1 2.2 1 2.5 1 2.2 1 2.5 1 0.6 1 0.8 1-0.4 1-1.8 1-2 1-2.2 1-2.1 1-2.7 1-2 1-1.4 1-2.1 1-1.8 1.6-1.7 1.6-2.2 1.6-1.1 1 0.1 1 0.6 1-0.3 1-0.2 1-1.1 1-0.8 1-1.6 1-0.3 1-0.9 1-0.3 1.6-0.8 1.6-0.7 1.6-0.4 1.6-0.5 1.6 0.2 1.6-0.7 1.6 0.1 1.6-0.2 1.6-0.4 1.6-0.2 1.6-0.2 1.6"/>
<path d="M445.9 144.2l-0.3 1.6 0.2 1.6-0.2 1.6 0.2 1.6-0.3 1.6 0.7 1.6 0.8 1.6 0.6 1.6 1 1.6 1 1.6 1.5 1.6 1.1 1.6 2.3 1.6 2.9 1.6 3.6 1.6 2.3 1 1.9 1 2.8 1 2.6 1 2.7 1 2.5 1 1.6 1 0.9 1-0.2 1-1.4 1-1.1 1-2.5 1-2.1 1-3.1 1-2.4 1-1.7 1-2.2 1-1.4 1-2.3 1.6-2.2 1.6-1.5 1.6 0.8 1-0.1 1 0.6 1-1 1-1 1-2.2 1-1 1-0.9 1-0.3 1-1 1.6-0.9 1.6-1.4 1.6-0.3 1.6-0.1 1.6-0.6 1.6-0.2 1.6 0.3 1.6 0.2 1.6-0.3 1.6-0.6 1.6-0.3 1.6"/>
<path d="M444.9 144.2l0.4 1.6 0.1 1.6-0.7 1.6 0.6 1.6 1.1 1.6-0.1 1.6 1.3 1.6-0.3 1.6 1.5 1.6 0.1 1.6 1 1.6 2.3 1.6 1.4 1.6 3.3 1.6 2.4 1.6 3.1 1.6 2.7 1 1.8 1 2.8 1 2.6 1 2.9 1 2.1 1 2.1 1 0.9 1-1 1-1 1-1.7 1-2.3 1-2.3 1-2.6 1-2.7 1-1.7 1-2 1-1.6 1-3.7 1.6-0.9 1.6-0.5 1 0.2 1 0.9 1-1.4 1-1 1-2.1 1-0.9 1-1.1 1-1.2 1-0.5 1.6-0.6 1.6-1.5 1.6 0.3 1.6-1.1 1.6 0 1.6 0.2 1.6 0.3 1.6-0.8 1.6 0.2 1.6-0.7 1.6-0.2 1.6"/>
<path d="M446.7 144.2l0.5 1.6-0.6 1.6-0.3 1.6 0 1.6 0.6 1.6 0 1.6 0.6 1.6 0.4 1.6 0.5 1.6 1.7 1.6 1.1 1.6 1.5 1.6 2.4 1.6 2.3 1.6 3.3 1.6 3.4 1.6 2.4 1 2.5 1 3 1 2.4 1 2 1 2 1 1.4 1-0.3 1-0.7 1-1.4 1-1.7 1-3 1-3 1-2.1 1-2.5 1-1.7 1-1.9 1-1.7 1.6-2.7 1.6-0.7 1-0.5 1-0.9 1 0.4 1-0.9 1-1.6 1-0.3 1-1.2 1-1.2 1-0.2 1-1.7 1.6 0.2 1.6-1.4 1.6 0 1.6-1.1 1.6 0.3 1.6-0.2 1.6-0.3 1.6 0.7 1.6-1 1.6-0.1 1.6 0 1.6"/>
<path d="M447 144.2l0.4 1.6 0.1 1.6 0.6 1.6-0.3 1.6-0.5 1.6 0.7 1.6 0.2 1.6 0 1.6 1.1 1.6 1.3 1.6 1.4 1.6 1.9 1.6 1.9 1.6 1.8 1.6 2.8 1.6 3 1.6 2.6 1 2.4 1 3.1 1 2.7 1 3.4 1 1.8 1 2.3 1 0.8 1 0.2 1-1.5 1-2.8 1-1.7 1-3.1 1-3.2 1-2.1 1-2.2 1-1.8 1-1.6 1-3.1 1.6-0.3 1.6-0.8 1 0.1 1 0.4 1-1.7 1-0.7 1-2.2 1-0.8 1-1.6 1-0.5 1-1.1 1.6-1.2 1.6-0.1 1.6-0.7 1.6-0.8 1.6-0.2 1.6 0.3 1.6-1.1 1.6 0.1 1.6-0.6 1.6 0.4 1.6 0 1.6"/>
<path d="M448.8 144.2l0.7 1.6 0.1 1.6-0.2 1.6-0.5 1.6 0.3 1.6-0.7 1.6 1.3 1.6 0.5 1.6 0.8 1.6 0.7 1.6 1.5 1.6 2.4 1.6 1.2 1.6 2.3 1.6 1.9 1.6 3.2 1.6 2.5 1 2.3 1 2.6 1 3.2 1 2.9 1 2.9 1 1.8 1 0.7 1 0 1-1.2 1-2.1 1-2.6 1-2.6 1-3 1-2.6 1-1.7 1-1.9 1-1 1-2.4 1.6-1 1.6-0.2 1-0.1 1 0.7 1-0.8 1-2 1-1.6 1-1.2 1-1.1 1-1 1-1.4 1.6-0.2 1.6-0.2 1.6-1 1.6 0 1.6-0.6 1.6-0.8 1.6-0.1 1.6 0.1 1.6-0.6 1.6 0.1 1.6 0.5 1.6"/>
<path d="M447.9 144.2l0.7 1.6-0.2 1.6-0.2 1.6 0 1.6-0.2 1.6 0.8 1.6 0.3 1.6 0.2 1.6 1.1 1.6 2 1.6 1 1.6 1.8 1.6 2 1.6 2.7 1.6 2 1.6 2.9 1.6 2.3 1 3.1 1 2.7 1 2.7 1 3.7 1 2.4 1 1.8 1 1.8 1-0.4 1-1.8 1-1.8 1-2.3 1-2.9 1-2.8 1-2.9 1-1.6 1-2.4 1-1.6 1-3 1.6-1.5 1.6-0.6 1-0.5 1-0.6 1-1.1 1-1.2 1-1 1-1.2 1-0.6 1-0.9 1-1 1.6-1.1 1.6-0.3 1.6-0.3 1.6-0.6 1.6-0.4 1.6 0.2 1.6-0.1 1.6-0.4 1.6 0 1.6-0.2 1.6-0.2 1.6"/>
<path d="M451.2 144.2l0.6 1.6 0.1 1.6 0 1.6 0.8 1.6 0.3 1.6 0.1 1.6 0 1.6 1.7 1.6 0.7 1.6 1.8 1.6 1.3 1.6 1.9 1.6 2.3 1.6 2.4 1.6 3.5 1.6 2 1 2.7 1 3.1 1 2.5 1 3.2 1 2.7 1 2.2 1 1.1 1-1.1 1-1 1-2.5 1-2.8 1-3.5 1-2.3 1-3 1-3.1 1-1.3 1-2.1 1-1.3 1.6-2.6 1.6-0.8 1.6-0.5 1 0.5 1-0.4 1-0.7 1-1.2 1-1.1 1-1.3 1-1.1 1-0.8 1-0.9 1.6-0.8 1.6 0.2 1.6-1.1 1.6 0.4 1.6-1 1.6-0.3 1.6-0.4 1.6-0.2 1.6 0 1.6-0.4 1.6 0.1 1.6"/>
<path d="M452 144.2l1.1 1.6 0.3 1.6-0.5 1.6 0.2 1.6 0.7 1.6-0.4 1.6 1.2 1.6 0.8 1.6 1.2 1.6 1.7 1.6 0.7 1.6 2.2 1.6 1.6 1.6 2.9 1.6 1.9 1.6 4.1 1.6 2.3 1 2.7 1 2.9 1 3.3 1 3.5 1 1.2 1 1.6 1 0.3 1-1.3 1-2.3 1-3.2 1-2.7 1-2.9 1-2.9 1-2.5 1-1.8 1-2.1 1-1.6 1.6-2.8 1.6 0 1-0.6 1 1.1 1-0.8 1-0.7 1-1.7 1-1.2 1-1.3 1-1.2 1-0.7 1-1.6 1.6-0.8 1.6 0.3 1.6-0.5 1.6-1 1.6-0.5 1.6 0.4 1.6-0.2 1.6-0.4 1.6-0.3 1.6 0.4 1.6-0.1 1.6"/>
</g>
<rect x="349.5" y="145.2" width="140.7" height="74.2" fill="none" stroke="#6a6a6a" stroke-width="1"/>
<rect x="499.5" y="145.2" width="140.5" height="74.2" fill="#fff"/>
<clipPath id="cb3"><rect x="499.5" y="145.2" width="140.5" height="74.2"/></clipPath>
<g clip-path="url(#cb3)" fill="none" stroke="#d63636" stroke-opacity="0.66" stroke-width="0.6">
<path d="M505.2 144.2l-0.2 1.6 1.2 1.6-0.1 1.6 1.3 1.6 0.4 1.6 1.5 1.6 1.6 1.6 1.1 1.6 1.5 1.6 1.5 1.6 2.1 1.6 1.9 1.6 2.8 1.6 2.5 1 2.8 1 2.4 1 3 1 3.2 1 2.1 1 2 1 2 1 0.2 1-0.9 1-1 1-2.1 1-1.4 1-3.1 1-2.6 1-2.3 1-2.1 1-2.2 1-3.7 1.6-2 1.6-2.5 1.6-2.9 1.6-0.8 1.6-0.1 1 0 1 0 1-0.6 1-2 1-1 1-1.1 1-0.4 1-0.8 1-0.4 1.6-0.5 1.6-1.4 1.6-0.4 1.6-0.2 1.6-0.4 1.6-0.7 1.6-0.7 1.6 0 1.6-0.2 1.6-0.2 1.6-0.8 1.6"/>
<path d="M507.1 144.2l0.5 1.6-0.3 1.6 0.6 1.6 1.1 1.6 0.7 1.6 0.9 1.6 0.4 1.6 1.3 1.6 0.8 1.6 2.1 1.6 0.6 1.6 2.4 1.6 3.4 1.6 3.5 1.6 2.6 1 3.8 1 3 1 2.5 1 3 1 2.3 1 0.7 1 1.2 1-1 1-0.7 1-1.7 1-3 1-2.6 1-1.8 1-2.4 1-2 1-2.8 1-3 1.6-2.3 1.6-2.6 1.6-2.5 1.6-0.6 1 0.3 1 0.4 1-0.5 1-0.5 1-1.9 1-1.6 1-0.8 1-0.6 1-1.2 1-0.7 1.6-0.5 1.6-1.4 1.6 0.1 1.6-1.2 1.6-0.5 1.6-0.5 1.6-0.6 1.6 0.2 1.6-0.7 1.6-0.3 1.6-0.2 1.6"/>
<path d="M507.9 144.2l0.9 1.6 0.3 1.6 0 1.6 0.8 1.6 1.2 1.6 1.8 1.6 0.9 1.6 1.8 1.6 0.9 1.6 1.6 1.6 2.4 1.6 1.7 1.6 3.3 1.6 2.6 1 2.5 1 2.6 1 2.9 1 2.4 1 2.3 1 1.3 1 1.4 1-0.1 1 0.2 1-1.2 1-1.7 1-2.3 1-2.4 1-1.8 1-2.8 1-2.1 1-1.3 1-2.8 1.6-2.4 1.6-2.7 1.6-2.9 1.6-1.2 1.6 0 1 0.6 1-0.6 1-0.6 1-1.4 1-1.7 1-0.6 1-0.7 1-1.1 1-1 1.6-0.2 1.6-0.4 1.6-0.5 1.6-0.5 1.6-0.9 1.6-0.4 1.6-0.6 1.6 0 1.6-0.9 1.6-0.4 1.6-0.3 1.6"/>
<path d="M510.1 144.2l0.6 1.6 0.2 1.6 0.2 1.6 0.6 1.6 0.5 1.6 1 1.6 1.1 1.6 0.7 1.6 1.2 1.6 1 1.6 1.2 1.6 2 1.6 3.5 1.6 3.2 1.6 3.2 1 2.7 1 3.4 1 2.7 1 2.9 1 2.2 1 0.8 1 0.1 1-0.6 1-1.6 1-1.8 1-2.6 1-1.9 1-2.9 1-1.9 1-2.4 1-2.5 1-2.8 1.6-2.3 1.6-2.2 1.6-2 1.6-1.3 1-0.4 1-0.3 1 0 1-0.3 1-1.7 1-0.3 1-1.5 1-0.4 1-0.8 1 0 1.6-0.9 1.6-0.9 1.6-1.1 1.6-0.4 1.6-0.9 1.6 0 1.6-0.3 1.6-0.4 1.6-0.7 1.6 0.2 1.6-0.9 1.6"/>
<path d="M509.7 144.2l0.8 1.6-0.5 1.6 0.8 1.6 0.6 1.6 0.8 1.6 1.2 1.6 1.1 1.6 1.3 1.6 1.4 1.6 2.7 1.6 1.7 1.6 2.8 1.6 3.1 1.6 2.2 1 2.8 1 2.8 1 2.8 1 2.9 1 1.9 1 2.4 1 1.1 1 0.5 1-0.3 1-1.2 1-2.8 1-2.1 1-2.4 1-2.2 1-2.7 1-2.2 1-2.5 1-2.8 1.6-2.4 1.6-2.3 1.6-2.8 1.6-0.5 1.6-0.5 1 0.7 1 0 1-0.7 1-1.3 1-2.4 1-0.4 1-1.8 1 0.2 1-1.2 1.6-0.4 1.6-0.6 1.6-0.9 1.6-0.5 1.6-0.8 1.6-0.5 1.6 0.2 1.6-0.4 1.6 0.1 1.6-0.7 1.6-0.2 1.6"/>
<path d="M510.8 144.2l0.4 1.6 0.5 1.6 0.2 1.6 0.4 1.6 0.2 1.6 1.1 1.6 0.9 1.6 0.9 1.6 1.7 1.6 1.1 1.6 1.9 1.6 2 1.6 2.1 1.6 4.4 1.6 2.4 1 2.6 1 3 1 3.9 1 2.6 1 1.8 1 1.2 1 1.4 1-0.2 1-1.9 1-1.5 1-2.4 1-2 1-2.9 1-2.7 1-2.6 1-2.1 1-3 1.6-2.9 1.6-1.9 1.6-1.7 1.6-0.2 1 0 1 1 1 0.7 1-1.4 1-1.6 1-2.3 1-1.8 1-1.3 1-1 1-1 1.6-0.3 1.6-0.6 1.6-0.8 1.6-1.4 1.6-0.1 1.6-1.4 1.6-0.1 1.6 0 1.6-0.1 1.6 0 1.6-0.5 1.6"/>
<path d="M508.9 144.2l-0.3 1.6 0.2 1.6-0.3 1.6 0.3 1.6-0.3 1.6 0.2 1.6 0.3 1.6-0.5 1.6 1 1.6-0.3 1.6 0.7 1.6 0.3 1.6 1.6 1.6 0.9 1 2.2 1 1.8 1 2.1 1 2.3 1 2.9 1 1.9 1 1.9 1-0.2 1 0 1-0.5 1-1.9 1-1.6 1-2.8 1-1.6 1-1.2 1-2.1 1-0.5 1-2.2 1.6-0.4 1.6-1.4 1.6-0.4 1.6-0.1 1.6 0.7 1 0 1 0.7 1-0.3 1-0.8 1-0.7 1-1.3 1-0.8 1 0 1-0.7 1.6-0.1 1.6-0.4 1.6-0.2 1.6-0.9 1.6-0.5 1.6-0.6 1.6-0.4 1.6 0.4 1.6 0.1 1.6-0.2 1.6-0.1 1.6"/>
<path d="M509.8 144.2l0.5 1.6 0.1 1.6-0.2 1.6-0.2 1.6 0.7 1.6-0.7 1.6 0.3 1.6 0.5 1.6 0.7 1.6 0 1.6 0.1 1.6 0.5 1.6 1.2 1.6 0.6 1 1.4 1 1.8 1 2.1 1 2.1 1 1.5 1 1.2 1 0.9 1-0.2 1-1.5 1-0.6 1-2.2 1-0.4 1-2.2 1-0.3 1-1.7 1-0.3 1-1.8 1.6-0.7 1.6 0.4 1.6-0.7 1.6-0.8 1.6 1 1 0.3 1 1 1 1.7 1-0.6 1-2.1 1-0.9 1-0.9 1-1.1 1-0.6 1-0.5 1.6-0.6 1.6-0.2 1.6-0.7 1.6 0 1.6-0.2 1.6-0.6 1.6-0.5 1.6-0.7 1.6 0.3 1.6 0 1.6 0 1.6"/>
<path d="M508.9 144.2l-0.7 1.6 0.8 1.6 0.3 1.6 0.4 1.6 0.4 1.6 0.5 1.6 0.1 1.6 0.4 1.6-1 1.6 0.6 1.6 0.3 1.6 0.8 1.6 1.7 1.6 0.9 1 0.8 1 1.5 1 1.3 1 1 1 1.4 1 0.6 1 1.2 1-0.8 1-0.2 1-1 1-1.7 1-0.5 1-1.9 1-0.2 1-0.9 1-1 1-1.5 1-0.5 1.6-2.1 1.6-0.6 1.6 0.6 1.6 0.5 1.6 1.1 1 1.1 1 1 1-0.2 1-1.3 1-1.5 1-1 1-0.6 1-0.1 1-0.8 1.6-1.1 1.6-0.2 1.6 0 1.6-0.1 1.6 0.6 1.6-0.2 1.6 0 1.6-0.1 1.6-0.3 1.6 0.2 1.6-0.5 1.6"/>
<path d="M508.6 144.2l-0.6 1.6 0.4 1.6 0.1 1.6 0.9 1.6 1 1.6-0.3 1.6 1 1.6-0.1 1.6-0.5 1.6 0.1 1.6-0.1 1.6 0.6 1.6 2.1 1.6 1.4 1.6 1.2 1 1.7 1 0.9 1 1.3 1 1.4 1 1.1 1 1.1 1-0.6 1-0.2 1-1.1 1-1.3 1-1.4 1-1.4 1-0.9 1-1.2 1-0.5 1-0.9 1-1.6 1.6-0.9 1.6-1.3 1.6 1.4 1.6-0.3 1 0.7 1 0.9 1 0.5 1 0.4 1-1.6 1-0.5 1-0.6 1-1.3 1-0.4 1-0.1 1.6-0.6 1.6-0.4 1.6 0.6 1.6 0.2 1.6-0.6 1.6 0.1 1.6 0.4 1.6 0 1.6 0.1 1.6-0.5 1.6-0.6 1.6"/>
<path d="M510.6 144.2l0.5 1.6-0.1 1.6-0.2 1.6 0.7 1.6 1 1.6 0.7 1.6 0.4 1.6 0.5 1.6 0.7 1.6-0.3 1.6 0.9 1.6 1.1 1.6 1.2 1.6 1.5 1 1.9 1 2 1 2.9 1 1.1 1 2.5 1 0.1 1 0.1 1-0.5 1-2.1 1-1.8 1-2.1 1-1.2 1-1.4 1-1.5 1-1 1-1.4 1-0.3 1.6-0.9 1.6-1.4 1.6-1 1.6 0.6 1.6 0.3 1 0.5 1 0.5 1 1.6 1-0.2 1-0.9 1-0.8 1-1 1-0.4 1-1.1 1 0.1 1.6-0.9 1.6 0.3 1.6 0 1.6-0.5 1.6 0.8 1.6-0.6 1.6 0.6 1.6 0.3 1.6-0.3 1.6-0.1 1.6-0.2 1.6"/>
<path d="M512.7 144.2l-0.1 1.6 0.9 1.6-0.1 1.6 1.3 1.6 0 1.6 0.3 1.6-0.3 1.6-0.5 1.6 0.1 1.6 0.4 1.6 0.9 1.6 2 1.6 2.2 1.6 1.4 1 1.3 1 1.7 1 2.3 1 2.1 1 1.6 1 2 1 0.7 1-0.6 1-0.8 1-1.4 1-1.7 1-2 1-2.3 1-1.4 1-2.2 1-1 1-1.7 1-2 1.6-1.8 1.6-0.8 1.6 1 1.6 0.9 1.6 1.3 1 1.1 1 1.4 1-0.7 1-1.5 1-0.8 1-2.1 1-0.3 1-1.4 1-0.2 1.6-0.7 1.6-0.3 1.6-0.1 1.6 0.1 1.6-0.7 1.6 0 1.6-0.1 1.6 0.8 1.6-0.3 1.6 0.1 1.6-0.1 1.6"/>
<path d="M510.6 144.2l-0.2 1.6 0.8 1.6 1.1 1.6 0.2 1.6 1.1 1.6 0 1.6-0.3 1.6-0.4 1.6-0.9 1.6 0.3 1.6 0.4 1.6 0.5 1.6 1.2 1.6 2.6 1.6 0.6 1 1.4 1 0.9 1 1.9 1 0.7 1 0.5 1 0.8 1 0.2 1-0.2 1-0.9 1-1.7 1-1.2 1-0.4 1-1.7 1-0.2 1-1.8 1-0.3 1-2.4 1.6-1.2 1.6-1.4 1.6 2.3 1.6 0.1 1 1.4 1 1.1 1 0.4 1 0.2 1-0.6 1-1.5 1-0.8 1-0.4 1-0.8 1 0 1.6-1.3 1.6 0.3 1.6 0.3 1.6-0.7 1.6 0.8 1.6-0.3 1.6-0.2 1.6 0.1 1.6 0.2 1.6-1 1.6 0 1.6"/>
<path d="M514 144.2l-0.5 1.6 0.4 1.6 0.2 1.6 0.1 1.6 0.8 1.6 0.7 1.6 0.8 1.6 0.5 1.6-0.7 1.6 0.4 1.6 0.5 1.6 0.5 1.6 0.9 1.6 1.3 1 1.6 1 1.7 1 1.7 1 2.4 1 1.4 1 0.5 1 0.7 1 0.3 1-1.1 1-1.3 1-1.4 1-1.7 1-1.6 1-1.3 1-1 1-0.9 1-1.2 1-0.6 1.6-1.9 1.6-0.1 1.6 0.6 1.6 0.3 1.6 0.5 1 1.4 1 0.5 1-0.5 1-1 1-1.1 1-0.6 1-1.1 1-0.3 1-0.7 1.6 0.2 1.6-0.5 1.6-0.3 1.6-0.6 1.6 0.4 1.6 0.2 1.6 0.1 1.6-0.2 1.6 0 1.6-0.3 1.6-0.1 1.6"/>
<path d="M514.3 144.2l0 1.6-0.3 1.6 0.4 1.6 1.1 1.6 0.3 1.6 0.4 1.6 1.3 1.6 0.1 1.6-0.5 1.6 0.2 1.6-0.7 1.6 0.9 1.6 1.5 1.6 1.1 1 1.2 1 1.2 1 2.5 1 1.3 1 1.9 1 1.3 1 0.1 1 0.4 1-0.5 1-1.9 1-1.5 1-1.2 1-1.8 1-1.6 1-0.4 1-1.1 1-0.7 1-1.7 1.6-0.7 1.6-1.2 1.6 0.1 1.6-0.7 1.6 0.1 1 1.5 1 0.1 1-0.5 1 0 1-0.7 1-0.7 1-0.3 1-0.6 1-0.4 1.6 0 1.6-0.3 1.6 0 1.6-1 1.6 1 1.6-0.2 1.6 0.3 1.6-0.2 1.6-0.1 1.6 0.1 1.6-0.6 1.6"/>
<path d="M514.7 144.2l0 1.6 0.1 1.6 1.1 1.6 0.5 1.6 0 1.6 1.1 1.6-0.1 1.6-0.7 1.6 0.1 1.6 0.1 1.6 0.6 1.6-0.2 1.6 2.1 1.6 1.1 1.6 1.8 1 1.2 1 1.6 1 1 1 1.6 1 1 1 0.5 1 0.2 1-1 1-0.7 1-1 1-1.4 1-0.8 1-1.2 1-1 1-0.8 1-1.5 1-0.8 1.6-1.2 1.6-1.7 1.6 1.2 1.6 0.5 1 0.8 1 1.5 1 0.4 1-0.1 1-0.4 1-1.4 1-1.6 1-0.2 1-0.6 1-0.9 1.6 0.1 1.6-0.2 1.6 0.1 1.6-0.3 1.6 0.3 1.6 0.3 1.6-0.7 1.6-0.2 1.6 0.4 1.6-0.5 1.6 0.3 1.6"/>
<path d="M516.9 144.2l0.3 1.6 0.1 1.6 1 1.6 0.3 1.6 0.5 1.6-0.1 1.6 0.9 1.6 0.4 1.6 0.2 1.6 0.5 1.6 1.9 1.6 0.8 1.6 2.8 1.6 0.7 1 2.4 1 1.2 1 2.2 1 1.8 1 0.7 1 0.7 1 0.9 1-0.9 1-1.8 1-1.3 1-2.5 1-0.9 1-2.3 1-0.8 1-2.2 1-0.6 1-0.8 1-1.6 1.6-1.3 1.6-0.5 1.6 0 1.6 0.5 1.6-0.2 1 1.2 1 0.4 1 0 1-0.7 1-0.8 1-1.6 1-0.6 1-0.4 1-0.8 1.6-0.8 1.6 0.1 1.6-0.9 1.6 0.2 1.6 0.6 1.6-0.3 1.6-0.5 1.6 0.7 1.6-0.3 1.6-0.6 1.6 0.7 1.6"/>
<path d="M518.9 144.2l-0.1 1.6 0.9 1.6-0.5 1.6 1.1 1.6-0.1 1.6 0.4 1.6 0.4 1.6 0 1.6 0.6 1.6-0.2 1.6 0.7 1.6 1.6 1.6 1.1 1.6 2 1.6 1.5 1 1.4 1 2.2 1 1.9 1 1.6 1 1.1 1 0.8 1-0.3 1-0.5 1-1.4 1-2.6 1-1.7 1-2.1 1-1.1 1-1.7 1-1.7 1-1.3 1-1.2 1.6-1.3 1.6-0.9 1.6 1.1 1.6 1.1 1 0.3 1 2.1 1 0.7 1 0.4 1-1.6 1-1.8 1-1.3 1-1.5 1-0.1 1-0.8 1.6-1.2 1.6 0.1 1.6-0.3 1.6-0.4 1.6-0.5 1.6-0.1 1.6 0.7 1.6-0.3 1.6 0.4 1.6-0.5 1.6-0.2 1.6"/>
<path d="M517.4 144.2l0.4 1.6 0 1.6 0.2 1.6 1.5 1.6 0.3 1.6 0 1.6 0.2 1.6 0.2 1.6 0 1.6 0.5 1.6 1.5 1.6 0.9 1.6 2 1.6 2.3 1.6 2.5 1 1.9 1 1.7 1 1.8 1 2 1 1.2 1 1.3 1 0.1 1-0.5 1-1.4 1-2.3 1-1.4 1-2.2 1-2.3 1-1.7 1-1.5 1-1.5 1-1.9 1.6-1.2 1.6-1.3 1.6-0.2 1.6 0 1 0.4 1 0.9 1 0.9 1-0.7 1-1.2 1-0.6 1-0.9 1-1.1 1-0.1 1-0.5 1.6-0.6 1.6-0.9 1.6-0.2 1.6-0.4 1.6-0.1 1.6 0.4 1.6-0.4 1.6-0.1 1.6-0.5 1.6 0.4 1.6 0.1 1.6"/>
<path d="M520.5 144.2l-0.3 1.6 0.5 1.6 0.2 1.6 0.5 1.6 0.5 1.6 0.9 1.6 0.2 1.6-0.6 1.6 1 1.6-0.1 1.6 1.2 1.6 1.2 1.6 2.1 1.6 1.5 1 2.7 1 1.2 1 2.1 1 2.2 1 0.7 1 1.7 1 0.3 1-0.4 1-1.6 1-2 1-2.4 1-1.4 1-2.1 1-2.1 1-1.2 1-1.5 1-0.9 1-1.2 1.6-1.3 1.6-1.7 1.6 1.5 1.6 0.5 1.6 1.2 1 1.3 1 0.1 1 0.1 1-1.2 1-1.6 1-0.6 1-1.3 1-0.9 1-0.9 1.6-0.6 1.6 0.3 1.6-0.3 1.6-0.5 1.6-0.5 1.6 0 1.6-0.1 1.6 0.5 1.6-0.6 1.6 0.8 1.6-0.4 1.6"/>
<path d="M519.8 144.2l-0.8 1.6 1.2 1.6 0.1 1.6 0.3 1.6 0.7 1.6 0.9 1.6-0.1 1.6 0.4 1.6-0.4 1.6 1 1.6 1.2 1.6 1.9 1.6 1.8 1 1.7 1 2 1 1.2 1 2.4 1 1.6 1 1.9 1 0 1 0 1 0 1-1.6 1-1.4 1-2.3 1-1.5 1-2.1 1-0.5 1-1.3 1-1.8 1-0.7 1.6-1.6 1.6-1.4 1.6-0.7 1.6-0.1 1.6 0.1 1.6 1.2 1 1.6 1 0.7 1-0.3 1-1.2 1-1.3 1-0.7 1-1.3 1-0.2 1-0.9 1.6-0.7 1.6-0.9 1.6-0.1 1.6-0.1 1.6-0.1 1.6 0 1.6-0.4 1.6-0.2 1.6 0 1.6-0.1 1.6-0.2 1.6"/>
<path d="M520.2 144.2l0 1.6 0.4 1.6 0.9 1.6 0.4 1.6 0.6 1.6 0 1.6-0.1 1.6 0.3 1.6 0.3 1.6 0.7 1.6 1.7 1.6 1.7 1.6 2.2 1.6 1 1 2.3 1 0.9 1 1.7 1 2.2 1 1.4 1 1.9 1 0.3 1 0.2 1-0.5 1-1.4 1-1.8 1-1.9 1-1.8 1-2 1-1.7 1-1.7 1-0.9 1-2.4 1.6-1.1 1.6-1 1.6 0.2 1.6 0.2 1.6 1.4 1 0.7 1 1.1 1 0 1-1.8 1-1 1-1.2 1-0.8 1-0.9 1-1 1.6-0.6 1.6-0.5 1.6 0.2 1.6-0.3 1.6 0.1 1.6 0.7 1.6-0.7 1.6 0.2 1.6-0.1 1.6-0.5 1.6 0.1 1.6"/>
<path d="M522.4 144.2l-0.2 1.6-0.2 1.6 1 1.6 0.7 1.6-0.4 1.6 0.8 1.6 0.2 1.6-0.2 1.6-0.2 1.6 0.2 1.6 0.6 1.6 0.3 1.6 1.6 1.6 2.6 1.6 0.4 1 1.8 1 0.7 1 1.2 1 1.2 1 0.8 1-0.1 1-0.2 1-0.7 1-0.7 1-2 1-0.7 1-1.2 1-1.5 1-0.7 1-1.3 1-1.4 1-1 1.6-1.2 1.6-1.1 1.6 1.3 1.6 0.1 1 0.6 1 0.5 1 1.3 1-0.8 1-0.7 1-0.9 1-1 1 0.1 1-1.2 1 0.1 1.6-1.3 1.6-0.6 1.6 0.5 1.6-0.4 1.6 0.3 1.6-0.3 1.6 0.6 1.6 0 1.6-0.6 1.6 0.6 1.6 0.2 1.6"/>
<path d="M523.4 144.2l0.1 1.6-0.3 1.6 0.3 1.6 1.4 1.6 0.3 1.6 0.2 1.6 0.1 1.6 0.4 1.6 0 1.6-0.5 1.6 1.3 1.6 0.7 1.6 2.6 1.6 1.9 1.6 1.5 1 1.9 1 2.3 1 1.6 1 1.4 1 1.8 1 0.8 1-0.1 1-1.5 1-1.7 1-1.9 1-1.2 1-2 1-1.6 1-1.9 1-1.7 1-1.3 1-2.2 1.6-1.3 1.6-1.3 1.6 0.7 1.6 1.1 1 0.1 1 1.7 1 0.6 1-0.6 1-0.5 1-1.4 1-1.1 1-1.2 1-0.5 1-0.6 1.6-1 1.6 0 1.6 0 1.6 0.1 1.6-0.7 1.6-0.2 1.6 0.1 1.6 0.1 1.6-0.1 1.6 0.1 1.6 0.2 1.6"/>
<path d="M521.1 144.2l0.4 1.6-0.2 1.6 0.2 1.6 1.5 1.6 0.6 1.6 0.5 1.6-0.1 1.6 0.3 1.6 0.3 1.6-0.2 1.6 0.2 1.6 1.2 1.6 2.2 1.6 2.4 1.6 2.1 1 1.6 1 2.3 1 2.6 1 2.4 1 1.7 1 0.7 1 0.7 1-0.3 1-1.5 1-0.8 1-1.8 1-1.4 1-2.1 1-0.4 1-1.3 1-1.6 1-1 1.6-2.4 1.6-0.7 1.6-1.8 1.6 0.3 1 0.8 1 0.7 1 0.2 1-0.3 1-0.5 1-1.3 1-0.9 1-0.8 1 0.1 1-0.3 1.6-0.9 1.6-0.3 1.6-0.1 1.6-0.7 1.6 0.1 1.6-0.5 1.6 0 1.6-0.3 1.6-0.7 1.6-0.3 1.6-0.8 1.6"/>
<path d="M522.4 144.2l0.5 1.6 0.1 1.6 0.2 1.6 0.7 1.6 0.9 1.6 0 1.6-0.2 1.6 0.8 1.6 0 1.6-0.7 1.6 0.3 1.6 1.4 1.6 1.4 1.6 1.7 1 1.6 1 1.5 1 2.2 1 1.1 1 1.5 1 1.9 1 0.6 1-0.2 1-1.1 1-1.4 1-1.2 1-0.8 1-1.1 1-0.7 1-0.4 1-1.1 1-0.9 1-0.6 1.6-0.7 1.6-0.8 1.6-1.3 1.6 0 1.6 1 1 0.8 1 0.8 1-0.6 1-0.7 1-1.2 1-0.5 1-0.2 1-0.8 1-0.1 1.6-1 1.6-0.4 1.6 0.2 1.6-0.7 1.6 0 1.6 0.1 1.6-0.2 1.6-0.8 1.6-0.6 1.6-0.4 1.6 0.6 1.6"/>
<path d="M523.6 144.2l-0.2 1.6 0.9 1.6 0.6 1.6 0.8 1.6 0.2 1.6 0.8 1.6-0.1 1.6 0.3 1.6 0 1.6 0 1.6 1 1.6 0.1 1.6 2 1.6 2.1 1.6 2 1 1.1 1 2.9 1 1.6 1 1.8 1 1.7 1 2.1 1-0.3 1-0.5 1-0.9 1-1.6 1-1.1 1-1.5 1-1.8 1-1.2 1-1.1 1-1.1 1-1.7 1.6-1.3 1.6-0.5 1.6-1.4 1.6 0.2 1 1 1 1.1 1 0.6 1-0.5 1-1.3 1-0.8 1-1 1-0.5 1-0.8 1-0.8 1.6 0.2 1.6-0.2 1.6-0.6 1.6 0.2 1.6-1 1.6-0.4 1.6 0.6 1.6-0.7 1.6 0 1.6-1.3 1.6 0.1 1.6"/>
<path d="M523.9 144.2l0.1 1.6-0.2 1.6 1.1 1.6 0.7 1.6 0.3 1.6-0.3 1.6 0.3 1.6 0 1.6 0.2 1.6-0.1 1.6 0.3 1.6 1.3 1.6 2.1 1.6 1.7 1 1.6 1 2.3 1 1.7 1 2.1 1 1.5 1 1.7 1 0.7 1-1 1-0.3 1-1.1 1-1.2 1-1.3 1-1.5 1-1.3 1-0.8 1-0.4 1-1.7 1.6-1.4 1.6-0.5 1.6-0.7 1.6-1.2 1.6 1.3 1 0.2 1 1.3 1 1.1 1-0.1 1-1.1 1-1.7 1-0.8 1-1 1-0.2 1-1.2 1.6 0.1 1.6-0.5 1.6-0.6 1.6-0.4 1.6-0.6 1.6-0.5 1.6-0.4 1.6 0.1 1.6-0.8 1.6 0.1 1.6-0.3 1.6"/>
<path d="M525.8 144.2l0.2 1.6-0.3 1.6 0.5 1.6 1 1.6 0 1.6 0.5 1.6 1.2 1.6-0.4 1.6-0.4 1.6 0.4 1.6-0.3 1.6 0.5 1.6 0.2 1.6 0.8 1 1.9 1 1.1 1 2.3 1 1.1 1 2.1 1 1.1 1 0.3 1 0 1-0.4 1-0.8 1-0.8 1-1.3 1-0.3 1-0.7 1-0.9 1-0.9 1-0.3 1-0.7 1.6-0.5 1.6-0.3 1.6-0.9 1.6-0.2 1.6 1.4 1 0.7 1 1 1-0.2 1-0.5 1-2 1-0.5 1-0.4 1-0.5 1-0.7 1.6-0.2 1.6-0.6 1.6-0.3 1.6-1 1.6-0.1 1.6-0.3 1.6 0.3 1.6-0.2 1.6-0.4 1.6-0.6 1.6-0.5 1.6"/>
<path d="M526 144.2l0.3 1.6 0.9 1.6 0.1 1.6 1.4 1.6 0.2 1.6 0.6 1.6 0.6 1.6-0.7 1.6 0.3 1.6-0.7 1.6-0.7 1.6 0.8 1.6 0.8 1.6 1.3 1 1 1 1.2 1 1.3 1 2 1 1.6 1 0.8 1 1.1 1 0.6 1-1 1 0.2 1-1 1-1.4 1-0.2 1-1.4 1-0.4 1-0.5 1-0.6 1-0.9 1.6-1 1.6-1.1 1.6-1.1 1.6 0.8 1.6 0.3 1 1.8 1 0 1 0.1 1-0.6 1-1.1 1-0.7 1-0.6 1-0.7 1-0.5 1.6-1 1.6-0.4 1.6 0.2 1.6-0.9 1.6 0.1 1.6 0.3 1.6-0.3 1.6-0.8 1.6-0.3 1.6-1.2 1.6-0.4 1.6"/>
<path d="M528.3 144.2l-0.2 1.6-0.4 1.6 0.8 1.6 1.1 1.6 0.3 1.6 0.5 1.6 0.7 1.6-0.5 1.6 0.6 1.6 0 1.6-0.4 1.6 1.3 1.6 0.9 1.6 1.8 1 1.6 1 1.2 1 2.4 1 1.1 1 2 1 1 1 0 1 0.1 1-1.1 1-1.5 1-0.9 1-1.6 1-0.1 1-1.2 1-0.7 1-0.7 1-0.9 1.6-0.6 1.6-0.4 1.6-1.2 1.6-0.8 1.6 0.1 1 1.1 1 1 1 0.1 1 0.7 1-1.6 1-0.7 1-0.6 1-0.7 1-0.8 1-0.5 1.6-0.5 1.6-0.1 1.6-0.5 1.6-0.2 1.6-0.7 1.6 0.1 1.6 0.3 1.6-1.2 1.6-0.2 1.6 0 1.6-0.5 1.6"/>
<path d="M526.4 144.2l0.4 1.6 0.4 1.6 0.8 1.6 1.3 1.6 1.2 1.6-0.3 1.6 0.4 1.6 0.1 1.6-0.2 1.6-0.8 1.6 0.7 1.6 1.1 1.6 1.3 1.6 2.4 1.6 1.4 1 1.6 1 2 1 2 1 1.6 1 2.4 1 0.7 1 0.6 1-0.3 1-0.7 1-0.9 1-1.4 1-1 1-0.9 1-1.1 1-1.4 1-0.5 1-1.6 1.6-2.1 1.6-1.2 1.6-0.2 1.6-0.4 1 1.5 1 0.7 1 1 1 0.1 1-1 1-1.6 1-1.6 1 0 1-0.4 1-0.9 1.6-1 1.6-0.2 1.6-0.5 1.6-0.1 1.6 0.2 1.6-0.6 1.6-0.4 1.6-0.2 1.6-0.5 1.6-0.8 1.6 0.3 1.6"/>
<path d="M525.1 144.2l0.1 1.6 0.9 1.6 1.2 1.6-0.5 1.6 0.6 1.6 1.3 1.6 0.2 1.6 0.5 1.6 0.6 1.6 1.4 1.6 0.4 1.6 1.6 1.6 0.4 1.6 1.3 1 0.7 1 0.6 1 1.4 1 1.2 1 2 1 1.1 1 0.6 1 0.8 1-0.3 1-0.9 1-0.7 1-1.7 1-0.8 1-1.2 1-1.4 1-0.8 1-0.3 1-2 1.6-0.2 1.6-0.2 1.6-0.9 1.6-0.1 1.6 1.1 1 0.1 1 1.1 1-0.6 1-1.3 1-0.5 1-1.2 1-0.1 1-0.4 1-0.6 1.6 0.1 1.6-0.3 1.6 0 1.6 0.4 1.6 0.2 1.6-0.4 1.6-0.2 1.6-0.1 1.6-0.2 1.6-0.2 1.6-0.4 1.6"/>
<path d="M527.1 144.2l0.2 1.6 0 1.6 0.4 1.6 0.8 1.6 0.8 1.6 0.4 1.6 0.6 1.6 0.9 1.6 0.2 1.6 1.3 1.6 0.2 1.6 1.3 1.6 1.3 1.6 1.2 1 0.8 1 1 1 1.6 1 1.2 1 0.9 1 0.7 1-0.1 1 0.5 1-0.4 1-1.7 1-1 1-0.5 1-1.1 1-1.3 1-0.9 1-0.8 1-0.4 1-1.3 1.6-0.5 1.6 0.4 1.6-0.5 1.6 0.5 1.6 0.8 1 1.2 1 1.3 1-0.5 1-1.5 1-1.5 1-0.3 1-1.1 1-0.6 1 0.2 1.6-1.1 1.6 0.7 1.6-0.4 1.6 0.7 1.6-0.2 1.6-0.1 1.6 0.5 1.6-0.3 1.6-0.5 1.6 0.2 1.6-1 1.6"/>
<path d="M528.9 144.2l0.2 1.6 0.5 1.6 1 1.6 0.1 1.6 1.6 1.6 0.3 1.6 0.3 1.6 1.1 1.6 0.4 1.6 1.3 1.6 1.7 1.6 1.9 1.6 1.5 1.6 1.8 1 0.7 1 2 1 1.4 1 2.3 1 1.1 1 1.8 1 0.6 1-0.2 1-1.1 1-1.4 1-1.7 1-1.4 1-1.4 1-2 1-1.1 1-1.3 1-1.1 1-2 1.6-1.3 1.6-0.5 1.6 0.5 1.6 0.9 1.6 0.5 1 1.5 1 0.1 1 0.3 1-1.5 1-1.7 1-0.9 1-1.5 1-0.3 1-1.1 1.6 0.7 1.6-0.9 1.6 0.8 1.6-0.1 1.6 0.2 1.6 0.5 1.6 0 1.6-0.6 1.6-0.2 1.6 0.2 1.6-0.4 1.6"/>
<path d="M528.8 144.2l0.1 1.6 0.4 1.6 1 1.6 0.5 1.6-0.6 1.6 1.2 1.6 0.4 1.6 0.6 1.6 0.3 1.6 1.8 1.6 0.7 1.6 1.5 1.6 1.4 1.6 0.7 1 1.2 1 1 1 1.1 1 0.3 1 1 1 1.3 1 0.3 1 0.4 1-0.8 1-0.6 1-1.3 1-1.1 1-1.3 1-0.9 1-1.2 1-0.4 1-1.4 1.6-0.6 1.6-0.3 1.6-0.2 1.6-0.1 1.6 1 1 0.4 1 1.2 1 1.1 1-1 1-0.6 1-1.8 1-1 1-0.9 1 0.2 1-0.4 1.6-0.4 1.6 0.4 1.6 0.6 1.6-0.4 1.6-0.1 1.6 0 1.6 0.1 1.6-0.2 1.6-0.5 1.6 0.7 1.6 0 1.6"/>
<path d="M530 144.2l-0.6 1.6 0.3 1.6 0.5 1.6 0.7 1.6 1 1.6 0.7 1.6 0 1.6 0.5 1.6 1 1.6 1.2 1.6 1.7 1.6 1.2 1.6 1.6 1.6 1.5 1.6 1.8 1 1.3 1 2 1 2 1 1.5 1 1 1 1.2 1 0.5 1-1.2 1-0.4 1-1.4 1-2.1 1-1.2 1-2 1-0.8 1-1.5 1-0.4 1-2.2 1.6-1.1 1.6-0.6 1.6-0.3 1.6-0.4 1 1.2 1 0.6 1 0 1 0 1-1 1-1.6 1-0.3 1-0.4 1-0.3 1-1.4 1.6 0.6 1.6 0 1.6 0 1.6 0.3 1.6-0.3 1.6-0.1 1.6 0.6 1.6-0.4 1.6-0.4 1.6 0.1 1.6-0.8 1.6"/>
<path d="M529.9 144.2l0.1 1.6 0.3 1.6 1.2 1.6 0.4 1.6 0.6 1.6 0.6 1.6 0.8 1.6 0.6 1.6 0.3 1.6 2 1.6 1.1 1.6 2.3 1.6 1.6 1.6 1.5 1 2.3 1 2 1 1.6 1 1.5 1 2 1 0.8 1 0.8 1-0.3 1-1.1 1-2 1-1.5 1-2.3 1-1.2 1-2.3 1-1 1-1.4 1-1.6 1-1.6 1.6-0.7 1.6-1.2 1.6 0.1 1.6 0.3 1.6 0 1 0.2 1 0.6 1-0.5 1-0.1 1-1.4 1-0.9 1-0.3 1-0.5 1-0.5 1.6 0 1.6 0.5 1.6-0.1 1.6 0.2 1.6 0.2 1.6-0.2 1.6 0.2 1.6 0.3 1.6-0.4 1.6-0.6 1.6 0.7 1.6"/>
<path d="M531 144.2l0 1.6 0.2 1.6 0.4 1.6 0.6 1.6 0.6 1.6 0.7 1.6-0.1 1.6 1.1 1.6 0.2 1.6 1.3 1.6 1.5 1.6 1.5 1.6 1.5 1.6 1.1 1 1.7 1 1 1 1.2 1 2 1 1.9 1 1.2 1 0.2 1 0.8 1-0.1 1-1 1-0.8 1-1.3 1-1.5 1-1.7 1-1.8 1-1.3 1-0.4 1-2.4 1.6-0.7 1.6-0.4 1.6-0.2 1.6 0.9 1.6 0.5 1 0.4 1 1.1 1-0.5 1-0.9 1-1.6 1-0.5 1-1.6 1-0.5 1-0.3 1.6 0.6 1.6 0.2 1.6-0.4 1.6 0.6 1.6 0 1.6-0.2 1.6 0.1 1.6-0.9 1.6 0.5 1.6-0.5 1.6-0.1 1.6"/>
<path d="M532 144.2l0.1 1.6 1 1.6 0.1 1.6 0.2 1.6 1.1 1.6 0 1.6 0.9 1.6-0.2 1.6 1.1 1.6 0.8 1.6 1.9 1.6 0.4 1.6 2.1 1.6 0.6 1 1 1 1 1 1.8 1 1.7 1 1.4 1 0.8 1 0.2 1-0.1 1-1 1-0.5 1-1.8 1-0.3 1-2.1 1-1 1-1.4 1-0.2 1-0.9 1-1.9 1.6-0.8 1.6-0.1 1.6 0.8 1.6 0.1 1.6 1 1 1.7 1 0.8 1-0.8 1-1.1 1-1.3 1-1.8 1-1.1 1-0.6 1-0.3 1.6 0 1.6 0.5 1.6-0.7 1.6 0.9 1.6-0.1 1.6-0.2 1.6-0.9 1.6 0.6 1.6-0.4 1.6 0.2 1.6 0 1.6"/>
<path d="M535 144.2l0.9 1.6 0.3 1.6 1.4 1.6 0.2 1.6 0.5 1.6-0.1 1.6 0 1.6-0.8 1.6 0.1 1.6 0.8 1.6 1.1 1.6 1.2 1.6 1.2 1 0.9 1 0.1 1 1.8 1 1.2 1 0.9 1 0.6 1 0.5 1 0.8 1-0.9 1-0.7 1-0.5 1-1.6 1-0.7 1-1.7 1-1.1 1-1.2 1-1.3 1-1.8 1.6-1.4 1.6-1.4 1.6-0.4 1.6 3.4 1.6 1.2 1.6 0.9 1 1.5 1 0.9 1-0.3 1-0.8 1-1.6 1-1 1-0.3 1-0.7 1-0.2 1.6-0.1 1.6 0.4 1.6 0 1.6 0 1.6 0 1.6 0.1 1.6-0.8 1.6-0.4 1.6 0 1.6 0.1 1.6 0 1.6"/>
<path d="M538.3 144.2l1.1 1.6 0.5 1.6 0.9 1.6-0.3 1.6 0.5 1.6 0.4 1.6-0.5 1.6 0.6 1.6 0.4 1.6-0.1 1.6 0.7 1.6 1 1.6 0.2 1.6 1 1 0.6 1 1.2 1 1.6 1 1.1 1 1.5 1 0 1 0.4 1 0 1-0.7 1-1.4 1-1.6 1-0.9 1-1.8 1-1.3 1-1.8 1-1 1-1.1 1.6-1.2 1.6-1 1.6-0.4 1.6 1.9 1.6 0.4 1-0.1 1 0.6 1 1.1 1-0.5 1-0.4 1-1.5 1-0.6 1 0 1 0.2 1-0.6 1.6 0.2 1.6 0.9 1.6-0.8 1.6 0.4 1.6 0.1 1.6-0.7 1.6-0.1 1.6 0.3 1.6-0.2 1.6 0 1.6 0 1.6"/>
<path d="M539.1 144.2l0 1.6 1.4 1.6 0 1.6 1 1.6-0.8 1.6 0.1 1.6 0.4 1.6 0.3 1.6 0.3 1.6 0.5 1.6 1.5 1.6 1.4 1.6 2 1.6 1 1 1.2 1 1.5 1 2.3 1 1.1 1 0.9 1 1 1-0.1 1-0.4 1-1.7 1-1.6 1-2.1 1-1.2 1-2 1-1.4 1-2.2 1-0.9 1-2 1.6-1.8 1.6-1.2 1.6 0 1.6 2.2 1.6 1.1 1 0.3 1 1.6 1 0.5 1-0.3 1-0.6 1-1.5 1-1 1-0.5 1-0.2 1 0 1.6-0.6 1.6 0.3 1.6 0.2 1.6-0.2 1.6 0 1.6 0.1 1.6-0.2 1.6-0.9 1.6 0.7 1.6 0.3 1.6-0.4 1.6"/>
<path d="M537.8 144.2l0.5 1.6 0.3 1.6 1.4 1.6 0.2 1.6 1.1 1.6-0.4 1.6 0.3 1.6-0.5 1.6 0.7 1.6 0.5 1.6 0.4 1.6 1.2 1.6 1.1 1.6 0.5 1 1.1 1 1.5 1 1.5 1 1.2 1 1.5 1 1.4 1 0.8 1-0.5 1-0.5 1-1.1 1-1.7 1-1.9 1-1.2 1-1.5 1-1.9 1-1.1 1-1.7 1-1.5 1.6-0.9 1.6-0.9 1.6 1.5 1.6 1 1.6 0.5 1 1.3 1 0.6 1 0.3 1-1 1-1.2 1-1.3 1-0.2 1-0.4 1-0.2 1.6 0.2 1.6 0.3 1.6-0.2 1.6 0.1 1.6-0.4 1.6 0.9 1.6-0.5 1.6-0.5 1.6-0.1 1.6-0.7 1.6 0 1.6"/>
<path d="M539.2 144.2l0.6 1.6 1.4 1.6 0.6 1.6 0.3 1.6 0.7 1.6-0.9 1.6 0.4 1.6-0.7 1.6 0.3 1.6 1.2 1.6-0.2 1.6 1.2 1.6 1 1.6 0.7 1.6 0.7 1 1.2 1 1.5 1 1.1 1 0.7 1 1.8 1 0.5 1 0.2 1 0.2 1-1.1 1-1 1-1.4 1-1.5 1-0.8 1-1.7 1-1.9 1-0.9 1-1.8 1.6-1.4 1.6-0.6 1.6 3.1 1.6 0.6 1 0.8 1 1.4 1 0.8 1-0.1 1-1.3 1-1.8 1-1 1-0.3 1-0.9 1-0.1 1.6 0 1.6 0.4 1.6 0 1.6-0.1 1.6 0.6 1.6-0.2 1.6-0.9 1.6 0.1 1.6-0.4 1.6-0.5 1.6 0.2 1.6"/>
<path d="M542.9 144.2l-0.1 1.6 0.9 1.6 0.4 1.6 0.5 1.6-0.2 1.6 0.5 1.6-0.9 1.6 0.5 1.6 0.3 1.6-0.2 1.6 0.7 1.6 0.5 1.6 1 1.6 1.5 1.6 1 1 0.7 1 1.8 1 1.2 1 0.8 1 0.6 1 1.1 1 0.2 1-0.7 1-1.6 1-0.6 1-2.2 1-1 1-2.4 1-1.1 1-1.1 1-1.7 1-1.5 1.6-1.2 1.6 0.2 1.6 2.4 1.6-0.2 1 0.8 1 0.8 1 0.7 1 0.3 1-1.4 1-0.7 1-1.1 1-0.5 1 0.1 1-0.7 1.6 0.5 1.6 0.1 1.6 0 1.6-0.8 1.6 0.2 1.6-0.5 1.6-0.3 1.6 0.3 1.6-0.3 1.6 0.7 1.6 0.2 1.6"/>
<path d="M540.7 144.2l1.3 1.6 0.2 1.6 1 1.6 0.3 1.6 0 1.6-0.6 1.6-0.2 1.6 0 1.6-0.5 1.6 0.7 1.6 0.8 1.6 1.1 1.6 1.1 1.6 0.5 1 1.7 1 0.3 1 1.3 1 1.1 1 1.6 1 1.1 1 0.8 1 0.1 1-1.2 1-1 1-1.2 1-1.5 1-1.4 1-0.9 1-2 1-0.7 1-1.2 1-1.5 1.6-1.7 1.6-0.2 1.6 2.5 1.6 0.5 1.6 0.7 1 0.9 1 1.3 1 0 1-1.4 1-0.6 1-1 1-0.8 1 0.2 1-1 1.6 0.1 1.6 0.3 1.6-0.1 1.6-0.2 1.6-0.2 1.6-0.4 1.6-0.2 1.6 0.2 1.6 0.1 1.6-0.1 1.6 0.1 1.6"/>
<path d="M543.6 144.2l1.8 1.6 0.9 1.6 0.6 1.6 0.1 1.6-0.2 1.6 0 1.6-0.5 1.6 0.2 1.6 0.8 1.6 0.3 1.6 0.8 1.6 0.2 1.6 1.5 1.6 0.9 1 0.9 1 0.9 1 1.9 1 1 1 2 1 1.7 1 0.8 1 0.5 1 0.1 1-1.9 1-1.4 1-1.7 1-1.5 1-2.1 1-1.3 1-2.5 1-1.2 1-1.5 1.6-1.3 1.6-1.3 1.6 1.6 1.6 0.5 1.6 0.5 1 1.2 1 1 1-0.6 1-0.9 1-0.6 1-1.5 1 0 1-0.7 1 0.3 1.6-0.1 1.6-0.2 1.6 0.2 1.6 0.1 1.6-0.1 1.6-0.6 1.6-0.2 1.6-0.1 1.6-0.6 1.6 0.7 1.6 0.2 1.6"/>
<path d="M543.2 144.2l0.4 1.6-0.4 1.6-0.1 1.6 0.1 1.6 0.4 1.6 0.3 1.6 1.4 1.6-0.2 1.6 1.5 1.6 0.5 1.6 0.3 1.6 0.5 1.6 0.7 1.6 1.3 1 1.1 1 1.9 1 0.7 1 1.7 1 1 1 0.8 1 1 1-0.7 1-1.6 1-0.8 1-1.7 1-2.3 1-1.5 1-1.4 1-0.8 1-1.2 1-0.2 1-0.5 1.6-0.7 1.6 0.1 1.6 1 1.6 0.4 1.6 1.4 1 1.4 1 0.8 1 0 1-2.1 1-0.7 1-1.5 1-1.4 1-0.2 1-0.5 1.6 0.1 1.6-1 1.6-0.5 1.6 0.5 1.6-0.8 1.6 0.1 1.6 0.6 1.6 0 1.6 0.1 1.6 0.1 1.6 0 1.6"/>
<path d="M544.8 144.2l-0.5 1.6 0.2 1.6 0.7 1.6 0.4 1.6 0.4 1.6 0 1.6 1 1.6 0.7 1.6 0.8 1.6 0.4 1.6 0.4 1.6 0.5 1.6 1.6 1.6 1.5 1 2 1 1 1 1.8 1 2.5 1 1 1 0.7 1 0.7 1-0.8 1-1 1-2.1 1-1.6 1-2.4 1-2.1 1-0.8 1-1.6 1-0.6 1-2 1.6-0.5 1.6-0.9 1.6-0.6 1.6 1.4 1.6 0.2 1 0.9 1 1.3 1 0.5 1 0.1 1-0.9 1-1.4 1-1.3 1-0.9 1-0.6 1-0.6 1.6-0.3 1.6-0.2 1.6-0.8 1.6-0.4 1.6 0.2 1.6-0.2 1.6 0.5 1.6 0 1.6 0.4 1.6-0.2 1.6-0.6 1.6"/>
<path d="M545.7 144.2l0 1.6-0.1 1.6 0.2 1.6-0.4 1.6-0.1 1.6 0.6 1.6 1.1 1.6 1.1 1.6 0.1 1.6 0.3 1.6 1.1 1.6 1.1 1.6 0.4 1.6 1.5 1 1 1 1.9 1 0.9 1 1.8 1 1.2 1 0.7 1-0.1 1 0 1-1 1-0.9 1-2.6 1-1.1 1-1.2 1-1.8 1-0.7 1-0.8 1-0.8 1-1.1 1.6 0.1 1.6-0.7 1.6 0.3 1.6 0.8 1.6-0.1 1 1.5 1 0.2 1-0.2 1-0.6 1-1.3 1-0.5 1-1.3 1-0.1 1-0.3 1.6-0.6 1.6-0.7 1.6-0.3 1.6 0.2 1.6 0.2 1.6-0.1 1.6-0.4 1.6 0.7 1.6 0.2 1.6 0.7 1.6-0.6 1.6"/>
<path d="M546.5 144.2l1 1.6-0.2 1.6-0.3 1.6 0.2 1.6 0.8 1.6 0.4 1.6 0.4 1.6 1 1.6 1.7 1.6-0.2 1.6 1 1.6 1.4 1.6 1.1 1.6 0.7 1 0.8 1 2.3 1 1.3 1 2.1 1 1.4 1 0.9 1 1.1 1 0 1-1.5 1-1.8 1-1.6 1-1.7 1-2.7 1-2.1 1-1 1-1.5 1-1.4 1-0.6 1.6-0.1 1.6-0.3 1.6 0.6 1.6 0.3 1.6 1.1 1 1.1 1 1 1-0.6 1-1 1-1.3 1-1.8 1-0.5 1-0.5 1-0.7 1.6 0 1.6 0.2 1.6-0.3 1.6-0.8 1.6-0.1 1.6 0.4 1.6-0.2 1.6-0.1 1.6 0.8 1.6-0.5 1.6-0.3 1.6"/>
<path d="M546.7 144.2l0.3 1.6-0.1 1.6 0.6 1.6-0.2 1.6 0.5 1.6 1.2 1.6 0.3 1.6 0.2 1.6 0.9 1.6 0.3 1.6 0.2 1.6 0.6 1.6 1 1.6 2.3 1.6 1 1 1.6 1 0.7 1 1.8 1 1.3 1 0 1 0.4 1-0.3 1-1.1 1-0.7 1-1.7 1-1.2 1-1.6 1-2 1-0.9 1-1.1 1-0.9 1 0 1.6-1.5 1.6-0.4 1.6 0.8 1.6-0.9 1 1.3 1 0.5 1-0.2 1 0.3 1-0.4 1-1.5 1-0.2 1-0.3 1-0.9 1-0.3 1.6-0.2 1.6 0.2 1.6-0.8 1.6-0.1 1.6 0 1.6 0.4 1.6 0.1 1.6 0.3 1.6-0.1 1.6-0.3 1.6 0.2 1.6"/>
<path d="M547.4 144.2l0.2 1.6-0.7 1.6 0.5 1.6 0.2 1.6 0.7 1.6 1.3 1.6 0.9 1.6 0.9 1.6 0.1 1.6 0.9 1.6 0.3 1.6 0.2 1.6 1.5 1.6 2.3 1.6 1.8 1 1.7 1 1.9 1 2 1 1.1 1 2.2 1 0.4 1 0.5 1-0.9 1-1.2 1-1.9 1-2.3 1-2.7 1-1.4 1-1.4 1-1.9 1-1.2 1-0.7 1-1.1 1.6-0.4 1.6-1.1 1.6 1 1.6 0.1 1 1.2 1 1 1-0.5 1-1.5 1-1.3 1-0.9 1-0.8 1-0.3 1-0.6 1.6-0.1 1.6-0.5 1.6 0.4 1.6-0.4 1.6-0.4 1.6 0 1.6 0.1 1.6 0 1.6 0.1 1.6 0.1 1.6 0 1.6"/>
<path d="M549.3 144.2l1 1.6-0.5 1.6 0.3 1.6-0.1 1.6 0.6 1.6 0.6 1.6 1.2 1.6 1.4 1.6 0.1 1.6 1.3 1.6 0 1.6 1.7 1.6 1.3 1.6 1.4 1 1.3 1 1.9 1 1.5 1 1.5 1 2.2 1 0.7 1-0.2 1-0.1 1-1.3 1-2.2 1-2.6 1-1.9 1-2.7 1-1.8 1-1.3 1-1.1 1-1.2 1.6-0.5 1.6-0.8 1.6 0 1.6 0.4 1.6 0.7 1 0.2 1 0.9 1 0.6 1-0.7 1-0.5 1-0.6 1-1 1-1 1 0.3 1-0.4 1.6-0.4 1.6 0.1 1.6-0.5 1.6-0.3 1.6-0.6 1.6-0.1 1.6 0.9 1.6-0.1 1.6 0.2 1.6-0.8 1.6 0.4 1.6"/>
<path d="M550.4 144.2l0.9 1.6-0.6 1.6 0.4 1.6-0.5 1.6 0.5 1.6 0.5 1.6 1.3 1.6 0.8 1.6 0.3 1.6 0.8 1.6 0.5 1.6-0.1 1.6 1.1 1.6 1.2 1 1.1 1 1.7 1 1 1 1.6 1 1.2 1 0.6 1 0.7 1 0 1-0.9 1-1.8 1-2.2 1-1.9 1-1.4 1-1.4 1-0.9 1-1.4 1-0.7 1-0.2 1.6-0.8 1.6-0.6 1.6 0.2 1.6 0.5 1.6 0.1 1 1.5 1-0.5 1 0.7 1-1 1-1 1-0.3 1-0.6 1-0.6 1 0.4 1.6-0.6 1.6-1 1.6-0.1 1.6 0.3 1.6-0.6 1.6 0.2 1.6 0 1.6 0.3 1.6 0.3 1.6 0.1 1.6 0.5 1.6"/>
<path d="M549.3 144.2l-0.9 1.6 0.3 1.6 0.9 1.6 0.9 1.6 0.7 1.6 1 1.6 0.6 1.6 1.1 1.6-0.4 1.6 0.6 1.6 0.7 1.6 1.4 1.6 1.1 1.6 1.3 1 0.8 1 1.2 1 0.9 1 0.2 1 0.3 1 1.1 1-0.4 1-0.9 1-1.4 1-0.7 1-0.8 1-1.3 1-0.7 1-0.5 1 0 1 0.4 1-0.1 1.6-0.6 1.6-0.4 1.6-0.5 1.6-0.1 1.6 0.5 1 0.4 1 1.8 1 0.5 1-0.5 1-1.1 1-1 1-1.4 1-1.1 1-0.6 1-0.3 1.6-0.6 1.6 0.4 1.6 0.1 1.6-0.6 1.6 0.1 1.6 0.1 1.6 0.2 1.6-0.4 1.6 0.2 1.6-1 1.6-0.4 1.6"/>
<path d="M549.6 144.2l0.1 1.6 0.9 1.6 0.2 1.6 0.9 1.6 0.8 1.6 1.2 1.6 0 1.6 0.6 1.6 1.6 1.6 1.2 1.6 1.7 1.6 1.5 1.6 1.4 1.6 1.4 1 1.8 1 1.7 1 1.4 1 1.6 1 1 1 1.1 1 0.9 1-0.6 1-1.2 1-1.7 1-1.4 1-2.1 1-1.4 1-2.3 1-0.9 1-1.4 1-0.5 1-1.3 1.6-1.2 1.6-0.8 1.6-0.2 1.6 0.9 1.6 1.5 1 1.2 1 0.9 1-0.3 1-1.6 1-2.3 1-1.4 1-1.1 1-0.5 1-0.6 1.6-0.8 1.6 0.1 1.6-0.3 1.6 0.1 1.6 0.2 1.6 0.6 1.6-0.2 1.6 0 1.6-0.8 1.6-0.4 1.6-0.3 1.6"/>
<path d="M552.4 144.2l-0.4 1.6 1.2 1.6 0.3 1.6 0.3 1.6 0.6 1.6 0.5 1.6 0.9 1.6 0.5 1.6 0.6 1.6 1.2 1.6 1 1.6 2.7 1.6 1.8 1.6 1.2 1 0.7 1 1.6 1 1.4 1 2 1 1.3 1 1.1 1 1.3 1-0.6 1-0.8 1-1.2 1-1.7 1-2.3 1-1.2 1-2.2 1-1 1-1.6 1-0.8 1-2.2 1.6-1 1.6-0.9 1.6-0.1 1.6 0.3 1.6 0.8 1 1 1 1.1 1-0.8 1-0.9 1-1.6 1-0.5 1-1.2 1-0.3 1-1.4 1.6-0.2 1.6-0.2 1.6 0.1 1.6-0.3 1.6 0.7 1.6-0.5 1.6 0.7 1.6-1.1 1.6 0.1 1.6 0 1.6-0.7 1.6"/>
<path d="M549.8 144.2l-0.3 1.6 1.1 1.6 0.4 1.6 1.6 1.6 0.3 1.6 1 1.6 1.1 1.6 0.6 1.6 0.5 1.6 0.5 1.6 1.4 1.6 1.4 1.6 1.8 1.6 0.1 1 2 1 0.3 1 1.6 1 1.2 1 0 1 1 1-0.4 1-0.3 1-1.2 1-1.3 1-0.6 1-1.3 1-1.1 1-1.6 1-0.6 1-0.3 1-0.9 1-0.8 1.6-0.6 1.6-0.9 1.6-0.9 1.6 0.6 1.6 1.2 1 0.6 1 0.9 1 0.1 1-1.4 1-1.5 1-0.7 1-0.3 1-1.1 1 0.3 1.6-0.6 1.6-0.5 1.6 0.7 1.6-0.1 1.6 0.2 1.6 0.8 1.6-0.2 1.6 0.1 1.6-1.1 1.6-0.1 1.6-0.5 1.6"/>
<path d="M553.9 144.2l-0.1 1.6 0.7 1.6 0.1 1.6 0.5 1.6 1 1.6 1 1.6 1.6 1.6 0.2 1.6 0.5 1.6 1.6 1.6 0.5 1.6 2.2 1.6 1.5 1.6 1.1 1.6 0.9 1 1.1 1 1.2 1 1.9 1 0.7 1 1.4 1 0.4 1-0.9 1-0.4 1-2 1-1.7 1-0.9 1-1.3 1-1.6 1-1.5 1-0.1 1-1.6 1-0.9 1.6-1 1.6 0.1 1.6-0.5 1.6 0.6 1 0.4 1 0.9 1 0.3 1-0.3 1-1.1 1-1.4 1-0.6 1-0.8 1-1.3 1-1 1.6 0.3 1.6-0.8 1.6 0.5 1.6-0.2 1.6 0.2 1.6 0.2 1.6-0.3 1.6 0.4 1.6 0 1.6-0.9 1.6-0.7 1.6"/>
<path d="M552.4 144.2l0.6 1.6 0 1.6 1.5 1.6 0.2 1.6 1.6 1.6 0.9 1.6 0.6 1.6 0.4 1.6 0.1 1.6 0.8 1.6 0.5 1.6 1 1.6 1.6 1.6 1.4 1 0.9 1 1 1 1.1 1 1.3 1 1.2 1 0.8 1 0.4 1-1 1-0.8 1-1.4 1-1.1 1-1.5 1-1.4 1-1 1-0.9 1-0.2 1-1.2 1-1.1 1.6-0.5 1.6-0.7 1.6-0.4 1.6-0.1 1.6 1 1 0.6 1 0.5 1-0.3 1-0.9 1-0.5 1-1.5 1-0.2 1-0.2 1-0.8 1.6 0 1.6-0.3 1.6 0.2 1.6-0.6 1.6 0.4 1.6 0.3 1.6-0.4 1.6 0.1 1.6-1.1 1.6 0.2 1.6-0.9 1.6"/>
<path d="M553.2 144.2l0.7 1.6-0.3 1.6 1.5 1.6 0.2 1.6 1.6 1.6 0.8 1.6 0.7 1.6 0.8 1.6-0.1 1.6 1.1 1.6 1.9 1.6 0.2 1.6 2.1 1.6 0.8 1 0.2 1 1.4 1 0.8 1 1 1 0.8 1 0.9 1 0.6 1 0.6 1-0.9 1-1.2 1-0.9 1-1 1-1.4 1-1.5 1-0.3 1-0.8 1-1.5 1-1 1.6-0.9 1.6 0.1 1.6-1 1.6 1.3 1.6 0.2 1 1.1 1 1.3 1-1 1-1 1-1.5 1-1.1 1-0.8 1-0.8 1-1.2 1.6 0.6 1.6-0.4 1.6 0.5 1.6 0.5 1.6-0.3 1.6-0.2 1.6-0.1 1.6-0.3 1.6-0.1 1.6-0.8 1.6 0 1.6"/>
<path d="M555.7 144.2l-0.2 1.6 0.9 1.6 0.4 1.6 1.5 1.6 0.5 1.6 1.2 1.6 0.4 1.6 0.7 1.6 0.2 1.6 1.7 1.6 1.2 1.6 0.5 1.6 1.4 1.6 1.3 1 1.6 1 0.5 1 1.3 1 0.8 1 0.3 1 0.7 1-0.5 1-0.8 1-1.5 1-1 1-2.1 1-0.9 1-0.9 1-0.8 1-1.3 1-0.8 1-0.3 1.6-0.8 1.6-0.5 1.6-0.5 1.6-0.1 1.6 0.5 1 0.2 1 0.7 1 1.4 1-1.1 1-1 1-0.9 1-1 1-0.3 1-0.7 1-0.3 1.6 0.1 1.6-0.8 1.6 0.4 1.6 0.3 1.6 0.5 1.6-0.3 1.6-0.3 1.6-0.1 1.6-0.4 1.6-0.4 1.6-0.3 1.6"/>
<path d="M558.5 144.2l-0.3 1.6 0 1.6-0.4 1.6 0.7 1.6 0.2 1.6 0.4 1.6 0.7 1.6 1.8 1.6 0.7 1.6 1 1.6 1.9 1.6 0.4 1.6 2.3 1.6 0.5 1 1.2 1 2 1 1.4 1 1.7 1 2 1 0.8 1 0 1-1.1 1-1.3 1-1.7 1-2.7 1-1.8 1-2.3 1-1.3 1-1.7 1-1.4 1-0.2 1.6-1.2 1.6 0.4 1.6-0.3 1.6 0.5 1.6 0.1 1 0.8 1 1.3 1 0.7 1 0.5 1-1.9 1-1.5 1-2 1-1 1-0.6 1-0.2 1.6-0.4 1.6 0.1 1.6 0.1 1.6-0.7 1.6 0.4 1.6-0.4 1.6-0.5 1.6 1 1.6-0.4 1.6-0.4 1.6 0.4 1.6"/>
<path d="M559.1 144.2l0.3 1.6 0 1.6-0.1 1.6-0.5 1.6-0.1 1.6 0.4 1.6 0.9 1.6 0.7 1.6 1.5 1.6 0.5 1.6 1.3 1.6 0.7 1.6 0.6 1.6 0.2 1 1.6 1 1 1 0.4 1 2.2 1 0.8 1 1 1 0.9 1 0.9 1-0.5 1-1 1-1.7 1-2.2 1-0.9 1-1.7 1-2 1-0.7 1-0.6 1-1.4 1.6 0.4 1.6-0.3 1.6-0.7 1.6 1 1.6-0.1 1 0.7 1 0.6 1 0 1-1.8 1-1.2 1-0.7 1-0.1 1-0.9 1 0.2 1.6-0.6 1.6 0.1 1.6-0.6 1.6 0.1 1.6 0.2 1.6 0.1 1.6-0.1 1.6 0.1 1.6-0.3 1.6 0 1.6 0.2 1.6"/>
<path d="M560.1 144.2l-0.1 1.6 1.1 1.6-0.8 1.6 0.5 1.6-0.6 1.6-0.2 1.6 0.7 1.6 0.6 1.6 1.1 1.6 0.9 1.6 0.8 1.6 0.8 1.6 1.1 1.6 0.6 1 0.5 1 1.6 1 0.8 1 0.9 1 1.7 1 0.4 1 1.1 1 0.2 1-0.6 1-1 1-1 1-1.8 1-2 1-1.8 1-1.2 1-0.9 1-1.2 1-0.6 1.6-0.5 1.6 1.1 1.6-0.1 1.6 0.7 1.6 0.8 1 0.7 1 0.6 1-0.5 1-1.1 1-1.4 1-0.7 1-1.2 1-0.4 1-0.2 1.6-0.3 1.6 0.1 1.6 0.1 1.6-0.2 1.6-0.9 1.6 0.1 1.6 0.3 1.6-0.7 1.6 0.2 1.6 0.2 1.6-0.1 1.6"/>
<path d="M560.2 144.2l-0.3 1.6 0.5 1.6-0.2 1.6 0.7 1.6 0.4 1.6-0.2 1.6 0.9 1.6 1.9 1.6 0.6 1.6 1.5 1.6 1.3 1.6 0.9 1.6 1.6 1.6 1.4 1 1.4 1 1.2 1 1.9 1 2.4 1 2 1 1.4 1 0.3 1-0.6 1-0.9 1-2.5 1-1.8 1-2.6 1-2.4 1-1.7 1-2.1 1-1.6 1-0.9 1-1.3 1.6 0 1.6-0.6 1.6 0.3 1.6 0.3 1.6 0.4 1 0.4 1-0.1 1 0.1 1-1.5 1-0.6 1-0.8 1-1.5 1 0 1 0 1.6-0.7 1.6 0.1 1.6-0.7 1.6 0 1.6 0.1 1.6 0.4 1.6-0.1 1.6-0.1 1.6 0.5 1.6 0.3 1.6-0.7 1.6"/>
<path d="M560.8 144.2l0.2 1.6 0.4 1.6 0 1.6-0.5 1.6 1 1.6 0.3 1.6-0.2 1.6 1 1.6 1.6 1.6 0.4 1.6 1.3 1.6 0.5 1.6 0.6 1.6 0.4 1 0.3 1 1.1 1 1.3 1 0.8 1 1.4 1 0.7 1 0.8 1-0.6 1-0.3 1-0.8 1-1.1 1-2.2 1-0.7 1-1.6 1-1 1-1.4 1-0.4 1-0.6 1.6-0.4 1.6 0.4 1.6-0.3 1.6 1.6 1.6 1 1 1.3 1 0.4 1-0.5 1-1 1-1.5 1-2.2 1-0.2 1-0.8 1-1.1 1.6 0.7 1.6 0 1.6-0.6 1.6 0 1.6-0.7 1.6 0.1 1.6-0.1 1.6 0.1 1.6 0.4 1.6 0.4 1.6-0.4 1.6"/>
<path d="M563.9 144.2l-0.3 1.6-0.3 1.6-0.1 1.6-0.8 1.6 0.6 1.6-0.1 1.6 0.5 1.6 1.7 1.6 0.5 1.6 0.7 1.6 1 1.6 0.3 1.6 1.2 1.6 0.8 1 1 1 1.3 1 1.2 1 1.5 1 1.5 1 1.5 1-0.3 1 0.2 1-1.5 1-1.9 1-1.5 1-1.6 1-2.5 1-1.1 1-1 1-1.7 1 0 1-0.7 1.6 0.4 1.6 0.6 1.6-0.6 1.6 1.4 1.6 0.6 1-0.1 1 1.1 1-0.7 1-0.5 1-1.4 1-1.1 1 0.2 1-0.6 1-0.8 1.6 0.4 1.6-0.9 1.6-0.6 1.6 0 1.6-0.3 1.6 0.3 1.6-0.1 1.6 0.2 1.6 0.4 1.6-0.5 1.6 0.3 1.6"/>
<path d="M562.9 144.2l0.6 1.6 0.2 1.6-0.6 1.6 0.2 1.6-0.4 1.6 0.5 1.6 1 1.6 0.7 1.6 1.8 1.6 0.5 1.6 0.7 1.6 1 1.6 1.2 1.6 1.1 1 0.6 1 1.6 1 1.7 1 1.5 1 1 1 1.3 1 0.2 1-0.3 1-0.9 1-2.1 1-1.3 1-2.6 1-1.5 1-2.2 1-1.5 1-0.9 1-0.9 1-0.4 1.6-0.6 1.6 0.4 1.6 0.7 1.6 0.7 1.6 0.2 1 0.9 1 0.4 1-0.3 1-1 1-1.2 1-1.2 1-0.5 1-0.5 1 0.2 1.6-0.6 1.6-0.4 1.6 0.2 1.6-0.7 1.6 0.1 1.6 0.1 1.6 0.3 1.6-0.4 1.6 0.4 1.6 0.2 1.6 0.1 1.6"/>
<path d="M564.2 144.2l0.6 1.6 0 1.6-0.2 1.6 0.1 1.6-0.3 1.6 1.2 1.6 0.2 1.6 1.1 1.6 1.5 1.6 0.3 1.6 1.5 1.6 0.5 1.6 1.4 1.6 0.3 1 0.8 1 1.1 1 1.2 1 2 1 0.9 1 0.2 1 0.6 1-0.7 1-0.4 1-1.9 1-1.9 1-0.8 1-2 1-1 1-1.8 1-1 1-0.9 1.6-0.4 1.6-0.1 1.6 0.3 1.6 0.5 1.6 0.3 1 1.5 1 0.5 1 1.1 1-0.9 1-0.8 1-2.4 1-1 1-0.2 1-0.6 1-0.6 1.6-0.2 1.6-0.1 1.6-0.2 1.6-0.3 1.6-0.1 1.6-0.5 1.6 0.3 1.6-0.1 1.6 0.3 1.6-0.5 1.6 0.2 1.6"/>
<path d="M562 144.2l-0.3 1.6 0.1 1.6 0.8 1.6 0 1.6 0 1.6 0.4 1.6 0.6 1.6 1 1.6 1.6 1.6 1 1.6 0.9 1.6 0.7 1.6 0.3 1.6 1.3 1 0.3 1 1.5 1 1.4 1 1.4 1 1.5 1 0.8 1 1.1 1-0.1 1 0 1-1.1 1-1.1 1-1.9 1-1.4 1-1.1 1-1.2 1-1.8 1-1 1-0.3 1.6-0.8 1.6-0.3 1.6-0.2 1.6 0.4 1.6 0.8 1 0.9 1-0.2 1-0.1 1-1.5 1-1.4 1-1 1 0 1-0.8 1-0.4 1.6 0.5 1.6 0.1 1.6 0 1.6-0.7 1.6 0.5 1.6-0.6 1.6 0.3 1.6 0.3 1.6-0.2 1.6 0.3 1.6 0.2 1.6"/>
<path d="M563.5 144.2l0.7 1.6 0.2 1.6 0.7 1.6 0 1.6-0.3 1.6 0.7 1.6 0.6 1.6 0.7 1.6 1.7 1.6 1.1 1.6 1.3 1.6 0.9 1.6 0.5 1.6 1.2 1 0.4 1 1.7 1 1.3 1 0.3 1 2 1 0.3 1 0 1-0.2 1-0.1 1-1.1 1-1.5 1-1.4 1-0.9 1-1.8 1-0.6 1-1 1-1.4 1.6-0.7 1.6-0.3 1.6 1 1.6-0.5 1.6 0.7 1 1.2 1 0.3 1 1.1 1-1 1-1.1 1-1.6 1-1.1 1-0.8 1-0.7 1-0.4 1.6-0.3 1.6 0.4 1.6 0.7 1.6-0.2 1.6-0.4 1.6-0.4 1.6 0.2 1.6-0.2 1.6 0.6 1.6 0.2 1.6-0.2 1.6"/>
<path d="M563.6 144.2l0 1.6-0.1 1.6 0.6 1.6 0.7 1.6 0.1 1.6 0.3 1.6 1.3 1.6 0.2 1.6 1.2 1.6 1 1.6 0.4 1.6-0.2 1.6 0.6 1.6 0.4 1 0.6 1 0.9 1 1.3 1 0.8 1 1.6 1 0.7 1 1.5 1 0.1 1-0.4 1-1.2 1-1.1 1-0.9 1-1.6 1-0.8 1-0.7 1-0.8 1-0.6 1-1.3 1.6-0.1 1.6 0.2 1.6-0.8 1.6 0.8 1.6 0.2 1 0.2 1 0.2 1-0.9 1-0.6 1-0.3 1-0.7 1-1.2 1 0.5 1-0.2 1.6-0.1 1.6 0.6 1.6-0.4 1.6 0.9 1.6-0.4 1.6 0.1 1.6-0.6 1.6 0.3 1.6-0.2 1.6 0.3 1.6-0.7 1.6"/>
<path d="M566.1 144.2l0.1 1.6-0.2 1.6 0.1 1.6-0.5 1.6 0.9 1.6-0.2 1.6 0.7 1.6 1.3 1.6 2 1.6 1 1.6 0.7 1.6 0.6 1.6 1.2 1.6 0.8 1.6 1 1 1.6 1 0.8 1 1.5 1 2.1 1 1.4 1 0.2 1 0.2 1-0.9 1-0.5 1-2 1-1.8 1-1.1 1-1.8 1-1.8 1-1.1 1-0.3 1-0.6 1.6-0.4 1.6-0.8 1.6-0.3 1.6 0.7 1 0.6 1-0.3 1 0.6 1-0.5 1-1.4 1-1.4 1-0.1 1-1.3 1 0 1-0.5 1.6 0.2 1.6 0 1.6 0 1.6-0.3 1.6 0 1.6 0.2 1.6 0.6 1.6 0.4 1.6-0.2 1.6-0.1 1.6-0.2 1.6"/>
<path d="M566.8 144.2l-0.1 1.6-0.6 1.6-0.1 1.6 0.2 1.6 0.1 1.6 0.9 1.6 0.6 1.6 1.3 1.6 0.8 1.6 1.6 1.6 0.6 1.6 1.2 1.6 0.1 1.6 0.7 1 1.3 1 0.4 1 1.3 1 1.5 1 1.2 1 0.1 1 0.8 1-0.6 1-1.4 1-0.8 1-0.8 1-1.6 1-1.5 1-1 1-0.9 1-0.5 1-0.4 1.6-0.2 1.6 0.1 1.6-0.2 1.6-0.1 1.6-0.3 1 1.4 1-0.2 1 0.7 1-0.7 1-1 1-0.7 1-1.5 1-0.2 1-0.7 1-0.6 1.6 0.1 1.6 0.6 1.6-0.2 1.6 0.5 1.6-0.5 1.6 0.2 1.6 0.2 1.6 0.6 1.6 0 1.6-0.3 1.6 0.6 1.6"/>
<path d="M567 144.2l0.2 1.6 0.8 1.6 0 1.6-0.1 1.6 0.9 1.6-0.3 1.6 1.2 1.6 0.6 1.6 0.9 1.6 0.5 1.6 1 1.6 1.3 1.6 0.2 1.6 0.5 1.6 1.3 1 0.9 1 1.1 1 0.4 1 2 1 0.7 1 0.9 1-0.3 1 0.4 1-1.3 1-1.4 1-0.7 1-1.5 1-1.1 1-1.9 1-1 1-0.9 1-0.6 1.6-0.9 1.6 0.1 1.6 1 1.6 0.1 1 0.4 1 0.8 1 0.9 1-0.7 1-1 1-1.4 1-0.8 1-1.3 1 0.2 1-0.5 1.6-0.1 1.6 0.6 1.6-0.5 1.6-0.2 1.6 0.4 1.6 0 1.6 0.4 1.6-0.4 1.6-0.2 1.6 0.3 1.6-0.4 1.6"/>
<path d="M566.9 144.2l0 1.6 0.2 1.6 0.9 1.6 0.4 1.6 0.1 1.6 0.2 1.6 0.6 1.6 1 1.6 1.4 1.6 1.4 1.6 1.4 1.6 2 1.6 1.7 1.6 0.8 1 1.8 1 2.1 1 1.8 1 1.3 1 2 1 0.2 1 0.8 1-1.2 1-1 1-1.7 1-1.9 1-1.9 1-1.8 1-1.3 1-1.6 1-0.6 1-2.4 1.6-1 1.6-0.7 1.6-0.5 1.6 0.5 1.6 0.8 1 0.2 1 1.6 1 0.4 1 0 1-1.4 1-2.2 1-0.6 1-1.3 1 0 1-1 1.6 0.2 1.6-0.3 1.6 0.8 1.6 0 1.6-0.3 1.6 0.3 1.6-1 1.6 0.4 1.6-0.3 1.6 0.4 1.6-0.1 1.6"/>
<path d="M568.1 144.2l0 1.6 0.7 1.6 0.4 1.6-0.6 1.6 0.1 1.6 0.9 1.6-0.3 1.6 1.3 1.6 1.9 1.6 0.9 1.6 2 1.6 1.5 1.6 1.1 1.6 1.1 1 1.6 1 1.5 1 0.6 1 2.6 1 0.8 1 1.4 1 0.6 1 0.6 1-1.1 1-1.7 1-1 1-2.3 1-1.7 1-1.5 1-1.9 1-2 1-0.5 1-1.6 1.6-0.8 1.6 0.2 1.6-0.2 1.6 0.7 1.6 1.2 1 1 1 0.6 1-0.7 1-1.6 1-1.5 1-1.1 1-1.2 1-0.4 1 0 1.6-0.7 1.6 0.6 1.6-0.2 1.6 0.3 1.6 0.2 1.6-0.6 1.6 0.6 1.6-0.4 1.6 0 1.6 0 1.6 0.4 1.6"/>
<path d="M572.2 144.2l-0.1 1.6 0.5 1.6-0.5 1.6-0.4 1.6-0.2 1.6 0.6 1.6 0.5 1.6 1 1.6 0.9 1.6 0.2 1.6 1.8 1.6 0.4 1.6 1 1.6 1.4 1 0.7 1 1.2 1 2.1 1 2 1 1.1 1 1.3 1 0.5 1-0.1 1-0.9 1-0.9 1-2.2 1-1.5 1-1.8 1-1.4 1-1 1-1.3 1-1.2 1.6-0.2 1.6-0.3 1.6 0.6 1.6 0.4 1.6 0.5 1 0.9 1 1.4 1 0.9 1-0.7 1-1.2 1-2.4 1-0.8 1-1.1 1-1.2 1 0.1 1.6-1 1.6-0.1 1.6 0.1 1.6-0.2 1.6 0 1.6-0.5 1.6 0.3 1.6 0.2 1.6-0.1 1.6-0.7 1.6 0.2 1.6"/>
<path d="M570.9 144.2l0.6 1.6-0.9 1.6 0.5 1.6-1.3 1.6-0.5 1.6-0.2 1.6 1 1.6 0.7 1.6 1.3 1.6 0.2 1.6 1.1 1.6 0.6 1.6 0.9 1.6 0.6 1.6 1.5 1 1 1 2.1 1 2.3 1 1.2 1 1.8 1 1.2 1 0.9 1-1.2 1-0.7 1-0.9 1-1.7 1-2.4 1-1.1 1-1.6 1-0.8 1-0.9 1-0.1 1.6-0.8 1.6 0.7 1.6-0.5 1.6-0.2 1 0.3 1 1.1 1 0.2 1-0.5 1-1.3 1-0.9 1-1.3 1-0.6 1-0.2 1-0.2 1.6-0.2 1.6 0.2 1.6 0.2 1.6-1.2 1.6-0.1 1.6 0.2 1.6-0.3 1.6-0.2 1.6 0.2 1.6 0.7 1.6 0.1 1.6"/>
<path d="M572.2 144.2l0.5 1.6-0.1 1.6-0.5 1.6-0.2 1.6 0.6 1.6-0.7 1.6 0.3 1.6 0.6 1.6 0.9 1.6 1.7 1.6 0.7 1.6 1.1 1.6 1.7 1.6 0.4 1 0.5 1 1.8 1 0.8 1 1.4 1 1.7 1 1.1 1-0.2 1-0.1 1-0.4 1-1.8 1-0.8 1-1.1 1-1 1-2 1-0.8 1-0.4 1-1.5 1.6-0.8 1.6 0 1.6 1.2 1.6-0.7 1.6 0.6 1 0.7 1 1 1 0 1 0 1-1.4 1-1.7 1-0.5 1-0.8 1-0.8 1 0.5 1.6-0.2 1.6-0.5 1.6 0.3 1.6-0.5 1.6-0.3 1.6 0.1 1.6-0.4 1.6-0.3 1.6 0.5 1.6 0.4 1.6 0.1 1.6"/>
<path d="M573.7 144.2l0.4 1.6-0.2 1.6-0.1 1.6 0.7 1.6-0.4 1.6 0.3 1.6-0.6 1.6 1.2 1.6 0.2 1.6 1.7 1.6 1.3 1.6 0.9 1.6 1.1 1.6 1 1 1.4 1 2.1 1 1 1 2.5 1 1.3 1 1.7 1 1.1 1 0.7 1-0.6 1-1.1 1-1.8 1-2 1-1.1 1-2 1-1.7 1-0.5 1-1.1 1-1.4 1.6-0.6 1.6-0.5 1.6-0.4 1.6 1.2 1.6 0.7 1 1.1 1 0.8 1 0 1-1.8 1-2.1 1-1.1 1-0.4 1-0.9 1-0.9 1.6-0.4 1.6 0.8 1.6-0.1 1.6-0.1 1.6-0.9 1.6-0.3 1.6-0.1 1.6 0.4 1.6-0.8 1.6 0.6 1.6 0.1 1.6"/>
<path d="M574.4 144.2l0.7 1.6 0.1 1.6-0.1 1.6-0.9 1.6-0.7 1.6-0.1 1.6 0.2 1.6 0.3 1.6 1 1.6 1 1.6 1.2 1.6 0.1 1.6 1.4 1.6 1.2 1.6 0.8 1 1.4 1 1 1 2.5 1 1.4 1 2.8 1 1.6 1 0.6 1-0.2 1-1.3 1-0.8 1-1.8 1-2.2 1-1.8 1-1.4 1-1.2 1-1.3 1-0.9 1-0.4 1.6-0.8 1.6-0.1 1.6 0.8 1.6-0.1 1 0.6 1 1.1 1-1.3 1-0.9 1-1.6 1-0.8 1-0.1 1-0.5 1-1 1.6-0.4 1.6 0.3 1.6 0.3 1.6-0.9 1.6 0.2 1.6-0.5 1.6-0.3 1.6 0.2 1.6-0.1 1.6 0.4 1.6-0.7 1.6"/>
<path d="M575.7 144.2l1.1 1.6-0.2 1.6 0.6 1.6 0 1.6-0.6 1.6-0.3 1.6-0.5 1.6 0.8 1.6 0.6 1.6 0.8 1.6 0.9 1.6 0.8 1.6 0.4 1.6 0.6 1 0.5 1 1.2 1 1.1 1 1.8 1 1.4 1 1.1 1 1.6 1-0.1 1 0.4 1-0.2 1-1.5 1-1 1-1.4 1-1.7 1-0.5 1-1.6 1-1.2 1-1.2 1.6 0.1 1.6-0.5 1.6 0.4 1.6 0.1 1.6 1.2 1 1.4 1 0.3 1-0.5 1-1.7 1-1.4 1-1.3 1-0.4 1-0.9 1 0.5 1.6-0.8 1.6 0.6 1.6 0 1.6-0.4 1.6-0.2 1.6-0.7 1.6-0.2 1.6-0.5 1.6 0.5 1.6-0.2 1.6-0.3 1.6"/>
<path d="M575.9 144.2l1 1.6-0.5 1.6-0.1 1.6 0.1 1.6-0.2 1.6-0.6 1.6 1 1.6 0.1 1.6 0.4 1.6 1.1 1.6 0.6 1.6 0.4 1.6 0 1.6 0.1 1 0.6 1 0.6 1 1.1 1 1.8 1 0.7 1 1.4 1 0.8 1 1.4 1-0.6 1-0.9 1-0.9 1-1.3 1-1.2 1-1.6 1-1.4 1-0.7 1-0.9 1-0.3 1.6 0.2 1.6 0 1.6 0.7 1.6 0.4 1.6 0.7 1 0.7 1 0.8 1-0.4 1-1.1 1-1.8 1-0.8 1-0.8 1-0.5 1 0.5 1.6 0 1.6 0.2 1.6-0.8 1.6-0.3 1.6-0.1 1.6 0.2 1.6-1.1 1.6 0 1.6-0.2 1.6 0.9 1.6-0.8 1.6"/>
<path d="M578 144.2l-0.1 1.6 0.2 1.6 0.5 1.6-0.8 1.6 0.2 1.6-0.8 1.6 0 1.6 1 1.6 0.9 1.6 0.1 1.6 0.5 1.6 0.6 1.6 0.3 1.6 0.4 1.6 0.5 1 0.9 1 1.8 1 1.1 1 1.8 1 1.5 1 0.2 1 0.9 1 0 1-1.3 1-0.7 1-1.7 1-0.5 1-2.1 1-0.5 1-0.9 1-1.2 1-0.8 1.6-0.1 1.6 1 1.6-0.7 1.6 0.3 1 0.6 1 0.5 1 0.1 1-0.1 1-0.8 1-0.8 1-1.4 1 0 1-0.5 1 0 1.6-0.4 1.6 0.3 1.6-0.2 1.6 0.2 1.6 0 1.6-0.8 1.6-0.1 1.6-0.2 1.6-0.4 1.6 0.3 1.6-0.3 1.6"/>
<path d="M577.9 144.2l0.4 1.6 0.9 1.6 0.5 1.6 0.9 1.6 0.6 1.6 0.2 1.6 0 1.6 0.3 1.6 0.9 1.6 0.5 1.6 0.8 1.6 1.9 1.6 0.7 1 1 1 2 1 1.8 1 1.2 1 1.9 1 1.4 1 1 1 0.2 1-0.2 1-1.6 1-1.6 1-1.8 1-1.5 1-1.4 1-1.1 1-2.2 1-0.6 1-1.8 1.6-1.9 1.6-1.4 1.6-0.6 1.6 0.3 1.6 0.8 1.6 0.3 1 1.2 1 1.3 1-0.5 1-1.4 1-0.8 1-1 1-0.9 1-0.9 1 0.1 1.6-0.8 1.6 0.3 1.6 0.2 1.6-0.1 1.6-0.1 1.6-0.8 1.6-0.4 1.6 0 1.6-0.4 1.6-0.2 1.6 0 1.6"/>
<path d="M577.5 144.2l0.8 1.6 1.6 1.6 0.1 1.6 1.4 1.6 0.8 1.6 0.5 1.6-0.2 1.6 0.3 1.6 0.5 1.6 0.6 1.6 0.6 1.6 1.1 1.6 1.5 1.6 1.4 1 0.8 1 1.6 1 1.7 1 1.7 1 0.7 1 0.5 1 0 1-0.4 1-1.4 1-0.5 1-1.4 1-1.4 1-1.3 1-1.5 1-1.1 1-1.3 1-1 1.6-1.6 1.6-1 1.6-0.3 1.6 0.2 1.6 0.7 1 0.7 1 1.1 1 0.7 1-0.5 1-0.5 1-2.1 1-0.3 1-1.3 1 0.2 1-1 1.6 0.4 1.6-0.7 1.6 0.3 1.6-0.3 1.6-0.3 1.6 0.3 1.6-0.6 1.6-0.6 1.6 0.3 1.6-1.2 1.6-0.1 1.6"/>
<path d="M578.6 144.2l0.8 1.6 0.6 1.6 1.2 1.6 0.6 1.6 0.9 1.6 0.6 1.6 0.1 1.6 0.4 1.6-0.4 1.6 0.3 1.6 0.4 1.6 0.4 1.6 0.3 1.6 0.5 1.6 0.7 1 1.3 1 0.7 1 1.5 1 1.1 1 0.7 1 0.6 1 0.1 1 0.1 1-1 1-1.3 1-0.7 1-1.5 1-0.4 1-1.5 1-0.5 1-1.6 1-0.6 1.6-1.1 1.6-0.8 1.6 0.5 1.6 0.8 1 0.9 1 0.8 1 1.5 1 0 1-2.1 1-0.7 1-1 1-1.5 1-0.5 1 0.1 1.6-0.6 1.6 0.4 1.6 0.3 1.6-0.4 1.6 0.5 1.6-0.4 1.6-0.8 1.6 0.1 1.6-0.5 1.6 0 1.6-0.4 1.6"/>
<path d="M580.3 144.2l0.8 1.6 0.1 1.6 1 1.6 0.7 1.6 0.9 1.6 0.2 1.6 0.3 1.6 0.1 1.6 0.4 1.6 0.4 1.6 1 1.6 0.4 1.6 1.2 1.6 1.4 1 0.7 1 1 1 2.2 1 1.1 1 0.9 1 1.7 1-0.1 1 0.3 1-1.5 1-0.7 1-1.2 1-2.1 1-1.6 1-0.9 1-1.9 1-0.4 1-1.8 1-1 1.6-0.9 1.6-1.3 1.6 1.1 1.6 0.4 1.6 0.5 1 1.7 1 0.1 1 0 1-1.3 1-1.7 1-1 1-0.5 1-0.1 1-0.8 1.6 0.4 1.6-0.1 1.6-0.2 1.6 0.1 1.6 0.4 1.6-0.8 1.6-0.3 1.6-0.4 1.6 0.4 1.6-0.3 1.6-0.3 1.6"/>
<path d="M581.5 144.2l1.3 1.6 0.5 1.6 0.7 1.6 0.4 1.6 0.4 1.6 0 1.6-0.3 1.6-0.2 1.6 0.6 1.6 0.1 1.6 0.3 1.6 0.3 1.6 0.8 1.6 0.9 1 0.7 1 1.5 1 0.8 1 1.1 1 0.9 1 0.8 1 1.5 1-0.2 1 0.7 1-0.7 1-1.5 1-0.7 1-0.9 1-1.7 1-0.5 1-1.5 1-0.7 1-1.2 1.6-1.3 1.6-0.9 1.6 0.6 1.6-0.4 1.6 1.1 1 0.6 1 0.4 1-0.4 1-0.1 1-0.9 1-0.9 1-0.8 1-0.2 1 0 1.6-0.2 1.6-0.1 1.6 0 1.6-0.8 1.6 0.7 1.6-0.8 1.6-0.1 1.6 0 1.6-0.3 1.6-0.9 1.6 0.4 1.6"/>
<path d="M582.1 144.2l1 1.6 1.3 1.6 0.4 1.6 1.2 1.6 0 1.6 0.8 1.6 0.4 1.6-0.7 1.6 0.8 1.6 0 1.6 0.7 1.6 0.7 1.6 0.9 1.6 1.1 1.6 0.1 1 1.8 1 1.2 1 1.7 1 1.4 1 2.1 1 0.9 1 0.2 1 0 1-0.7 1-1.6 1-1.3 1-2.1 1-1.3 1-1.3 1-1.3 1-1 1-2.5 1.6-1.1 1.6-0.7 1.6 0.2 1.6 0.6 1 0.1 1 0.3 1 0.9 1-0.4 1-1.2 1-1.2 1-0.8 1-0.5 1 0.3 1 0 1.6-0.8 1.6 0.8 1.6-0.8 1.6 0.1 1.6-0.3 1.6-0.5 1.6 0.1 1.6-0.6 1.6-0.3 1.6 0.2 1.6-0.2 1.6"/>
<path d="M581.5 144.2l0.4 1.6 1.1 1.6 0.5 1.6 0.7 1.6 1.2 1.6 0.8 1.6 0.4 1.6 0.8 1.6 0.1 1.6 1.6 1.6 0.8 1.6 1.1 1.6 1.3 1.6 0.9 1 1.5 1 1.2 1 2.3 1 0.9 1 2.2 1 1.1 1 0.9 1-0.6 1-0.8 1-0.8 1-1.9 1-2.1 1-1.9 1-0.8 1-1.6 1-1.5 1-1.2 1-1.2 1.6-1.6 1.6-0.3 1.6-0.9 1.6 0.8 1.6 0.4 1 1.7 1 0.9 1-1.3 1-0.4 1-1.7 1-1.2 1-1.3 1 0.2 1-0.7 1.6 0.1 1.6 0.1 1.6-0.2 1.6 0.3 1.6-0.9 1.6 0.2 1.6-0.5 1.6-0.5 1.6 0.1 1.6-0.3 1.6-0.2 1.6"/>
<path d="M583.8 144.2l0.1 1.6 0.7 1.6 1.2 1.6 0.6 1.6-0.2 1.6 0.7 1.6-0.3 1.6 0.7 1.6 1.2 1.6 0.5 1.6 0.1 1.6 0.4 1.6 0.8 1.6 0.5 1 0.5 1 0.7 1 0.7 1 1.7 1 0.9 1 0.3 1 0.5 1 0.5 1-1.1 1 0.1 1-1.2 1-1 1-1.1 1-1.6 1-0.8 1-1.1 1-0.2 1-1.5 1.6-1 1.6-0.3 1.6 0.5 1.6 1.3 1.6 1.6 1 0.7 1 1.7 1-0.3 1-1.5 1-2.1 1-1.2 1-1.7 1-0.1 1-0.3 1.6-0.5 1.6-0.3 1.6 0.6 1.6 0 1.6-0.2 1.6-0.2 1.6 0 1.6-0.6 1.6 0.2 1.6-0.2 1.6-0.1 1.6"/>
<path d="M589 144.2l-0.5 1.6-0.1 1.6-0.9 1.6-0.4 1.6-0.2 1.6-0.2 1.6 0.6 1.6 0.3 1.6-0.2 1.6-0.6 1.6 0.4 1.6 0.9 1.6 0.9 1.6 1.8 1.6 1.5 1 1.2 1 1.7 1 1.7 1 1.4 1 2.1 1 0.9 1 0 1-1.2 1-1.7 1-1.8 1-1.9 1-1.3 1-1.5 1-1.5 1-1 1-0.8 1 0.1 1.6-1.1 1.6 0 1.6 0.8 1.6 1.2 1 0.5 1 1.3 1 1 1 0 1-0.8 1-1.6 1-2 1-0.9 1-0.3 1-0.6 1.6-0.2 1.6-1 1.6-1 1.6 0.2 1.6-0.5 1.6 0.3 1.6-0.6 1.6 1 1.6-0.4 1.6 0.5 1.6 0 1.6"/>
<path d="M589.5 144.2l0.1 1.6-1.2 1.6-0.1 1.6-0.6 1.6 0.1 1.6 0.7 1.6-0.2 1.6 0.7 1.6 0.4 1.6-0.5 1.6 0.5 1.6-0.1 1.6 1.6 1.6 2 1.6 1.3 1 1.8 1 2 1 2.1 1 2.3 1 1.2 1 1 1-0.4 1-0.4 1-2.6 1-2 1-1.9 1-1.8 1-1.3 1-1.7 1-1.4 1-1.2 1-0.5 1.6-1 1.6-0.4 1.6-0.1 1.6 0.1 1 1 1 0.5 1 0.4 1-0.8 1-0.3 1-0.6 1-0.6 1-0.3 1-0.5 1-0.1 1.6-0.4 1.6-0.6 1.6-0.8 1.6 0 1.6-1.1 1.6 0.6 1.6-0.2 1.6-0.2 1.6 1.1 1.6-0.3 1.6-0.1 1.6"/>
<path d="M590.4 144.2l-0.3 1.6 0.2 1.6-0.5 1.6-0.6 1.6 0.6 1.6-0.9 1.6 0.4 1.6 0.3 1.6-0.3 1.6-0.7 1.6 0.5 1.6 0.5 1.6 0.9 1.6 1.7 1.6 1.1 1 1.1 1 1.7 1 2.4 1 1.2 1 0.9 1 0.4 1 0.4 1-0.5 1-0.9 1-1.9 1-1.7 1-1.5 1-2.1 1-1.3 1-0.9 1-0.5 1-0.6 1-0.6 1.6-0.3 1.6 0.6 1.6 0.4 1.6 0.7 1 0.6 1 1.1 1 0.2 1-1.5 1-0.8 1-0.6 1-1.2 1 0.4 1-1.4 1.6-0.3 1.6-0.5 1.6-0.4 1.6 0.1 1.6-0.9 1.6 0.2 1.6 0.4 1.6-0.5 1.6 0.4 1.6-0.2 1.6-0.3 1.6"/>
<path d="M590 144.2l-0.7 1.6-0.2 1.6-1.1 1.6 0.4 1.6 0.5 1.6-0.3 1.6 0.4 1.6 0.3 1.6-0.5 1.6 0.5 1.6 0 1.6 0.9 1.6 0.7 1 0.4 1 1 1 1.6 1 2.1 1 2.1 1 1 1 0.9 1 0.5 1-0.7 1 0 1-1.9 1-1.7 1-1.8 1-0.8 1-1.2 1-1.5 1-0.1 1-0.4 1.6-0.1 1.6-0.3 1.6-0.4 1.6 0.4 1.6-0.4 1.6 1.2 1 0.7 1 0.7 1 0.2 1-1.2 1-0.9 1-0.7 1-0.8 1 0.5 1-0.9 1.6-0.8 1.6-0.2 1.6-0.2 1.6-0.9 1.6 0.1 1.6-0.4 1.6 0.3 1.6 0.5 1.6 0.3 1.6-0.4 1.6-0.3 1.6"/>
<path d="M591.1 144.2l0.2 1.6-1 1.6-0.3 1.6-0.3 1.6 0.1 1.6-0.1 1.6 0.7 1.6 0 1.6 1 1.6-0.3 1.6 0.4 1.6 0.1 1.6 1.5 1.6 1.6 1 1.1 1 2 1 2.3 1 1.7 1 1.6 1 1.2 1-0.1 1-0.5 1-1.1 1-1.5 1-2.2 1-2.1 1-2.1 1-1.2 1-1.4 1-0.9 1-0.1 1-1.2 1.6 0 1.6-0.2 1.6-0.1 1.6 1.1 1.6 0.3 1 0.8 1 1.4 1-0.2 1-1.8 1-0.4 1-1.8 1 0.2 1-1.2 1-0.3 1.6-0.2 1.6-0.9 1.6-0.2 1.6-0.2 1.6-0.5 1.6 0 1.6 0.4 1.6-0.1 1.6 0 1.6 0.5 1.6-0.3 1.6"/>
<path d="M592.5 144.2l-0.5 1.6-0.2 1.6-0.5 1.6-0.4 1.6-0.2 1.6-0.5 1.6 0.2 1.6-0.2 1.6-0.1 1.6 0.3 1.6-0.3 1.6 0.8 1.6 1.4 1.6 1.4 1 1.1 1 1.4 1 0.7 1 1.5 1 1.2 1 1 1 0.7 1-0.1 1 0.3 1-1.4 1-1.3 1-2.1 1-0.7 1-2.1 1-0.5 1-0.4 1-0.7 1-0.8 1.6-0.2 1.6 0 1.6 0.3 1.6 1.1 1.6 0.9 1 1.8 1 0.7 1 0.5 1-1.5 1-1.8 1-0.9 1-0.4 1-1 1-0.8 1.6-0.7 1.6-0.8 1.6-0.4 1.6-0.2 1.6-0.3 1.6 0.7 1.6 0.1 1.6 0 1.6 0.3 1.6-0.7 1.6 0.2 1.6"/>
<path d="M592 144.2l0.1 1.6 0.2 1.6-0.4 1.6-0.3 1.6-0.2 1.6-0.7 1.6 0.7 1.6 0.1 1.6-0.9 1.6 0.6 1.6-0.2 1.6 0.6 1.6 1.5 1.6 1.2 1 1.1 1 2.4 1 1 1 1.9 1 2 1 0.1 1 0.3 1-0.9 1-1.4 1-1 1-1.3 1-2.3 1-1.7 1-0.7 1-0.9 1-0.8 1-1.2 1.6-0.9 1.6-0.1 1.6-0.5 1.6 0.9 1.6 0.4 1 0.6 1 0.3 1 1.4 1-0.4 1-0.9 1-0.5 1-0.6 1-0.4 1-0.6 1-0.4 1.6 0.1 1.6-1.2 1.6-0.4 1.6 0.2 1.6-0.6 1.6-0.1 1.6-0.2 1.6 0.3 1.6-0.3 1.6 0.1 1.6 0.5 1.6"/>
<path d="M592.9 144.2l0.2 1.6-0.6 1.6 0.2 1.6-0.9 1.6 0.1 1.6 0.1 1.6 0.4 1.6-0.3 1.6 0 1.6-0.4 1.6 0 1.6 0.6 1.6 1.1 1.6 2.6 1.6 1.6 1 1.2 1 2.6 1 2.1 1 1.4 1 1.9 1 0.2 1-0.3 1-0.3 1-1.2 1-2.2 1-2.6 1-1.8 1-1.5 1-1.1 1-1.3 1-0.2 1-1.7 1.6 0.1 1.6-0.6 1.6 0.6 1.6 0.7 1 1.5 1 1.3 1 1.2 1-0.7 1-1.4 1-1 1-1.3 1-1.1 1-0.6 1 0.2 1.6-0.6 1.6-1.2 1.6 0.1 1.6-1 1.6-0.3 1.6 0.1 1.6 0.4 1.6-0.4 1.6 0.2 1.6 0.1 1.6 0 1.6"/>
<path d="M593.3 144.2l-0.6 1.6 0.2 1.6-1.3 1.6 0.2 1.6-1.2 1.6 0.2 1.6 0.5 1.6-0.1 1.6 1.9 1.6 0.6 1.6 1.2 1.6 0.8 1.6 1.4 1.6 0.2 1 1.4 1 0.6 1 1.7 1 1 1 1.8 1 1.1 1 0 1-0.2 1-1.1 1-1.1 1-1.2 1-1.9 1-1.8 1-1.8 1-1.8 1-0.8 1-1.2 1-0.1 1.6-0.5 1.6 0.7 1.6 1.4 1.6-0.4 1.6 0.7 1 0.7 1 0.1 1 0.2 1-1.3 1-1.1 1-0.3 1-0.9 1 0.1 1-1 1.6 0.5 1.6 0 1.6-0.6 1.6-0.4 1.6 0.2 1.6 0.6 1.6-0.4 1.6 0.1 1.6 1.2 1.6 0.3 1.6 0.1 1.6"/>
<path d="M595.4 144.2l0 1.6-0.2 1.6-1.2 1.6-0.2 1.6-0.4 1.6 0 1.6 0.7 1.6 0.1 1.6 1.3 1.6 1.3 1.6 1.3 1.6 1.2 1.6 2 1.6 1.7 1.6 2 1 1.7 1 1.4 1 2.4 1 1.6 1 2.1 1 0.8 1 0.1 1-1.5 1-2.1 1-1.9 1-1.9 1-2.8 1-1.7 1-1.9 1-1.6 1-0.7 1-1.8 1.6-0.8 1.6 0.1 1.6 0 1.6 0.9 1 0.1 1 1.2 1 0.5 1-0.3 1-0.8 1-2.2 1-1.4 1-1 1 0.1 1-1.4 1.6-0.8 1.6 0.1 1.6-0.6 1.6 0.2 1.6-0.3 1.6 0.3 1.6-0.6 1.6 0.5 1.6 0.6 1.6 0.4 1.6-0.4 1.6"/>
<path d="M595.6 144.2l-0.3 1.6-1.1 1.6-0.7 1.6-0.5 1.6 0 1.6-0.9 1.6 0.4 1.6 0.4 1.6 0.9 1.6 1.4 1.6 1 1.6 0.9 1.6 1.4 1.6 1.5 1.6 0.5 1 0.8 1 1.3 1 0.7 1 1.2 1 0.9 1 0.4 1-0.5 1-0.4 1-0.8 1-1 1-2.1 1-1.6 1-0.8 1-1.1 1-1.5 1-0.2 1-0.6 1.6 0.2 1.6 0.1 1.6 1.4 1.6-0.2 1 0.5 1 1.3 1 0.4 1-1 1-0.6 1-0.9 1-1.1 1-1.1 1-0.3 1-0.4 1.6-0.9 1.6-0.2 1.6 0.5 1.6-0.7 1.6 0.9 1.6-0.6 1.6 0.6 1.6 0.4 1.6 0 1.6 0.8 1.6-0.4 1.6"/>
<path d="M596 144.2l0 1.6-0.1 1.6-0.6 1.6-0.2 1.6-0.5 1.6-0.2 1.6 0.3 1.6 0.7 1.6 1.2 1.6 1.7 1.6 0.8 1.6 1.6 1.6 1.6 1.6 1.5 1 0.7 1 0.8 1 1.9 1 0.4 1 1.4 1-0.2 1 0.6 1-1.2 1-1 1-1.1 1-2.1 1-1.3 1-1.9 1-1.7 1-1.2 1-0.8 1-1.8 1.6-0.3 1.6-0.1 1.6 0.9 1.6 0.6 1.6 0.5 1 0.3 1 0.4 1 0.7 1-0.7 1-0.4 1-1.7 1-1.1 1-0.5 1-0.4 1-0.2 1.6-0.2 1.6 0 1.6-0.5 1.6-0.1 1.6 0.2 1.6 0 1.6-0.3 1.6 0.7 1.6 0.6 1.6-0.3 1.6 0.7 1.6"/>
<path d="M597 144.2l0.1 1.6 0.1 1.6-0.9 1.6-0.7 1.6-1 1.6-0.3 1.6-0.6 1.6 0.4 1.6 1.1 1.6 2.1 1.6 1.5 1.6 0.9 1.6 2 1.6 0.8 1 2.1 1 1 1 1.6 1 2 1 1.8 1 1.1 1 0.8 1-0.1 1-1.2 1-0.9 1-2 1-2.1 1-2.2 1-1.4 1-2.3 1-1.2 1-1 1-1.4 1.6-0.3 1.6-0.3 1.6 1.1 1.6 1 1.6 1.1 1 0.6 1 0.3 1-0.7 1-1.1 1-1.5 1-0.9 1-0.4 1-0.7 1-0.2 1.6-0.9 1.6-0.2 1.6 0.2 1.6-0.8 1.6 0 1.6-0.2 1.6 0.9 1.6-0.1 1.6 0.2 1.6 0.9 1.6 0.7 1.6"/>
<path d="M598.2 144.2l-0.1 1.6 0 1.6-0.9 1.6-1.4 1.6-0.6 1.6-0.3 1.6 1.2 1.6-0.1 1.6 1.1 1.6 2.1 1.6 0.5 1.6 1.6 1.6 1 1.6 2.4 1.6 1.1 1 1.4 1 1.7 1 2.8 1 1.3 1 1.9 1 1.7 1-0.3 1-0.5 1-2.1 1-1.8 1-2 1-2.5 1-2.1 1-1.7 1-1.4 1-1 1-1.1 1.6-1.1 1.6 0.6 1.6 1.2 1.6 0.4 1 1.4 1 1.4 1 0.5 1-0.9 1-1.1 1-1.9 1-1.4 1-1 1-1.2 1-0.5 1.6-0.4 1.6-0.3 1.6-0.1 1.6-0.8 1.6 0.1 1.6 0 1.6 0.4 1.6 0.4 1.6-0.2 1.6 0.7 1.6 0.4 1.6"/>
<path d="M598.6 144.2l-1 1.6 0.6 1.6-0.9 1.6 0.1 1.6 0.1 1.6 0 1.6-0.2 1.6 1.1 1.6 1.3 1.6 1 1.6 1.9 1.6 0.7 1.6 1.8 1.6 1.6 1.6 1.9 1 1.6 1 2.1 1 1.9 1 1.2 1 1.8 1 0.6 1 0.2 1-0.8 1-2.5 1-2.1 1-2.2 1-2.1 1-1.6 1-2.7 1-1 1-1.4 1-0.9 1.6-0.8 1.6-0.4 1.6 0.9 1.6 0.5 1-0.2 1 1.6 1 0.2 1-0.4 1-1.7 1-1.5 1-0.5 1-1.4 1-0.4 1 0 1.6-1.1 1.6 0 1.6-0.5 1.6 0.3 1.6-0.3 1.6 0 1.6 0.2 1.6 0 1.6 0.4 1.6 0.3 1.6 0.5 1.6"/>
<path d="M599.5 144.2l0.5 1.6-0.4 1.6-0.6 1.6-0.2 1.6-1 1.6-1 1.6 0.1 1.6 0.1 1.6 0.8 1.6 0.8 1.6 1.2 1.6 2 1.6 0.9 1.6 0.8 1 1 1 1.7 1 1 1 1.4 1 1.5 1 1.1 1 1.1 1-0.3 1-0.4 1-1.4 1-1.8 1-1.7 1-1.9 1-2 1-1.3 1-1 1-1.6 1-1 1.6 0.1 1.6-0.1 1.6 1.2 1.6 1.1 1.6 1.4 1 0.6 1 1.1 1-0.4 1-1.3 1-1.3 1-1.4 1-0.9 1-1.4 1 0.1 1.6-0.3 1.6-0.8 1.6-0.2 1.6 0.1 1.6-0.7 1.6-0.3 1.6 0.6 1.6 0.3 1.6 0.5 1.6-0.4 1.6 0.8 1.6"/>
<path d="M598.7 144.2l0.8 1.6 0.7 1.6 0.7 1.6 0.1 1.6 0.4 1.6 0.9 1.6 0.4 1.6 0.7 1.6 0.9 1.6 0.5 1.6 0.4 1.6 0.7 1.6 0.6 1.6 0.8 1 0.2 1 1 1 1.9 1 1.3 1 1.4 1 1.6 1 1.4 1 0.5 1-0.4 1-1.2 1-0.8 1-1.7 1-1 1-2.4 1-1.1 1-1 1-0.7 1-2 1.6-0.3 1.6-0.9 1.6-0.7 1.6 1 1.6 1.2 1 1 1 1 1-0.4 1-1.7 1-1.2 1-1.3 1-1.1 1-0.1 1-0.4 1.6-0.5 1.6 0.1 1.6 0.6 1.6-1.2 1.6 0.5 1.6-0.3 1.6-0.8 1.6 0.2 1.6-1 1.6 0 1.6 0.4 1.6"/>
<path d="M599.9 144.2l0.4 1.6 1.1 1.6 0.4 1.6 0.6 1.6-0.2 1.6 1.2 1.6 0.7 1.6-0.1 1.6 1 1.6 0.7 1.6 0.6 1.6 0.3 1.6 0.4 1.6 0.9 1 1 1 1.9 1 1.2 1 1.6 1 1.9 1 0.6 1 1.2 1-0.5 1-0.7 1-1.8 1-1.3 1-1.8 1-1.7 1-1.2 1-0.8 1-1 1-0.9 1-1.9 1.6-0.3 1.6-0.7 1.6 0 1.6-0.4 1.6 0.8 1 0.3 1 1.1 1-0.2 1-1.1 1-0.7 1-0.9 1-0.6 1-0.5 1-0.3 1.6 0.2 1.6 0.5 1.6-0.7 1.6 0.1 1.6-1 1.6-0.3 1.6 0 1.6-0.4 1.6 0.6 1.6-1 1.6 0.4 1.6"/>
<path d="M600.6 144.2l1.4 1.6-0.3 1.6 0.5 1.6 1.1 1.6-0.3 1.6 0.8 1.6 0.8 1.6 0.3 1.6 0.6 1.6 1.2 1.6 0 1.6 1.1 1.6 0.9 1.6 1.4 1.6 0.7 1 2.1 1 1.9 1 1.5 1 2.6 1 1.2 1 1.2 1 0.4 1-0.7 1-1.5 1-1.2 1-2.5 1-1.8 1-2.9 1-1.4 1-1.3 1-1.5 1-1.6 1.6-1.1 1.6-0.4 1.6-0.2 1.6 0.3 1 0.1 1 0.7 1 0 1 0.2 1-1.5 1-0.3 1-1.4 1 0.1 1-1.1 1 0.4 1.6-0.4 1.6 0 1.6-0.3 1.6-0.3 1.6 0.7 1.6-0.7 1.6-0.1 1.6-0.1 1.6-0.4 1.6-0.5 1.6 0.6 1.6"/>
<path d="M601.6 144.2l0.5 1.6 0.5 1.6-0.1 1.6 0.4 1.6 0.4 1.6 1.3 1.6 0.8 1.6 0.9 1.6 0 1.6 1.4 1.6 0 1.6-0.2 1.6 1.1 1.6 0.8 1 0.2 1 1.3 1 1.3 1 1.7 1 1.5 1 0.1 1 0.9 1 0.1 1-1.2 1-0.7 1-1.3 1-1.7 1-1.6 1-1.3 1-1 1-1.1 1 0 1-1.5 1.6 0.1 1.6-0.5 1.6-0.4 1.6-0.1 1.6 1.3 1 0.8 1 0.9 1-0.4 1-1.2 1-1.3 1-1.2 1-1.1 1-0.1 1-0.7 1.6 0.6 1.6-0.7 1.6 0.2 1.6-0.2 1.6-0.6 1.6-0.1 1.6-0.3 1.6-0.2 1.6-0.3 1.6 0.5 1.6-0.1 1.6"/>
<path d="M602.8 144.2l0.5 1.6 0.6 1.6 0.6 1.6 0.7 1.6 0.5 1.6 0.9 1.6 0.7 1.6 0.4 1.6 0.9 1.6-0.2 1.6 0.8 1.6 0.7 1.6 1.9 1.6 1.1 1 0.7 1 2.2 1 1.5 1 2.3 1 1.5 1 1.7 1 1.2 1-0.7 1-0.2 1-1.9 1-1.8 1-2.4 1-2.2 1-2 1-2.3 1-1.3 1-0.8 1-2 1.6-0.6 1.6-0.7 1.6 0.1 1.6 0.4 1.6 0 1 0.8 1 1.1 1-0.2 1-1.1 1-1.5 1-1 1-0.7 1 0.1 1 0 1.6-0.7 1.6 0 1.6-0.1 1.6-0.2 1.6-0.3 1.6-0.4 1.6 0.1 1.6-0.3 1.6 0 1.6-0.2 1.6 0.3 1.6"/>
<path d="M602.7 144.2l0.7 1.6 0.6 1.6 0.9 1.6 0.8 1.6 0.8 1.6 1 1.6 0.5 1.6 0.7 1.6 1.4 1.6 0 1.6 1.3 1.6 1 1.6 1.5 1.6 1.3 1 0.8 1 1.9 1 2.3 1 2 1 2.1 1 1.5 1 0.8 1-0.3 1-0.7 1-2.1 1-2 1-1.8 1-2.5 1-2.4 1-1.1 1-1.9 1-1 1-1.2 1.6-1.3 1.6-0.4 1.6-0.7 1.6 0.4 1.6 0.7 1 0.8 1-0.2 1 0.4 1-1.4 1-0.9 1-0.7 1-1.4 1 0.2 1-0.7 1.6 0.3 1.6 0.2 1.6-0.7 1.6 0 1.6-0.4 1.6-0.8 1.6 0.6 1.6-0.8 1.6 0.3 1.6-0.4 1.6-0.7 1.6"/>
<path d="M605.4 144.2l0.8 1.6 0.5 1.6 1.2 1.6 0.2 1.6 0 1.6 0.1 1.6 0.4 1.6 0.8 1.6 0 1.6 1.4 1.6 0.3 1.6 0.8 1.6 1 1.6 1.1 1.6 1.1 1 1.8 1 2 1 2 1 2.5 1 1.9 1 1.2 1 0.1 1-0.9 1-1.7 1-1.5 1-3.2 1-2.2 1-1.6 1-1.9 1-1.6 1-1.5 1-2.7 1.6-1.2 1.6-0.4 1.6 0.5 1.6 0 1 0.6 1 0.4 1 0.5 1 0.2 1-1.5 1-0.2 1-1.1 1-0.2 1-0.5 1 0 1.6-0.4 1.6 0.1 1.6-0.6 1.6-0.2 1.6-0.4 1.6-0.6 1.6-0.1 1.6-0.6 1.6 0 1.6-0.1 1.6 0 1.6"/>
<path d="M604.6 144.2l0.9 1.6 0.2 1.6 0.5 1.6 0.8 1.6 0.2 1.6 0.2 1.6 0.5 1.6 0.6 1.6 1.3 1.6 0.2 1.6 0.2 1.6 1.1 1.6-0.2 1.6 1.2 1 0.8 1 0.7 1 0.9 1 1.5 1 1.6 1 0.2 1 0.9 1 0.5 1-0.9 1-0.5 1-1.3 1-1.2 1-1.8 1-2 1-1.1 1-0.4 1-1.5 1-0.8 1.6-0.9 1.6-0.5 1.6 0.7 1.6 0.6 1.6 0.6 1 1.4 1 1 1-0.3 1-1.5 1-1.5 1-0.6 1-0.8 1-0.2 1-0.3 1.6 0 1.6-0.7 1.6 0.5 1.6-0.4 1.6-0.8 1.6 0.5 1.6-0.4 1.6-0.3 1.6-0.3 1.6 0 1.6 0.8 1.6"/>
<path d="M604.9 144.2l0.4 1.6 0.6 1.6-0.5 1.6 0.6 1.6-0.9 1.6 0.2 1.6-0.4 1.6 0.5 1.6 0.4 1.6 1.3 1.6 1 1.6 1.2 1.6 2 1.6 2.6 1.6 1.6 1 2.5 1 1.6 1 2.6 1 2.4 1 2.5 1 1.4 1 1 1-1.2 1-1.6 1-1.5 1-2.6 1-1.4 1-2.7 1-1.7 1-1.2 1-1.1 1-1.6 1.6-0.9 1.6-0.5 1.6-0.5 1.6 0 1 1.6 1 0.9 1 0.4 1 0.1 1-1.4 1-1.6 1-1.3 1-1 1 0.2 1-1.1 1.6-0.4 1.6-0.3 1.6 0 1.6-1.1 1.6-0.7 1.6 0.2 1.6-0.6 1.6 0.3 1.6 0.4 1.6-0.5 1.6 0.9 1.6"/>
<path d="M605.3 144.2l1.1 1.6-0.7 1.6 0.6 1.6-0.9 1.6 0.1 1.6-0.5 1.6 0 1.6-0.3 1.6 1.2 1.6 0.4 1.6 0.9 1.6 0.3 1.6 0.9 1.6 1.2 1 1.1 1 1.6 1 1.7 1 1.1 1 1.8 1 1.1 1 1 1 0.3 1-1.3 1-0.8 1-1.4 1-1.6 1-1.5 1-1.1 1-1.5 1-0.6 1-1.4 1.6-0.8 1.6 0.1 1.6 0.5 1.6 1.3 1.6 0.9 1 0.8 1 1.1 1 1.5 1-0.1 1-1.4 1-2 1-0.6 1-1.3 1-0.7 1 0.1 1.6-0.9 1.6-0.4 1.6-0.1 1.6-0.5 1.6-0.7 1.6 0.4 1.6-0.5 1.6 0.1 1.6 0.4 1.6 0.1 1.6 0.1 1.6"/>
<path d="M606.8 144.2l0.6 1.6-0.5 1.6 0.1 1.6-0.4 1.6 0.2 1.6-0.1 1.6-0.2 1.6 0.8 1.6 1.6 1.6 1.3 1.6 1.4 1.6 2 1.6 1.9 1.6 1.7 1 2.2 1 2.6 1 2.2 1 1.8 1 1.7 1 1.7 1-0.2 1 0.3 1-2.1 1-1.2 1-2.9 1-2.3 1-2.3 1-1.7 1-1.9 1-1.4 1-1.5 1.6-1.4 1.6-0.5 1.6 0.6 1.6-0.4 1.6 0.5 1 1.2 1-0.1 1 1.3 1-0.4 1-1.7 1-1.1 1-0.4 1-0.8 1-0.3 1-0.7 1.6-0.4 1.6-0.2 1.6 0 1.6-0.1 1.6-0.9 1.6 0 1.6 0.6 1.6-0.5 1.6 0.7 1.6-0.3 1.6 0.4 1.6"/>
<path d="M606.2 144.2l0 1.6 0.6 1.6-1 1.6-0.4 1.6-0.2 1.6-0.6 1.6 0.8 1.6-0.2 1.6 1.4 1.6 0.3 1.6 0.9 1.6 0.9 1.6 1.2 1.6 1.5 1 0.8 1 2.1 1 1.5 1 1.7 1 2.3 1 1.8 1 0.5 1 0.3 1-0.5 1-1 1-1.4 1-1.2 1-1.7 1-2.1 1-1.5 1-0.9 1-0.8 1-0.2 1.6-1.2 1.6 0.1 1.6-0.1 1.6 0.5 1.6 0.6 1 1 1-0.4 1 0.1 1-1.2 1-0.8 1-0.3 1-0.4 1 0 1-0.7 1.6-0.7 1.6 0.5 1.6-1.3 1.6-0.3 1.6-0.1 1.6-0.4 1.6 0 1.6-0.3 1.6 0.3 1.6 0.3 1.6 0.7 1.6"/>
<path d="M607.7 144.2l0 1.6 0.6 1.6-0.1 1.6-0.1 1.6-0.7 1.6 0.5 1.6-0.3 1.6 1.2 1.6 0.3 1.6 1.2 1.6 1.1 1.6 0.8 1.6 2.3 1.6 1.5 1 2.1 1 2.1 1 2.1 1 3.2 1 1.3 1 1.5 1 1 1-0.3 1-0.9 1-1.5 1-1.9 1-1.6 1-2.9 1-1.4 1-1.5 1-1.9 1-1.6 1-0.7 1.6-1.7 1.6 0 1.6 0 1.6 0 1.6 0 1 1 1 0.7 1-0.7 1-1.2 1-0.8 1-0.5 1 0 1-0.6 1 0 1.6-0.1 1.6-0.4 1.6-1 1.6 0 1.6-0.3 1.6-0.2 1.6 0.1 1.6 0.2 1.6 0.3 1.6 0 1.6 0.4 1.6"/>
<path d="M609.9 144.2l0.3 1.6-0.4 1.6-0.6 1.6-0.4 1.6 0.2 1.6-0.1 1.6 0.8 1.6 0.5 1.6 0.6 1.6 0.9 1.6 0.6 1.6 1.3 1.6 1.7 1.6 2.2 1.6 1.4 1 1.7 1 2.2 1 3.3 1 2.4 1 1.5 1 1.4 1 1.4 1-0.6 1-1.9 1-1.3 1-2.8 1-1.4 1-2.8 1-1.6 1-1.7 1-0.6 1-1.7 1.6-0.3 1.6-0.6 1.6-0.1 1.6 0.3 1 0.9 1 1.1 1 1.4 1-0.1 1-1.4 1-1.7 1-1.3 1-0.8 1-1.1 1 0.1 1.6-0.7 1.6-0.7 1.6-0.3 1.6-0.5 1.6-1 1.6 0.6 1.6-0.5 1.6 0.2 1.6 0.4 1.6 0.1 1.6 0.2 1.6"/>
<path d="M609.3 144.2l0.9 1.6 0.1 1.6 0.5 1.6 0 1.6-0.2 1.6-0.7 1.6 0.4 1.6 1.4 1.6 0 1.6 1.1 1.6 2 1.6 1.9 1.6 2.1 1.6 1.3 1 2.2 1 1.3 1 3.1 1 2 1 2.3 1 1.2 1 0.6 1-0.8 1-0.8 1-1.2 1-2.7 1-1.5 1-2.2 1-2.4 1-1.8 1-0.7 1-1.7 1.6-1.4 1.6-0.6 1.6-0.7 1.6 0.5 1.6 0.2 1 1.4 1 1 1 0.6 1-0.6 1-0.9 1-1.8 1-1.4 1-0.3 1-0.5 1-0.5 1.6 0.3 1.6-0.7 1.6-0.6 1.6-0.4 1.6-0.3 1.6 0.5 1.6-0.4 1.6 0.1 1.6 0.1 1.6 0.2 1.6 0.4 1.6"/>
<path d="M610.3 144.2l0.3 1.6-0.4 1.6 0.3 1.6 0 1.6-1.1 1.6 0.1 1.6-0.1 1.6 0.7 1.6 0.4 1.6 1.2 1.6 0.6 1.6 1.3 1.6 2.2 1.6 0.8 1 1.9 1 2.3 1 1.7 1 2 1 2.2 1 1.4 1 1.9 1-0.1 1-1 1-1.2 1-1.7 1-2.5 1-1.4 1-2 1-1.3 1-0.9 1-1.5 1-0.9 1.6-0.6 1.6 0.4 1.6-0.1 1.6 0.7 1.6 0.6 1 1.8 1 0.8 1-0.1 1-1.4 1-1.6 1-1.1 1-0.9 1-0.2 1-0.6 1.6-0.8 1.6-0.1 1.6-1 1.6 0.1 1.6-0.8 1.6-0.5 1.6 0.2 1.6 0.2 1.6 0.2 1.6 0.3 1.6 0.5 1.6"/>
<path d="M613.3 144.2l0.1 1.6 1.3 1.6 0.9 1.6 0.3 1.6-0.2 1.6 0.3 1.6 0 1.6-0.3 1.6 0.1 1.6 0.4 1.6 1.3 1.6 0.9 1.6 0.8 1 1.2 1 0.5 1 1.5 1 1.2 1 1.2 1 0.8 1 0.7 1 0.5 1 0.1 1-1 1-0.8 1-1.5 1-1 1-0.9 1-0.7 1-0.6 1-0.9 1-1.2 1.6-2 1.6-1 1.6-0.1 1.6 0 1.6 0.8 1.6 1.2 1 1.8 1 0.5 1 0 1-1.9 1-1 1-1.2 1-1.4 1-0.9 1-0.8 1.6 0.1 1.6 0.4 1.6-0.7 1.6 0.2 1.6 0 1.6 0 1.6-0.4 1.6-0.7 1.6-1 1.6 0.6 1.6-0.6 1.6"/>
<path d="M614 144.2l0.3 1.6 0.6 1.6 0.3 1.6 0.5 1.6 0.4 1.6-0.3 1.6 0.4 1.6-0.6 1.6 0.8 1.6-0.2 1.6 1.6 1.6 0.7 1.6 1.5 1.6 1.3 1 0.3 1 1.6 1 2.2 1 1.7 1 1.4 1 0.6 1 1.1 1-0.2 1-1.8 1-0.8 1-1.6 1-1.7 1-1 1-1.7 1-1.3 1-1.7 1-1.1 1.6-1.3 1.6-1.7 1.6-0.5 1.6 1.1 1.6 0.1 1 0.8 1 1.1 1 0 1-0.1 1-1 1-1.1 1-0.8 1-0.3 1 0 1-1.2 1.6 0.2 1.6 0.1 1.6 0.4 1.6 0.1 1.6-0.8 1.6-0.1 1.6-0.7 1.6-0.1 1.6-0.4 1.6 0.2 1.6-0.2 1.6"/>
</g>
<rect x="499.5" y="145.2" width="140.5" height="74.2" fill="none" stroke="#6a6a6a" stroke-width="1"/>
<line x1="48.8" y1="161.3" x2="51.8" y2="161.3" stroke="#333" stroke-width="0.8"/>
<text x="48.2" y="165.5" font-size="12" text-anchor="end" fill="#111" font-weight="normal" font-style="normal" >700</text>
<line x1="48.8" y1="181.9" x2="51.8" y2="181.9" stroke="#333" stroke-width="0.8"/>
<text x="48.2" y="186.1" font-size="12" text-anchor="end" fill="#111" font-weight="normal" font-style="normal" >650</text>
<line x1="48.8" y1="202.4" x2="51.8" y2="202.4" stroke="#333" stroke-width="0.8"/>
<text x="48.2" y="206.6" font-size="12" text-anchor="end" fill="#111" font-weight="normal" font-style="normal" >600</text>
<text transform="translate(23.5,177.5) rotate(-90)" font-size="12.4" text-anchor="middle" fill="#111">Wavelength (nm)</text>
<g fill="none" stroke-width="1.5">
<line x1="182.6" y1="155.5" x2="637.3" y2="155.5" stroke="#d0353a" stroke-dasharray="7.8 3" stroke-dashoffset="0"/>
<line x1="52" y1="155.5" x2="182" y2="155.5" stroke="#d0353a" stroke-dasharray="7.8 3"/>
<line x1="52" y1="188.5" x2="637.3" y2="188.5" stroke="#d0353a" stroke-dasharray="7.8 3" stroke-dashoffset="-5"/>
<line x1="52" y1="155.5" x2="52" y2="188.5" stroke="#d0353a" stroke-dasharray="7.8 3"/>
<line x1="637.3" y1="155.5" x2="637.3" y2="188.5" stroke="#d0353a" stroke-dasharray="7.8 3"/>
<line x1="52" y1="194.4" x2="638" y2="194.4" stroke="#5a85d0" stroke-dasharray="7.7 3.2"/>
</g>
<text x="641" y="174.8" font-size="13.3" font-style="italic" fill="#d42f35">X<tspan font-size="9.5" dy="3">L</tspan></text>
<text x="641.6" y="200.6" font-size="12.6" font-style="italic" fill="#2e3a8e">A<tspan font-size="8.5" dy="-5">0</tspan></text>
<text x="0.5" y="241.3" font-size="11.5" text-anchor="start" fill="#111" font-weight="bold" font-style="normal" >c</text>
<rect x="48" y="233" width="593.5" height="162.5" fill="#fff"/>
<path fill="#38b0e2" d="M99.8 265.5h1.3v4.4h-1.3zM108.3 287.7h1.3v4.4h-1.3zM114.6 299.4h1.3v4.4h-1.3zM116.1 299.4h1.3v4.4h-1.3zM103.3 310.5h1.3v4.4h-1.3zM133.5 299.4h1.3v4.4h-1.3zM135.1 299.4h1.3v4.4h-1.3zM138.6 299.4h1.3v4.4h-1.3zM145.1 287.8h1.3v4.4h-1.3zM159 282.4h1.3v4.4h-1.3zM172.2 321.3h1.3v4.4h-1.3zM189.3 327.1h1.3v4.4h-1.3zM199.6 299.4h1.3v4.4h-1.3zM201.1 270.8h1.3v4.4h-1.3zM204.6 270.8h1.3v4.4h-1.3zM206.3 276.6h1.3v4.4h-1.3zM218.6 264.8h1.3v4.4h-1.3zM203.1 282.4h1.3v4.4h-1.3zM211.3 287.8h1.3v4.4h-1.3zM208.1 293.5h1.3v4.4h-1.3zM221.5 287.8h1.3v4.4h-1.3zM231.7 293.5h1.3v4.4h-1.3zM237 282.4h1.3v4.4h-1.3zM240.5 287.8h1.3v4.4h-1.3zM238.8 299.4h1.3v4.4h-1.3zM244 299.4h1.3v4.4h-1.3zM367.1 248.1h1.3v4.4h-1.3zM368.6 248.1h1.3v4.4h-1.3zM370.1 248.1h1.3v4.4h-1.3zM371.6 248.1h1.3v4.4h-1.3zM251 270.9h1.3v4.4h-1.3zM296.5 270.9h1.3v4.4h-1.3zM341.6 270.9h1.3v4.4h-1.3zM343.1 270.9h1.3v4.4h-1.3zM259.2 276.4h1.3v4.4h-1.3zM262.7 276.4h1.3v4.4h-1.3zM264.4 276.4h1.3v4.4h-1.3zM294.8 276.4h1.3v4.4h-1.3zM301.5 276.4h1.3v4.4h-1.3zM315.2 276.4h1.3v4.4h-1.3zM318.1 276.4h1.3v4.4h-1.3zM252.4 282.3h1.3v4.4h-1.3zM257.4 282.3h1.3v4.4h-1.3zM260.6 282.3h1.3v4.4h-1.3zM266.2 282.3h1.3v4.4h-1.3zM276.1 282.3h1.3v4.4h-1.3zM289.5 282.3h1.3v4.4h-1.3zM297.7 282.3h1.3v4.4h-1.3zM299.3 282.3h1.3v4.4h-1.3zM308.2 282.3h1.3v4.4h-1.3zM317.1 282.3h1.3v4.4h-1.3zM240.2 287.7h1.3v4.4h-1.3zM269.3 287.7h1.3v4.4h-1.3zM286 287.7h1.3v4.4h-1.3zM302.9 287.7h1.3v4.4h-1.3zM310.1 287.7h1.3v4.4h-1.3zM313.3 287.7h1.3v4.4h-1.3zM333.9 287.7h1.3v4.4h-1.3zM249.5 293.4h1.3v4.4h-1.3zM272.9 293.4h1.3v4.4h-1.3zM274.9 293.4h1.3v4.4h-1.3zM278.7 293.4h1.3v4.4h-1.3zM283.1 293.4h1.3v4.4h-1.3zM288.1 293.4h1.3v4.4h-1.3zM305.1 293.4h1.3v4.4h-1.3zM311.7 293.4h1.3v4.4h-1.3zM325.5 293.4h1.3v4.4h-1.3zM327.1 293.4h1.3v4.4h-1.3zM332 293.4h1.3v4.4h-1.3zM335.5 293.4h1.3v4.4h-1.3zM340.4 293.4h1.3v4.4h-1.3zM239.9 299.1h1.3v4.4h-1.3zM244.3 299.1h1.3v4.4h-1.3zM247.5 299.1h1.3v4.4h-1.3zM267.6 299.1h1.3v4.4h-1.3zM306.8 299.1h1.3v4.4h-1.3zM320.3 299.1h1.3v4.4h-1.3zM337.1 299.1h1.3v4.4h-1.3zM322 304.8h1.3v4.4h-1.3zM323.5 304.8h1.3v4.4h-1.3zM339 310.3h1.3v4.4h-1.3zM372.9 310.3h1.3v4.4h-1.3zM374.4 310.3h1.3v4.4h-1.3zM375.9 310.3h1.3v4.4h-1.3zM377.4 310.3h1.3v4.4h-1.3zM378.8 310.3h1.3v4.4h-1.3zM403.5 315.9h1.3v4.4h-1.3zM406.4 315.9h1.3v4.4h-1.3zM409.3 315.9h1.3v4.4h-1.3zM410.8 315.9h1.3v4.4h-1.3zM412.3 315.9h1.3v4.4h-1.3zM413.7 315.9h1.3v4.4h-1.3zM415.2 315.9h1.3v4.4h-1.3zM416.6 315.9h1.3v4.4h-1.3zM526.9 293.3h1.3v4.4h-1.3zM535.6 293.3h1.3v4.4h-1.3zM546.7 293.3h1.3v4.4h-1.3zM548.1 293.3h1.3v4.4h-1.3zM549.6 293.3h1.3v4.4h-1.3zM551.1 293.3h1.3v4.4h-1.3zM552.5 293.3h1.3v4.4h-1.3zM556.1 293.3h1.3v4.4h-1.3zM559 293.3h1.3v4.4h-1.3zM560.5 293.3h1.3v4.4h-1.3zM566.3 293.3h1.3v4.4h-1.3zM567.8 293.3h1.3v4.4h-1.3zM569.2 293.3h1.3v4.4h-1.3zM570.7 293.3h1.3v4.4h-1.3zM573.6 293.3h1.3v4.4h-1.3zM575.1 293.3h1.3v4.4h-1.3zM576.5 293.3h1.3v4.4h-1.3zM579.5 293.3h1.3v4.4h-1.3zM582.4 293.3h1.3v4.4h-1.3zM583.8 293.3h1.3v4.4h-1.3zM585.3 293.3h1.3v4.4h-1.3zM600.8 299h1.3v4.4h-1.3zM612.2 293.3h1.3v4.4h-1.3zM613.7 293.3h1.3v4.4h-1.3zM616.6 293.3h1.3v4.4h-1.3zM618 293.3h1.3v4.4h-1.3zM619.5 293.3h1.3v4.4h-1.3zM621 293.3h1.3v4.4h-1.3zM622.4 293.3h1.3v4.4h-1.3zM623.9 293.3h1.3v4.4h-1.3zM625.3 293.3h1.3v4.4h-1.3zM628.3 293.3h1.3v4.4h-1.3zM629.7 293.3h1.3v4.4h-1.3zM632.6 293.3h1.3v4.4h-1.3z"/>
<path fill="#2c3c78" d="M104.7 299.4h1.3v4.4h-1.3zM152.3 293.5h1.3v4.4h-1.3zM191.7 332.9h1.3v4.4h-1.3zM193.2 332.9h1.3v4.4h-1.3zM196.1 332.9h1.3v4.4h-1.3zM242.3 293.5h1.3v4.4h-1.3zM253.9 276.4h1.3v4.4h-1.3zM291 287.7h1.3v4.4h-1.3zM361.2 287.7h1.3v4.4h-1.3zM242.2 293.4h1.3v4.4h-1.3zM255.9 293.4h1.3v4.4h-1.3zM330.5 293.4h1.3v4.4h-1.3zM329 299.1h1.3v4.4h-1.3zM363.4 315.9h1.3v4.4h-1.3zM467.9 304.3h1.3v4.4h-1.3zM475.2 304.3h1.3v4.4h-1.3zM509.2 293.3h1.3v4.4h-1.3zM512.1 293.3h1.3v4.4h-1.3zM528.3 293.3h1.3v4.4h-1.3zM529.8 293.3h1.3v4.4h-1.3zM534.2 293.3h1.3v4.4h-1.3zM537.1 293.3h1.3v4.4h-1.3zM538.5 293.3h1.3v4.4h-1.3zM592 299h1.3v4.4h-1.3zM597.8 299h1.3v4.4h-1.3zM599.3 299h1.3v4.4h-1.3zM602.2 299h1.3v4.4h-1.3zM603.7 299h1.3v4.4h-1.3zM605.1 299h1.3v4.4h-1.3zM608.1 299h1.3v4.4h-1.3z"/>
<path fill="#f09030" d="M142.1 287.8h1.3v4.4h-1.3zM425.6 304.3h1.3v4.4h-1.3zM440.2 304.3h1.3v4.4h-1.3zM465 304.3h1.3v4.4h-1.3zM486.9 304.3h1.3v4.4h-1.3z"/>
<path fill="#f2d84a" d="M143.6 287.8h1.3v4.4h-1.3z"/>
<path fill="#3a7ec2" d="M213.6 270.8h1.3v4.4h-1.3zM215.1 270.8h1.3v4.4h-1.3zM292.5 287.7h1.3v4.4h-1.3zM361.9 315.9h1.3v4.4h-1.3zM405 315.9h1.3v4.4h-1.3zM407.9 315.9h1.3v4.4h-1.3zM491.7 293.3h1.3v4.4h-1.3zM494.6 293.3h1.3v4.4h-1.3zM499 293.3h1.3v4.4h-1.3zM542.3 293.3h1.3v4.4h-1.3zM543.8 293.3h1.3v4.4h-1.3zM545.2 293.3h1.3v4.4h-1.3zM561.9 293.3h1.3v4.4h-1.3zM563.4 293.3h1.3v4.4h-1.3zM564.9 293.3h1.3v4.4h-1.3zM572.2 293.3h1.3v4.4h-1.3zM580.9 293.3h1.3v4.4h-1.3zM586.8 293.3h1.3v4.4h-1.3zM593.5 299h1.3v4.4h-1.3zM594.9 299h1.3v4.4h-1.3zM596.4 299h1.3v4.4h-1.3zM606.6 299h1.3v4.4h-1.3zM609.5 299h1.3v4.4h-1.3zM615.1 293.3h1.3v4.4h-1.3zM626.8 293.3h1.3v4.4h-1.3zM631.2 293.3h1.3v4.4h-1.3z"/>
<path fill="#7c2240" d="M416.8 304.3h1.3v4.4h-1.3zM418.3 304.3h1.3v4.4h-1.3zM419.7 304.3h1.3v4.4h-1.3zM424.1 304.3h1.3v4.4h-1.3zM428.5 304.3h1.3v4.4h-1.3zM434.3 304.3h1.3v4.4h-1.3zM438.7 304.3h1.3v4.4h-1.3zM443.1 304.3h1.3v4.4h-1.3zM444.5 304.3h1.3v4.4h-1.3zM451.8 304.3h1.3v4.4h-1.3zM453.3 304.3h1.3v4.4h-1.3zM460.6 304.3h1.3v4.4h-1.3zM462.1 304.3h1.3v4.4h-1.3zM473.7 304.3h1.3v4.4h-1.3zM479.6 304.3h1.3v4.4h-1.3zM481 304.3h1.3v4.4h-1.3zM482.5 304.3h1.3v4.4h-1.3zM485.4 304.3h1.3v4.4h-1.3zM488.3 304.3h1.3v4.4h-1.3zM493.2 293.3h1.3v4.4h-1.3zM496.1 293.3h1.3v4.4h-1.3zM497.5 293.3h1.3v4.4h-1.3zM506.3 293.3h1.3v4.4h-1.3zM507.8 293.3h1.3v4.4h-1.3zM525.4 293.3h1.3v4.4h-1.3zM540 293.3h1.3v4.4h-1.3z"/>
<path fill="#d2302e" d="M421.2 304.3h1.3v4.4h-1.3zM422.6 304.3h1.3v4.4h-1.3zM427 304.3h1.3v4.4h-1.3zM429.9 304.3h1.3v4.4h-1.3zM431.4 304.3h1.3v4.4h-1.3zM432.9 304.3h1.3v4.4h-1.3zM435.8 304.3h1.3v4.4h-1.3zM437.2 304.3h1.3v4.4h-1.3zM441.6 304.3h1.3v4.4h-1.3zM446 304.3h1.3v4.4h-1.3zM447.5 304.3h1.3v4.4h-1.3zM448.9 304.3h1.3v4.4h-1.3zM450.4 304.3h1.3v4.4h-1.3zM454.8 304.3h1.3v4.4h-1.3zM456.2 304.3h1.3v4.4h-1.3zM457.7 304.3h1.3v4.4h-1.3zM459.1 304.3h1.3v4.4h-1.3zM463.5 304.3h1.3v4.4h-1.3zM466.4 304.3h1.3v4.4h-1.3zM469.4 304.3h1.3v4.4h-1.3zM470.8 304.3h1.3v4.4h-1.3zM472.3 304.3h1.3v4.4h-1.3zM476.7 304.3h1.3v4.4h-1.3zM478.1 304.3h1.3v4.4h-1.3zM484 304.3h1.3v4.4h-1.3zM489.8 304.3h1.3v4.4h-1.3zM500.5 293.3h1.3v4.4h-1.3zM501.9 293.3h1.3v4.4h-1.3zM503.4 293.3h1.3v4.4h-1.3zM504.8 293.3h1.3v4.4h-1.3zM510.7 293.3h1.3v4.4h-1.3zM513.6 293.3h1.3v4.4h-1.3zM531.2 293.3h1.3v4.4h-1.3zM532.7 293.3h1.3v4.4h-1.3zM557.6 293.3h1.3v4.4h-1.3zM578 293.3h1.3v4.4h-1.3z"/>
<path fill="#4e2a58" shape-rendering="crispEdges" d="M53.8 369.2h1.5v4.4h-1.5zM55.3 369.2h1.5v4.4h-1.5zM56.7 369.2h1.5v4.4h-1.5zM61.1 369.2h1.5v4.4h-1.5zM65.5 369.2h1.5v4.4h-1.5zM69.9 369.2h1.5v4.4h-1.5zM71.3 369.2h1.5v4.4h-1.5zM75.7 369.2h1.5v4.4h-1.5zM80.1 369.2h1.5v4.4h-1.5zM83 369.2h1.5v4.4h-1.5zM87.4 369.2h1.5v4.4h-1.5zM90.3 369.2h1.5v4.4h-1.5zM99.1 369.2h1.5v4.4h-1.5zM100.5 369.2h1.5v4.4h-1.5zM104.9 369.2h1.5v4.4h-1.5zM107.8 369.2h1.5v4.4h-1.5zM112.2 369.2h1.5v4.4h-1.5zM113.7 369.2h1.5v4.4h-1.5zM115.1 369.2h1.5v4.4h-1.5zM135.6 369.2h1.5v4.4h-1.5zM138.5 369.2h1.5v4.4h-1.5zM139.9 369.2h1.5v4.4h-1.5zM142.9 369.2h1.5v4.4h-1.5zM145.8 369.2h1.5v4.4h-1.5zM150.2 369.2h1.5v4.4h-1.5zM164.8 369.2h1.5v4.4h-1.5zM166.2 369.2h1.5v4.4h-1.5zM167.7 369.2h1.5v4.4h-1.5zM177.9 369.2h1.5v4.4h-1.5zM179.4 369.2h1.5v4.4h-1.5zM183.7 369.2h1.5v4.4h-1.5zM192.5 369.2h1.5v4.4h-1.5zM199.8 369.2h1.5v4.4h-1.5zM201.3 369.2h1.5v4.4h-1.5zM214.4 369.2h1.5v4.4h-1.5zM218.8 369.2h1.5v4.4h-1.5zM221.7 369.2h1.5v4.4h-1.5zM230.5 369.2h1.5v4.4h-1.5zM239.2 369.2h1.5v4.4h-1.5zM243.6 369.2h1.5v4.4h-1.5zM245.1 369.2h1.5v4.4h-1.5zM259.7 369.2h1.5v4.4h-1.5zM261.1 369.2h1.5v4.4h-1.5zM262.6 369.2h1.5v4.4h-1.5zM265.5 369.2h1.5v4.4h-1.5zM275.7 369.2h1.5v4.4h-1.5zM283 369.2h1.5v4.4h-1.5z"/>
<path fill="#2c3c78" shape-rendering="crispEdges" d="M58.2 369.2h1.5v4.4h-1.5zM78.6 369.2h1.5v4.4h-1.5zM96.1 369.2h1.5v4.4h-1.5zM106.4 369.2h1.5v4.4h-1.5zM109.3 369.2h1.5v4.4h-1.5zM118 369.2h1.5v4.4h-1.5zM147.2 369.2h1.5v4.4h-1.5zM217.3 369.2h1.5v4.4h-1.5zM250.9 369.2h1.5v4.4h-1.5zM258.2 369.2h1.5v4.4h-1.5zM268.4 369.2h1.5v4.4h-1.5zM269.9 369.2h1.5v4.4h-1.5zM280.1 369.2h1.5v4.4h-1.5zM287.4 369.2h1.5v4.4h-1.5zM291.8 369.2h1.5v4.4h-1.5zM299.1 369.2h1.5v4.4h-1.5zM300.5 369.2h1.5v4.4h-1.5zM318.1 369.2h1.5v4.4h-1.5zM319.5 369.2h1.5v4.4h-1.5zM338.5 369.2h1.5v4.4h-1.5zM354.6 369.2h1.5v4.4h-1.5zM364.8 369.2h1.5v4.4h-1.5zM366.2 369.2h1.5v4.4h-1.5zM372.1 369.2h1.5v4.4h-1.5zM377.9 369.2h1.5v4.4h-1.5zM382.3 369.2h1.5v4.4h-1.5zM385.2 369.2h1.5v4.4h-1.5zM391.1 369.2h1.5v4.4h-1.5zM398.4 369.2h1.5v4.4h-1.5zM399.8 369.2h1.5v4.4h-1.5zM402.7 369.2h1.5v4.4h-1.5zM442.2 369.2h1.5v4.4h-1.5zM443.6 369.2h1.5v4.4h-1.5zM462.6 369.2h1.5v4.4h-1.5zM474.3 369.2h1.5v4.4h-1.5zM481.6 369.2h1.5v4.4h-1.5zM486 369.2h1.5v4.4h-1.5zM493.3 369.2h1.5v4.4h-1.5zM497.6 369.2h1.5v4.4h-1.5zM510.8 369.2h1.5v4.4h-1.5zM519.5 369.2h1.5v4.4h-1.5zM521 369.2h1.5v4.4h-1.5zM522.5 369.2h1.5v4.4h-1.5zM525.4 369.2h1.5v4.4h-1.5zM542.9 369.2h1.5v4.4h-1.5zM556 369.2h1.5v4.4h-1.5zM570.6 369.2h1.5v4.4h-1.5zM575 369.2h1.5v4.4h-1.5zM594 369.2h1.5v4.4h-1.5zM601.3 369.2h1.5v4.4h-1.5zM610.1 369.2h1.5v4.4h-1.5zM614.4 369.2h1.5v4.4h-1.5zM617.4 369.2h1.5v4.4h-1.5zM627.6 369.2h1.5v4.4h-1.5zM629 369.2h1.5v4.4h-1.5z"/>
<path fill="#7c2240" shape-rendering="crispEdges" d="M59.6 369.2h1.5v4.4h-1.5zM66.9 369.2h1.5v4.4h-1.5zM81.5 369.2h1.5v4.4h-1.5zM84.5 369.2h1.5v4.4h-1.5zM85.9 369.2h1.5v4.4h-1.5zM93.2 369.2h1.5v4.4h-1.5zM97.6 369.2h1.5v4.4h-1.5zM103.4 369.2h1.5v4.4h-1.5zM110.7 369.2h1.5v4.4h-1.5zM116.6 369.2h1.5v4.4h-1.5zM119.5 369.2h1.5v4.4h-1.5zM121 369.2h1.5v4.4h-1.5zM123.9 369.2h1.5v4.4h-1.5zM129.7 369.2h1.5v4.4h-1.5zM131.2 369.2h1.5v4.4h-1.5zM132.6 369.2h1.5v4.4h-1.5zM137 369.2h1.5v4.4h-1.5zM141.4 369.2h1.5v4.4h-1.5zM144.3 369.2h1.5v4.4h-1.5zM148.7 369.2h1.5v4.4h-1.5zM151.6 369.2h1.5v4.4h-1.5zM153.1 369.2h1.5v4.4h-1.5zM154.5 369.2h1.5v4.4h-1.5zM157.5 369.2h1.5v4.4h-1.5zM158.9 369.2h1.5v4.4h-1.5zM163.3 369.2h1.5v4.4h-1.5zM169.1 369.2h1.5v4.4h-1.5zM188.1 369.2h1.5v4.4h-1.5zM195.4 369.2h1.5v4.4h-1.5zM198.3 369.2h1.5v4.4h-1.5zM205.6 369.2h1.5v4.4h-1.5zM207.1 369.2h1.5v4.4h-1.5zM212.9 369.2h1.5v4.4h-1.5zM215.9 369.2h1.5v4.4h-1.5zM220.2 369.2h1.5v4.4h-1.5zM223.2 369.2h1.5v4.4h-1.5zM224.6 369.2h1.5v4.4h-1.5zM226.1 369.2h1.5v4.4h-1.5zM227.5 369.2h1.5v4.4h-1.5zM229 369.2h1.5v4.4h-1.5zM231.9 369.2h1.5v4.4h-1.5zM240.7 369.2h1.5v4.4h-1.5zM246.5 369.2h1.5v4.4h-1.5zM271.3 369.2h1.5v4.4h-1.5zM335.6 369.2h1.5v4.4h-1.5z"/>
<path fill="#d2302e" shape-rendering="crispEdges" d="M62.6 369.2h1.5v4.4h-1.5zM68.4 369.2h1.5v4.4h-1.5zM72.8 369.2h1.5v4.4h-1.5zM74.2 369.2h1.5v4.4h-1.5zM77.2 369.2h1.5v4.4h-1.5zM88.8 369.2h1.5v4.4h-1.5zM94.7 369.2h1.5v4.4h-1.5zM122.4 369.2h1.5v4.4h-1.5zM125.3 369.2h1.5v4.4h-1.5zM126.8 369.2h1.5v4.4h-1.5zM128.3 369.2h1.5v4.4h-1.5zM134.1 369.2h1.5v4.4h-1.5zM156 369.2h1.5v4.4h-1.5zM160.4 369.2h1.5v4.4h-1.5zM161.8 369.2h1.5v4.4h-1.5zM172.1 369.2h1.5v4.4h-1.5zM180.8 369.2h1.5v4.4h-1.5zM182.3 369.2h1.5v4.4h-1.5zM185.2 369.2h1.5v4.4h-1.5zM186.7 369.2h1.5v4.4h-1.5zM189.6 369.2h1.5v4.4h-1.5zM191 369.2h1.5v4.4h-1.5zM194 369.2h1.5v4.4h-1.5zM196.9 369.2h1.5v4.4h-1.5zM202.7 369.2h1.5v4.4h-1.5zM208.6 369.2h1.5v4.4h-1.5zM210 369.2h1.5v4.4h-1.5zM211.5 369.2h1.5v4.4h-1.5zM233.4 369.2h1.5v4.4h-1.5zM234.8 369.2h1.5v4.4h-1.5zM237.8 369.2h1.5v4.4h-1.5z"/>
<path fill="#3a7ec2" shape-rendering="crispEdges" d="M64 369.2h1.5v4.4h-1.5zM91.8 369.2h1.5v4.4h-1.5zM102 369.2h1.5v4.4h-1.5zM170.6 369.2h1.5v4.4h-1.5zM173.5 369.2h1.5v4.4h-1.5zM175 369.2h1.5v4.4h-1.5zM176.4 369.2h1.5v4.4h-1.5zM204.2 369.2h1.5v4.4h-1.5zM236.3 369.2h1.5v4.4h-1.5zM242.1 369.2h1.5v4.4h-1.5zM248 369.2h1.5v4.4h-1.5zM252.4 369.2h1.5v4.4h-1.5zM253.8 369.2h1.5v4.4h-1.5zM255.3 369.2h1.5v4.4h-1.5zM256.7 369.2h1.5v4.4h-1.5zM264 369.2h1.5v4.4h-1.5zM267 369.2h1.5v4.4h-1.5zM274.3 369.2h1.5v4.4h-1.5zM277.2 369.2h1.5v4.4h-1.5zM278.6 369.2h1.5v4.4h-1.5zM281.6 369.2h1.5v4.4h-1.5zM284.5 369.2h1.5v4.4h-1.5zM288.9 369.2h1.5v4.4h-1.5zM290.3 369.2h1.5v4.4h-1.5zM293.2 369.2h1.5v4.4h-1.5zM296.2 369.2h1.5v4.4h-1.5zM302 369.2h1.5v4.4h-1.5zM304.9 369.2h1.5v4.4h-1.5zM306.4 369.2h1.5v4.4h-1.5zM309.3 369.2h1.5v4.4h-1.5zM310.8 369.2h1.5v4.4h-1.5zM313.7 369.2h1.5v4.4h-1.5zM315.1 369.2h1.5v4.4h-1.5zM316.6 369.2h1.5v4.4h-1.5zM323.9 369.2h1.5v4.4h-1.5zM325.4 369.2h1.5v4.4h-1.5zM328.3 369.2h1.5v4.4h-1.5zM331.2 369.2h1.5v4.4h-1.5zM332.7 369.2h1.5v4.4h-1.5zM334.1 369.2h1.5v4.4h-1.5zM337 369.2h1.5v4.4h-1.5zM340 369.2h1.5v4.4h-1.5zM341.4 369.2h1.5v4.4h-1.5zM342.9 369.2h1.5v4.4h-1.5zM344.3 369.2h1.5v4.4h-1.5zM348.7 369.2h1.5v4.4h-1.5zM360.4 369.2h1.5v4.4h-1.5zM361.9 369.2h1.5v4.4h-1.5zM367.7 369.2h1.5v4.4h-1.5zM373.5 369.2h1.5v4.4h-1.5zM376.5 369.2h1.5v4.4h-1.5zM380.8 369.2h1.5v4.4h-1.5zM392.5 369.2h1.5v4.4h-1.5zM395.4 369.2h1.5v4.4h-1.5zM396.9 369.2h1.5v4.4h-1.5zM404.2 369.2h1.5v4.4h-1.5zM405.7 369.2h1.5v4.4h-1.5zM407.1 369.2h1.5v4.4h-1.5zM408.6 369.2h1.5v4.4h-1.5zM410 369.2h1.5v4.4h-1.5zM413 369.2h1.5v4.4h-1.5zM414.4 369.2h1.5v4.4h-1.5zM415.9 369.2h1.5v4.4h-1.5zM418.8 369.2h1.5v4.4h-1.5zM426.1 369.2h1.5v4.4h-1.5zM427.6 369.2h1.5v4.4h-1.5zM433.4 369.2h1.5v4.4h-1.5zM434.9 369.2h1.5v4.4h-1.5zM439.2 369.2h1.5v4.4h-1.5zM448 369.2h1.5v4.4h-1.5zM449.5 369.2h1.5v4.4h-1.5zM452.4 369.2h1.5v4.4h-1.5zM458.2 369.2h1.5v4.4h-1.5zM464.1 369.2h1.5v4.4h-1.5zM467 369.2h1.5v4.4h-1.5zM469.9 369.2h1.5v4.4h-1.5zM475.7 369.2h1.5v4.4h-1.5zM478.7 369.2h1.5v4.4h-1.5zM484.5 369.2h1.5v4.4h-1.5zM487.4 369.2h1.5v4.4h-1.5zM490.3 369.2h1.5v4.4h-1.5zM506.4 369.2h1.5v4.4h-1.5zM507.9 369.2h1.5v4.4h-1.5zM512.2 369.2h1.5v4.4h-1.5zM515.2 369.2h1.5v4.4h-1.5zM526.8 369.2h1.5v4.4h-1.5zM528.3 369.2h1.5v4.4h-1.5zM531.2 369.2h1.5v4.4h-1.5zM532.7 369.2h1.5v4.4h-1.5zM534.1 369.2h1.5v4.4h-1.5zM535.6 369.2h1.5v4.4h-1.5zM538.5 369.2h1.5v4.4h-1.5zM540 369.2h1.5v4.4h-1.5zM541.4 369.2h1.5v4.4h-1.5zM544.4 369.2h1.5v4.4h-1.5zM545.8 369.2h1.5v4.4h-1.5zM547.3 369.2h1.5v4.4h-1.5zM548.7 369.2h1.5v4.4h-1.5zM550.2 369.2h1.5v4.4h-1.5zM554.6 369.2h1.5v4.4h-1.5zM560.4 369.2h1.5v4.4h-1.5zM561.9 369.2h1.5v4.4h-1.5zM564.8 369.2h1.5v4.4h-1.5zM567.7 369.2h1.5v4.4h-1.5zM569.2 369.2h1.5v4.4h-1.5zM572.1 369.2h1.5v4.4h-1.5zM576.5 369.2h1.5v4.4h-1.5zM579.4 369.2h1.5v4.4h-1.5zM580.9 369.2h1.5v4.4h-1.5zM586.7 369.2h1.5v4.4h-1.5zM591.1 369.2h1.5v4.4h-1.5zM595.5 369.2h1.5v4.4h-1.5zM596.9 369.2h1.5v4.4h-1.5zM605.7 369.2h1.5v4.4h-1.5zM611.5 369.2h1.5v4.4h-1.5zM620.3 369.2h1.5v4.4h-1.5zM621.7 369.2h1.5v4.4h-1.5zM623.2 369.2h1.5v4.4h-1.5zM632 369.2h1.5v4.4h-1.5zM634.9 369.2h1.5v4.4h-1.5z"/>
<path fill="#38b0e2" shape-rendering="crispEdges" d="M249.4 369.2h1.5v4.4h-1.5zM272.8 369.2h1.5v4.4h-1.5zM285.9 369.2h1.5v4.4h-1.5zM294.7 369.2h1.5v4.4h-1.5zM297.6 369.2h1.5v4.4h-1.5zM303.5 369.2h1.5v4.4h-1.5zM307.8 369.2h1.5v4.4h-1.5zM312.2 369.2h1.5v4.4h-1.5zM321 369.2h1.5v4.4h-1.5zM322.4 369.2h1.5v4.4h-1.5zM326.8 369.2h1.5v4.4h-1.5zM329.7 369.2h1.5v4.4h-1.5zM345.8 369.2h1.5v4.4h-1.5zM347.3 369.2h1.5v4.4h-1.5zM350.2 369.2h1.5v4.4h-1.5zM351.6 369.2h1.5v4.4h-1.5zM353.1 369.2h1.5v4.4h-1.5zM356 369.2h1.5v4.4h-1.5zM357.5 369.2h1.5v4.4h-1.5zM358.9 369.2h1.5v4.4h-1.5zM363.3 369.2h1.5v4.4h-1.5zM369.2 369.2h1.5v4.4h-1.5zM370.6 369.2h1.5v4.4h-1.5zM375 369.2h1.5v4.4h-1.5zM379.4 369.2h1.5v4.4h-1.5zM383.8 369.2h1.5v4.4h-1.5zM386.7 369.2h1.5v4.4h-1.5zM388.1 369.2h1.5v4.4h-1.5zM389.6 369.2h1.5v4.4h-1.5zM394 369.2h1.5v4.4h-1.5zM401.3 369.2h1.5v4.4h-1.5zM411.5 369.2h1.5v4.4h-1.5zM417.3 369.2h1.5v4.4h-1.5zM420.3 369.2h1.5v4.4h-1.5zM421.7 369.2h1.5v4.4h-1.5zM423.2 369.2h1.5v4.4h-1.5zM424.6 369.2h1.5v4.4h-1.5zM429 369.2h1.5v4.4h-1.5zM430.5 369.2h1.5v4.4h-1.5zM431.9 369.2h1.5v4.4h-1.5zM436.3 369.2h1.5v4.4h-1.5zM437.8 369.2h1.5v4.4h-1.5zM440.7 369.2h1.5v4.4h-1.5zM445.1 369.2h1.5v4.4h-1.5zM446.5 369.2h1.5v4.4h-1.5zM450.9 369.2h1.5v4.4h-1.5zM453.8 369.2h1.5v4.4h-1.5zM455.3 369.2h1.5v4.4h-1.5zM456.8 369.2h1.5v4.4h-1.5zM459.7 369.2h1.5v4.4h-1.5zM461.1 369.2h1.5v4.4h-1.5zM465.5 369.2h1.5v4.4h-1.5zM468.4 369.2h1.5v4.4h-1.5zM471.4 369.2h1.5v4.4h-1.5zM472.8 369.2h1.5v4.4h-1.5zM477.2 369.2h1.5v4.4h-1.5zM480.1 369.2h1.5v4.4h-1.5zM483 369.2h1.5v4.4h-1.5zM488.9 369.2h1.5v4.4h-1.5zM491.8 369.2h1.5v4.4h-1.5zM494.7 369.2h1.5v4.4h-1.5zM496.2 369.2h1.5v4.4h-1.5zM499.1 369.2h1.5v4.4h-1.5zM500.6 369.2h1.5v4.4h-1.5zM502 369.2h1.5v4.4h-1.5zM503.5 369.2h1.5v4.4h-1.5zM504.9 369.2h1.5v4.4h-1.5zM509.3 369.2h1.5v4.4h-1.5zM513.7 369.2h1.5v4.4h-1.5zM516.6 369.2h1.5v4.4h-1.5zM518.1 369.2h1.5v4.4h-1.5zM523.9 369.2h1.5v4.4h-1.5zM529.8 369.2h1.5v4.4h-1.5zM537.1 369.2h1.5v4.4h-1.5zM551.7 369.2h1.5v4.4h-1.5zM553.1 369.2h1.5v4.4h-1.5zM557.5 369.2h1.5v4.4h-1.5zM559 369.2h1.5v4.4h-1.5zM563.3 369.2h1.5v4.4h-1.5zM566.3 369.2h1.5v4.4h-1.5zM573.6 369.2h1.5v4.4h-1.5zM577.9 369.2h1.5v4.4h-1.5zM582.3 369.2h1.5v4.4h-1.5zM583.8 369.2h1.5v4.4h-1.5zM585.2 369.2h1.5v4.4h-1.5zM588.2 369.2h1.5v4.4h-1.5zM589.6 369.2h1.5v4.4h-1.5zM592.5 369.2h1.5v4.4h-1.5zM598.4 369.2h1.5v4.4h-1.5zM599.8 369.2h1.5v4.4h-1.5zM602.8 369.2h1.5v4.4h-1.5zM604.2 369.2h1.5v4.4h-1.5zM607.1 369.2h1.5v4.4h-1.5zM608.6 369.2h1.5v4.4h-1.5zM613 369.2h1.5v4.4h-1.5zM615.9 369.2h1.5v4.4h-1.5zM618.8 369.2h1.5v4.4h-1.5zM624.7 369.2h1.5v4.4h-1.5zM626.1 369.2h1.5v4.4h-1.5zM630.5 369.2h1.5v4.4h-1.5zM633.4 369.2h1.5v4.4h-1.5zM636.3 369.2h1.5v4.4h-1.5z"/>
<rect x="48" y="233" width="593.5" height="162.5" fill="none" stroke="#000" stroke-width="1.8"/>
<line x1="44.6" y1="387.5" x2="48" y2="387.5" stroke="#000" stroke-width="1"/>
<text x="41.3" y="391.6" font-size="11.5" text-anchor="end" fill="#111" font-weight="normal" font-style="normal" >610</text>
<line x1="44.6" y1="371.3" x2="48" y2="371.3" stroke="#000" stroke-width="1"/>
<text x="41.3" y="375.4" font-size="11.5" text-anchor="end" fill="#111" font-weight="normal" font-style="normal" >620</text>
<line x1="44.6" y1="355" x2="48" y2="355" stroke="#000" stroke-width="1"/>
<text x="41.3" y="359.1" font-size="11.5" text-anchor="end" fill="#111" font-weight="normal" font-style="normal" >630</text>
<line x1="44.6" y1="338.7" x2="48" y2="338.7" stroke="#000" stroke-width="1"/>
<text x="41.3" y="342.8" font-size="11.5" text-anchor="end" fill="#111" font-weight="normal" font-style="normal" >640</text>
<line x1="44.6" y1="322.4" x2="48" y2="322.4" stroke="#000" stroke-width="1"/>
<text x="41.3" y="326.6" font-size="11.5" text-anchor="end" fill="#111" font-weight="normal" font-style="normal" >650</text>
<line x1="44.6" y1="306.2" x2="48" y2="306.2" stroke="#000" stroke-width="1"/>
<text x="41.3" y="310.3" font-size="11.5" text-anchor="end" fill="#111" font-weight="normal" font-style="normal" >660</text>
<line x1="44.6" y1="289.9" x2="48" y2="289.9" stroke="#000" stroke-width="1"/>
<text x="41.3" y="294" font-size="11.5" text-anchor="end" fill="#111" font-weight="normal" font-style="normal" >670</text>
<line x1="44.6" y1="273.6" x2="48" y2="273.6" stroke="#000" stroke-width="1"/>
<text x="41.3" y="277.7" font-size="11.5" text-anchor="end" fill="#111" font-weight="normal" font-style="normal" >680</text>
<line x1="44.6" y1="257.4" x2="48" y2="257.4" stroke="#000" stroke-width="1"/>
<text x="41.3" y="261.5" font-size="11.5" text-anchor="end" fill="#111" font-weight="normal" font-style="normal" >690</text>
<line x1="44.6" y1="241.1" x2="48" y2="241.1" stroke="#000" stroke-width="1"/>
<text x="41.3" y="245.2" font-size="11.5" text-anchor="end" fill="#111" font-weight="normal" font-style="normal" >700</text>
<line x1="52.9" y1="395.5" x2="52.9" y2="398.6" stroke="#000" stroke-width="1"/>
<text x="52.9" y="410.7" font-size="12" text-anchor="middle" fill="#111" font-weight="normal" font-style="normal" >0</text>
<line x1="101.5" y1="395.5" x2="101.5" y2="398.6" stroke="#000" stroke-width="1"/>
<text x="101.5" y="410.7" font-size="12" text-anchor="middle" fill="#111" font-weight="normal" font-style="normal" >100</text>
<line x1="150.2" y1="395.5" x2="150.2" y2="398.6" stroke="#000" stroke-width="1"/>
<text x="150.2" y="410.7" font-size="12" text-anchor="middle" fill="#111" font-weight="normal" font-style="normal" >200</text>
<line x1="198.8" y1="395.5" x2="198.8" y2="398.6" stroke="#000" stroke-width="1"/>
<text x="198.8" y="410.7" font-size="12" text-anchor="middle" fill="#111" font-weight="normal" font-style="normal" >300</text>
<line x1="247.4" y1="395.5" x2="247.4" y2="398.6" stroke="#000" stroke-width="1"/>
<text x="247.4" y="410.7" font-size="12" text-anchor="middle" fill="#111" font-weight="normal" font-style="normal" >400</text>
<line x1="296.1" y1="395.5" x2="296.1" y2="398.6" stroke="#000" stroke-width="1"/>
<text x="296.1" y="410.7" font-size="12" text-anchor="middle" fill="#111" font-weight="normal" font-style="normal" >500</text>
<line x1="344.7" y1="395.5" x2="344.7" y2="398.6" stroke="#000" stroke-width="1"/>
<text x="344.7" y="410.7" font-size="12" text-anchor="middle" fill="#111" font-weight="normal" font-style="normal" >600</text>
<line x1="393.3" y1="395.5" x2="393.3" y2="398.6" stroke="#000" stroke-width="1"/>
<text x="393.3" y="410.7" font-size="12" text-anchor="middle" fill="#111" font-weight="normal" font-style="normal" >700</text>
<line x1="441.9" y1="395.5" x2="441.9" y2="398.6" stroke="#000" stroke-width="1"/>
<text x="441.9" y="410.7" font-size="12" text-anchor="middle" fill="#111" font-weight="normal" font-style="normal" >800</text>
<line x1="490.6" y1="395.5" x2="490.6" y2="398.6" stroke="#000" stroke-width="1"/>
<text x="490.6" y="410.7" font-size="12" text-anchor="middle" fill="#111" font-weight="normal" font-style="normal" >900</text>
<line x1="539.2" y1="395.5" x2="539.2" y2="398.6" stroke="#000" stroke-width="1"/>
<text x="539.2" y="410.7" font-size="12" text-anchor="middle" fill="#111" font-weight="normal" font-style="normal" >1000</text>
<line x1="587.8" y1="395.5" x2="587.8" y2="398.6" stroke="#000" stroke-width="1"/>
<text x="587.8" y="410.7" font-size="12" text-anchor="middle" fill="#111" font-weight="normal" font-style="normal" >1100</text>
<line x1="636.5" y1="395.5" x2="636.5" y2="398.6" stroke="#000" stroke-width="1"/>
<text x="636.5" y="410.7" font-size="12" text-anchor="middle" fill="#111" font-weight="normal" font-style="normal" >1200</text>
<text x="345" y="422.8" font-size="12.3" text-anchor="middle" fill="#111" font-weight="normal" font-style="normal" >Time (s)</text>
<text transform="translate(17.6,313.7) rotate(-90)" font-size="12.5" text-anchor="middle" fill="#111">Wavelength (nm)</text>
<defs><linearGradient id="gc" x1="0" y1="1" x2="0" y2="0"><stop offset="0" stop-color="#1c2a58"/><stop offset="0.13" stop-color="#34ade0"/><stop offset="0.27" stop-color="#3a7cc0"/><stop offset="0.4" stop-color="#2e2f5c"/><stop offset="0.48" stop-color="#5a1f3c"/><stop offset="0.6" stop-color="#d5302c"/><stop offset="0.8" stop-color="#f08a32"/><stop offset="1" stop-color="#f5e642"/></linearGradient></defs>
<rect x="645.3" y="235" width="5.5" height="161.2" fill="url(#gc)" stroke="#222" stroke-width="0.8"/>
<text x="652.5" y="244.8" font-size="11.5" text-anchor="start" fill="#111" font-weight="normal" font-style="normal" >1000</text>
<text x="652.5" y="395.6" font-size="11.5" text-anchor="start" fill="#111" font-weight="normal" font-style="normal" >150</text>
<text transform="translate(656,312.2) rotate(90)" font-size="12.5" text-anchor="middle" fill="#111">Counts</text>
<text x="7" y="433.5" font-size="12" text-anchor="start" fill="#111" font-weight="bold" font-style="normal" >d</text>
<defs><pattern id="lat" width="3" height="5" patternUnits="userSpaceOnUse"><rect width="3" height="5" fill="#050505"/><rect x="1.1" y="0.6" width="0.85" height="0.85" fill="#c4c4c4"/><rect x="0" y="3.1" width="0.8" height="0.8" fill="#6c6c6c"/></pattern></defs>
<rect x="38" y="433.1" width="147" height="147.7" fill="url(#lat)"/>
<g fill="none" stroke="#a9bfd4" stroke-width="0.7" stroke-linejoin="round">
<path d="M113.2 451.9h3l-1.5 2.5z"/>
<path d="M75.9 459.8h3l-1.5 2.5z"/>
<path d="M110 458.9h3l-1.5 2.5z"/>
<path d="M130.8 458.9h3l-1.5 2.5z"/>
<path d="M173.1 489.6h3l-1.5 2.5z"/>
<path d="M115.9 502.1h3l-1.5 2.5z"/>
<path d="M131.3 514.7h3l-1.5 2.5z"/>
<path d="M140.1 514.7h3l-1.5 2.5z"/>
<path d="M129.3 522h3l-1.5 2.5z"/>
<path d="M100.1 525.5h3l-1.5 2.5z"/>
<path d="M68 549.7h3l-1.5 2.5z"/>
</g>
<g fill="none" stroke="#d8a232" stroke-width="0.8">
<g transform="rotate(22 102.8 514.9)"><ellipse cx="102.8" cy="513.3" rx="1.45" ry="1.55"/><ellipse cx="102.8" cy="516.5" rx="1.45" ry="1.55"/></g>
</g>
<text x="44" y="450.8" font-size="12.5" fill="#fff"><tspan font-family="Liberation Serif" font-style="italic" font-size="13">t</tspan>=300 s</text>
<rect x="189.2" y="433.1" width="147.6" height="147.7" fill="url(#lat)"/>
<g fill="none" stroke="#a9bfd4" stroke-width="0.7" stroke-linejoin="round">
<path d="M283.6 437h3l-1.5 2.5z"/>
<path d="M255 462.1h3l-1.5 2.5z"/>
<path d="M263.8 462.1h3l-1.5 2.5z"/>
<path d="M272.5 461.2h3l-1.5 2.5z"/>
<path d="M266.1 466.2h3l-1.5 2.5z"/>
<path d="M271.9 466.2h3l-1.5 2.5z"/>
<path d="M280.1 464.2h3l-1.5 2.5z"/>
<path d="M288.9 459.2h3l-1.5 2.5z"/>
<path d="M301.1 462.1h3l-1.5 2.5z"/>
<path d="M296.7 469.1h3l-1.5 2.5z"/>
<path d="M303.5 469.1h3l-1.5 2.5z"/>
<path d="M319.2 462.1h3l-1.5 2.5z"/>
<path d="M241.3 471.5h3l-1.5 2.5z"/>
<path d="M239.8 475.8h3l-1.5 2.5z"/>
<path d="M269 471.5h3l-1.5 2.5z"/>
<path d="M286.5 475.8h3l-1.5 2.5z"/>
<path d="M257.3 475.8h3l-1.5 2.5z"/>
<path d="M264.9 484.6h3l-1.5 2.5z"/>
<path d="M259.7 486.6h3l-1.5 2.5z"/>
<path d="M288.9 486.6h3l-1.5 2.5z"/>
<path d="M305.5 486.6h3l-1.5 2.5z"/>
<path d="M228.7 498.3h3l-1.5 2.5z"/>
<path d="M246.2 497.1h3l-1.5 2.5z"/>
<path d="M291.8 498.3h3l-1.5 2.5z"/>
<path d="M303.5 497.1h3l-1.5 2.5z"/>
<path d="M307 499.2h3l-1.5 2.5z"/>
<path d="M247.4 524.6h3l-1.5 2.5z"/>
<path d="M285.9 524h3l-1.5 2.5z"/>
<path d="M288.9 529.3h3l-1.5 2.5z"/>
<path d="M293 525.5h3l-1.5 2.5z"/>
<path d="M295.9 529.8h3l-1.5 2.5z"/>
<path d="M255.9 534.2h3l-1.5 2.5z"/>
<path d="M262.6 534.2h3l-1.5 2.5z"/>
<path d="M276.9 534.2h3l-1.5 2.5z"/>
<path d="M279.2 538.6h3l-1.5 2.5z"/>
<path d="M294.7 534.2h3l-1.5 2.5z"/>
<path d="M276.6 556.7h3l-1.5 2.5z"/>
<path d="M272.5 572.2h3l-1.5 2.5z"/>
<path d="M294.1 572.2h3l-1.5 2.5z"/>
<path d="M299.4 572.2h3l-1.5 2.5z"/>
</g>
<g fill="none" stroke="#d8a232" stroke-width="0.8">
<g transform="rotate(-22 252.4 464.4)"><ellipse cx="252.4" cy="462.8" rx="1.45" ry="1.55"/><ellipse cx="252.4" cy="466" rx="1.45" ry="1.55"/></g>
<g transform="rotate(-22 296.8 462.3)"><ellipse cx="296.8" cy="460.7" rx="1.45" ry="1.55"/><ellipse cx="296.8" cy="463.9" rx="1.45" ry="1.55"/></g>
<g transform="rotate(-22 245.4 528)"><ellipse cx="245.4" cy="526.4" rx="1.45" ry="1.55"/><ellipse cx="245.4" cy="529.6" rx="1.45" ry="1.55"/></g>
</g>
<text x="195.2" y="450.8" font-size="12.5" fill="#fff"><tspan font-family="Liberation Serif" font-style="italic" font-size="13">t</tspan>=600 s</text>
<rect x="341.7" y="433.1" width="146.8" height="147.7" fill="url(#lat)"/>
<g fill="none" stroke="#a9bfd4" stroke-width="0.7" stroke-linejoin="round">
<path d="M425.1 509.7h3l-1.5 2.5z"/>
<path d="M394.2 552.8h3l-1.5 2.5z"/>
<path d="M453.9 475.4h3l-1.5 2.5z"/>
<path d="M436.5 525.2h3l-1.5 2.5z"/>
<path d="M380.2 494.5h3l-1.5 2.5z"/>
<path d="M388.1 488.5h3l-1.5 2.5z"/>
<path d="M343.7 457.4h3l-1.5 2.5z"/>
<path d="M410.9 448.9h3l-1.5 2.5z"/>
<path d="M441.2 501.6h3l-1.5 2.5z"/>
<path d="M353 435.2h3l-1.5 2.5z"/>
<path d="M398.9 537.8h3l-1.5 2.5z"/>
<path d="M484.4 462.8h3l-1.5 2.5z"/>
<path d="M432.1 511.6h3l-1.5 2.5z"/>
<path d="M392 565.8h3l-1.5 2.5z"/>
<path d="M458.2 491.4h3l-1.5 2.5z"/>
<path d="M434 498.7h3l-1.5 2.5z"/>
<path d="M441.6 542.1h3l-1.5 2.5z"/>
<path d="M460.8 530h3l-1.5 2.5z"/>
<path d="M449.6 496.7h3l-1.5 2.5z"/>
<path d="M433.1 576.1h3l-1.5 2.5z"/>
<path d="M465.9 520.4h3l-1.5 2.5z"/>
<path d="M354.9 513.2h3l-1.5 2.5z"/>
<path d="M433 555.7h3l-1.5 2.5z"/>
<path d="M465.5 550.7h3l-1.5 2.5z"/>
<path d="M357.2 545.1h3l-1.5 2.5z"/>
<path d="M406.3 467.1h3l-1.5 2.5z"/>
<path d="M353.3 530.6h3l-1.5 2.5z"/>
<path d="M351.7 474.1h3l-1.5 2.5z"/>
<path d="M372.5 477h3l-1.5 2.5z"/>
<path d="M469.1 493.7h3l-1.5 2.5z"/>
<path d="M479.2 437.7h3l-1.5 2.5z"/>
<path d="M420 569.2h3l-1.5 2.5z"/>
<path d="M352.6 503h3l-1.5 2.5z"/>
<path d="M359.7 474.8h3l-1.5 2.5z"/>
<path d="M355.8 557.6h3l-1.5 2.5z"/>
<path d="M408.3 511.1h3l-1.5 2.5z"/>
<path d="M474.7 557.3h3l-1.5 2.5z"/>
<path d="M461.7 559h3l-1.5 2.5z"/>
<path d="M465.2 485.2h3l-1.5 2.5z"/>
<path d="M440.2 465.8h3l-1.5 2.5z"/>
<path d="M477.4 516.3h3l-1.5 2.5z"/>
<path d="M479.3 509.2h3l-1.5 2.5z"/>
<path d="M385.7 500.6h3l-1.5 2.5z"/>
<path d="M356.7 494.7h3l-1.5 2.5z"/>
<path d="M397.3 467.3h3l-1.5 2.5z"/>
<path d="M347 572h3l-1.5 2.5z"/>
<path d="M416.1 499.3h3l-1.5 2.5z"/>
<path d="M382.9 482.2h3l-1.5 2.5z"/>
<path d="M434.6 446.3h3l-1.5 2.5z"/>
<path d="M370.7 557h3l-1.5 2.5z"/>
<path d="M483.1 572.2h3l-1.5 2.5z"/>
<path d="M346 468.1h3l-1.5 2.5z"/>
<path d="M482.5 549.3h3l-1.5 2.5z"/>
<path d="M464.6 475.9h3l-1.5 2.5z"/>
<path d="M348.5 563.3h3l-1.5 2.5z"/>
<path d="M417.9 465h3l-1.5 2.5z"/>
<path d="M425.3 462h3l-1.5 2.5z"/>
<path d="M361.1 488.3h3l-1.5 2.5z"/>
<path d="M379.3 574.2h3l-1.5 2.5z"/>
<path d="M454.1 558.7h3l-1.5 2.5z"/>
<path d="M366.7 564.6h3l-1.5 2.5z"/>
<path d="M356.7 568.9h3l-1.5 2.5z"/>
<path d="M414.1 574.5h3l-1.5 2.5z"/>
<path d="M417.1 485.1h3l-1.5 2.5z"/>
<path d="M370.4 456.6h3l-1.5 2.5z"/>
<path d="M418.1 512.1h3l-1.5 2.5z"/>
<path d="M468 576.2h3l-1.5 2.5z"/>
<path d="M344.3 510.8h3l-1.5 2.5z"/>
<path d="M388.1 454.2h3l-1.5 2.5z"/>
<path d="M396 483h3l-1.5 2.5z"/>
<path d="M470.3 540h3l-1.5 2.5z"/>
<path d="M455.1 513.1h3l-1.5 2.5z"/>
<path d="M407.6 478.7h3l-1.5 2.5z"/>
<path d="M363.2 550.6h3l-1.5 2.5z"/>
<path d="M386.3 571.9h3l-1.5 2.5z"/>
<path d="M377.1 539.3h3l-1.5 2.5z"/>
<path d="M402.2 522h3l-1.5 2.5z"/>
<path d="M453.4 443.9h3l-1.5 2.5z"/>
<path d="M484.4 497h3l-1.5 2.5z"/>
<path d="M468.5 442.7h3l-1.5 2.5z"/>
<path d="M432.4 483.4h3l-1.5 2.5z"/>
<path d="M418.6 445h3l-1.5 2.5z"/>
<path d="M343.1 531.3h3l-1.5 2.5z"/>
<path d="M399.6 561.1h3l-1.5 2.5z"/>
<path d="M384.4 560.4h3l-1.5 2.5z"/>
<path d="M428.7 493.7h3l-1.5 2.5z"/>
<path d="M450.4 546.1h3l-1.5 2.5z"/>
<path d="M444.6 479.6h3l-1.5 2.5z"/>
<path d="M408.5 538.1h3l-1.5 2.5z"/>
<path d="M419.2 549.4h3l-1.5 2.5z"/>
<path d="M419.5 452.8h3l-1.5 2.5z"/>
<path d="M395 496.1h3l-1.5 2.5z"/>
<path d="M361.3 462.6h3l-1.5 2.5z"/>
<path d="M349.4 523.7h3l-1.5 2.5z"/>
<path d="M471.1 468.5h3l-1.5 2.5z"/>
<path d="M479.5 484.8h3l-1.5 2.5z"/>
<path d="M459.7 545.4h3l-1.5 2.5z"/>
<path d="M414.3 532.9h3l-1.5 2.5z"/>
<path d="M441.4 534.3h3l-1.5 2.5z"/>
<path d="M378.6 465.3h3l-1.5 2.5z"/>
<path d="M377.5 515.1h3l-1.5 2.5z"/>
<path d="M394.9 434.2h3l-1.5 2.5z"/>
<path d="M434.4 538.6h3l-1.5 2.5z"/>
<path d="M464.7 501.7h3l-1.5 2.5z"/>
<path d="M409.9 563.3h3l-1.5 2.5z"/>
<path d="M428.5 532.5h3l-1.5 2.5z"/>
<path d="M444.8 459h3l-1.5 2.5z"/>
<path d="M386.8 464.3h3l-1.5 2.5z"/>
<path d="M377.2 528.8h3l-1.5 2.5z"/>
<path d="M386.4 538.2h3l-1.5 2.5z"/>
<path d="M404.1 569.2h3l-1.5 2.5z"/>
<path d="M441.7 436.5h3l-1.5 2.5z"/>
<path d="M425.1 483.8h3l-1.5 2.5z"/>
<path d="M378.3 473h3l-1.5 2.5z"/>
<path d="M349.9 552.5h3l-1.5 2.5z"/>
<path d="M454.4 463.2h3l-1.5 2.5z"/>
<path d="M418.1 526.9h3l-1.5 2.5z"/>
<path d="M447.7 468.2h3l-1.5 2.5z"/>
<path d="M417.9 561.6h3l-1.5 2.5z"/>
<path d="M376.9 564.4h3l-1.5 2.5z"/>
<path d="M477.4 566.4h3l-1.5 2.5z"/>
<path d="M432.5 467h3l-1.5 2.5z"/>
<path d="M432.6 439h3l-1.5 2.5z"/>
<path d="M471.6 457.5h3l-1.5 2.5z"/>
<path d="M381.9 508.9h3l-1.5 2.5z"/>
<path d="M370 576.4h3l-1.5 2.5z"/>
<path d="M483.8 479.3h3l-1.5 2.5z"/>
<path d="M464 467.5h3l-1.5 2.5z"/>
<path d="M461.4 458.9h3l-1.5 2.5z"/>
<path d="M370.4 515.1h3l-1.5 2.5z"/>
<path d="M427.6 544.7h3l-1.5 2.5z"/>
<path d="M438.2 516.3h3l-1.5 2.5z"/>
<path d="M481.6 560.6h3l-1.5 2.5z"/>
<path d="M394.7 513.4h3l-1.5 2.5z"/>
<path d="M360.6 519.4h3l-1.5 2.5z"/>
<path d="M364.7 506h3l-1.5 2.5z"/>
<path d="M405.4 576.3h3l-1.5 2.5z"/>
<path d="M445.8 572.2h3l-1.5 2.5z"/>
<path d="M438.5 475.3h3l-1.5 2.5z"/>
<path d="M398.3 502.9h3l-1.5 2.5z"/>
<path d="M403.9 436.6h3l-1.5 2.5z"/>
<path d="M398.6 452.8h3l-1.5 2.5z"/>
<path d="M428.4 451.7h3l-1.5 2.5z"/>
<path d="M369.2 539.7h3l-1.5 2.5z"/>
<path d="M402.1 473.2h3l-1.5 2.5z"/>
<path d="M423.5 437.2h3l-1.5 2.5z"/>
</g>
<g fill="none" stroke="#d8a232" stroke-width="0.8">
<g transform="rotate(30 421.8 539.2)"><ellipse cx="421.8" cy="537.6" rx="1.45" ry="1.55"/><ellipse cx="421.8" cy="540.8" rx="1.45" ry="1.55"/></g>
<g transform="rotate(30 438.4 460.1)"><ellipse cx="438.4" cy="458.5" rx="1.45" ry="1.55"/><ellipse cx="438.4" cy="461.7" rx="1.45" ry="1.55"/></g>
<g transform="rotate(90 370.7 493.9)"><ellipse cx="370.7" cy="492.3" rx="1.45" ry="1.55"/><ellipse cx="370.7" cy="495.5" rx="1.45" ry="1.55"/></g>
<g transform="rotate(90 367.5 527.9)"><ellipse cx="367.5" cy="526.3" rx="1.45" ry="1.55"/><ellipse cx="367.5" cy="529.5" rx="1.45" ry="1.55"/></g>
<g transform="rotate(90 373.9 436.9)"><ellipse cx="373.9" cy="435.3" rx="1.45" ry="1.55"/><ellipse cx="373.9" cy="438.5" rx="1.45" ry="1.55"/></g>
<g transform="rotate(-30 444.8 491.4)"><ellipse cx="444.8" cy="489.8" rx="1.45" ry="1.55"/><ellipse cx="444.8" cy="493" rx="1.45" ry="1.55"/></g>
<g transform="rotate(-30 471 508)"><ellipse cx="471" cy="506.4" rx="1.45" ry="1.55"/><ellipse cx="471" cy="509.6" rx="1.45" ry="1.55"/></g>
<g transform="rotate(90 483.3 450.6)"><ellipse cx="483.3" cy="449" rx="1.45" ry="1.55"/><ellipse cx="483.3" cy="452.2" rx="1.45" ry="1.55"/></g>
<g transform="rotate(30 396.3 446)"><ellipse cx="396.3" cy="444.4" rx="1.45" ry="1.55"/><ellipse cx="396.3" cy="447.6" rx="1.45" ry="1.55"/></g>
<g transform="rotate(90 483.6 522.8)"><ellipse cx="483.6" cy="521.2" rx="1.45" ry="1.55"/><ellipse cx="483.6" cy="524.4" rx="1.45" ry="1.55"/></g>
<g transform="rotate(90 398.3 572.4)"><ellipse cx="398.3" cy="570.8" rx="1.45" ry="1.55"/><ellipse cx="398.3" cy="574" rx="1.45" ry="1.55"/></g>
<g transform="rotate(-30 445.4 509.6)"><ellipse cx="445.4" cy="508" rx="1.45" ry="1.55"/><ellipse cx="445.4" cy="511.2" rx="1.45" ry="1.55"/></g>
<g transform="rotate(-30 390.2 531.9)"><ellipse cx="390.2" cy="530.3" rx="1.45" ry="1.55"/><ellipse cx="390.2" cy="533.5" rx="1.45" ry="1.55"/></g>
<g transform="rotate(-30 427 523.2)"><ellipse cx="427" cy="521.6" rx="1.45" ry="1.55"/><ellipse cx="427" cy="524.8" rx="1.45" ry="1.55"/></g>
<g transform="rotate(-30 447.1 564.4)"><ellipse cx="447.1" cy="562.8" rx="1.45" ry="1.55"/><ellipse cx="447.1" cy="566" rx="1.45" ry="1.55"/></g>
<g transform="rotate(-30 381 549.1)"><ellipse cx="381" cy="547.5" rx="1.45" ry="1.55"/><ellipse cx="381" cy="550.7" rx="1.45" ry="1.55"/></g>
<g transform="rotate(30 455.2 576.4)"><ellipse cx="455.2" cy="574.8" rx="1.45" ry="1.55"/><ellipse cx="455.2" cy="578" rx="1.45" ry="1.55"/></g>
<g transform="rotate(30 484 471.5)"><ellipse cx="484" cy="469.9" rx="1.45" ry="1.55"/><ellipse cx="484" cy="473.1" rx="1.45" ry="1.55"/></g>
<g transform="rotate(30 377.5 506.1)"><ellipse cx="377.5" cy="504.5" rx="1.45" ry="1.55"/><ellipse cx="377.5" cy="507.7" rx="1.45" ry="1.55"/></g>
<g transform="rotate(-30 345.8 544)"><ellipse cx="345.8" cy="542.4" rx="1.45" ry="1.55"/><ellipse cx="345.8" cy="545.6" rx="1.45" ry="1.55"/></g>
<g transform="rotate(-30 408.1 489.7)"><ellipse cx="408.1" cy="488.1" rx="1.45" ry="1.55"/><ellipse cx="408.1" cy="491.3" rx="1.45" ry="1.55"/></g>
<g transform="rotate(-30 343.8 555.9)"><ellipse cx="343.8" cy="554.3" rx="1.45" ry="1.55"/><ellipse cx="343.8" cy="557.5" rx="1.45" ry="1.55"/></g>
</g>
<g fill="none" stroke="#e0702a" stroke-width="0.75">
<rect x="392.7" y="550" width="2.6" height="8" rx="1.2" transform="rotate(-30 394 554)"/>
</g>
<text x="347.7" y="450.8" font-size="12.5" fill="#fff"><tspan font-family="Liberation Serif" font-style="italic" font-size="13">t</tspan>=900 s</text>
<rect x="493" y="433.1" width="147.5" height="147.7" fill="url(#lat)"/>
<g fill="none" stroke="#a9bfd4" stroke-width="0.7" stroke-linejoin="round">
<path d="M635.4 463.1h3l-1.5 2.5z"/>
<path d="M570.3 471.2h3l-1.5 2.5z"/>
<path d="M608.4 488h3l-1.5 2.5z"/>
<path d="M560.7 494.7h3l-1.5 2.5z"/>
<path d="M630 563.3h3l-1.5 2.5z"/>
<path d="M515.3 517.6h3l-1.5 2.5z"/>
<path d="M536.1 530.6h3l-1.5 2.5z"/>
<path d="M622.9 573.9h3l-1.5 2.5z"/>
<path d="M602.7 455.5h3l-1.5 2.5z"/>
<path d="M535.5 564.4h3l-1.5 2.5z"/>
<path d="M561 534.7h3l-1.5 2.5z"/>
<path d="M512.3 466.3h3l-1.5 2.5z"/>
<path d="M539.2 476.7h3l-1.5 2.5z"/>
<path d="M615.3 468.1h3l-1.5 2.5z"/>
<path d="M567.2 459.5h3l-1.5 2.5z"/>
<path d="M605.9 465.1h3l-1.5 2.5z"/>
<path d="M505.7 436.3h3l-1.5 2.5z"/>
<path d="M533.8 496.5h3l-1.5 2.5z"/>
<path d="M636.5 545.9h3l-1.5 2.5z"/>
<path d="M617.6 540.9h3l-1.5 2.5z"/>
<path d="M567.1 452.8h3l-1.5 2.5z"/>
<path d="M493.6 560.6h3l-1.5 2.5z"/>
<path d="M611 567.7h3l-1.5 2.5z"/>
<path d="M585.7 512.9h3l-1.5 2.5z"/>
<path d="M511.8 555.6h3l-1.5 2.5z"/>
<path d="M585.5 456.4h3l-1.5 2.5z"/>
<path d="M576.7 452.5h3l-1.5 2.5z"/>
<path d="M584.3 436.4h3l-1.5 2.5z"/>
<path d="M506.4 572.3h3l-1.5 2.5z"/>
<path d="M625.6 451.4h3l-1.5 2.5z"/>
<path d="M575 542.6h3l-1.5 2.5z"/>
<path d="M504.5 563.2h3l-1.5 2.5z"/>
<path d="M519.7 483.6h3l-1.5 2.5z"/>
<path d="M614.7 475.4h3l-1.5 2.5z"/>
<path d="M545.7 462.3h3l-1.5 2.5z"/>
<path d="M610.2 528.6h3l-1.5 2.5z"/>
<path d="M620.3 462.2h3l-1.5 2.5z"/>
<path d="M618.9 486.9h3l-1.5 2.5z"/>
<path d="M562.5 565.6h3l-1.5 2.5z"/>
<path d="M611.9 576.8h3l-1.5 2.5z"/>
<path d="M636 531.3h3l-1.5 2.5z"/>
<path d="M611.6 537.5h3l-1.5 2.5z"/>
<path d="M568.8 577.6h3l-1.5 2.5z"/>
<path d="M558.5 572.3h3l-1.5 2.5z"/>
<path d="M604.2 550.4h3l-1.5 2.5z"/>
<path d="M521.8 523.5h3l-1.5 2.5z"/>
<path d="M604 482.5h3l-1.5 2.5z"/>
<path d="M616.1 525.7h3l-1.5 2.5z"/>
<path d="M508.9 462.2h3l-1.5 2.5z"/>
<path d="M531.9 574.4h3l-1.5 2.5z"/>
<path d="M566.8 517.8h3l-1.5 2.5z"/>
<path d="M539.5 570.5h3l-1.5 2.5z"/>
<path d="M521.7 512.4h3l-1.5 2.5z"/>
<path d="M575.5 515.8h3l-1.5 2.5z"/>
<path d="M545.1 467.3h3l-1.5 2.5z"/>
<path d="M538.6 520.4h3l-1.5 2.5z"/>
<path d="M562.7 545.7h3l-1.5 2.5z"/>
<path d="M549.8 503.3h3l-1.5 2.5z"/>
<path d="M582.8 532.9h3l-1.5 2.5z"/>
<path d="M587.2 576.5h3l-1.5 2.5z"/>
<path d="M564.7 467h3l-1.5 2.5z"/>
<path d="M520 453.5h3l-1.5 2.5z"/>
<path d="M541.2 538.1h3l-1.5 2.5z"/>
<path d="M575.2 494.5h3l-1.5 2.5z"/>
<path d="M596.7 558.4h3l-1.5 2.5z"/>
<path d="M604.5 437.4h3l-1.5 2.5z"/>
<path d="M576.4 501.7h3l-1.5 2.5z"/>
<path d="M623.8 536.1h3l-1.5 2.5z"/>
<path d="M594.5 508.1h3l-1.5 2.5z"/>
<path d="M569 448h3l-1.5 2.5z"/>
<path d="M593.5 562.8h3l-1.5 2.5z"/>
<path d="M632.8 493.2h3l-1.5 2.5z"/>
<path d="M595.9 463.2h3l-1.5 2.5z"/>
<path d="M629.6 509h3l-1.5 2.5z"/>
<path d="M628.6 478.4h3l-1.5 2.5z"/>
<path d="M607.3 517.2h3l-1.5 2.5z"/>
<path d="M494 573.3h3l-1.5 2.5z"/>
<path d="M604.9 570.4h3l-1.5 2.5z"/>
<path d="M635.6 517.1h3l-1.5 2.5z"/>
<path d="M513.1 498.6h3l-1.5 2.5z"/>
<path d="M624.8 439.1h3l-1.5 2.5z"/>
<path d="M519.5 465.9h3l-1.5 2.5z"/>
<path d="M581.7 451.9h3l-1.5 2.5z"/>
<path d="M599.9 577.7h3l-1.5 2.5z"/>
<path d="M625.6 502.3h3l-1.5 2.5z"/>
<path d="M494 540.5h3l-1.5 2.5z"/>
<path d="M625.6 520.3h3l-1.5 2.5z"/>
<path d="M597.3 478.7h3l-1.5 2.5z"/>
<path d="M593.8 575.4h3l-1.5 2.5z"/>
<path d="M591.3 488.5h3l-1.5 2.5z"/>
<path d="M571.3 558h3l-1.5 2.5z"/>
<path d="M495.6 509.2h3l-1.5 2.5z"/>
<path d="M518 533.8h3l-1.5 2.5z"/>
<path d="M589.4 463.1h3l-1.5 2.5z"/>
<path d="M526.9 536.2h3l-1.5 2.5z"/>
<path d="M511.8 446.6h3l-1.5 2.5z"/>
<path d="M509.3 451.1h3l-1.5 2.5z"/>
<path d="M635.1 447.6h3l-1.5 2.5z"/>
<path d="M552.5 472.6h3l-1.5 2.5z"/>
<path d="M605.2 536.6h3l-1.5 2.5z"/>
<path d="M545.1 476h3l-1.5 2.5z"/>
<path d="M495.2 492.1h3l-1.5 2.5z"/>
<path d="M523.3 555.8h3l-1.5 2.5z"/>
<path d="M503 558.4h3l-1.5 2.5z"/>
<path d="M546.4 508.4h3l-1.5 2.5z"/>
<path d="M500.3 516.9h3l-1.5 2.5z"/>
<path d="M567.5 523.4h3l-1.5 2.5z"/>
<path d="M516.7 475h3l-1.5 2.5z"/>
<path d="M555.3 520.8h3l-1.5 2.5z"/>
<path d="M609.1 477.7h3l-1.5 2.5z"/>
<path d="M565.3 488.7h3l-1.5 2.5z"/>
<path d="M547.5 493.1h3l-1.5 2.5z"/>
<path d="M499.2 478.5h3l-1.5 2.5z"/>
<path d="M612.7 544h3l-1.5 2.5z"/>
<path d="M592.2 554.8h3l-1.5 2.5z"/>
<path d="M634.5 478.2h3l-1.5 2.5z"/>
<path d="M533.9 475.7h3l-1.5 2.5z"/>
<path d="M632.6 525.1h3l-1.5 2.5z"/>
<path d="M583.4 556.7h3l-1.5 2.5z"/>
<path d="M549.9 532.6h3l-1.5 2.5z"/>
<path d="M581.9 521.9h3l-1.5 2.5z"/>
<path d="M579.3 575h3l-1.5 2.5z"/>
<path d="M501.7 541.6h3l-1.5 2.5z"/>
<path d="M575.2 439.6h3l-1.5 2.5z"/>
<path d="M532.9 509.4h3l-1.5 2.5z"/>
<path d="M594.6 439.9h3l-1.5 2.5z"/>
<path d="M495 465.2h3l-1.5 2.5z"/>
<path d="M630.3 543.1h3l-1.5 2.5z"/>
<path d="M636.2 511.1h3l-1.5 2.5z"/>
<path d="M619 516.6h3l-1.5 2.5z"/>
<path d="M584.4 484h3l-1.5 2.5z"/>
<path d="M616 571.5h3l-1.5 2.5z"/>
<path d="M574.8 571.5h3l-1.5 2.5z"/>
<path d="M620.3 529.4h3l-1.5 2.5z"/>
<path d="M513.8 481.7h3l-1.5 2.5z"/>
<path d="M636.1 555.1h3l-1.5 2.5z"/>
<path d="M630.8 534.9h3l-1.5 2.5z"/>
<path d="M510.4 546.5h3l-1.5 2.5z"/>
<path d="M601.7 506h3l-1.5 2.5z"/>
<path d="M555.6 462.5h3l-1.5 2.5z"/>
<path d="M578 562.7h3l-1.5 2.5z"/>
<path d="M575.4 434.6h3l-1.5 2.5z"/>
<path d="M539 506.4h3l-1.5 2.5z"/>
<path d="M520.5 577.4h3l-1.5 2.5z"/>
<path d="M620.3 493.3h3l-1.5 2.5z"/>
<path d="M541.5 576h3l-1.5 2.5z"/>
<path d="M623 478.3h3l-1.5 2.5z"/>
<path d="M629.8 464.8h3l-1.5 2.5z"/>
<path d="M493.8 518.6h3l-1.5 2.5z"/>
<path d="M609.7 492.9h3l-1.5 2.5z"/>
<path d="M556.4 500.2h3l-1.5 2.5z"/>
<path d="M498 522.2h3l-1.5 2.5z"/>
<path d="M546.1 440.9h3l-1.5 2.5z"/>
<path d="M526.5 545.8h3l-1.5 2.5z"/>
<path d="M608.8 455h3l-1.5 2.5z"/>
<path d="M509.6 505.9h3l-1.5 2.5z"/>
<path d="M507.1 457.4h3l-1.5 2.5z"/>
<path d="M608 512.2h3l-1.5 2.5z"/>
<path d="M527.8 570.2h3l-1.5 2.5z"/>
<path d="M566.2 497.2h3l-1.5 2.5z"/>
<path d="M507.4 473.6h3l-1.5 2.5z"/>
<path d="M595.8 539.4h3l-1.5 2.5z"/>
<path d="M591.3 451.9h3l-1.5 2.5z"/>
<path d="M632.8 471.2h3l-1.5 2.5z"/>
<path d="M556.2 541.5h3l-1.5 2.5z"/>
<path d="M525.4 528.4h3l-1.5 2.5z"/>
<path d="M591.3 548.4h3l-1.5 2.5z"/>
<path d="M599 549.3h3l-1.5 2.5z"/>
<path d="M583.2 562.6h3l-1.5 2.5z"/>
<path d="M521 493.5h3l-1.5 2.5z"/>
<path d="M508.4 523.6h3l-1.5 2.5z"/>
<path d="M515.1 451.2h3l-1.5 2.5z"/>
<path d="M534.1 503.6h3l-1.5 2.5z"/>
<path d="M501.5 551.6h3l-1.5 2.5z"/>
<path d="M548.4 447h3l-1.5 2.5z"/>
<path d="M620.2 472.4h3l-1.5 2.5z"/>
<path d="M507.2 529.2h3l-1.5 2.5z"/>
<path d="M552 570.2h3l-1.5 2.5z"/>
<path d="M615.5 448.8h3l-1.5 2.5z"/>
<path d="M634.6 540.3h3l-1.5 2.5z"/>
<path d="M575.9 509.1h3l-1.5 2.5z"/>
<path d="M600 518.3h3l-1.5 2.5z"/>
<path d="M591.3 523.6h3l-1.5 2.5z"/>
<path d="M538.8 501.3h3l-1.5 2.5z"/>
<path d="M552.8 552.2h3l-1.5 2.5z"/>
<path d="M586.3 443.6h3l-1.5 2.5z"/>
<path d="M591.3 474.6h3l-1.5 2.5z"/>
<path d="M533.6 519.9h3l-1.5 2.5z"/>
<path d="M531 453.2h3l-1.5 2.5z"/>
<path d="M565.2 473.3h3l-1.5 2.5z"/>
<path d="M586.5 471.4h3l-1.5 2.5z"/>
<path d="M625.1 483.9h3l-1.5 2.5z"/>
<path d="M614.4 499.1h3l-1.5 2.5z"/>
<path d="M509.5 517.6h3l-1.5 2.5z"/>
<path d="M609.1 461.2h3l-1.5 2.5z"/>
<path d="M597.6 487.1h3l-1.5 2.5z"/>
<path d="M590.7 531h3l-1.5 2.5z"/>
<path d="M625.4 492.3h3l-1.5 2.5z"/>
<path d="M551.7 576.3h3l-1.5 2.5z"/>
<path d="M589 544.2h3l-1.5 2.5z"/>
<path d="M569.6 502.8h3l-1.5 2.5z"/>
<path d="M619.1 441.8h3l-1.5 2.5z"/>
<path d="M530.2 486.8h3l-1.5 2.5z"/>
<path d="M519.6 567.4h3l-1.5 2.5z"/>
<path d="M552.8 512.5h3l-1.5 2.5z"/>
<path d="M597.6 533.8h3l-1.5 2.5z"/>
<path d="M575.2 458.1h3l-1.5 2.5z"/>
<path d="M513.4 542.3h3l-1.5 2.5z"/>
<path d="M628 569.4h3l-1.5 2.5z"/>
<path d="M519.8 528.3h3l-1.5 2.5z"/>
<path d="M571.7 535.2h3l-1.5 2.5z"/>
<path d="M557.8 514.4h3l-1.5 2.5z"/>
<path d="M616.5 434.9h3l-1.5 2.5z"/>
<path d="M568.7 479.3h3l-1.5 2.5z"/>
<path d="M586.9 520.1h3l-1.5 2.5z"/>
<path d="M636.1 500.3h3l-1.5 2.5z"/>
<path d="M564.2 512.2h3l-1.5 2.5z"/>
<path d="M500.9 573.6h3l-1.5 2.5z"/>
<path d="M622.1 434.1h3l-1.5 2.5z"/>
<path d="M537.9 486.3h3l-1.5 2.5z"/>
<path d="M630.9 436.5h3l-1.5 2.5z"/>
<path d="M618.7 508.8h3l-1.5 2.5z"/>
<path d="M538.5 512.3h3l-1.5 2.5z"/>
<path d="M534.7 466.9h3l-1.5 2.5z"/>
<path d="M541.8 563.1h3l-1.5 2.5z"/>
<path d="M619.6 455.7h3l-1.5 2.5z"/>
<path d="M567.1 443.4h3l-1.5 2.5z"/>
<path d="M567.6 548.6h3l-1.5 2.5z"/>
<path d="M554.8 535.9h3l-1.5 2.5z"/>
<path d="M546 573.4h3l-1.5 2.5z"/>
<path d="M500.9 462.9h3l-1.5 2.5z"/>
<path d="M529.7 554.8h3l-1.5 2.5z"/>
<path d="M577.9 555.2h3l-1.5 2.5z"/>
<path d="M554.9 434.5h3l-1.5 2.5z"/>
<path d="M599.2 446.1h3l-1.5 2.5z"/>
<path d="M630.4 516.8h3l-1.5 2.5z"/>
<path d="M588.4 558.6h3l-1.5 2.5z"/>
<path d="M562.2 520.5h3l-1.5 2.5z"/>
<path d="M571.8 526.9h3l-1.5 2.5z"/>
<path d="M605.7 450.5h3l-1.5 2.5z"/>
</g>
<g fill="none" stroke="#d8a232" stroke-width="0.8">
<g transform="rotate(30 610.2 470.5)"><ellipse cx="610.2" cy="468.9" rx="1.45" ry="1.55"/><ellipse cx="610.2" cy="472.1" rx="1.45" ry="1.55"/></g>
<g transform="rotate(30 593.9 460)"><ellipse cx="593.9" cy="458.4" rx="1.45" ry="1.55"/><ellipse cx="593.9" cy="461.6" rx="1.45" ry="1.55"/></g>
<g transform="rotate(30 568.4 438.3)"><ellipse cx="568.4" cy="436.7" rx="1.45" ry="1.55"/><ellipse cx="568.4" cy="439.9" rx="1.45" ry="1.55"/></g>
<g transform="rotate(90 513.4 533.6)"><ellipse cx="513.4" cy="532" rx="1.45" ry="1.55"/><ellipse cx="513.4" cy="535.2" rx="1.45" ry="1.55"/></g>
<g transform="rotate(30 543.5 533.9)"><ellipse cx="543.5" cy="532.3" rx="1.45" ry="1.55"/><ellipse cx="543.5" cy="535.5" rx="1.45" ry="1.55"/></g>
<g transform="rotate(-30 623.7 513.6)"><ellipse cx="623.7" cy="512" rx="1.45" ry="1.55"/><ellipse cx="623.7" cy="515.2" rx="1.45" ry="1.55"/></g>
<g transform="rotate(30 597.2 527.7)"><ellipse cx="597.2" cy="526.1" rx="1.45" ry="1.55"/><ellipse cx="597.2" cy="529.3" rx="1.45" ry="1.55"/></g>
<g transform="rotate(30 615.5 442.5)"><ellipse cx="615.5" cy="440.9" rx="1.45" ry="1.55"/><ellipse cx="615.5" cy="444.1" rx="1.45" ry="1.55"/></g>
<g transform="rotate(30 549.4 565.8)"><ellipse cx="549.4" cy="564.2" rx="1.45" ry="1.55"/><ellipse cx="549.4" cy="567.4" rx="1.45" ry="1.55"/></g>
<g transform="rotate(30 592.5 498.2)"><ellipse cx="592.5" cy="496.6" rx="1.45" ry="1.55"/><ellipse cx="592.5" cy="499.8" rx="1.45" ry="1.55"/></g>
<g transform="rotate(90 629.6 556.6)"><ellipse cx="629.6" cy="555" rx="1.45" ry="1.55"/><ellipse cx="629.6" cy="558.2" rx="1.45" ry="1.55"/></g>
<g transform="rotate(-30 605.7 443.8)"><ellipse cx="605.7" cy="442.2" rx="1.45" ry="1.55"/><ellipse cx="605.7" cy="445.4" rx="1.45" ry="1.55"/></g>
<g transform="rotate(90 555.1 481.7)"><ellipse cx="555.1" cy="480.1" rx="1.45" ry="1.55"/><ellipse cx="555.1" cy="483.3" rx="1.45" ry="1.55"/></g>
<g transform="rotate(-30 505.2 512.2)"><ellipse cx="505.2" cy="510.6" rx="1.45" ry="1.55"/><ellipse cx="505.2" cy="513.8" rx="1.45" ry="1.55"/></g>
<g transform="rotate(-30 557.8 548.2)"><ellipse cx="557.8" cy="546.6" rx="1.45" ry="1.55"/><ellipse cx="557.8" cy="549.8" rx="1.45" ry="1.55"/></g>
<g transform="rotate(-30 499.6 565.4)"><ellipse cx="499.6" cy="563.8" rx="1.45" ry="1.55"/><ellipse cx="499.6" cy="567" rx="1.45" ry="1.55"/></g>
<g transform="rotate(90 523.7 572.8)"><ellipse cx="523.7" cy="571.2" rx="1.45" ry="1.55"/><ellipse cx="523.7" cy="574.4" rx="1.45" ry="1.55"/></g>
<g transform="rotate(30 528.7 498.9)"><ellipse cx="528.7" cy="497.3" rx="1.45" ry="1.55"/><ellipse cx="528.7" cy="500.5" rx="1.45" ry="1.55"/></g>
<g transform="rotate(30 579 535.3)"><ellipse cx="579" cy="533.7" rx="1.45" ry="1.55"/><ellipse cx="579" cy="536.9" rx="1.45" ry="1.55"/></g>
<g transform="rotate(-30 625.1 546.1)"><ellipse cx="625.1" cy="544.5" rx="1.45" ry="1.55"/><ellipse cx="625.1" cy="547.7" rx="1.45" ry="1.55"/></g>
<g transform="rotate(30 558.2 566.2)"><ellipse cx="558.2" cy="564.6" rx="1.45" ry="1.55"/><ellipse cx="558.2" cy="567.8" rx="1.45" ry="1.55"/></g>
<g transform="rotate(90 523.1 543.3)"><ellipse cx="523.1" cy="541.7" rx="1.45" ry="1.55"/><ellipse cx="523.1" cy="544.9" rx="1.45" ry="1.55"/></g>
<g transform="rotate(90 559.2 441)"><ellipse cx="559.2" cy="439.4" rx="1.45" ry="1.55"/><ellipse cx="559.2" cy="442.6" rx="1.45" ry="1.55"/></g>
<g transform="rotate(90 558.7 510)"><ellipse cx="558.7" cy="508.4" rx="1.45" ry="1.55"/><ellipse cx="558.7" cy="511.6" rx="1.45" ry="1.55"/></g>
<g transform="rotate(-30 531.9 562)"><ellipse cx="531.9" cy="560.4" rx="1.45" ry="1.55"/><ellipse cx="531.9" cy="563.6" rx="1.45" ry="1.55"/></g>
<g transform="rotate(90 597.6 473.8)"><ellipse cx="597.6" cy="472.2" rx="1.45" ry="1.55"/><ellipse cx="597.6" cy="475.4" rx="1.45" ry="1.55"/></g>
<g transform="rotate(90 524.6 476.9)"><ellipse cx="524.6" cy="475.3" rx="1.45" ry="1.55"/><ellipse cx="524.6" cy="478.5" rx="1.45" ry="1.55"/></g>
<g transform="rotate(-30 584.4 493.9)"><ellipse cx="584.4" cy="492.3" rx="1.45" ry="1.55"/><ellipse cx="584.4" cy="495.5" rx="1.45" ry="1.55"/></g>
<g transform="rotate(90 599.4 494.7)"><ellipse cx="599.4" cy="493.1" rx="1.45" ry="1.55"/><ellipse cx="599.4" cy="496.3" rx="1.45" ry="1.55"/></g>
<g transform="rotate(-30 625.2 468.9)"><ellipse cx="625.2" cy="467.3" rx="1.45" ry="1.55"/><ellipse cx="625.2" cy="470.5" rx="1.45" ry="1.55"/></g>
<g transform="rotate(-30 562.6 478.1)"><ellipse cx="562.6" cy="476.5" rx="1.45" ry="1.55"/><ellipse cx="562.6" cy="479.7" rx="1.45" ry="1.55"/></g>
<g transform="rotate(-30 557.1 449.7)"><ellipse cx="557.1" cy="448.1" rx="1.45" ry="1.55"/><ellipse cx="557.1" cy="451.3" rx="1.45" ry="1.55"/></g>
<g transform="rotate(90 552.7 488.3)"><ellipse cx="552.7" cy="486.7" rx="1.45" ry="1.55"/><ellipse cx="552.7" cy="489.9" rx="1.45" ry="1.55"/></g>
<g transform="rotate(90 587.4 528.3)"><ellipse cx="587.4" cy="526.7" rx="1.45" ry="1.55"/><ellipse cx="587.4" cy="529.9" rx="1.45" ry="1.55"/></g>
<g transform="rotate(-30 586 569.7)"><ellipse cx="586" cy="568.1" rx="1.45" ry="1.55"/><ellipse cx="586" cy="571.3" rx="1.45" ry="1.55"/></g>
<g transform="rotate(-30 553.5 497.8)"><ellipse cx="553.5" cy="496.2" rx="1.45" ry="1.55"/><ellipse cx="553.5" cy="499.4" rx="1.45" ry="1.55"/></g>
<g transform="rotate(30 542.8 549.9)"><ellipse cx="542.8" cy="548.3" rx="1.45" ry="1.55"/><ellipse cx="542.8" cy="551.5" rx="1.45" ry="1.55"/></g>
<g transform="rotate(-30 565.6 506.2)"><ellipse cx="565.6" cy="504.6" rx="1.45" ry="1.55"/><ellipse cx="565.6" cy="507.8" rx="1.45" ry="1.55"/></g>
<g transform="rotate(30 571.5 515.1)"><ellipse cx="571.5" cy="513.5" rx="1.45" ry="1.55"/><ellipse cx="571.5" cy="516.7" rx="1.45" ry="1.55"/></g>
<g transform="rotate(-30 601.2 545)"><ellipse cx="601.2" cy="543.4" rx="1.45" ry="1.55"/><ellipse cx="601.2" cy="546.6" rx="1.45" ry="1.55"/></g>
<g transform="rotate(90 519.6 560.5)"><ellipse cx="519.6" cy="558.9" rx="1.45" ry="1.55"/><ellipse cx="519.6" cy="562.1" rx="1.45" ry="1.55"/></g>
<g transform="rotate(-30 560.1 458.7)"><ellipse cx="560.1" cy="457.1" rx="1.45" ry="1.55"/><ellipse cx="560.1" cy="460.3" rx="1.45" ry="1.55"/></g>
<g transform="rotate(30 500 446.8)"><ellipse cx="500" cy="445.2" rx="1.45" ry="1.55"/><ellipse cx="500" cy="448.4" rx="1.45" ry="1.55"/></g>
<g transform="rotate(90 604.4 531.8)"><ellipse cx="604.4" cy="530.2" rx="1.45" ry="1.55"/><ellipse cx="604.4" cy="533.4" rx="1.45" ry="1.55"/></g>
<g transform="rotate(90 529.8 467.8)"><ellipse cx="529.8" cy="466.2" rx="1.45" ry="1.55"/><ellipse cx="529.8" cy="469.4" rx="1.45" ry="1.55"/></g>
<g transform="rotate(90 634.6 487.2)"><ellipse cx="634.6" cy="485.6" rx="1.45" ry="1.55"/><ellipse cx="634.6" cy="488.8" rx="1.45" ry="1.55"/></g>
<g transform="rotate(-30 585.3 549.5)"><ellipse cx="585.3" cy="547.9" rx="1.45" ry="1.55"/><ellipse cx="585.3" cy="551.1" rx="1.45" ry="1.55"/></g>
<g transform="rotate(90 495.5 554.2)"><ellipse cx="495.5" cy="552.6" rx="1.45" ry="1.55"/><ellipse cx="495.5" cy="555.8" rx="1.45" ry="1.55"/></g>
<g transform="rotate(90 568.9 543.8)"><ellipse cx="568.9" cy="542.2" rx="1.45" ry="1.55"/><ellipse cx="568.9" cy="545.4" rx="1.45" ry="1.55"/></g>
<g transform="rotate(30 632.5 500.4)"><ellipse cx="632.5" cy="498.8" rx="1.45" ry="1.55"/><ellipse cx="632.5" cy="502" rx="1.45" ry="1.55"/></g>
<g transform="rotate(-30 537.3 440.5)"><ellipse cx="537.3" cy="438.9" rx="1.45" ry="1.55"/><ellipse cx="537.3" cy="442.1" rx="1.45" ry="1.55"/></g>
<g transform="rotate(90 505.5 481.9)"><ellipse cx="505.5" cy="480.3" rx="1.45" ry="1.55"/><ellipse cx="505.5" cy="483.5" rx="1.45" ry="1.55"/></g>
<g transform="rotate(30 560.1 488.1)"><ellipse cx="560.1" cy="486.5" rx="1.45" ry="1.55"/><ellipse cx="560.1" cy="489.7" rx="1.45" ry="1.55"/></g>
<g transform="rotate(-30 605.7 498)"><ellipse cx="605.7" cy="496.4" rx="1.45" ry="1.55"/><ellipse cx="605.7" cy="499.6" rx="1.45" ry="1.55"/></g>
<g transform="rotate(30 551.2 558.2)"><ellipse cx="551.2" cy="556.6" rx="1.45" ry="1.55"/><ellipse cx="551.2" cy="559.8" rx="1.45" ry="1.55"/></g>
<g transform="rotate(90 553.1 457.6)"><ellipse cx="553.1" cy="456" rx="1.45" ry="1.55"/><ellipse cx="553.1" cy="459.2" rx="1.45" ry="1.55"/></g>
<g transform="rotate(-30 582.6 464.6)"><ellipse cx="582.6" cy="463" rx="1.45" ry="1.55"/><ellipse cx="582.6" cy="466.2" rx="1.45" ry="1.55"/></g>
<g transform="rotate(90 635.7 507.1)"><ellipse cx="635.7" cy="505.5" rx="1.45" ry="1.55"/><ellipse cx="635.7" cy="508.7" rx="1.45" ry="1.55"/></g>
<g transform="rotate(-30 506 535.9)"><ellipse cx="506" cy="534.3" rx="1.45" ry="1.55"/><ellipse cx="506" cy="537.5" rx="1.45" ry="1.55"/></g>
<g transform="rotate(-30 632.7 444.9)"><ellipse cx="632.7" cy="443.3" rx="1.45" ry="1.55"/><ellipse cx="632.7" cy="446.5" rx="1.45" ry="1.55"/></g>
<g transform="rotate(90 541.5 464)"><ellipse cx="541.5" cy="462.4" rx="1.45" ry="1.55"/><ellipse cx="541.5" cy="465.6" rx="1.45" ry="1.55"/></g>
<g transform="rotate(30 501.8 501.8)"><ellipse cx="501.8" cy="500.2" rx="1.45" ry="1.55"/><ellipse cx="501.8" cy="503.4" rx="1.45" ry="1.55"/></g>
<g transform="rotate(30 509.6 543)"><ellipse cx="509.6" cy="541.4" rx="1.45" ry="1.55"/><ellipse cx="509.6" cy="544.6" rx="1.45" ry="1.55"/></g>
<g transform="rotate(30 528 507.8)"><ellipse cx="528" cy="506.2" rx="1.45" ry="1.55"/><ellipse cx="528" cy="509.4" rx="1.45" ry="1.55"/></g>
<g transform="rotate(30 546.1 484.7)"><ellipse cx="546.1" cy="483.1" rx="1.45" ry="1.55"/><ellipse cx="546.1" cy="486.3" rx="1.45" ry="1.55"/></g>
<g transform="rotate(-30 594.6 482.9)"><ellipse cx="594.6" cy="481.3" rx="1.45" ry="1.55"/><ellipse cx="594.6" cy="484.5" rx="1.45" ry="1.55"/></g>
<g transform="rotate(90 517.1 490.3)"><ellipse cx="517.1" cy="488.7" rx="1.45" ry="1.55"/><ellipse cx="517.1" cy="491.9" rx="1.45" ry="1.55"/></g>
<g transform="rotate(30 597.9 452.4)"><ellipse cx="597.9" cy="450.8" rx="1.45" ry="1.55"/><ellipse cx="597.9" cy="454" rx="1.45" ry="1.55"/></g>
<g transform="rotate(-30 603.4 561.2)"><ellipse cx="603.4" cy="559.6" rx="1.45" ry="1.55"/><ellipse cx="603.4" cy="562.8" rx="1.45" ry="1.55"/></g>
<g transform="rotate(90 624.8 566.5)"><ellipse cx="624.8" cy="564.9" rx="1.45" ry="1.55"/><ellipse cx="624.8" cy="568.1" rx="1.45" ry="1.55"/></g>
<g transform="rotate(90 608 525.7)"><ellipse cx="608" cy="524.1" rx="1.45" ry="1.55"/><ellipse cx="608" cy="527.3" rx="1.45" ry="1.55"/></g>
<g transform="rotate(90 636.7 575.8)"><ellipse cx="636.7" cy="574.2" rx="1.45" ry="1.55"/><ellipse cx="636.7" cy="577.4" rx="1.45" ry="1.55"/></g>
<g transform="rotate(-30 544.6 435.2)"><ellipse cx="544.6" cy="433.6" rx="1.45" ry="1.55"/><ellipse cx="544.6" cy="436.8" rx="1.45" ry="1.55"/></g>
<g transform="rotate(-30 541.9 557.3)"><ellipse cx="541.9" cy="555.7" rx="1.45" ry="1.55"/><ellipse cx="541.9" cy="558.9" rx="1.45" ry="1.55"/></g>
<g transform="rotate(30 527.4 519.4)"><ellipse cx="527.4" cy="517.8" rx="1.45" ry="1.55"/><ellipse cx="527.4" cy="521" rx="1.45" ry="1.55"/></g>
<g transform="rotate(30 618 561.9)"><ellipse cx="618" cy="560.3" rx="1.45" ry="1.55"/><ellipse cx="618" cy="563.5" rx="1.45" ry="1.55"/></g>
<g transform="rotate(90 575.6 551)"><ellipse cx="575.6" cy="549.4" rx="1.45" ry="1.55"/><ellipse cx="575.6" cy="552.6" rx="1.45" ry="1.55"/></g>
<g transform="rotate(30 510.5 566.8)"><ellipse cx="510.5" cy="565.2" rx="1.45" ry="1.55"/><ellipse cx="510.5" cy="568.4" rx="1.45" ry="1.55"/></g>
<g transform="rotate(30 636.4 566.4)"><ellipse cx="636.4" cy="564.8" rx="1.45" ry="1.55"/><ellipse cx="636.4" cy="568" rx="1.45" ry="1.55"/></g>
<g transform="rotate(-30 523.5 461.4)"><ellipse cx="523.5" cy="459.8" rx="1.45" ry="1.55"/><ellipse cx="523.5" cy="463" rx="1.45" ry="1.55"/></g>
<g transform="rotate(30 495.1 480)"><ellipse cx="495.1" cy="478.4" rx="1.45" ry="1.55"/><ellipse cx="495.1" cy="481.6" rx="1.45" ry="1.55"/></g>
<g transform="rotate(30 614.8 513.1)"><ellipse cx="614.8" cy="511.5" rx="1.45" ry="1.55"/><ellipse cx="614.8" cy="514.7" rx="1.45" ry="1.55"/></g>
<g transform="rotate(90 613.8 520.8)"><ellipse cx="613.8" cy="519.2" rx="1.45" ry="1.55"/><ellipse cx="613.8" cy="522.4" rx="1.45" ry="1.55"/></g>
<g transform="rotate(90 536.3 458.7)"><ellipse cx="536.3" cy="457.1" rx="1.45" ry="1.55"/><ellipse cx="536.3" cy="460.3" rx="1.45" ry="1.55"/></g>
<g transform="rotate(30 535.6 551.6)"><ellipse cx="535.6" cy="550" rx="1.45" ry="1.55"/><ellipse cx="535.6" cy="553.2" rx="1.45" ry="1.55"/></g>
<g transform="rotate(30 634.9 551.2)"><ellipse cx="634.9" cy="549.6" rx="1.45" ry="1.55"/><ellipse cx="634.9" cy="552.8" rx="1.45" ry="1.55"/></g>
<g transform="rotate(30 611.4 503.4)"><ellipse cx="611.4" cy="501.8" rx="1.45" ry="1.55"/><ellipse cx="611.4" cy="505" rx="1.45" ry="1.55"/></g>
<g transform="rotate(-30 599.4 503.1)"><ellipse cx="599.4" cy="501.5" rx="1.45" ry="1.55"/><ellipse cx="599.4" cy="504.7" rx="1.45" ry="1.55"/></g>
<g transform="rotate(90 509.2 499.6)"><ellipse cx="509.2" cy="498" rx="1.45" ry="1.55"/><ellipse cx="509.2" cy="501.2" rx="1.45" ry="1.55"/></g>
<g transform="rotate(-30 543.3 525.7)"><ellipse cx="543.3" cy="524.1" rx="1.45" ry="1.55"/><ellipse cx="543.3" cy="527.3" rx="1.45" ry="1.55"/></g>
<g transform="rotate(-30 582.9 502.1)"><ellipse cx="582.9" cy="500.5" rx="1.45" ry="1.55"/><ellipse cx="582.9" cy="503.7" rx="1.45" ry="1.55"/></g>
<g transform="rotate(-30 611.7 550.3)"><ellipse cx="611.7" cy="548.7" rx="1.45" ry="1.55"/><ellipse cx="611.7" cy="551.9" rx="1.45" ry="1.55"/></g>
<g transform="rotate(30 559.2 527.1)"><ellipse cx="559.2" cy="525.5" rx="1.45" ry="1.55"/><ellipse cx="559.2" cy="528.7" rx="1.45" ry="1.55"/></g>
<g transform="rotate(30 570.7 564.9)"><ellipse cx="570.7" cy="563.3" rx="1.45" ry="1.55"/><ellipse cx="570.7" cy="566.5" rx="1.45" ry="1.55"/></g>
<g transform="rotate(30 621.7 500.3)"><ellipse cx="621.7" cy="498.7" rx="1.45" ry="1.55"/><ellipse cx="621.7" cy="501.9" rx="1.45" ry="1.55"/></g>
<g transform="rotate(90 505.4 470.8)"><ellipse cx="505.4" cy="469.2" rx="1.45" ry="1.55"/><ellipse cx="505.4" cy="472.4" rx="1.45" ry="1.55"/></g>
<g transform="rotate(90 509.5 553)"><ellipse cx="509.5" cy="551.4" rx="1.45" ry="1.55"/><ellipse cx="509.5" cy="554.6" rx="1.45" ry="1.55"/></g>
<g transform="rotate(30 504 490.5)"><ellipse cx="504" cy="488.9" rx="1.45" ry="1.55"/><ellipse cx="504" cy="492.1" rx="1.45" ry="1.55"/></g>
<g transform="rotate(-30 540.9 492.7)"><ellipse cx="540.9" cy="491.1" rx="1.45" ry="1.55"/><ellipse cx="540.9" cy="494.3" rx="1.45" ry="1.55"/></g>
<g transform="rotate(-30 516.4 525.2)"><ellipse cx="516.4" cy="523.6" rx="1.45" ry="1.55"/><ellipse cx="516.4" cy="526.8" rx="1.45" ry="1.55"/></g>
<g transform="rotate(-30 545.1 453)"><ellipse cx="545.1" cy="451.4" rx="1.45" ry="1.55"/><ellipse cx="545.1" cy="454.6" rx="1.45" ry="1.55"/></g>
<g transform="rotate(-30 519.5 498.8)"><ellipse cx="519.5" cy="497.2" rx="1.45" ry="1.55"/><ellipse cx="519.5" cy="500.4" rx="1.45" ry="1.55"/></g>
<g transform="rotate(90 513.8 459.2)"><ellipse cx="513.8" cy="457.6" rx="1.45" ry="1.55"/><ellipse cx="513.8" cy="460.8" rx="1.45" ry="1.55"/></g>
<g transform="rotate(-30 585.9 478.8)"><ellipse cx="585.9" cy="477.2" rx="1.45" ry="1.55"/><ellipse cx="585.9" cy="480.4" rx="1.45" ry="1.55"/></g>
<g transform="rotate(90 599.3 569.6)"><ellipse cx="599.3" cy="568" rx="1.45" ry="1.55"/><ellipse cx="599.3" cy="571.2" rx="1.45" ry="1.55"/></g>
<g transform="rotate(30 578.6 479)"><ellipse cx="578.6" cy="477.4" rx="1.45" ry="1.55"/><ellipse cx="578.6" cy="480.6" rx="1.45" ry="1.55"/></g>
<g transform="rotate(30 499.2 530.8)"><ellipse cx="499.2" cy="529.2" rx="1.45" ry="1.55"/><ellipse cx="499.2" cy="532.4" rx="1.45" ry="1.55"/></g>
<g transform="rotate(90 548.5 516.2)"><ellipse cx="548.5" cy="514.6" rx="1.45" ry="1.55"/><ellipse cx="548.5" cy="517.8" rx="1.45" ry="1.55"/></g>
<g transform="rotate(30 593.4 518.9)"><ellipse cx="593.4" cy="517.3" rx="1.45" ry="1.55"/><ellipse cx="593.4" cy="520.5" rx="1.45" ry="1.55"/></g>
<g transform="rotate(-30 551.4 543)"><ellipse cx="551.4" cy="541.4" rx="1.45" ry="1.55"/><ellipse cx="551.4" cy="544.6" rx="1.45" ry="1.55"/></g>
<g transform="rotate(90 574.3 464)"><ellipse cx="574.3" cy="462.4" rx="1.45" ry="1.55"/><ellipse cx="574.3" cy="465.6" rx="1.45" ry="1.55"/></g>
<g transform="rotate(-30 533.2 526.6)"><ellipse cx="533.2" cy="525" rx="1.45" ry="1.55"/><ellipse cx="533.2" cy="528.2" rx="1.45" ry="1.55"/></g>
<g transform="rotate(-30 520.4 550.6)"><ellipse cx="520.4" cy="549" rx="1.45" ry="1.55"/><ellipse cx="520.4" cy="552.2" rx="1.45" ry="1.55"/></g>
<g transform="rotate(30 580.6 446.3)"><ellipse cx="580.6" cy="444.7" rx="1.45" ry="1.55"/><ellipse cx="580.6" cy="447.9" rx="1.45" ry="1.55"/></g>
</g>
<g fill="none" stroke-width="0.75">
<polygon stroke="#5ab8d0" points="580.4,478 578.7,480.9 575.3,480.9 573.6,478 575.3,475.1 578.7,475.1"/>
<polygon stroke="#5ab8d0" points="573.4,496 571.7,498.9 568.3,498.9 566.6,496 568.3,493.1 571.7,493.1"/>
<polygon stroke="#5ab8d0" points="527.4,503 525.7,505.9 522.3,505.9 520.6,503 522.3,500.1 525.7,500.1"/>
<polygon stroke="#5ab8d0" points="592.4,513 590.7,515.9 587.3,515.9 585.6,513 587.3,510.1 590.7,510.1"/>
<polygon stroke="#5ab8d0" points="543.4,446 541.7,448.9 538.3,448.9 536.6,446 538.3,443.1 541.7,443.1"/>
<path stroke="#7cb84a" d="M560.5 442l2.5-4.3 2.5 4.3z"/>
<path stroke="#7cb84a" d="M622.5 494l2.5-4.3 2.5 4.3z"/>
<path stroke="#7cb84a" d="M543.5 505l2.5-4.3 2.5 4.3z"/>
<path stroke="#7cb84a" d="M599.5 504l2.5-4.3 2.5 4.3z"/>
<path stroke="#7cb84a" d="M509.5 573l2.5-4.3 2.5 4.3z"/>
<rect x="627" y="537" width="11" height="6" stroke="#c06aa0"/>
</g>
<g fill="none" stroke="#e0702a" stroke-width="0.75">
<rect x="577.3" y="485.7" width="2.6" height="8" rx="1.2" transform="rotate(30 578.6 489.7)"/>
<rect x="513.1" y="571.2" width="2.6" height="8" rx="1.2" transform="rotate(-30 514.4 575.2)"/>
<rect x="559.9" y="464.9" width="2.6" height="8" rx="1.2" transform="rotate(30 561.2 468.9)"/>
<rect x="587.6" y="533.3" width="2.6" height="8" rx="1.2" transform="rotate(90 588.9 537.3)"/>
<rect x="629.6" y="452.7" width="2.6" height="8" rx="1.2" transform="rotate(-30 630.9 456.7)"/>
<rect x="574" y="518.6" width="2.6" height="8" rx="1.2" transform="rotate(90 575.3 522.6)"/>
<rect x="608.1" y="555.6" width="2.6" height="8" rx="1.2" transform="rotate(30 609.4 559.6)"/>
<rect x="528.5" y="476.3" width="2.6" height="8" rx="1.2" transform="rotate(90 529.8 480.3)"/>
<rect x="583" y="505.1" width="2.6" height="8" rx="1.2" transform="rotate(90 584.3 509.1)"/>
<rect x="557.2" y="554" width="2.6" height="8" rx="1.2" transform="rotate(30 558.5 558)"/>
<rect x="563.7" y="444.3" width="2.6" height="8" rx="1.2" transform="rotate(30 565 448.3)"/>
<rect x="566.3" y="566.5" width="2.6" height="8" rx="1.2" transform="rotate(30 567.6 570.5)"/>
<rect x="567.1" y="530.2" width="2.6" height="8" rx="1.2" transform="rotate(-30 568.4 534.2)"/>
<rect x="570" y="481.6" width="2.6" height="8" rx="1.2" transform="rotate(90 571.3 485.6)"/>
<rect x="635.7" y="450.4" width="2.6" height="8" rx="1.2" transform="rotate(-30 637 454.4)"/>
<rect x="514.6" y="505.1" width="2.6" height="8" rx="1.2" transform="rotate(30 515.9 509.1)"/>
<rect x="500.7" y="452.1" width="2.6" height="8" rx="1.2" transform="rotate(30 502 456.1)"/>
<rect x="614.2" y="451.9" width="2.6" height="8" rx="1.2" transform="rotate(30 615.5 455.9)"/>
<rect x="523" y="434.4" width="2.6" height="8" rx="1.2" transform="rotate(30 524.3 438.4)"/>
<rect x="578.2" y="466.8" width="2.6" height="8" rx="1.2" transform="rotate(90 579.5 470.8)"/>
<rect x="548.9" y="522.7" width="2.6" height="8" rx="1.2" transform="rotate(90 550.2 526.7)"/>
<rect x="589.7" y="502.1" width="2.6" height="8" rx="1.2" transform="rotate(30 591 506.1)"/>
<rect x="565" y="551.6" width="2.6" height="8" rx="1.2" transform="rotate(90 566.3 555.6)"/>
<rect x="536.6" y="541.2" width="2.6" height="8" rx="1.2" transform="rotate(-30 537.9 545.2)"/>
<rect x="600.5" y="510.2" width="2.6" height="8" rx="1.2" transform="rotate(30 601.8 514.2)"/>
<rect x="607.4" y="538.4" width="2.6" height="8" rx="1.2" transform="rotate(-30 608.7 542.4)"/>
<rect x="615" y="490.4" width="2.6" height="8" rx="1.2" transform="rotate(30 616.3 494.4)"/>
<rect x="621" y="550.6" width="2.6" height="8" rx="1.2" transform="rotate(30 622.3 554.6)"/>
</g>
<text x="499" y="450.8" font-size="12.5" fill="#fff"><tspan font-family="Liberation Serif" font-style="italic" font-size="13">t</tspan>=1200 s</text>
<text x="147.5" y="567.3" font-size="11.7" text-anchor="start" fill="#fff" font-weight="normal" font-style="normal" >2 nm</text>
<rect x="152" y="571.1" width="20.8" height="2.7" fill="#fff"/>
<text x="5.5" y="608.8" font-size="12" text-anchor="start" fill="#111" font-weight="bold" font-style="normal" >e</text>
<rect x="45" y="610.4" width="225.1" height="138.9" fill="#fff" stroke="#8a8a8a" stroke-width="1"/>
<line x1="42" y1="749.3" x2="45" y2="749.3" stroke="#555" stroke-width="0.8"/>
<text x="41.3" y="753.5" font-size="12" text-anchor="end" fill="#111" font-weight="normal" font-style="normal" >0</text>
<line x1="42" y1="726" x2="45" y2="726" stroke="#555" stroke-width="0.8"/>
<text x="41.3" y="730.2" font-size="12" text-anchor="end" fill="#111" font-weight="normal" font-style="normal" >50</text>
<line x1="42" y1="702.6" x2="45" y2="702.6" stroke="#555" stroke-width="0.8"/>
<text x="41.3" y="706.9" font-size="12" text-anchor="end" fill="#111" font-weight="normal" font-style="normal" >100</text>
<line x1="42" y1="679.3" x2="45" y2="679.3" stroke="#555" stroke-width="0.8"/>
<text x="41.3" y="683.5" font-size="12" text-anchor="end" fill="#111" font-weight="normal" font-style="normal" >150</text>
<line x1="42" y1="656" x2="45" y2="656" stroke="#555" stroke-width="0.8"/>
<text x="41.3" y="660.2" font-size="12" text-anchor="end" fill="#111" font-weight="normal" font-style="normal" >200</text>
<line x1="42" y1="632.7" x2="45" y2="632.7" stroke="#555" stroke-width="0.8"/>
<text x="41.3" y="636.9" font-size="12" text-anchor="end" fill="#111" font-weight="normal" font-style="normal" >250</text>
<text transform="translate(17.2,679.5) rotate(-90)" font-size="12.7" text-anchor="middle" fill="#111">Count</text>
<rect x="49.8" y="613.9" width="13.6" height="8.8" fill="none" stroke="#7d9dca" stroke-width="1.9"/>
<text x="70.5" y="622.3" font-size="11" text-anchor="start" fill="#111" font-weight="normal" font-style="normal" >Type I</text>
<rect x="49.8" y="627" width="13.6" height="8.8" fill="none" stroke="#f6b92e" stroke-width="1.9"/>
<text x="70.5" y="635.4" font-size="11" text-anchor="start" fill="#111" font-weight="normal" font-style="normal" >Type III</text>
<rect x="49.8" y="640.2" width="13.6" height="8.8" fill="none" stroke="#e2262a" stroke-width="1.9"/>
<text x="70.5" y="648.6" font-size="11" text-anchor="start" fill="#111" font-weight="normal" font-style="normal" >Type V</text>
<rect x="49.8" y="653.4" width="13.6" height="8.8" fill="none" stroke="#e2559e" stroke-width="1.9"/>
<text x="70.5" y="661.8" font-size="11" text-anchor="start" fill="#111" font-weight="normal" font-style="normal" >Type VII</text>
<rect x="120.2" y="613.9" width="13.6" height="8.8" fill="none" stroke="#b4b4b4" stroke-width="1.9"/>
<text x="140.3" y="622.3" font-size="11" text-anchor="start" fill="#111" font-weight="normal" font-style="normal" >Type II</text>
<rect x="120.2" y="627" width="13.6" height="8.8" fill="none" stroke="#ef7b32" stroke-width="1.9"/>
<text x="140.3" y="635.4" font-size="11" text-anchor="start" fill="#111" font-weight="normal" font-style="normal" >Type IV</text>
<rect x="120.2" y="640.2" width="13.6" height="8.8" fill="none" stroke="#8dc43f" stroke-width="1.9"/>
<text x="140.3" y="648.6" font-size="11" text-anchor="start" fill="#111" font-weight="normal" font-style="normal" >Type VI</text>
<rect x="120.2" y="653.4" width="13.6" height="8.8" fill="none" stroke="#5cc0d8" stroke-width="1.9"/>
<text x="140.3" y="661.8" font-size="11" text-anchor="start" fill="#111" font-weight="normal" font-style="normal" >W vacancy</text>
<rect x="45.9" y="745.2" width="6.1" height="4.1" fill="none" stroke="#7d9dca" stroke-width="2.1"/>
<text x="49" y="742.2" font-size="12" text-anchor="middle" fill="#111" font-weight="normal" font-style="normal" >11</text>
<rect x="52" y="747.3" width="7.9" height="2" fill="#f6b92e"/>
<text x="56.3" y="746.8" font-size="12" text-anchor="middle" fill="#111" font-weight="normal" font-style="normal" >1</text>
<rect x="102.2" y="731.6" width="6.1" height="17.7" fill="none" stroke="#7d9dca" stroke-width="2.1"/>
<text x="105.2" y="728.6" font-size="12" text-anchor="middle" fill="#111" font-weight="normal" font-style="normal" >40</text>
<rect x="108.3" y="747.3" width="7.9" height="2" fill="#f6b92e"/>
<text x="112.6" y="745.9" font-size="12" text-anchor="middle" fill="#111" font-weight="normal" font-style="normal" >3</text>
<line x1="101.3" y1="749.3" x2="101.3" y2="755" stroke="#666" stroke-width="0.8"/>
<rect x="158.5" y="682.2" width="6.1" height="67.1" fill="none" stroke="#7d9dca" stroke-width="2.1"/>
<text x="161.5" y="679.2" font-size="12" text-anchor="middle" fill="#111" font-weight="normal" font-style="normal" >146</text>
<rect x="165.5" y="740" width="6.1" height="9.3" fill="none" stroke="#f6b92e" stroke-width="2.1"/>
<text x="170.6" y="737" font-size="12" text-anchor="middle" fill="#111" font-weight="normal" font-style="normal" >22</text>
<rect x="171.6" y="747.3" width="7.9" height="2" fill="#ef7b32"/>
<text x="175.9" y="746.8" font-size="12" text-anchor="middle" fill="#111" font-weight="normal" font-style="normal" >1</text>
<line x1="157.6" y1="749.3" x2="157.6" y2="755" stroke="#666" stroke-width="0.8"/>
<rect x="214.7" y="638.3" width="6.1" height="111" fill="none" stroke="#7d9dca" stroke-width="2.1"/>
<text x="217.8" y="635.3" font-size="12" text-anchor="middle" fill="#111" font-weight="normal" font-style="normal" >240</text>
<rect x="221.8" y="697.1" width="6.1" height="52.2" fill="none" stroke="#f6b92e" stroke-width="2.1"/>
<text x="228.3" y="694.1" font-size="12" text-anchor="middle" fill="#111" font-weight="normal" font-style="normal" >114</text>
<rect x="228.8" y="737.2" width="6.1" height="12.1" fill="none" stroke="#ef7b32" stroke-width="2.1"/>
<text x="233.4" y="734.2" font-size="12" text-anchor="middle" fill="#111" font-weight="normal" font-style="normal" >28</text>
<rect x="234.9" y="747.3" width="7.9" height="2" fill="#e2262a"/>
<text x="239.2" y="746.4" font-size="12" text-anchor="middle" fill="#111" font-weight="normal" font-style="normal" >2</text>
<rect x="242.9" y="748" width="6.1" height="1.3" fill="none" stroke="#8dc43f" stroke-width="2.1"/>
<text x="246.2" y="745" font-size="12" text-anchor="middle" fill="#111" font-weight="normal" font-style="normal" >5</text>
<rect x="249" y="747.3" width="7.9" height="2" fill="#e2559e"/>
<text x="253.3" y="746.8" font-size="12" text-anchor="middle" fill="#111" font-weight="normal" font-style="normal" >1</text>
<rect x="256.9" y="748" width="6.1" height="1.3" fill="none" stroke="#b4b4b4" stroke-width="2.1"/>
<text x="260.3" y="745" font-size="12" text-anchor="middle" fill="#111" font-weight="normal" font-style="normal" >5</text>
<rect x="263.1" y="747.3" width="7.9" height="2" fill="#5cc0d8"/>
<text x="267.3" y="745.4" font-size="12" text-anchor="middle" fill="#111" font-weight="normal" font-style="normal" >4</text>
<line x1="213.8" y1="749.3" x2="213.8" y2="755" stroke="#666" stroke-width="0.8"/>
<line x1="45" y1="749.3" x2="270.1" y2="749.3" stroke="#666" stroke-width="1"/>
<line x1="270.1" y1="749.3" x2="270.1" y2="755" stroke="#666" stroke-width="0.8"/>
<text x="73.4" y="765" font-size="12" text-anchor="middle" fill="#111"><tspan font-family="Liberation Serif" font-style="italic" font-size="12.5">t</tspan>=300 s</text>
<text x="129.7" y="765" font-size="12" text-anchor="middle" fill="#111"><tspan font-family="Liberation Serif" font-style="italic" font-size="12.5">t</tspan>=600 s</text>
<text x="186" y="765" font-size="12" text-anchor="middle" fill="#111"><tspan font-family="Liberation Serif" font-style="italic" font-size="12.5">t</tspan>=900 s</text>
<text x="242.3" y="765" font-size="12" text-anchor="middle" fill="#111"><tspan font-family="Liberation Serif" font-style="italic" font-size="12.5">t</tspan>=1200 s</text>
<text x="280" y="603.3" font-size="12" text-anchor="start" fill="#111" font-weight="bold" font-style="normal" >f</text>
<defs><radialGradient id="sb" cx="0.38" cy="0.35" r="0.7"><stop offset="0" stop-color="#dce6f6"/><stop offset="0.35" stop-color="#8ea6d2"/><stop offset="0.85" stop-color="#4e6aa6"/><stop offset="1" stop-color="#3c5690"/></radialGradient><radialGradient id="sy" cx="0.38" cy="0.35" r="0.7"><stop offset="0" stop-color="#fff4b0"/><stop offset="0.35" stop-color="#f2c23a"/><stop offset="0.85" stop-color="#c28a12"/><stop offset="1" stop-color="#9a6a08"/></radialGradient><linearGradient id="sp" x1="0" y1="0" x2="0" y2="1"><stop offset="0" stop-color="#f4a69a"/><stop offset="0.45" stop-color="#ee9aa8"/><stop offset="0.62" stop-color="#e486b8"/><stop offset="0.75" stop-color="#8cc8a0"/><stop offset="1" stop-color="#4fb0c0"/></linearGradient><radialGradient id="sh" cx="0.38" cy="0.35" r="0.7"><stop offset="0" stop-color="#fff" stop-opacity="0.6"/><stop offset="0.5" stop-color="#fff" stop-opacity="0"/><stop offset="1" stop-color="#000" stop-opacity="0.15"/></radialGradient></defs>
<rect x="310.7" y="610.2" width="134.8" height="132.2" fill="#fff" stroke="#8a8a8a" stroke-width="1"/>
<line x1="307.7" y1="629.4" x2="310.7" y2="629.4" stroke="#555" stroke-width="0.8"/>
<text x="306.8" y="633.6" font-size="12" text-anchor="end" fill="#111" font-weight="normal" font-style="normal" >200</text>
<line x1="307.7" y1="661.5" x2="310.7" y2="661.5" stroke="#555" stroke-width="0.8"/>
<text x="306.8" y="665.7" font-size="12" text-anchor="end" fill="#111" font-weight="normal" font-style="normal" >100</text>
<line x1="307.7" y1="691.2" x2="310.7" y2="691.2" stroke="#555" stroke-width="0.8"/>
<text x="306.8" y="695.4" font-size="12" text-anchor="end" fill="#111" font-weight="normal" font-style="normal" >40</text>
<line x1="307.7" y1="716.1" x2="310.7" y2="716.1" stroke="#555" stroke-width="0.8"/>
<text x="306.8" y="720.4" font-size="12" text-anchor="end" fill="#111" font-weight="normal" font-style="normal" >20</text>
<line x1="307.7" y1="741.1" x2="310.7" y2="741.1" stroke="#555" stroke-width="0.8"/>
<text x="306.8" y="745.3" font-size="12" text-anchor="end" fill="#111" font-weight="normal" font-style="normal" >0</text>
<line x1="307.5" y1="678" x2="310.7" y2="678" stroke="#333" stroke-width="1.2"/>
<line x1="323.3" y1="742.4" x2="323.3" y2="745.8" stroke="#555" stroke-width="0.8"/>
<text x="323.3" y="758" font-size="12" text-anchor="middle" fill="#111" font-weight="normal" font-style="normal" >300</text>
<line x1="360.1" y1="742.4" x2="360.1" y2="745.8" stroke="#555" stroke-width="0.8"/>
<text x="360.1" y="758" font-size="12" text-anchor="middle" fill="#111" font-weight="normal" font-style="normal" >600</text>
<line x1="396.9" y1="742.4" x2="396.9" y2="745.8" stroke="#555" stroke-width="0.8"/>
<text x="396.9" y="758" font-size="12" text-anchor="middle" fill="#111" font-weight="normal" font-style="normal" >900</text>
<line x1="433.4" y1="742.4" x2="433.4" y2="745.8" stroke="#555" stroke-width="0.8"/>
<text x="433.4" y="758" font-size="12" text-anchor="middle" fill="#111" font-weight="normal" font-style="normal" >1200</text>
<text x="378.1" y="769.6" font-size="12.4" text-anchor="middle" fill="#111" font-weight="normal" font-style="normal" >Time (s)</text>
<text transform="translate(285.4,678.7) rotate(-90)" font-size="12.4" text-anchor="middle" fill="#111">Defect count</text>
<circle cx="323.3" cy="727.4" r="4.4" fill="url(#sb)"/>
<circle cx="360.1" cy="691.2" r="4.4" fill="url(#sb)"/>
<circle cx="396.9" cy="646.7" r="4.4" fill="url(#sb)"/>
<circle cx="433.4" cy="616.6" r="4.4" fill="url(#sb)"/>
<circle cx="323.3" cy="739.9" r="4.4" fill="url(#sy)"/>
<circle cx="360.1" cy="737.4" r="4.4" fill="url(#sy)"/>
<circle cx="396.9" cy="713.7" r="4.4" fill="url(#sy)"/>
<circle cx="433.4" cy="657" r="4.4" fill="url(#sy)"/>
<circle cx="396.9" cy="739.9" r="4.4" fill="url(#sp)"/><circle cx="396.9" cy="739.9" r="4.4" fill="url(#sh)"/>
<circle cx="433.4" cy="685" r="4.4" fill="url(#sp)"/><circle cx="433.4" cy="685" r="4.4" fill="url(#sh)"/>
<circle cx="318.5" cy="617.2" r="4.5" fill="url(#sb)"/>
<circle cx="318.5" cy="636.3" r="4.5" fill="url(#sy)"/>
<circle cx="318.5" cy="657.7" r="4.5" fill="url(#sp)"/><circle cx="318.5" cy="657.7" r="4.5" fill="url(#sh)"/>
<text x="327.5" y="622.6" font-size="12" font-family="Liberation Serif" fill="#222">I</text>
<text x="325" y="641" font-size="12" font-family="Liberation Serif" fill="#222" letter-spacing="-1">III</text>
<text x="325" y="658.2" font-size="11.5" fill="#222"><tspan font-family="Liberation Serif" font-size="12" letter-spacing="-1">II</tspan>; <tspan font-family="Liberation Serif" font-size="12" letter-spacing="-1">IV</tspan>-<tspan font-family="Liberation Serif" font-size="12" letter-spacing="-1">VII</tspan>;</text>
<text x="324.7" y="671.1" font-size="11.3" text-anchor="start" fill="#222" font-weight="normal" font-style="normal" >W Vacancy</text>
<text x="457.5" y="605.4" font-size="12" text-anchor="start" fill="#111" font-weight="bold" font-style="normal" >g</text>
<rect x="498.7" y="609.4" width="42.5" height="13.7" fill="#f5dc3a"/>
<rect x="540.9" y="609.4" width="15.2" height="13.7" fill="#2fa88a"/>
<rect x="555.8" y="609.4" width="84.2" height="13.7" fill="#48bb7f"/>
<rect x="498.7" y="622.8" width="42.5" height="14.7" fill="#2a7f8e"/>
<rect x="540.9" y="622.8" width="15.2" height="14.7" fill="#2f6c8e"/>
<rect x="555.8" y="622.8" width="84.2" height="14.7" fill="#2e758e"/>
<rect x="498.7" y="637.2" width="42.5" height="28.1" fill="#335f8d"/>
<rect x="540.9" y="637.2" width="15.2" height="28.1" fill="#3e4d8a"/>
<rect x="555.8" y="637.2" width="84.2" height="28.1" fill="#3b5389"/>
<rect x="498.7" y="665" width="42.5" height="25.3" fill="#45306f"/>
<rect x="540.9" y="665" width="15.2" height="25.3" fill="#412968"/>
<rect x="555.8" y="665" width="84.2" height="25.3" fill="#432b6b"/>
<rect x="498.7" y="690" width="42.5" height="26.3" fill="#452f6e"/>
<rect x="540.9" y="690" width="15.2" height="26.3" fill="#402767"/>
<rect x="555.8" y="690" width="84.2" height="26.3" fill="#432b6b"/>
<rect x="498.7" y="716" width="42.5" height="27" fill="#452f6e"/>
<rect x="540.9" y="716" width="15.2" height="27" fill="#3f2664"/>
<rect x="555.8" y="716" width="84.2" height="27" fill="#432b6b"/>
<rect x="498.7" y="609.4" width="141" height="133.3" fill="none" stroke="#333" stroke-width="0.6"/>
<line x1="495.5" y1="616.9" x2="498.7" y2="616.9" stroke="#333" stroke-width="0.8"/>
<text x="493.5" y="621.1" font-size="12" text-anchor="end" fill="#111" font-weight="normal" font-style="normal" >0.39</text>
<line x1="495.5" y1="642.1" x2="498.7" y2="642.1" stroke="#333" stroke-width="0.8"/>
<text x="493.5" y="646.3" font-size="12" text-anchor="end" fill="#111" font-weight="normal" font-style="normal" >0.31</text>
<line x1="495.5" y1="667.2" x2="498.7" y2="667.2" stroke="#333" stroke-width="0.8"/>
<text x="493.5" y="671.4" font-size="12" text-anchor="end" fill="#111" font-weight="normal" font-style="normal" >0.23</text>
<line x1="495.5" y1="692.4" x2="498.7" y2="692.4" stroke="#333" stroke-width="0.8"/>
<text x="493.5" y="696.6" font-size="12" text-anchor="end" fill="#111" font-weight="normal" font-style="normal" >0.16</text>
<line x1="495.5" y1="717.5" x2="498.7" y2="717.5" stroke="#333" stroke-width="0.8"/>
<text x="493.5" y="721.7" font-size="12" text-anchor="end" fill="#111" font-weight="normal" font-style="normal" >0.08</text>
<line x1="495.5" y1="742.7" x2="498.7" y2="742.7" stroke="#333" stroke-width="0.8"/>
<text x="493.5" y="746.9" font-size="12" text-anchor="end" fill="#111" font-weight="normal" font-style="normal" >0.0</text>
<line x1="505.4" y1="742.7" x2="505.4" y2="746.2" stroke="#333" stroke-width="0.8"/>
<text x="504.4" y="758" font-size="12" text-anchor="middle" fill="#111" textLength="21" lengthAdjust="spacingAndGlyphs">0.12</text>
<line x1="530.8" y1="742.7" x2="530.8" y2="746.2" stroke="#333" stroke-width="0.8"/>
<text x="529.4" y="758" font-size="12" text-anchor="middle" fill="#111" textLength="21" lengthAdjust="spacingAndGlyphs">0.18</text>
<line x1="556.1" y1="742.7" x2="556.1" y2="746.2" stroke="#333" stroke-width="0.8"/>
<text x="554.4" y="758" font-size="12" text-anchor="middle" fill="#111" textLength="21" lengthAdjust="spacingAndGlyphs">0.24</text>
<line x1="581.5" y1="742.7" x2="581.5" y2="746.2" stroke="#333" stroke-width="0.8"/>
<text x="579.4" y="758" font-size="12" text-anchor="middle" fill="#111" textLength="15.5" lengthAdjust="spacingAndGlyphs">0.3</text>
<line x1="606.8" y1="742.7" x2="606.8" y2="746.2" stroke="#333" stroke-width="0.8"/>
<text x="604.4" y="758" font-size="12" text-anchor="middle" fill="#111" textLength="21" lengthAdjust="spacingAndGlyphs">0.37</text>
<line x1="632.2" y1="742.7" x2="632.2" y2="746.2" stroke="#333" stroke-width="0.8"/>
<text x="629.4" y="758" font-size="12" text-anchor="middle" fill="#111" textLength="21" lengthAdjust="spacingAndGlyphs">0.43</text>
<text x="571.8" y="772.5" font-size="12" text-anchor="middle" fill="#111">Type <tspan font-family="Liberation Serif">I</tspan> defects (nm<tspan font-size="8" dy="-4.5">-2</tspan><tspan dy="4.5">)</tspan></text>
<text transform="translate(465.5,678) rotate(-90)" font-size="11.2" text-anchor="middle" fill="#111">Type <tspan font-family="Liberation Serif" letter-spacing="-0.8">III</tspan> defects (nm<tspan font-size="8" dy="-4.5">-2</tspan><tspan dy="4.5">)</tspan></text>
<defs><linearGradient id="gv" x1="0" y1="1" x2="0" y2="0"><stop offset="0" stop-color="#440154"/><stop offset="0.1" stop-color="#482475"/><stop offset="0.2" stop-color="#414487"/><stop offset="0.3" stop-color="#355f8d"/><stop offset="0.4" stop-color="#2a788e"/><stop offset="0.5" stop-color="#21918c"/><stop offset="0.6" stop-color="#22a884"/><stop offset="0.7" stop-color="#44bf70"/><stop offset="0.8" stop-color="#7ad151"/><stop offset="0.9" stop-color="#bddf26"/><stop offset="1" stop-color="#fde725"/></linearGradient></defs>
<rect x="648.3" y="609.4" width="6.7" height="133.3" fill="url(#gv)" stroke="#333" stroke-width="0.6"/>
<line x1="655" y1="643.2" x2="657.5" y2="643.2" stroke="#333" stroke-width="0.8"/>
<text x="659.3" y="647.4" font-size="12" text-anchor="start" fill="#111" font-weight="normal" font-style="normal" >3</text>
<line x1="655" y1="687.8" x2="657.5" y2="687.8" stroke="#333" stroke-width="0.8"/>
<text x="659.3" y="692" font-size="12" text-anchor="start" fill="#111" font-weight="normal" font-style="normal" >2</text>
<line x1="655" y1="731.7" x2="657.5" y2="731.7" stroke="#333" stroke-width="0.8"/>
<text x="659.3" y="735.9" font-size="12" text-anchor="start" fill="#111" font-weight="normal" font-style="normal" >1</text>
<text transform="translate(672.3,670.5) rotate(90)" font-size="12.5" text-anchor="middle" fill="#111">I(<tspan font-style="italic">X</tspan><tspan font-size="8.5" dy="3">L</tspan><tspan dy="-3">)/I(</tspan><tspan font-style="italic">A</tspan><tspan font-size="8.5" dy="-4.5">0</tspan><tspan dy="4.5">)</tspan></text>
</svg></body></html>
